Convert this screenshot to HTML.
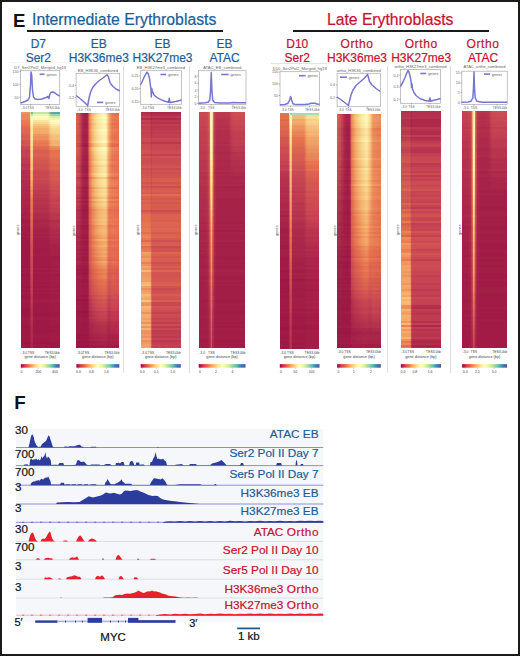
<!DOCTYPE html>
<html><head><meta charset="utf-8"><style>
html,body{margin:0;padding:0;background:#fff;overflow:hidden}
#root{position:relative;width:520px;height:656px;overflow:hidden;background:#fff;font-family:"Liberation Sans", sans-serif}
</style></head><body><div id="root">
<div style="position:absolute;top:11.76px;font-size:18.6px;line-height:18.6px;color:#111;font-weight:700;white-space:nowrap;left:13.10px;">E</div>
<div style="position:absolute;top:12.23px;font-size:15.8px;line-height:15.8px;color:#1b5d98;font-weight:400;white-space:nowrap;-webkit-text-stroke:0.2px #1b5d98;left:32.00px;">Intermediate Erythroblasts</div>
<div style="position:absolute;left:27px;top:29.8px;width:196px;height:2px;background:#1a1a1a;"></div>
<div style="position:absolute;top:12.31px;font-size:15.7px;line-height:15.7px;color:#c5112f;font-weight:400;white-space:nowrap;-webkit-text-stroke:0.2px #c5112f;left:327.00px;">Late Erythroblasts</div>
<div style="position:absolute;left:292.5px;top:29.8px;width:196px;height:2px;background:#1a1a1a;"></div>
<div style="position:absolute;top:38.24px;font-size:12px;line-height:12px;color:#1b5d98;font-weight:400;white-space:nowrap;-webkit-text-stroke:0.2px #1b5d98;left:-61.70px;width:200px;text-align:center;">D7</div>
<div style="position:absolute;top:52.04px;font-size:12px;line-height:12px;color:#1b5d98;font-weight:400;white-space:nowrap;-webkit-text-stroke:0.2px #1b5d98;left:-61.70px;width:200px;text-align:center;">Ser2</div>
<div style="position:absolute;top:38.24px;font-size:12px;line-height:12px;color:#1b5d98;font-weight:400;white-space:nowrap;-webkit-text-stroke:0.2px #1b5d98;left:-1.20px;width:200px;text-align:center;">EB</div>
<div style="position:absolute;top:52.04px;font-size:12px;line-height:12px;color:#1b5d98;font-weight:400;white-space:nowrap;-webkit-text-stroke:0.2px #1b5d98;left:-1.20px;width:200px;text-align:center;">H3K36me3</div>
<div style="position:absolute;top:38.24px;font-size:12px;line-height:12px;color:#1b5d98;font-weight:400;white-space:nowrap;-webkit-text-stroke:0.2px #1b5d98;left:62.50px;width:200px;text-align:center;">EB</div>
<div style="position:absolute;top:52.04px;font-size:12px;line-height:12px;color:#1b5d98;font-weight:400;white-space:nowrap;-webkit-text-stroke:0.2px #1b5d98;left:62.50px;width:200px;text-align:center;">H3K27me3</div>
<div style="position:absolute;top:38.24px;font-size:12px;line-height:12px;color:#1b5d98;font-weight:400;white-space:nowrap;-webkit-text-stroke:0.2px #1b5d98;left:124.60px;width:200px;text-align:center;">EB</div>
<div style="position:absolute;top:52.04px;font-size:12px;line-height:12px;color:#1b5d98;font-weight:400;white-space:nowrap;-webkit-text-stroke:0.2px #1b5d98;left:124.60px;width:200px;text-align:center;">ATAC</div>
<div style="position:absolute;top:38.24px;font-size:12px;line-height:12px;color:#c5112f;font-weight:400;white-space:nowrap;-webkit-text-stroke:0.2px #c5112f;left:197.30px;width:200px;text-align:center;">D10</div>
<div style="position:absolute;top:52.04px;font-size:12px;line-height:12px;color:#c5112f;font-weight:400;white-space:nowrap;-webkit-text-stroke:0.2px #c5112f;left:197.30px;width:200px;text-align:center;">Ser2</div>
<div style="position:absolute;top:38.24px;font-size:12px;line-height:12px;color:#c5112f;font-weight:400;white-space:nowrap;letter-spacing:0.6px;-webkit-text-stroke:0.2px #c5112f;left:257.00px;width:200px;text-align:center;">Ortho</div>
<div style="position:absolute;top:52.04px;font-size:12px;line-height:12px;color:#c5112f;font-weight:400;white-space:nowrap;-webkit-text-stroke:0.2px #c5112f;left:257.00px;width:200px;text-align:center;">H3K36me3</div>
<div style="position:absolute;top:38.24px;font-size:12px;line-height:12px;color:#c5112f;font-weight:400;white-space:nowrap;letter-spacing:0.6px;-webkit-text-stroke:0.2px #c5112f;left:321.20px;width:200px;text-align:center;">Ortho</div>
<div style="position:absolute;top:52.04px;font-size:12px;line-height:12px;color:#c5112f;font-weight:400;white-space:nowrap;-webkit-text-stroke:0.2px #c5112f;left:321.20px;width:200px;text-align:center;">H3K27me3</div>
<div style="position:absolute;top:38.24px;font-size:12px;line-height:12px;color:#c5112f;font-weight:400;white-space:nowrap;letter-spacing:0.6px;-webkit-text-stroke:0.2px #c5112f;left:383.00px;width:200px;text-align:center;">Ortho</div>
<div style="position:absolute;top:52.04px;font-size:12px;line-height:12px;color:#c5112f;font-weight:400;white-space:nowrap;-webkit-text-stroke:0.2px #c5112f;left:383.00px;width:200px;text-align:center;">ATAC</div>
<div style="position:absolute;left:122.5px;top:65.5px;width:1px;height:307px;background:#dedede;"></div>
<div style="position:absolute;left:188.8px;top:65.5px;width:1px;height:307px;background:#dedede;"></div>
<div style="position:absolute;left:386.5px;top:65.5px;width:1px;height:307px;background:#dedede;"></div>
<div style="position:absolute;left:450.2px;top:65.5px;width:1px;height:307px;background:#dedede;"></div>
<div style="position:absolute;left:20.8px;top:111.5px;width:38.9px;height:236.8px;overflow:hidden">
<div style="height:2px;background:linear-gradient(90deg,#ee945f 0px,#ee945f 8.6px,#f4af6d 9px,#fae199 9.2px,#b9dea8 9.6px,#6dbba5 10.2px,#6dbba5 11.2px,#7bc3a6 11.6px,#a6d6a8 12px,#b9dea8 12.2px,#c6e4a6 12.6px,#c6e4a6 27px,#5eaca9 30px,#5aa8aa 33px,#5aa8aa 38.9px)"></div>
<div style="height:2px;background:linear-gradient(90deg,#eb8859 0px,#eb8859 8.6px,#ef9b63 9px,#f7c680 9.2px,#eff7b1 9.6px,#bfe1a7 10.2px,#bfe1a7 11.2px,#c8e5a6 11.6px,#ddefa4 12px,#e6f3a3 12.2px,#eef6ae 12.6px,#eef6ae 27px,#a1d4a8 30px,#9cd2a8 33px,#9cd2a8 38.9px)"></div>
<div style="height:2px;background:linear-gradient(90deg,#eb8859 0px,#eb8859 8.6px,#ee9761 9px,#f5ba77 9.2px,#fefcc4 9.6px,#eef7b0 10.2px,#eef7b0 11.2px,#f0f8b2 11.6px,#f7fbbc 12px,#fafcc1 12.2px,#fcfdc3 12.6px,#fcfdc3 27px,#dbeea4 30px,#d9eda4 33px,#d9eda4 38.9px)"></div>
<div style="height:2px;background:linear-gradient(90deg,#eb8859 0px,#eb8859 8.6px,#ee945f 9px,#f5b773 9.2px,#fdf5b9 9.6px,#f5faba 10.2px,#f5faba 11.2px,#f8fbbe 11.6px,#fefcc4 12px,#fdf9be 12.2px,#fdf5b9 12.6px,#fdf5b9 27px,#eef7b0 30px,#eef6ae 33px,#eef6ae 38.9px)"></div>
<div style="height:2px;background:linear-gradient(90deg,#e87c53 0px,#e87c53 8.6px,#eb8859 9px,#f2a869 9.2px,#fbe9a6 9.6px,#fefcc4 10.2px,#fefcc4 11.2px,#fdf9be 11.6px,#fcedac 12px,#fbe8a4 12.2px,#fae59e 12.6px,#fae59e 27px,#fdfdc5 30px,#fcfdc3 33px,#fcfdc3 38.9px)"></div>
<div style="height:2px;background:linear-gradient(90deg,#e87952 0px,#e87952 8.6px,#ea8558 9px,#f2a568 9.2px,#fbe6a0 9.6px,#fdf7bd 10.2px,#fdf7bd 11.2px,#fdf4b7 11.6px,#fbe6a0 12px,#f9de95 12.2px,#f9d78f 12.6px,#f9d78f 27px,#fdf5b9 30px,#fdf6bb 33px,#fdf6bb 38.9px)"></div>
<div style="height:2px;background:linear-gradient(90deg,#e7744f 0px,#e7744f 8.6px,#e97e54 9px,#f09e64 9.2px,#fae097 9.6px,#fcf2b3 10.2px,#fcf2b3 11.2px,#fbecaa 11.6px,#f9d890 12px,#f7cd87 12.2px,#f6c47f 12.6px,#f6c47f 27px,#fbe8a4 30px,#fbe9a6 33px,#fbe9a6 38.9px)"></div>
<div style="height:2px;background:linear-gradient(90deg,#e26d4e 0px,#e26d4e 8.6px,#e77750 9px,#ee945f 9.2px,#f9d78f 9.6px,#fbecaa 10.2px,#fbecaa 11.2px,#fbe6a0 11.6px,#f7cd87 12px,#f6c07c 12.2px,#f5b773 12.6px,#f5b773 27px,#f9de95 30px,#fae097 33px,#fae097 38.9px)"></div>
<div style="height:2px;background:linear-gradient(90deg,#df674f 0px,#df674f 8.6px,#e5704e 9px,#ec8d5c 9.2px,#f8d18a 9.6px,#fbe8a4 10.2px,#fbe8a4 11.2px,#fae29b 11.6px,#f7c680 12px,#f5b975 12.2px,#f3ac6c 12.6px,#f3ac6c 27px,#f8d58d 30px,#f9d78f 33px,#f9d78f 38.9px)"></div>
<div style="height:2px;background:linear-gradient(90deg,#df674f 0px,#df674f 8.6px,#e5704e 9px,#ed8f5d 9.2px,#f9d78f 9.6px,#fbecaa 10.2px,#fbecaa 11.2px,#fae59e 11.6px,#f7c882 12px,#f5b975 12.2px,#f3ac6c 12.6px,#f3ac6c 27px,#f8d58d 30px,#f8d58d 38.9px)"></div>
<div style="height:2px;background:linear-gradient(90deg,#dd664f 0px,#dd664f 8.6px,#e5704e 9px,#ec8d5c 9.2px,#f9d78f 9.6px,#fcedac 10.2px,#fcedac 11.2px,#fbe6a0 11.6px,#f7c680 12px,#f5b572 12.2px,#f2a869 12.6px,#f2a869 27px,#f8cf88 30px,#f8d18a 33px,#f8d18a 38.9px)"></div>
<div style="height:2px;background:linear-gradient(90deg,#d85e50 0px,#d85e50 8.6px,#df674f 9px,#ea8357 9.2px,#f7cd87 9.6px,#fbe7a2 10.2px,#fbe7a2 11.2px,#f9de95 11.6px,#f5ba77 12px,#f2a869 12.2px,#ee9761 12.6px,#ee9761 27px,#f6c27d 30px,#f6c47f 33px,#f6c47f 38.9px)"></div>
<div style="height:2px;background:linear-gradient(90deg,#d75d50 0px,#d75d50 8.6px,#dd664f 9px,#e98155 9.2px,#f7cb85 9.6px,#fbe7a2 10.2px,#fbe7a2 11.2px,#f9de95 11.6px,#f5b773 12px,#f0a066 12.2px,#ed8f5d 12.6px,#ed8f5d 27px,#f5bc78 30px,#f6be7a 33px,#f6be7a 38.9px)"></div>
<div style="height:2px;background:linear-gradient(90deg,#d85e50 0px,#d85e50 8.6px,#df674f 9px,#ea8357 9.2px,#f8d18a 9.6px,#fbecaa 10.2px,#fbecaa 11.2px,#fae29b 11.6px,#f5ba77 12px,#f1a367 12.2px,#ed8f5d 12.6px,#ed8f5d 27px,#f6be7a 30px,#f6c07c 33px,#f6c07c 38.9px)"></div>
<div style="height:2px;background:linear-gradient(90deg,#d35751 0px,#d35751 8.6px,#da6050 9px,#e87952 9.2px,#f7c680 9.6px,#fae39c 10.2px,#fae39c 11.2px,#f9d890 11.6px,#f3ac6c 12px,#ed925e 12.2px,#e98155 12.6px,#e98155 27px,#f4b16f 30px,#f4b370 33px,#f4b370 38.9px)"></div>
<div style="height:2px;background:linear-gradient(90deg,#d15451 0px,#d15451 8.6px,#d75d50 9px,#e7744f 9.2px,#f6c47f 9.6px,#fae29b 10.2px,#fae29b 11.2px,#f8d58d 11.6px,#f2a869 12px,#ec8a5a 12.2px,#e77750 12.6px,#e77750 27px,#f3ac6c 30px,#f4af6d 33px,#f4af6d 38.9px)"></div>
<div style="height:2px;background:linear-gradient(90deg,#d25651 0px,#d25651 8.6px,#da6050 9px,#e87c53 9.2px,#f7cd87 9.6px,#fbe9a6 10.2px,#fbe9a6 11.2px,#fae097 11.6px,#f3ac6c 12px,#ed8f5d 12.2px,#e87952 12.6px,#e87952 27px,#f4b16f 30px,#f4b370 33px,#f4b370 38.9px)"></div>
<div style="height:2px;background:linear-gradient(90deg,#ca4953 0px,#ca4953 8.6px,#d15451 9px,#e16b4f 9.2px,#f5ba77 9.6px,#f9dc94 10.2px,#f9dc94 11.2px,#f7cb85 11.6px,#ee9761 12px,#e87952 12.2px,#e0694f 12.6px,#e0694f 27px,#ec8d5c 30px,#ed8f5d 33px,#ed8f5d 38.9px)"></div>
<div style="height:2px;background:linear-gradient(90deg,#c84753 0px,#c84753 8.6px,#d05252 9px,#e16b4f 9.2px,#f6c07c 9.6px,#fae29b 10.2px,#fae29b 11.2px,#f8d38c 11.6px,#ef9b63 12px,#e87c53 12.2px,#df674f 12.6px,#df674f 27px,#ea8357 30px,#ea8357 38.9px)"></div>
<div style="height:2px;background:linear-gradient(90deg,#c13f51 0px,#c13f51 8.6px,#ca4953 9px,#db6250 9.2px,#f4b370 9.6px,#f8d58d 10.2px,#f8d58d 11.2px,#f6c47f 11.6px,#ec8a5a 12px,#e46e4e 12.2px,#d85e50 12.6px,#d85e50 27px,#e46e4e 30px,#e5704e 33px,#e5704e 38.9px)"></div>
<div style="height:2px;background:linear-gradient(90deg,#c34152 0px,#c34152 8.6px,#cb4b52 9px,#dc6450 9.2px,#f5b773 9.6px,#f9d890 10.2px,#f9d890 11.2px,#f7c882 11.6px,#ec8d5c 12px,#e46e4e 12.2px,#d85e50 12.6px,#d85e50 27px,#e5704e 30px,#e6724e 33px,#e6724e 38.9px)"></div>
<div style="height:2px;background:linear-gradient(90deg,#c54353 0px,#c54353 8.6px,#cc4d52 9px,#df674f 9.2px,#f5ba77 9.6px,#f9de95 10.2px,#f9de95 11.2px,#f7cd87 11.6px,#ed925e 12px,#e6724e 12.2px,#db6250 12.6px,#db6250 27px,#e7744f 30px,#e7744f 38.9px)"></div>
<div style="height:2px;background:linear-gradient(90deg,#c34152 0px,#c34152 8.6px,#cb4b52 9px,#dc6450 9.2px,#f5b773 9.6px,#f9da92 10.2px,#f9da92 11.2px,#f7c984 11.6px,#ec8d5c 12px,#e46e4e 12.2px,#d85e50 12.6px,#d85e50 27px,#e5704e 30px,#e6724e 33px,#e6724e 38.9px)"></div>
<div style="height:2px;background:linear-gradient(90deg,#bd3a50 0px,#bd3a50 8.6px,#c84753 9px,#d85e50 9.2px,#f3ac6c 9.6px,#f8cf88 10.2px,#f8cf88 11.2px,#f6be7a 11.6px,#ea8357 12px,#df674f 12.2px,#d55951 12.6px,#d55951 27px,#e0694f 30px,#e16b4f 33px,#e16b4f 38.9px)"></div>
<div style="height:2px;background:linear-gradient(90deg,#bd3a50 0px,#bd3a50 8.6px,#c74553 9px,#d75d50 9.2px,#f3aa6b 9.6px,#f7cd87 10.2px,#f7cd87 11.2px,#f5bc78 11.6px,#e98155 12px,#df674f 12.2px,#d35751 12.6px,#d35751 27px,#e0694f 30px,#e0694f 38.9px)"></div>
<div style="height:2px;background:linear-gradient(90deg,#bd3a50 0px,#bd3a50 8.6px,#c74553 9px,#d75d50 9.2px,#f3aa6b 9.6px,#f7cd87 10.2px,#f7cd87 11.2px,#f5bc78 11.6px,#e98155 12px,#dd664f 12.2px,#d25651 12.6px,#d25651 27px,#df674f 30px,#e0694f 33px,#e0694f 38.9px)"></div>
<div style="height:2px;background:linear-gradient(90deg,#b8354e 0px,#b8354e 8.6px,#c34152 9px,#d55951 9.2px,#f0a066 9.6px,#f6c47f 10.2px,#f6c47f 11.2px,#f5b572 11.6px,#e77750 12px,#da6050 12.2px,#d05252 12.6px,#d05252 27px,#db6250 30px,#dc6450 33px,#dc6450 38.9px)"></div>
<div style="height:2px;background:linear-gradient(90deg,#bb384f 0px,#bb384f 8.6px,#c54353 9px,#d65b51 9.2px,#f2a568 9.6px,#f7c984 10.2px,#f7c984 11.2px,#f5b975 11.6px,#e87c53 12px,#db6250 12.2px,#d15451 12.6px,#d15451 27px,#dc6450 30px,#dd664f 33px,#dd664f 38.9px)"></div>
<div style="height:2px;background:linear-gradient(90deg,#bb384f 0px,#bb384f 8.6px,#c74553 9px,#d75d50 9.2px,#f3aa6b 9.6px,#f7cd87 10.2px,#f7cd87 11.2px,#f5bc78 11.6px,#e97e54 12px,#dc6450 12.2px,#d15451 12.6px,#d15451 27px,#dd664f 30px,#df674f 33px,#df674f 38.9px)"></div>
<div style="height:2px;background:linear-gradient(90deg,#b4314d 0px,#b4314d 8.6px,#bf3c51 9px,#d15451 9.2px,#ee9761 9.6px,#f5ba77 10.2px,#f5ba77 11.2px,#f3aa6b 11.6px,#e46e4e 12px,#d65b51 12.2px,#cb4b52 12.6px,#cb4b52 27px,#d75d50 30px,#d75d50 38.9px)"></div>
<div style="height:2px;background:linear-gradient(90deg,#b22e4c 0px,#b22e4c 8.6px,#bb384f 9px,#cf5052 9.2px,#ed925e 9.6px,#f5b773 10.2px,#f5b773 11.2px,#f1a367 11.6px,#e16b4f 12px,#d35751 12.2px,#c84753 12.6px,#c84753 27px,#d55951 30px,#d55951 38.9px)"></div>
<div style="height:2px;background:linear-gradient(90deg,#b4314d 0px,#b4314d 8.6px,#bf3c51 9px,#d15451 9.2px,#ee9761 9.6px,#f5bc78 10.2px,#f5bc78 11.2px,#f3aa6b 11.6px,#e46e4e 12px,#d55951 12.2px,#ca4953 12.6px,#ca4953 27px,#d65b51 30px,#d75d50 33px,#d75d50 38.9px)"></div>
<div style="height:2px;background:linear-gradient(90deg,#b22e4c 0px,#b22e4c 8.6px,#bd3a50 9px,#d05252 9.2px,#ed925e 9.6px,#f5b773 10.2px,#f5b773 11.2px,#f2a568 11.6px,#e16b4f 12px,#d25651 12.2px,#c84753 12.6px,#c84753 27px,#d55951 30px,#d55951 38.9px)"></div>
<div style="height:2px;background:linear-gradient(90deg,#b4314d 0px,#b4314d 8.6px,#bf3c51 9px,#d15451 9.2px,#ee9761 9.6px,#f5ba77 10.2px,#f5ba77 11.2px,#f2a869 11.6px,#e26d4e 12px,#d55951 12.2px,#ca4953 12.6px,#ca4953 27px,#d65b51 30px,#d65b51 38.9px)"></div>
<div style="height:2px;background:linear-gradient(90deg,#b02c4c 0px,#b02c4c 8.6px,#bb384f 9px,#cd4e52 9.2px,#ec8a5a 9.6px,#f4af6d 10.2px,#f4af6d 11.2px,#ef9b63 11.6px,#df674f 12px,#d05252 12.2px,#c74553 12.6px,#c74553 27px,#d25651 30px,#d25651 38.9px)"></div>
<div style="height:2px;background:linear-gradient(90deg,#b02c4c 0px,#b02c4c 8.6px,#b8354e 9px,#cc4d52 9.2px,#ea8558 9.6px,#f3aa6b 10.2px,#f3aa6b 11.2px,#ee9761 11.6px,#dc6450 12px,#d05252 12.2px,#c54353 12.6px,#c54353 27px,#d15451 30px,#d15451 38.9px)"></div>
<div style="height:2px;background:linear-gradient(90deg,#b02c4c 0px,#b02c4c 8.6px,#b8354e 9px,#cb4b52 9.2px,#e98155 9.6px,#f2a568 10.2px,#f2a568 11.2px,#ed925e 11.6px,#db6250 12px,#cf5052 12.2px,#c34152 12.6px,#c34152 27px,#cf5052 30px,#d05252 33px,#d05252 38.9px)"></div>
<div style="height:2px;background:linear-gradient(90deg,#ae2a4b 0px,#ae2a4b 8.6px,#b6334e 9px,#ca4953 9.2px,#e87c53 9.6px,#ef9b63 10.2px,#ef9b63 11.2px,#ec8a5a 11.6px,#d85e50 12px,#cc4d52 12.2px,#c13f51 12.6px,#c13f51 27px,#cd4e52 30px,#cd4e52 38.9px)"></div>
<div style="height:2px;background:linear-gradient(90deg,#ae2a4b 0px,#ae2a4b 8.6px,#b8354e 9px,#cb4b52 9.2px,#e87c53 9.6px,#f09e64 10.2px,#f09e64 11.2px,#ec8d5c 11.6px,#da6050 12px,#cc4d52 12.2px,#c13f51 12.6px,#c13f51 27px,#cd4e52 30px,#cf5052 33px,#cf5052 38.9px)"></div>
<div style="height:2px;background:linear-gradient(90deg,#ac274a 0px,#ac274a 8.6px,#b4314d 9px,#c74553 9.2px,#e6724e 9.6px,#ed925e 10.2px,#ed925e 11.2px,#e98155 11.6px,#d55951 12px,#ca4953 12.2px,#bd3a50 12.6px,#bd3a50 27px,#ca4953 30px,#ca4953 38.9px)"></div>
<div style="height:2px;background:linear-gradient(90deg,#ae2a4b 0px,#ae2a4b 8.6px,#b6334e 9px,#ca4953 9.2px,#e77750 9.6px,#ee9761 10.2px,#ee9761 11.2px,#ea8558 11.6px,#d75d50 12px,#cb4b52 12.2px,#bf3c51 12.6px,#bf3c51 27px,#cb4b52 30px,#cc4d52 33px,#cc4d52 38.9px)"></div>
<div style="height:2px;background:linear-gradient(90deg,#ac274a 0px,#ac274a 8.6px,#b4314d 9px,#c74553 9.2px,#e5704e 9.6px,#ec8d5c 10.2px,#ec8d5c 11.2px,#e87c53 11.6px,#d35751 12px,#c84753 12.2px,#bb384f 12.6px,#bb384f 27px,#c84753 30px,#ca4953 33px,#ca4953 38.9px)"></div>
<div style="height:2px;background:linear-gradient(90deg,#ac274a 0px,#ac274a 8.6px,#b4314d 9px,#c54353 9.2px,#e46e4e 9.6px,#ec8a5a 10.2px,#ec8a5a 11.2px,#e87952 11.6px,#d25651 12px,#c74553 12.2px,#bb384f 12.6px,#bb384f 27px,#c84753 30px,#c84753 38.9px)"></div>
<div style="height:2px;background:linear-gradient(90deg,#a92549 0px,#a92549 8.6px,#b02c4c 9px,#c34152 9.2px,#e0694f 9.6px,#e98155 10.2px,#e98155 11.2px,#e6724e 11.6px,#d05252 12px,#c34152 12.2px,#b8354e 12.6px,#b8354e 27px,#c54353 30px,#c54353 38.9px)"></div>
<div style="height:2px;background:linear-gradient(90deg,#a92549 0px,#a92549 8.6px,#b02c4c 9px,#c13f51 9.2px,#dd664f 9.6px,#e87952 10.2px,#e87952 11.2px,#e46e4e 11.6px,#cd4e52 12px,#c13f51 12.2px,#b6334e 12.6px,#b6334e 27px,#c34152 30px,#c34152 38.9px)"></div>
<div style="height:2px;background:linear-gradient(90deg,#ac274a 0px,#ac274a 8.6px,#b22e4c 9px,#c54353 9.2px,#e0694f 9.6px,#ea8357 10.2px,#ea8357 11.2px,#e7744f 11.6px,#d15451 12px,#c54353 12.2px,#b8354e 12.6px,#b8354e 27px,#c54353 30px,#c74553 33px,#c74553 38.9px)"></div>
<div style="height:2px;background:linear-gradient(90deg,#a92549 0px,#a92549 8.6px,#b02c4c 9px,#c13f51 9.2px,#dd664f 9.6px,#e87c53 10.2px,#e87c53 11.2px,#e46e4e 11.6px,#cf5052 12px,#c13f51 12.2px,#b6334e 12.6px,#b6334e 27px,#c13f51 30px,#c34152 33px,#c34152 38.9px)"></div>
<div style="height:2px;background:linear-gradient(90deg,#a92549 0px,#a92549 8.6px,#b02c4c 9px,#c13f51 9.2px,#dd664f 9.6px,#e87c53 10.2px,#e87c53 11.2px,#e46e4e 11.6px,#cf5052 12px,#c34152 12.2px,#b6334e 12.6px,#b6334e 27px,#c13f51 30px,#c34152 33px,#c34152 38.9px)"></div>
<div style="height:2px;background:linear-gradient(90deg,#a72249 0px,#a72249 8.6px,#ae2a4b 9px,#bf3c51 9.2px,#db6250 9.6px,#e7744f 10.2px,#e7744f 11.2px,#e16b4f 11.6px,#cc4d52 12px,#bf3c51 12.2px,#b22e4c 12.6px,#b22e4c 27px,#bf3c51 30px,#bf3c51 38.9px)"></div>
<div style="height:2px;background:linear-gradient(90deg,#a92549 0px,#a92549 8.6px,#b22e4c 9px,#c13f51 9.2px,#dd664f 9.6px,#e87c53 10.2px,#e87c53 11.2px,#e46e4e 11.6px,#cf5052 12px,#c34152 12.2px,#b6334e 12.6px,#b6334e 27px,#c13f51 30px,#c13f51 38.9px)"></div>
<div style="height:2px;background:linear-gradient(90deg,#a72249 0px,#a72249 8.6px,#ae2a4b 9px,#bd3a50 9.2px,#da6050 9.6px,#e6724e 10.2px,#e6724e 11.2px,#df674f 11.6px,#cb4b52 12px,#bd3a50 12.2px,#b22e4c 12.6px,#b22e4c 27px,#bd3a50 30px,#bd3a50 38.9px)"></div>
<div style="height:2px;background:linear-gradient(90deg,#a52048 0px,#a52048 8.6px,#ac274a 9px,#bb384f 9.2px,#d65b51 9.6px,#e26d4e 10.2px,#e26d4e 11.2px,#dc6450 11.6px,#c84753 12px,#b8354e 12.2px,#ae2a4b 12.6px,#ae2a4b 27px,#b8354e 30px,#b8354e 38.9px)"></div>
<div style="height:2px;background:linear-gradient(90deg,#a72249 0px,#a72249 8.6px,#ac274a 9px,#bd3a50 9.2px,#d85e50 9.6px,#e5704e 10.2px,#e5704e 11.2px,#dd664f 11.6px,#ca4953 12px,#bb384f 12.2px,#b02c4c 12.6px,#b02c4c 27px,#bb384f 30px,#bb384f 38.9px)"></div>
<div style="height:2px;background:linear-gradient(90deg,#a52048 0px,#a52048 8.6px,#ac274a 9px,#bb384f 9.2px,#d75d50 9.6px,#e26d4e 10.2px,#e26d4e 11.2px,#dc6450 11.6px,#c84753 12px,#b8354e 12.2px,#ae2a4b 12.6px,#ae2a4b 27px,#b8354e 30px,#b8354e 38.9px)"></div>
<div style="height:2px;background:linear-gradient(90deg,#a11b46 0px,#a11b46 8.6px,#a72249 9px,#b4314d 9.2px,#d25651 9.6px,#dd664f 10.2px,#dd664f 11.2px,#d75d50 11.6px,#c34152 12px,#b4314d 12.2px,#a92549 12.6px,#a92549 27px,#b22e4c 30px,#b22e4c 38.9px)"></div>
<div style="height:2px;background:linear-gradient(90deg,#a31e47 0px,#a31e47 8.6px,#a92549 9px,#b8354e 9.2px,#d35751 9.6px,#e0694f 10.2px,#e0694f 11.2px,#d85e50 11.6px,#c54353 12px,#b6334e 12.2px,#ac274a 12.6px,#ac274a 27px,#b4314d 30px,#b4314d 38.9px)"></div>
<div style="height:2px;background:linear-gradient(90deg,#a52048 0px,#a52048 8.6px,#a92549 9px,#b8354e 9.2px,#d55951 9.6px,#e0694f 10.2px,#e0694f 11.2px,#da6050 11.6px,#c54353 12px,#b6334e 12.2px,#ac274a 12.6px,#ac274a 27px,#b4314d 30px,#b4314d 38.9px)"></div>
<div style="height:2px;background:linear-gradient(90deg,#a31e47 0px,#a31e47 8.6px,#a92549 9px,#b8354e 9.2px,#d35751 9.6px,#df674f 10.2px,#df674f 11.2px,#d85e50 11.6px,#c54353 12px,#b4314d 12.2px,#a92549 12.6px,#a92549 27px,#b22e4c 30px,#b4314d 33px,#b4314d 38.9px)"></div>
<div style="height:2px;background:linear-gradient(90deg,#a11b46 0px,#a11b46 8.6px,#a72249 9px,#b4314d 9.2px,#d15451 9.6px,#dc6450 10.2px,#dc6450 11.2px,#d65b51 11.6px,#c13f51 12px,#b22e4c 12.2px,#a72249 12.6px,#a72249 27px,#b02c4c 30px,#b02c4c 38.9px)"></div>
<div style="height:2px;background:linear-gradient(90deg,#a11b46 0px,#a11b46 8.6px,#a52048 9px,#b22e4c 9.2px,#cf5052 9.6px,#da6050 10.2px,#da6050 11.2px,#d35751 11.6px,#bf3c51 12px,#b02c4c 12.2px,#a52048 12.6px,#a52048 27px,#ae2a4b 30px,#ae2a4b 38.9px)"></div>
<div style="height:2px;background:linear-gradient(90deg,#a31e47 0px,#a31e47 8.6px,#a72249 9px,#b4314d 9.2px,#d05252 9.6px,#db6250 10.2px,#db6250 11.2px,#d55951 11.6px,#c13f51 12px,#b22e4c 12.2px,#a72249 12.6px,#a72249 27px,#ae2a4b 30px,#b02c4c 33px,#b02c4c 38.9px)"></div>
<div style="height:2px;background:linear-gradient(90deg,#a11b46 0px,#a11b46 8.6px,#a52048 9px,#b22e4c 9.2px,#cd4e52 9.6px,#d75d50 10.2px,#d75d50 11.2px,#d15451 11.6px,#bd3a50 12px,#ae2a4b 12.2px,#a52048 12.6px,#a52048 27px,#ac274a 30px,#ac274a 38.9px)"></div>
<div style="height:2px;background:linear-gradient(90deg,#a31e47 0px,#a31e47 8.6px,#a72249 9px,#b4314d 9.2px,#d05252 9.6px,#da6050 10.2px,#da6050 11.2px,#d35751 11.6px,#bf3c51 12px,#b22e4c 12.2px,#a72249 12.6px,#a72249 27px,#ae2a4b 30px,#ae2a4b 38.9px)"></div>
<div style="height:2px;background:linear-gradient(90deg,#a11b46 0px,#a11b46 8.6px,#a52048 9px,#b22e4c 9.2px,#cc4d52 9.6px,#d65b51 10.2px,#d65b51 11.2px,#d15451 11.6px,#bb384f 12px,#ae2a4b 12.2px,#a52048 12.6px,#a52048 27px,#ac274a 30px,#ac274a 38.9px)"></div>
<div style="height:2px;background:linear-gradient(90deg,#9f1946 0px,#9f1946 8.6px,#a52048 9px,#b02c4c 9.2px,#cb4b52 9.6px,#d55951 10.2px,#d55951 11.2px,#cf5052 11.6px,#bb384f 12px,#ac274a 12.2px,#a31e47 12.6px,#a31e47 27px,#a92549 30px,#a92549 38.9px)"></div>
<div style="height:2px;background:linear-gradient(90deg,#9f1946 0px,#9f1946 8.6px,#a52048 9px,#b02c4c 9.2px,#cb4b52 9.6px,#d35751 10.2px,#d35751 11.2px,#cf5052 11.6px,#b8354e 12px,#ac274a 12.2px,#a31e47 12.6px,#a31e47 27px,#a92549 30px,#a92549 38.9px)"></div>
<div style="height:2px;background:linear-gradient(90deg,#9f1946 0px,#9f1946 8.6px,#a31e47 9px,#ae2a4b 9.2px,#ca4953 9.6px,#d25651 10.2px,#d25651 11.2px,#cd4e52 11.6px,#b8354e 12px,#ac274a 12.2px,#a31e47 12.6px,#a31e47 27px,#a72249 30px,#a72249 38.9px)"></div>
<div style="height:2px;background:linear-gradient(90deg,#9f1946 0px,#9f1946 8.6px,#a31e47 9px,#ae2a4b 9.2px,#c84753 9.6px,#d15451 10.2px,#d15451 11.2px,#cc4d52 11.6px,#b6334e 12px,#ac274a 12.2px,#a31e47 12.6px,#a31e47 27px,#a72249 30px,#a72249 38.9px)"></div>
<div style="height:2px;background:linear-gradient(90deg,#9f1946 0px,#9f1946 8.6px,#a31e47 9px,#ae2a4b 9.2px,#c84753 9.6px,#d05252 10.2px,#d05252 11.2px,#cb4b52 11.6px,#b6334e 12px,#a92549 12.2px,#a11b46 12.6px,#a11b46 27px,#a52048 30px,#a52048 38.9px)"></div>
<div style="height:2px;background:linear-gradient(90deg,#9f1946 0px,#9f1946 8.6px,#a31e47 9px,#ae2a4b 9.2px,#c74553 9.6px,#d05252 10.2px,#d05252 11.2px,#cb4b52 11.6px,#b6334e 12px,#a92549 12.2px,#a11b46 12.6px,#a11b46 27px,#a52048 30px,#a52048 38.9px)"></div>
<div style="height:2px;background:linear-gradient(90deg,#9f1946 0px,#9f1946 8.6px,#a31e47 9px,#ae2a4b 9.2px,#c74553 9.6px,#d05252 10.2px,#d05252 11.2px,#cb4b52 11.6px,#b6334e 12px,#a92549 12.2px,#a11b46 12.6px,#a11b46 27px,#a52048 30px,#a52048 38.9px)"></div>
<div style="height:2px;background:linear-gradient(90deg,#9f1946 0px,#9f1946 8.6px,#a31e47 9px,#ae2a4b 9.2px,#c74553 9.6px,#d05252 10.2px,#d05252 11.2px,#cb4b52 11.6px,#b6334e 12px,#a92549 12.2px,#a31e47 12.6px,#a31e47 27px,#a52048 30px,#a52048 38.9px)"></div>
<div style="height:2px;background:linear-gradient(90deg,#9f1946 0px,#9f1946 8.6px,#a11b46 9px,#ac274a 9.2px,#c34152 9.6px,#cc4d52 10.2px,#cc4d52 11.2px,#c84753 11.6px,#b22e4c 12px,#a72249 12.2px,#a11b46 12.6px,#a11b46 27px,#a31e47 30px,#a31e47 38.9px)"></div>
<div style="height:2px;background:linear-gradient(90deg,#9f1946 0px,#9f1946 8.6px,#a11b46 9px,#ac274a 9.2px,#c34152 9.6px,#cc4d52 10.2px,#cc4d52 11.2px,#c74553 11.6px,#b22e4c 12px,#a72249 12.2px,#a11b46 12.6px,#a11b46 27px,#a31e47 30px,#a31e47 38.9px)"></div>
<div style="height:2px;background:linear-gradient(90deg,#9f1946 0px,#9f1946 8.6px,#a31e47 9px,#ac274a 9.2px,#c34152 9.6px,#cc4d52 10.2px,#cc4d52 11.2px,#c84753 11.6px,#b22e4c 12px,#a72249 12.2px,#a11b46 12.6px,#a11b46 27px,#a31e47 30px,#a31e47 38.9px)"></div>
<div style="height:2px;background:linear-gradient(90deg,#9f1946 0px,#9f1946 8.6px,#a31e47 9px,#ac274a 9.2px,#c34152 9.6px,#cc4d52 10.2px,#cc4d52 11.2px,#c84753 11.6px,#b22e4c 12px,#a92549 12.2px,#a11b46 12.6px,#a11b46 27px,#a31e47 30px,#a52048 33px,#a52048 38.9px)"></div>
<div style="height:2px;background:linear-gradient(90deg,#9f1946 0px,#9f1946 8.6px,#a31e47 9px,#ac274a 9.2px,#c34152 9.6px,#cb4b52 10.2px,#cb4b52 11.2px,#c74553 11.6px,#b22e4c 12px,#a72249 12.2px,#a11b46 12.6px,#a11b46 27px,#a31e47 30px,#a52048 33px,#a52048 38.9px)"></div>
<div style="height:2px;background:linear-gradient(90deg,#9d1745 0px,#9d1745 8.6px,#a11b46 9px,#a72249 9.2px,#bf3c51 9.6px,#c84753 10.2px,#c84753 11.2px,#c34152 11.6px,#ae2a4b 12px,#a52048 12.2px,#9f1946 12.6px,#9f1946 27px,#a11b46 30px,#a11b46 38.9px)"></div>
<div style="height:2px;background:linear-gradient(90deg,#a11b46 0px,#a11b46 8.6px,#a52048 9px,#ae2a4b 9.2px,#c34152 9.6px,#cc4d52 10.2px,#cc4d52 11.2px,#c84753 11.6px,#b4314d 12px,#a92549 12.2px,#a31e47 12.6px,#a31e47 27px,#a52048 30px,#a52048 38.9px)"></div>
<div style="height:2px;background:linear-gradient(90deg,#9f1946 0px,#9f1946 8.6px,#a11b46 9px,#a92549 9.2px,#bf3c51 9.6px,#c84753 10.2px,#c84753 11.2px,#c34152 11.6px,#b02c4c 12px,#a52048 12.2px,#9f1946 12.6px,#9f1946 27px,#a31e47 30px,#a31e47 38.9px)"></div>
<div style="height:2px;background:linear-gradient(90deg,#a11b46 0px,#a11b46 8.6px,#a52048 9px,#ac274a 9.2px,#c34152 9.6px,#cb4b52 10.2px,#cb4b52 11.2px,#c74553 11.6px,#b22e4c 12px,#a92549 12.2px,#a31e47 12.6px,#a31e47 27px,#a52048 30px,#a52048 38.9px)"></div>
<div style="height:2px;background:linear-gradient(90deg,#9d1745 0px,#9d1745 8.6px,#a11b46 9px,#a72249 9.2px,#bd3a50 9.6px,#c74553 10.2px,#c74553 11.2px,#c13f51 11.6px,#ae2a4b 12px,#a52048 12.2px,#9f1946 12.6px,#9f1946 27px,#a11b46 30px,#a11b46 38.9px)"></div>
<div style="height:2px;background:linear-gradient(90deg,#9f1946 0px,#9f1946 8.6px,#a11b46 9px,#a72249 9.2px,#bd3a50 9.6px,#c54353 10.2px,#c54353 11.2px,#c13f51 11.6px,#ae2a4b 12px,#a52048 12.2px,#9f1946 12.6px,#9f1946 27px,#a31e47 30px,#a31e47 38.9px)"></div>
<div style="height:2px;background:linear-gradient(90deg,#9f1946 0px,#9f1946 8.6px,#a11b46 9px,#a92549 9.2px,#bd3a50 9.6px,#c74553 10.2px,#c74553 11.2px,#c13f51 11.6px,#ae2a4b 12px,#a52048 12.2px,#a11b46 12.6px,#a11b46 27px,#a31e47 30px,#a31e47 38.9px)"></div>
<div style="height:2px;background:linear-gradient(90deg,#9f1946 0px,#9f1946 8.6px,#a11b46 9px,#a92549 9.2px,#bb384f 9.6px,#c54353 10.2px,#c54353 11.2px,#bf3c51 11.6px,#ae2a4b 12px,#a52048 12.2px,#a11b46 12.6px,#a11b46 27px,#a31e47 30px,#a31e47 38.9px)"></div>
<div style="height:2px;background:linear-gradient(90deg,#9f1946 0px,#9f1946 8.6px,#a11b46 9px,#a72249 9.2px,#bb384f 9.6px,#c34152 10.2px,#c34152 11.2px,#bd3a50 11.6px,#ae2a4b 12px,#a52048 12.2px,#9f1946 12.6px,#9f1946 27px,#a11b46 30px,#a31e47 33px,#a31e47 38.9px)"></div>
<div style="height:2px;background:linear-gradient(90deg,#9f1946 0px,#9f1946 8.6px,#a31e47 9px,#a92549 9.2px,#bb384f 9.6px,#c54353 10.2px,#c54353 11.2px,#bf3c51 11.6px,#ae2a4b 12px,#a72249 12.2px,#a11b46 12.6px,#a11b46 27px,#a31e47 30px,#a31e47 38.9px)"></div>
<div style="height:2px;background:linear-gradient(90deg,#9d1745 0px,#9d1745 8.6px,#9f1946 9px,#a52048 9.2px,#b6334e 9.6px,#bf3c51 10.2px,#bf3c51 11.2px,#bb384f 11.6px,#a92549 12px,#a31e47 12.2px,#9f1946 12.6px,#9f1946 27px,#a11b46 30px,#a11b46 38.9px)"></div>
<div style="height:2px;background:linear-gradient(90deg,#a11b46 0px,#a11b46 8.6px,#a31e47 9px,#a92549 9.2px,#bb384f 9.6px,#c34152 10.2px,#c34152 11.2px,#bf3c51 11.6px,#ae2a4b 12px,#a72249 12.2px,#a11b46 12.6px,#a11b46 27px,#a31e47 30px,#a31e47 38.9px)"></div>
<div style="height:2px;background:linear-gradient(90deg,#9f1946 0px,#9f1946 8.6px,#a11b46 9px,#a72249 9.2px,#b6334e 9.6px,#bf3c51 10.2px,#bf3c51 11.2px,#bb384f 11.6px,#ac274a 12px,#a31e47 12.2px,#9f1946 12.6px,#9f1946 27px,#a11b46 30px,#a11b46 38.9px)"></div>
<div style="height:2px;background:linear-gradient(90deg,#a11b46 0px,#a11b46 8.6px,#a31e47 9px,#a92549 9.2px,#b8354e 9.6px,#c13f51 10.2px,#c13f51 11.2px,#bd3a50 11.6px,#ae2a4b 12px,#a72249 12.2px,#a11b46 12.6px,#a11b46 27px,#a31e47 30px,#a31e47 38.9px)"></div>
<div style="height:2px;background:linear-gradient(90deg,#9f1946 0px,#9f1946 8.6px,#a11b46 9px,#a72249 9.2px,#b6334e 9.6px,#bd3a50 10.2px,#bd3a50 11.2px,#b8354e 11.6px,#ac274a 12px,#a52048 12.2px,#9f1946 12.6px,#9f1946 27px,#a11b46 30px,#a11b46 38.9px)"></div>
<div style="height:2px;background:linear-gradient(90deg,#9d1745 0px,#9d1745 8.6px,#9f1946 9px,#a52048 9.2px,#b22e4c 9.6px,#bb384f 10.2px,#bb384f 11.2px,#b6334e 11.6px,#a92549 12px,#a31e47 12.2px,#9f1946 12.6px,#9f1946 27px,#a11b46 30px,#a11b46 38.9px)"></div>
<div style="height:2px;background:linear-gradient(90deg,#9f1946 0px,#9f1946 8.6px,#a11b46 9px,#a72249 9.2px,#b4314d 9.6px,#bd3a50 10.2px,#bd3a50 11.2px,#b8354e 11.6px,#ac274a 12px,#a52048 12.2px,#a11b46 12.6px,#a11b46 27px,#a31e47 30px,#a31e47 38.9px)"></div>
<div style="height:2px;background:linear-gradient(90deg,#a11b46 0px,#a11b46 8.6px,#a31e47 9px,#a92549 9.2px,#b6334e 9.6px,#bf3c51 10.2px,#bf3c51 11.2px,#bb384f 11.6px,#ae2a4b 12px,#a72249 12.2px,#a31e47 12.6px,#a31e47 27px,#a52048 30px,#a52048 38.9px)"></div>
<div style="height:2px;background:linear-gradient(90deg,#9f1946 0px,#9f1946 8.6px,#a11b46 9px,#a52048 9.2px,#b22e4c 9.6px,#bb384f 10.2px,#bb384f 11.2px,#b6334e 11.6px,#a92549 12px,#a31e47 12.2px,#9f1946 12.6px,#9f1946 27px,#a11b46 30px,#a11b46 38.9px)"></div>
<div style="height:2px;background:linear-gradient(90deg,#9f1946 0px,#9f1946 8.6px,#a11b46 9px,#a52048 9.2px,#b22e4c 9.6px,#b8354e 10.2px,#b8354e 11.2px,#b6334e 11.6px,#a92549 12px,#a31e47 12.2px,#9f1946 12.6px,#9f1946 27px,#a11b46 30px,#a11b46 38.9px)"></div>
<div style="height:2px;background:linear-gradient(90deg,#9f1946 0px,#9f1946 8.6px,#a11b46 9px,#a52048 9.2px,#b22e4c 9.6px,#b8354e 10.2px,#b8354e 11.2px,#b4314d 11.6px,#a92549 12px,#a31e47 12.2px,#9f1946 12.6px,#9f1946 27px,#a11b46 30px,#a11b46 38.9px)"></div>
<div style="height:2px;background:linear-gradient(90deg,#9d1745 0px,#9d1745 8.6px,#9f1946 9px,#a31e47 9.2px,#b02c4c 9.6px,#b6334e 10.2px,#b6334e 11.2px,#b22e4c 11.6px,#a72249 12px,#a31e47 12.2px,#9f1946 12.6px,#9f1946 27px,#a11b46 30px,#a11b46 38.9px)"></div>
<div style="height:2px;background:linear-gradient(90deg,#9d1745 0px,#9d1745 8.6px,#9f1946 9px,#a31e47 9.2px,#b02c4c 9.6px,#b6334e 10.2px,#b6334e 11.2px,#b22e4c 11.6px,#a72249 12px,#a31e47 12.2px,#9f1946 12.6px,#9f1946 27px,#a11b46 30px,#a11b46 38.9px)"></div>
<div style="height:2px;background:linear-gradient(90deg,#9d1745 0px,#9d1745 8.6px,#9f1946 9px,#a31e47 9.2px,#ae2a4b 9.6px,#b4314d 10.2px,#b4314d 11.2px,#b02c4c 11.6px,#a72249 12px,#a11b46 12.2px,#9f1946 12.6px,#9f1946 38.9px)"></div>
<div style="height:2px;background:linear-gradient(90deg,#9d1745 0px,#9d1745 8.6px,#9f1946 9px,#a31e47 9.2px,#ae2a4b 9.6px,#b4314d 10.2px,#b4314d 11.2px,#b02c4c 11.6px,#a52048 12px,#a11b46 12.2px,#9d1745 12.6px,#9d1745 27px,#9f1946 30px,#9f1946 38.9px)"></div>
<div style="height:2px;background:linear-gradient(90deg,#9f1946 0px,#9f1946 8.6px,#a11b46 9px,#a52048 9.2px,#b02c4c 9.6px,#b6334e 10.2px,#b6334e 11.2px,#b22e4c 11.6px,#a72249 12px,#a31e47 12.2px,#9f1946 12.6px,#9f1946 27px,#a11b46 30px,#a11b46 38.9px)"></div>
<div style="height:2px;background:linear-gradient(90deg,#a11b46 0px,#a11b46 9px,#a52048 9.2px,#b22e4c 9.6px,#b6334e 10.2px,#b6334e 11.2px,#b4314d 11.6px,#a92549 12px,#a52048 12.2px,#a11b46 12.6px,#a11b46 27px,#a31e47 30px,#a31e47 38.9px)"></div>
<div style="height:2px;background:linear-gradient(90deg,#9f1946 0px,#9f1946 8.6px,#a11b46 9px,#a52048 9.2px,#b02c4c 9.6px,#b4314d 10.2px,#b4314d 11.2px,#b22e4c 11.6px,#a72249 12px,#a31e47 12.2px,#9f1946 12.6px,#9f1946 27px,#a11b46 30px,#a11b46 38.9px)"></div>
<div style="height:2px;background:linear-gradient(90deg,#9f1946 0px,#9f1946 8.6px,#a11b46 9px,#a52048 9.2px,#ae2a4b 9.6px,#b4314d 10.2px,#b4314d 11.2px,#b02c4c 11.6px,#a72249 12px,#a31e47 12.2px,#9f1946 12.6px,#9f1946 27px,#a11b46 30px,#a11b46 38.9px)"></div>
<div style="height:2px;background:linear-gradient(90deg,#9f1946 0px,#9f1946 8.6px,#a11b46 9px,#a31e47 9.2px,#ae2a4b 9.6px,#b22e4c 10.2px,#b22e4c 11.2px,#b02c4c 11.6px,#a72249 12px,#a31e47 12.2px,#9f1946 12.6px,#9f1946 27px,#a11b46 30px,#a11b46 38.9px)"></div>
<div style="height:2px;background:linear-gradient(90deg,#9d1745 0px,#9d1745 8.6px,#9f1946 9px,#a31e47 9.2px,#ac274a 9.6px,#b02c4c 10.2px,#b02c4c 11.2px,#ae2a4b 11.6px,#a52048 12px,#a11b46 12.2px,#9f1946 12.6px,#9f1946 38.9px)"></div>
<div style="height:2px;background:linear-gradient(90deg,#9f1946 0px,#9f1946 8.6px,#a11b46 9px,#a31e47 9.2px,#ac274a 9.6px,#b22e4c 10.2px,#b22e4c 11.2px,#ae2a4b 11.6px,#a52048 12px,#a11b46 12.2px,#9f1946 12.6px,#9f1946 27px,#a11b46 30px,#a11b46 38.9px)"></div>
<div style="height:2px;background:linear-gradient(90deg,#9f1946 0px,#9f1946 9px,#a31e47 9.2px,#ac274a 9.6px,#b02c4c 10.2px,#b02c4c 11.2px,#ae2a4b 11.6px,#a52048 12px,#a11b46 12.2px,#9f1946 12.6px,#9f1946 38.9px)"></div>
<div style="height:2px;background:linear-gradient(90deg,#9f1946 0px,#9f1946 8.6px,#a11b46 9px,#a31e47 9.2px,#ac274a 9.6px,#b22e4c 10.2px,#b22e4c 11.2px,#ae2a4b 11.6px,#a52048 12px,#a31e47 12.2px,#9f1946 12.6px,#9f1946 27px,#a11b46 30px,#a11b46 38.9px)"></div>
<div style="height:2px;background:linear-gradient(90deg,#9f1946 0px,#9f1946 8.6px,#a11b46 9px,#a31e47 9.2px,#ac274a 9.6px,#b02c4c 10.2px,#b02c4c 11.2px,#ae2a4b 11.6px,#a52048 12px,#a31e47 12.2px,#a11b46 12.6px,#a11b46 38.9px)"></div>
<div style="height:2px;background:linear-gradient(90deg,#9f1946 0px,#9f1946 8.6px,#a11b46 9px,#a31e47 9.2px,#ac274a 9.6px,#b02c4c 10.2px,#b02c4c 11.2px,#ae2a4b 11.6px,#a52048 12px,#a31e47 12.2px,#a11b46 12.6px,#a11b46 38.9px)"></div>
<div style="height:2px;background:linear-gradient(90deg,#9f1946 0px,#9f1946 9px,#a31e47 9.2px,#a92549 9.6px,#ae2a4b 10.2px,#ae2a4b 11.2px,#ac274a 11.6px,#a52048 12px,#a11b46 12.2px,#9f1946 12.6px,#9f1946 27px,#a11b46 30px,#a11b46 38.9px)"></div>
<div style="height:2px;background:linear-gradient(90deg,#9f1946 0px,#9f1946 8.6px,#a11b46 9px,#a31e47 9.2px,#a92549 9.6px,#ae2a4b 10.2px,#ae2a4b 11.2px,#ac274a 11.6px,#a52048 12px,#a11b46 12.2px,#9f1946 12.6px,#9f1946 27px,#a11b46 30px,#a11b46 38.9px)"></div>
<div style="height:2px;background:linear-gradient(90deg,#9d1745 0px,#9d1745 8.6px,#9f1946 9px,#a11b46 9.2px,#a72249 9.6px,#ac274a 10.2px,#ac274a 11.2px,#a92549 11.6px,#a31e47 12px,#9f1946 12.2px,#9d1745 12.6px,#9d1745 27px,#9f1946 30px,#9f1946 38.9px)"></div>
<div style="height:2px;background:linear-gradient(90deg,#9f1946 0px,#9f1946 9px,#a11b46 9.2px,#a72249 9.6px,#ac274a 10.2px,#ac274a 11.2px,#a92549 11.6px,#a31e47 12px,#a11b46 12.2px,#9f1946 12.6px,#9f1946 38.9px)"></div>
<div style="height:2px;background:linear-gradient(90deg,#9f1946 0px,#9f1946 9px,#a11b46 9.2px,#a72249 9.6px,#a92549 10.2px,#a92549 11.6px,#a31e47 12px,#a11b46 12.2px,#9f1946 12.6px,#9f1946 38.9px)"></div>
<div style="height:2px;background:linear-gradient(90deg,#9d1745 0px,#9d1745 8.6px,#9f1946 9px,#a11b46 9.2px,#a52048 9.6px,#a92549 10.2px,#a92549 11.2px,#a72249 11.6px,#a11b46 12px,#9f1946 12.2px,#9d1745 12.6px,#9d1745 27px,#9f1946 30px,#9f1946 38.9px)"></div>
</div>
<div style="position:absolute;left:76.4px;top:113.4px;width:42.9px;height:234.9px;overflow:hidden">
<div style="height:2px;background:linear-gradient(90deg,#d65b51 0px,#cf5052 3px,#ae2a4b 6px,#ac274a 6.3px,#a72249 6.8px,#a52048 7.3px,#a52048 7.8px,#a31e47 8.3px,#a31e47 9px,#a11b46 9.3px,#a11b46 9.8px,#a31e47 10.3px,#a31e47 10.8px,#a52048 11.3px,#a52048 11.8px,#a72249 12px,#bf3c51 12.3px,#d75d50 12.8px,#e46e4e 13.3px,#ee9761 15px,#f6c07c 18px,#f9d890 21px,#fbe6a0 24px,#fceead 27px,#fceead 30px,#f09e64 33px,#e6724e 36px,#e46e4e 39px,#e16b4f 42px,#e16b4f 42.9px)"></div>
<div style="height:2px;background:linear-gradient(90deg,#da6050 0px,#d25651 3px,#b22e4c 6px,#b02c4c 6.3px,#ac274a 6.8px,#a92549 7.3px,#a72249 7.8px,#a72249 8.3px,#a52048 8.8px,#a52048 10.3px,#a72249 10.8px,#a72249 11.3px,#a92549 11.8px,#a92549 12px,#c34152 12.3px,#db6250 12.8px,#e77750 13.3px,#f0a066 15px,#f7c984 18px,#fae29b 21px,#fcedac 24px,#fdf6bb 27px,#fdf6bb 30px,#f2a869 33px,#e87c53 36px,#e77750 39px,#e6724e 42px,#e5704e 42.9px)"></div>
<div style="height:2px;background:linear-gradient(90deg,#dc6450 0px,#d35751 3px,#b4314d 6px,#b22e4c 6.3px,#ae2a4b 6.8px,#ac274a 7.3px,#a92549 7.8px,#a92549 8.3px,#a72249 8.8px,#a72249 10.3px,#a92549 10.8px,#ac274a 11.3px,#ac274a 12px,#c74553 12.3px,#dd664f 12.8px,#e87c53 13.3px,#f2a869 15px,#f8d18a 18px,#fbe7a2 21px,#fcf2b3 24px,#fefbc2 27px,#fefbc2 30px,#f4af6d 33px,#e98155 36px,#e87c53 39px,#e77750 42px,#e77750 42.9px)"></div>
<div style="height:2px;background:linear-gradient(90deg,#da6050 0px,#d25651 3px,#b22e4c 6px,#b02c4c 6.3px,#ac274a 6.8px,#a92549 7.3px,#a72249 7.8px,#a72249 8.3px,#a52048 8.8px,#a52048 10.3px,#a72249 10.8px,#a72249 11.3px,#a92549 11.8px,#a92549 12px,#c34152 12.3px,#db6250 12.8px,#e77750 13.3px,#f0a066 15px,#f7c984 18px,#fae199 21px,#fcedac 24px,#fdf5b9 27px,#fdf5b9 30px,#f2a869 33px,#e87c53 36px,#e77750 39px,#e6724e 42px,#e5704e 42.9px)"></div>
<div style="height:2px;background:linear-gradient(90deg,#db6250 0px,#d25651 3px,#b4314d 6px,#b02c4c 6.3px,#ac274a 6.8px,#a92549 7.3px,#a92549 7.8px,#a72249 8.3px,#a72249 8.8px,#a52048 9px,#a52048 9.8px,#a72249 10.3px,#a72249 10.8px,#a92549 11.3px,#a92549 11.8px,#ac274a 12px,#c54353 12.3px,#dc6450 12.8px,#e87952 13.3px,#f1a367 15px,#f7cb85 18px,#fae39c 21px,#fceead 24px,#fdf7bd 27px,#fdf7bd 30px,#f3aa6b 33px,#e97e54 36px,#e87952 39px,#e7744f 42px,#e6724e 42.9px)"></div>
<div style="height:2px;background:linear-gradient(90deg,#d65b51 0px,#cf5052 3px,#b02c4c 6px,#ac274a 6.3px,#a92549 6.8px,#a72249 7.3px,#a52048 7.8px,#a52048 8.3px,#a31e47 8.8px,#a31e47 10.3px,#a52048 10.8px,#a52048 11.3px,#a72249 11.8px,#a72249 12px,#bf3c51 12.3px,#d75d50 12.8px,#e5704e 13.3px,#ee9761 15px,#f6c07c 18px,#f9d890 21px,#fbe6a0 24px,#fceead 27px,#fceead 30px,#f09e64 33px,#e6724e 36px,#e5704e 39px,#e26d4e 42px,#e16b4f 42.9px)"></div>
<div style="height:2px;background:linear-gradient(90deg,#da6050 0px,#d15451 3px,#b22e4c 6px,#b02c4c 6.3px,#ac274a 6.8px,#a92549 7.3px,#a72249 7.8px,#a72249 8.3px,#a52048 8.8px,#a52048 10.3px,#a72249 10.8px,#a72249 11.3px,#a92549 11.8px,#a92549 12px,#c34152 12.3px,#db6250 12.8px,#e7744f 13.3px,#f09e64 15px,#f7c882 18px,#fae097 21px,#fbecaa 24px,#fdf4b7 27px,#fdf4b7 30px,#f2a568 33px,#e87c53 36px,#e77750 39px,#e6724e 42px,#e5704e 42.9px)"></div>
<div style="height:2px;background:linear-gradient(90deg,#d85e50 0px,#d15451 3px,#b22e4c 6px,#b02c4c 6.3px,#ac274a 6.8px,#a92549 7.3px,#a72249 7.8px,#a72249 8.3px,#a52048 8.8px,#a52048 10.3px,#a72249 10.8px,#a72249 11.3px,#a92549 11.8px,#a92549 12px,#c34152 12.3px,#db6250 12.8px,#e7744f 13.3px,#f09e64 15px,#f7c882 18px,#fae097 21px,#fbeba8 24px,#fcf3b5 27px,#fcf3b5 30px,#f2a568 33px,#e87952 36px,#e7744f 39px,#e5704e 42px,#e5704e 42.9px)"></div>
<div style="height:2px;background:linear-gradient(90deg,#dc6450 0px,#d35751 3px,#b4314d 6px,#b22e4c 6.3px,#ae2a4b 6.8px,#ac274a 7.3px,#a92549 7.8px,#a92549 8.3px,#a72249 8.8px,#a72249 9.8px,#a92549 10.3px,#a92549 10.8px,#ac274a 11.3px,#ac274a 12px,#c54353 12.3px,#dd664f 12.8px,#e87c53 13.3px,#f2a869 15px,#f8cf88 18px,#fbe6a0 21px,#fcf0b1 24px,#fdfac0 27px,#fdfac0 30px,#f4af6d 33px,#ea8357 36px,#e97e54 39px,#e87952 42px,#e77750 42.9px)"></div>
<div style="height:2px;background:linear-gradient(90deg,#da6050 0px,#d25651 3px,#b22e4c 6px,#b02c4c 6.3px,#ac274a 6.8px,#a92549 7.3px,#a92549 7.8px,#a72249 8.3px,#a72249 8.8px,#a52048 9px,#a52048 9.8px,#a72249 10.3px,#a72249 10.8px,#a92549 11.3px,#a92549 11.8px,#ac274a 12px,#c34152 12.3px,#dc6450 12.8px,#e77750 13.3px,#f0a066 15px,#f7c984 18px,#fae199 21px,#fcedac 24px,#fdf5b9 27px,#fdf5b9 30px,#f2a869 33px,#e97e54 36px,#e87952 39px,#e7744f 42px,#e6724e 42.9px)"></div>
<div style="height:2px;background:linear-gradient(90deg,#da6050 0px,#d15451 3px,#b22e4c 6px,#b02c4c 6.3px,#ac274a 6.8px,#a92549 7.3px,#a72249 7.8px,#a72249 8.3px,#a52048 8.8px,#a52048 9.8px,#a72249 10.3px,#a72249 10.8px,#a92549 11.3px,#a92549 12px,#c34152 12.3px,#db6250 12.8px,#e77750 13.3px,#f09e64 15px,#f7c882 18px,#fae097 21px,#fbecaa 24px,#fdf4b7 27px,#fdf4b7 30px,#f2a568 33px,#e87c53 36px,#e77750 39px,#e6724e 42px,#e6724e 42.9px)"></div>
<div style="height:2px;background:linear-gradient(90deg,#d75d50 0px,#d05252 3px,#b02c4c 6px,#ae2a4b 6.3px,#a92549 6.8px,#a72249 7.3px,#a72249 7.8px,#a52048 8.3px,#a52048 9px,#a31e47 9.3px,#a31e47 9.8px,#a52048 10.3px,#a52048 10.8px,#a72249 11.3px,#a72249 11.8px,#a92549 12px,#c13f51 12.3px,#d85e50 12.8px,#e6724e 13.3px,#ef9962 15px,#f6c47f 18px,#f9da92 21px,#fbe7a2 24px,#fcf0b1 27px,#fcf0b1 30px,#f0a066 33px,#e77750 36px,#e6724e 39px,#e5704e 42px,#e46e4e 42.9px)"></div>
<div style="height:2px;background:linear-gradient(90deg,#d65b51 0px,#cf5052 3px,#b02c4c 6px,#ae2a4b 6.3px,#a92549 6.8px,#a72249 7.3px,#a72249 7.8px,#a52048 8.3px,#a52048 8.8px,#a31e47 9px,#a31e47 9.8px,#a52048 10.3px,#a52048 10.8px,#a72249 11.3px,#a72249 12px,#bf3c51 12.3px,#d85e50 12.8px,#e5704e 13.3px,#ef9962 15px,#f6c27d 18px,#f9d890 21px,#fbe6a0 24px,#fcefaf 27px,#fcefaf 30px,#f09e64 33px,#e77750 36px,#e6724e 39px,#e46e4e 42px,#e46e4e 42.9px)"></div>
<div style="height:2px;background:linear-gradient(90deg,#d85e50 0px,#d05252 3px,#b22e4c 6px,#b02c4c 6.3px,#ac274a 6.8px,#a92549 7.3px,#a72249 7.8px,#a72249 8.3px,#a52048 8.8px,#a52048 10.3px,#a72249 10.8px,#a72249 11.3px,#a92549 11.8px,#a92549 12px,#c13f51 12.3px,#db6250 12.8px,#e7744f 13.3px,#f09e64 15px,#f7c680 18px,#f9de95 21px,#fbe9a6 24px,#fcf3b5 27px,#fcf3b5 30px,#f2a568 33px,#e87c53 36px,#e77750 39px,#e6724e 42px,#e6724e 42.9px)"></div>
<div style="height:2px;background:linear-gradient(90deg,#db6250 0px,#d25651 3px,#b4314d 6px,#b22e4c 6.3px,#ae2a4b 6.8px,#ac274a 7.3px,#ac274a 7.8px,#a92549 8.3px,#a92549 8.8px,#a72249 9px,#a72249 9.8px,#a92549 10.3px,#a92549 10.8px,#ac274a 11.3px,#ac274a 11.8px,#ae2a4b 12px,#c54353 12.3px,#dd664f 12.8px,#e87c53 13.3px,#f2a568 15px,#f7cd87 18px,#fae59e 21px,#fcefaf 24px,#fdf9be 27px,#fdf9be 30px,#f3ac6c 33px,#ea8357 36px,#e97e54 39px,#e87952 42px,#e87952 42.9px)"></div>
<div style="height:2px;background:linear-gradient(90deg,#d25651 0px,#cb4b52 3px,#ae2a4b 6px,#a92549 6.3px,#a72249 6.8px,#a52048 7.3px,#a31e47 7.8px,#a31e47 8.3px,#a11b46 8.8px,#a11b46 9.8px,#a31e47 10.3px,#a31e47 11.3px,#a52048 11.8px,#a52048 12px,#bb384f 12.3px,#d55951 12.8px,#e16b4f 13.3px,#ec8d5c 15px,#f5b773 18px,#f7cd87 21px,#f9de95 24px,#fbe7a2 27px,#fbe7a2 30px,#ee945f 33px,#e5704e 36px,#e46e4e 39px,#e16b4f 42px,#e0694f 42.9px)"></div>
<div style="height:2px;background:linear-gradient(90deg,#d05252 0px,#ca4953 3px,#a92549 6px,#a72249 6.3px,#a52048 6.8px,#a31e47 7.3px,#a11b46 7.8px,#a11b46 8.3px,#9f1946 8.8px,#9f1946 9.8px,#a11b46 10.3px,#a11b46 11.3px,#a31e47 11.8px,#a31e47 12px,#b8354e 12.3px,#d25651 12.8px,#dd664f 13.3px,#ea8558 15px,#f4b16f 18px,#f7c680 21px,#f8d58d 24px,#fae199 27px,#fae199 30px,#ec8d5c 33px,#e26d4e 36px,#e0694f 39px,#df674f 42px,#dd664f 42.9px)"></div>
<div style="height:2px;background:linear-gradient(90deg,#db6250 0px,#d35751 3px,#b6334e 6px,#b4314d 6.3px,#b02c4c 6.8px,#ae2a4b 7.3px,#ac274a 7.8px,#ac274a 8.3px,#a92549 8.8px,#a92549 10.3px,#ac274a 10.8px,#ac274a 11.3px,#ae2a4b 11.8px,#ae2a4b 12px,#c54353 12.3px,#df674f 12.8px,#e87c53 13.3px,#f2a869 15px,#f8cf88 18px,#fbe6a0 21px,#fcf0b1 24px,#fdfac0 27px,#fdfac0 30px,#f4af6d 33px,#eb8859 36px,#ea8357 39px,#e97e54 42px,#e87c53 42.9px)"></div>
<div style="height:2px;background:linear-gradient(90deg,#da6050 0px,#d25651 3px,#b4314d 6px,#b22e4c 6.3px,#ae2a4b 6.8px,#ac274a 7.3px,#ac274a 7.8px,#a92549 8.3px,#a92549 9px,#a72249 9.3px,#a72249 9.8px,#a92549 10.3px,#a92549 10.8px,#ac274a 11.3px,#ac274a 11.8px,#ae2a4b 12px,#c54353 12.3px,#dd664f 12.8px,#e87952 13.3px,#f1a367 15px,#f7cb85 18px,#fae29b 21px,#fceead 24px,#fdf6bb 27px,#fdf6bb 30px,#f3aa6b 33px,#ea8558 36px,#e98155 39px,#e87c53 42px,#e87c53 42.9px)"></div>
<div style="height:2px;background:linear-gradient(90deg,#d75d50 0px,#d05252 3px,#b22e4c 6px,#b02c4c 6.3px,#ac274a 6.8px,#a92549 7.3px,#a92549 7.8px,#a72249 8.3px,#a72249 9px,#a52048 9.3px,#a72249 9.8px,#a72249 10.8px,#a92549 11.3px,#a92549 11.8px,#ac274a 12px,#c13f51 12.3px,#db6250 12.8px,#e7744f 13.3px,#ef9b63 15px,#f6c47f 18px,#f9dc94 21px,#fbe8a4 24px,#fcf0b1 27px,#fcf0b1 30px,#f1a367 33px,#e98155 36px,#e87c53 39px,#e77750 42px,#e7744f 42.9px)"></div>
<div style="height:2px;background:linear-gradient(90deg,#d65b51 0px,#cf5052 3px,#b22e4c 6px,#b02c4c 6.3px,#ac274a 6.8px,#a92549 7.3px,#a72249 7.8px,#a72249 8.8px,#a52048 9px,#a52048 9.8px,#a72249 10.3px,#a72249 10.8px,#a92549 11.3px,#a92549 12px,#c13f51 12.3px,#da6050 12.8px,#e6724e 13.3px,#ef9962 15px,#f6c27d 18px,#f9d890 21px,#fbe6a0 24px,#fceead 27px,#fceead 30px,#f0a066 33px,#e97e54 36px,#e87952 39px,#e7744f 42px,#e7744f 42.9px)"></div>
<div style="height:2px;background:linear-gradient(90deg,#d35751 0px,#cc4d52 3px,#b02c4c 6px,#ae2a4b 6.3px,#a92549 6.8px,#a72249 7.3px,#a72249 7.8px,#a52048 8.3px,#a52048 9px,#a31e47 9.3px,#a31e47 9.8px,#a52048 10.3px,#a52048 10.8px,#a72249 11.3px,#a72249 12px,#bd3a50 12.3px,#d75d50 12.8px,#e46e4e 13.3px,#ed925e 15px,#f5bc78 18px,#f8d38c 21px,#fae199 24px,#fbe9a6 27px,#fbe9a6 30px,#ef9962 33px,#e87952 36px,#e7744f 39px,#e5704e 42px,#e5704e 42.9px)"></div>
<div style="height:2px;background:linear-gradient(90deg,#d25651 0px,#cc4d52 3px,#b02c4c 6px,#ae2a4b 6.3px,#a92549 6.8px,#a72249 7.3px,#a72249 7.8px,#a52048 8.3px,#a52048 9px,#a31e47 9.3px,#a31e47 9.8px,#a52048 10.3px,#a52048 10.8px,#a72249 11.3px,#a72249 12px,#bd3a50 12.3px,#d75d50 12.8px,#e46e4e 13.3px,#ed925e 15px,#f5ba77 18px,#f8d18a 21px,#fae199 24px,#fbe9a6 27px,#fbe9a6 30px,#ef9962 33px,#e87952 36px,#e7744f 39px,#e6724e 42px,#e5704e 42.9px)"></div>
<div style="height:2px;background:linear-gradient(90deg,#d05252 0px,#ca4953 3px,#ae2a4b 6px,#ac274a 6.3px,#a72249 6.8px,#a52048 7.3px,#a52048 7.8px,#a31e47 8.3px,#a31e47 9px,#a11b46 9.3px,#a31e47 9.8px,#a31e47 10.8px,#a52048 11.3px,#a52048 12px,#bb384f 12.3px,#d55951 12.8px,#e0694f 13.3px,#ec8a5a 15px,#f5b572 18px,#f7cb85 21px,#f9da92 24px,#fae39c 27px,#fae39c 30px,#ed925e 33px,#e7744f 36px,#e5704e 39px,#e46e4e 42px,#e26d4e 42.9px)"></div>
<div style="height:2px;background:linear-gradient(90deg,#d35751 0px,#cd4e52 3px,#b02c4c 6px,#ae2a4b 6.3px,#ac274a 6.8px,#a92549 7.3px,#a92549 7.8px,#a72249 8.3px,#a72249 8.8px,#a52048 9px,#a52048 9.8px,#a72249 10.3px,#a72249 10.8px,#a92549 11.3px,#a92549 12px,#bf3c51 12.3px,#d85e50 12.8px,#e5704e 13.3px,#ee9761 15px,#f6c07c 18px,#f9d78f 21px,#fae59e 24px,#fcedac 27px,#fcedac 30px,#f09e64 33px,#e98155 36px,#e87c53 39px,#e77750 42px,#e7744f 42.9px)"></div>
<div style="height:2px;background:linear-gradient(90deg,#d15451 0px,#cb4b52 3px,#ae2a4b 6px,#ac274a 6.3px,#a92549 6.8px,#a72249 7.3px,#a72249 7.8px,#a52048 8.3px,#a52048 9px,#a31e47 9.3px,#a31e47 9.8px,#a52048 10.3px,#a52048 10.8px,#a72249 11.3px,#a72249 12px,#bd3a50 12.3px,#d75d50 12.8px,#e26d4e 13.3px,#ed8f5d 15px,#f5b975 18px,#f8cf88 21px,#fae097 24px,#fbe7a2 27px,#fbe7a2 30px,#ee9761 33px,#e87c53 36px,#e77750 39px,#e6724e 42px,#e5704e 42.9px)"></div>
<div style="height:2px;background:linear-gradient(90deg,#cc4d52 0px,#c54353 3px,#a92549 6px,#a72249 6.3px,#a52048 6.8px,#a31e47 7.3px,#a31e47 7.8px,#a11b46 8.3px,#a11b46 10.8px,#a31e47 11.3px,#a31e47 12px,#b6334e 12.3px,#d25651 12.8px,#dd664f 13.3px,#ea8357 15px,#f3ac6c 18px,#f6c27d 21px,#f8d18a 24px,#f9dc94 27px,#f9dc94 30px,#ec8a5a 33px,#e5704e 36px,#e46e4e 39px,#e16b4f 42px,#e0694f 42.9px)"></div>
<div style="height:2px;background:linear-gradient(90deg,#cf5052 0px,#c84753 3px,#ae2a4b 6px,#ac274a 6.3px,#a72249 6.8px,#a72249 7.3px,#a52048 7.8px,#a52048 8.3px,#a31e47 8.8px,#a31e47 10.3px,#a52048 10.8px,#a52048 11.3px,#a72249 11.8px,#a72249 12px,#b8354e 12.3px,#d65b51 12.8px,#e16b4f 13.3px,#ec8d5c 15px,#f5b572 18px,#f7cb85 21px,#f9da92 24px,#fae59e 27px,#fae59e 30px,#ed925e 33px,#e87952 36px,#e7744f 39px,#e5704e 42px,#e5704e 42.9px)"></div>
<div style="height:2px;background:linear-gradient(90deg,#cd4e52 0px,#c84753 3px,#ac274a 6px,#ac274a 6.3px,#a72249 6.8px,#a52048 7.3px,#a52048 8.3px,#a31e47 8.8px,#a31e47 10.3px,#a52048 10.8px,#a52048 11.8px,#a72249 12px,#b8354e 12.3px,#d55951 12.8px,#e0694f 13.3px,#ec8a5a 15px,#f5b572 18px,#f7c984 21px,#f9d890 24px,#fae39c 27px,#fae39c 30px,#ed925e 33px,#e87952 36px,#e7744f 39px,#e5704e 42px,#e5704e 42.9px)"></div>
<div style="height:2px;background:linear-gradient(90deg,#cd4e52 0px,#c74553 3px,#ac274a 6px,#a92549 6.3px,#a72249 6.8px,#a52048 7.3px,#a52048 7.8px,#a31e47 8.3px,#a31e47 10.3px,#a52048 10.8px,#a52048 12px,#b8354e 12.3px,#d55951 12.8px,#e0694f 13.3px,#ec8a5a 15px,#f4b370 18px,#f7c882 21px,#f9d78f 24px,#fae29b 27px,#fae29b 30px,#ed8f5d 33px,#e87952 36px,#e7744f 39px,#e5704e 42px,#e46e4e 42.9px)"></div>
<div style="height:2px;background:linear-gradient(90deg,#d15451 0px,#cc4d52 3px,#b22e4c 6px,#b02c4c 6.3px,#ae2a4b 6.8px,#ac274a 7.3px,#a92549 7.8px,#a92549 8.8px,#a72249 9px,#a72249 9.8px,#a92549 10.3px,#a92549 11.3px,#ac274a 11.8px,#ac274a 12px,#bf3c51 12.3px,#db6250 12.8px,#e6724e 13.3px,#ef9962 15px,#f6c27d 18px,#f9d890 21px,#fbe6a0 24px,#fceead 27px,#fceead 30px,#f0a066 33px,#eb8859 36px,#ea8357 39px,#e97e54 42px,#e87c53 42.9px)"></div>
<div style="height:2px;background:linear-gradient(90deg,#cf5052 0px,#ca4953 3px,#b02c4c 6px,#ae2a4b 6.3px,#ac274a 6.8px,#a92549 7.3px,#a72249 7.8px,#a72249 9px,#a52048 9.3px,#a52048 9.8px,#a72249 10.3px,#a72249 10.8px,#a92549 11.3px,#a92549 12px,#bb384f 12.3px,#d85e50 12.8px,#e46e4e 13.3px,#ed925e 15px,#f5ba77 18px,#f8d18a 21px,#fae097 24px,#fbe8a4 27px,#fbe8a4 30px,#ef9962 33px,#ea8357 36px,#e97e54 39px,#e87952 42px,#e77750 42.9px)"></div>
<div style="height:2px;background:linear-gradient(90deg,#c34152 0px,#bd3a50 3px,#a52048 6px,#a31e47 6.3px,#a11b46 6.8px,#9f1946 7.3px,#9f1946 8.3px,#9d1745 8.8px,#9d1745 9.8px,#9f1946 10.3px,#9f1946 11.8px,#a11b46 12px,#ae2a4b 12.3px,#cd4e52 12.8px,#d75d50 13.3px,#e7744f 15px,#ef9b63 18px,#f4b370 21px,#f6c07c 24px,#f7c984 27px,#f7c984 30px,#e87c53 33px,#e16b4f 36px,#e0694f 39px,#dd664f 42px,#dc6450 42.9px)"></div>
<div style="height:2px;background:linear-gradient(90deg,#cc4d52 0px,#c74553 3px,#ae2a4b 6px,#ac274a 6.3px,#a92549 6.8px,#a72249 7.3px,#a72249 7.8px,#a52048 8.3px,#a52048 10.8px,#a72249 11.3px,#a72249 12px,#b8354e 12.3px,#d65b51 12.8px,#e16b4f 13.3px,#ec8d5c 15px,#f5b572 18px,#f7c984 21px,#f9d890 24px,#fae39c 27px,#fae39c 30px,#ed925e 33px,#e97e54 36px,#e87c53 39px,#e77750 42px,#e7744f 42.9px)"></div>
<div style="height:2px;background:linear-gradient(90deg,#cc4d52 0px,#c74553 3px,#ae2a4b 6px,#ac274a 6.3px,#a92549 6.8px,#a92549 7.3px,#a72249 7.8px,#a72249 8.8px,#a52048 9px,#a52048 9.8px,#a72249 10.3px,#a72249 11.3px,#a92549 11.8px,#a92549 12px,#b8354e 12.3px,#d75d50 12.8px,#e26d4e 13.3px,#ed8f5d 15px,#f5b773 18px,#f7cb85 21px,#f9dc94 24px,#fae59e 27px,#fae59e 30px,#ee945f 33px,#ea8357 36px,#e97e54 39px,#e87952 42px,#e77750 42.9px)"></div>
<div style="height:2px;background:linear-gradient(90deg,#cc4d52 0px,#c74553 3px,#ae2a4b 6px,#ae2a4b 6.3px,#a92549 6.8px,#a92549 7.3px,#a72249 7.8px,#a72249 9px,#a52048 9.3px,#a52048 9.8px,#a72249 10.3px,#a72249 11.3px,#a92549 11.8px,#a92549 12px,#b8354e 12.3px,#d75d50 12.8px,#e26d4e 13.3px,#ed8f5d 15px,#f5b773 18px,#f7cd87 21px,#f9dc94 24px,#fae59e 27px,#fae59e 30px,#ee945f 33px,#ea8558 36px,#e98155 39px,#e87c53 42px,#e87952 42.9px)"></div>
<div style="height:2px;background:linear-gradient(90deg,#ca4953 0px,#c34152 3px,#ae2a4b 6px,#ac274a 6.3px,#a92549 6.8px,#a72249 7.3px,#a72249 7.8px,#a52048 8.3px,#a52048 10.8px,#a72249 11.3px,#a72249 12px,#b6334e 12.3px,#d65b51 12.8px,#e0694f 13.3px,#ec8a5a 15px,#f4b370 18px,#f7c882 21px,#f9d78f 24px,#fae199 27px,#fae199 30px,#ed8f5d 33px,#e98155 36px,#e87c53 39px,#e77750 42px,#e77750 42.9px)"></div>
<div style="height:2px;background:linear-gradient(90deg,#c13f51 0px,#bb384f 3px,#a52048 6px,#a52048 6.3px,#a31e47 6.8px,#a11b46 7.3px,#a11b46 8.3px,#9f1946 8.8px,#9f1946 10.3px,#a11b46 10.8px,#a11b46 12px,#ae2a4b 12.3px,#cf5052 12.8px,#d85e50 13.3px,#e77750 15px,#ef9b63 18px,#f4b370 21px,#f6c07c 24px,#f7cb85 27px,#f7cb85 30px,#e87c53 33px,#e5704e 36px,#e26d4e 39px,#e0694f 42px,#e0694f 42.9px)"></div>
<div style="height:2px;background:linear-gradient(90deg,#c84753 0px,#c13f51 3px,#ac274a 6px,#ac274a 6.3px,#a92549 6.8px,#a72249 7.3px,#a72249 7.8px,#a52048 8.3px,#a52048 10.8px,#a72249 11.3px,#a72249 12px,#b6334e 12.3px,#d55951 12.8px,#e0694f 13.3px,#eb8859 15px,#f4b16f 18px,#f7c680 21px,#f8d38c 24px,#fae097 27px,#fae097 30px,#ed8f5d 33px,#e98155 36px,#e87c53 39px,#e77750 42px,#e77750 42.9px)"></div>
<div style="height:2px;background:linear-gradient(90deg,#c54353 0px,#bf3c51 3px,#a92549 6px,#a92549 6.3px,#a72249 6.8px,#a52048 7.3px,#a52048 7.8px,#a31e47 8.3px,#a31e47 10.3px,#a52048 10.8px,#a52048 12px,#b22e4c 12.3px,#d25651 12.8px,#dd664f 13.3px,#e98155 15px,#f2a869 18px,#f6be7a 21px,#f7cb85 24px,#f9d78f 27px,#f9d78f 30px,#eb8859 33px,#e87c53 36px,#e77750 39px,#e6724e 42px,#e6724e 42.9px)"></div>
<div style="height:2px;background:linear-gradient(90deg,#c84753 0px,#c13f51 3px,#ae2a4b 6px,#ac274a 6.3px,#a92549 6.8px,#a72249 7.3px,#a72249 8.8px,#a52048 9px,#a52048 9.8px,#a72249 10.3px,#a72249 12px,#b6334e 12.3px,#d65b51 12.8px,#e0694f 13.3px,#ec8a5a 15px,#f4b16f 18px,#f7c680 21px,#f8d58d 24px,#fae097 27px,#fae097 30px,#ed8f5d 33px,#ea8357 36px,#e97e54 39px,#e87952 42px,#e87952 42.9px)"></div>
<div style="height:2px;background:linear-gradient(90deg,#c54353 0px,#bd3a50 3px,#a92549 6px,#a92549 6.3px,#a72249 6.8px,#a52048 7.3px,#a52048 8.3px,#a31e47 8.8px,#a31e47 9.8px,#a52048 10.3px,#a52048 12px,#b22e4c 12.3px,#d35751 12.8px,#dd664f 13.3px,#e98155 15px,#f2a869 18px,#f6be7a 21px,#f7cb85 24px,#f9d78f 27px,#f9d78f 30px,#eb8859 33px,#e97e54 36px,#e87952 39px,#e7744f 42px,#e6724e 42.9px)"></div>
<div style="height:2px;background:linear-gradient(90deg,#bd3a50 0px,#b6334e 3px,#a52048 6px,#a52048 6.3px,#a31e47 6.8px,#a11b46 7.3px,#a11b46 8.8px,#9f1946 9px,#9f1946 9.8px,#a11b46 10.3px,#a11b46 12px,#ae2a4b 12.3px,#cf5052 12.8px,#d75d50 13.3px,#e7744f 15px,#ef9962 18px,#f4af6d 21px,#f5bc78 24px,#f7c882 27px,#f7c882 30px,#e87952 33px,#e6724e 36px,#e46e4e 39px,#e16b4f 42px,#e16b4f 42.9px)"></div>
<div style="height:2px;background:linear-gradient(90deg,#c74553 0px,#bf3c51 3px,#ae2a4b 6px,#ac274a 6.3px,#a92549 6.8px,#a72249 7.3px,#a72249 9px,#a52048 9.3px,#a72249 9.8px,#a72249 11.3px,#a92549 11.8px,#a92549 12px,#b4314d 12.3px,#d65b51 12.8px,#e0694f 13.3px,#eb8859 15px,#f4af6d 18px,#f6c47f 21px,#f8d38c 24px,#f9de95 27px,#f9de95 30px,#ec8d5c 33px,#ea8558 36px,#e98155 39px,#e87c53 42px,#e87952 42.9px)"></div>
<div style="height:2px;background:linear-gradient(90deg,#bd3a50 0px,#b6334e 3px,#a52048 6px,#a52048 6.3px,#a31e47 6.8px,#a11b46 7.3px,#a11b46 9px,#9f1946 9.3px,#a11b46 9.8px,#a11b46 11.8px,#a31e47 12px,#ae2a4b 12.3px,#cf5052 12.8px,#d75d50 13.3px,#e7744f 15px,#ee9761 18px,#f4af6d 21px,#f5bc78 24px,#f7c680 27px,#f7c680 30px,#e87952 33px,#e6724e 36px,#e5704e 39px,#e26d4e 42px,#e16b4f 42.9px)"></div>
<div style="height:2px;background:linear-gradient(90deg,#c34152 0px,#bd3a50 3px,#a92549 6px,#a92549 6.3px,#a72249 6.8px,#a72249 7.3px,#a52048 7.8px,#a52048 11.3px,#a72249 11.8px,#a72249 12px,#b22e4c 12.3px,#d35751 12.8px,#dd664f 13.3px,#e98155 15px,#f2a869 18px,#f5bc78 21px,#f7c984 24px,#f8d58d 27px,#f8d58d 30px,#ea8558 33px,#e98155 36px,#e87c53 39px,#e77750 42px,#e77750 42.9px)"></div>
<div style="height:2px;background:linear-gradient(90deg,#bf3c51 0px,#b8354e 3px,#a92549 6px,#a72249 6.3px,#a52048 6.8px,#a52048 7.8px,#a31e47 8.3px,#a31e47 10.8px,#a52048 11.3px,#a52048 12px,#b02c4c 12.3px,#d15451 12.8px,#db6250 13.3px,#e87c53 15px,#f0a066 18px,#f5b773 21px,#f6c47f 24px,#f7cd87 27px,#f7cd87 30px,#e98155 33px,#e87c53 36px,#e77750 39px,#e6724e 42px,#e6724e 42.9px)"></div>
<div style="height:2px;background:linear-gradient(90deg,#bb384f 0px,#b6334e 3px,#a52048 6px,#a52048 6.3px,#a31e47 6.8px,#a31e47 7.8px,#a11b46 8.3px,#a11b46 10.8px,#a31e47 11.3px,#a31e47 12px,#ae2a4b 12.3px,#cf5052 12.8px,#d85e50 13.3px,#e7744f 15px,#ee9761 18px,#f4af6d 21px,#f5ba77 24px,#f7c680 27px,#f7c680 30px,#e87952 33px,#e77750 36px,#e6724e 39px,#e46e4e 42px,#e26d4e 42.9px)"></div>
<div style="height:2px;background:linear-gradient(90deg,#b4314d 0px,#b02c4c 3px,#a31e47 6px,#a11b46 6.3px,#9f1946 6.8px,#9f1946 8.3px,#9d1745 8.8px,#9d1745 9.8px,#9f1946 10.3px,#9f1946 12px,#a72249 12.3px,#cb4b52 12.8px,#d35751 13.3px,#e16b4f 15px,#eb8859 18px,#f09e64 21px,#f4af6d 24px,#f5b975 27px,#f5b975 30px,#e46e4e 33px,#e26d4e 36px,#e16b4f 39px,#df674f 42px,#dd664f 42.9px)"></div>
<div style="height:2px;background:linear-gradient(90deg,#b8354e 0px,#b22e4c 3px,#a52048 6px,#a31e47 6.3px,#a31e47 6.8px,#a11b46 7.3px,#a11b46 12px,#ac274a 12.3px,#cd4e52 12.8px,#d65b51 13.3px,#e5704e 15px,#ed925e 18px,#f2a869 21px,#f5b572 24px,#f6c07c 27px,#f6c07c 30px,#e7744f 33px,#e7744f 36px,#e5704e 39px,#e26d4e 42px,#e26d4e 42.9px)"></div>
<div style="height:2px;background:linear-gradient(90deg,#b6334e 0px,#b22e4c 3px,#a52048 6px,#a31e47 6.3px,#a31e47 6.8px,#a11b46 7.3px,#a11b46 9px,#9f1946 9.3px,#a11b46 9.8px,#a11b46 12px,#a92549 12.3px,#cc4d52 12.8px,#d65b51 13.3px,#e46e4e 15px,#ed8f5d 18px,#f2a568 21px,#f4b370 24px,#f6be7a 27px,#f6be7a 30px,#e6724e 33px,#e6724e 36px,#e5704e 39px,#e26d4e 42px,#e16b4f 42.9px)"></div>
<div style="height:2px;background:linear-gradient(90deg,#b8354e 0px,#b4314d 3px,#a52048 6px,#a52048 6.3px,#a31e47 6.8px,#a31e47 7.8px,#a11b46 8.3px,#a11b46 10.3px,#a31e47 10.8px,#a31e47 12px,#ac274a 12.3px,#cd4e52 12.8px,#d75d50 13.3px,#e5704e 15px,#ed925e 18px,#f2a869 21px,#f5b773 24px,#f6c07c 27px,#f6c07c 30px,#e77750 33px,#e77750 36px,#e6724e 39px,#e46e4e 42px,#e46e4e 42.9px)"></div>
<div style="height:2px;background:linear-gradient(90deg,#b6334e 0px,#b22e4c 3px,#a52048 6px,#a52048 6.3px,#a31e47 6.8px,#a31e47 7.8px,#a11b46 8.3px,#a11b46 10.8px,#a31e47 11.3px,#a31e47 12px,#ac274a 12.3px,#cd4e52 12.8px,#d65b51 13.3px,#e5704e 15px,#ed925e 18px,#f2a869 21px,#f5b572 24px,#f6be7a 27px,#f6be7a 30px,#e7744f 33px,#e77750 36px,#e6724e 39px,#e46e4e 42px,#e46e4e 42.9px)"></div>
<div style="height:2px;background:linear-gradient(90deg,#bb384f 0px,#b6334e 3px,#a92549 6px,#a72249 6.3px,#a72249 6.8px,#a52048 7.3px,#a52048 11.8px,#a72249 12px,#ae2a4b 12.3px,#d15451 12.8px,#da6050 13.3px,#e87952 15px,#ef9b63 18px,#f4b16f 21px,#f6be7a 24px,#f7c984 27px,#f7c984 30px,#e97e54 33px,#e98155 36px,#e87c53 39px,#e87952 42px,#e77750 42.9px)"></div>
<div style="height:2px;background:linear-gradient(90deg,#b6334e 0px,#b22e4c 3px,#a52048 6px,#a52048 6.8px,#a31e47 7.3px,#a31e47 12px,#ac274a 12.3px,#cd4e52 12.8px,#d75d50 13.3px,#e5704e 15px,#ed925e 18px,#f2a869 21px,#f5b572 24px,#f6be7a 27px,#f6be7a 30px,#e7744f 33px,#e87952 36px,#e7744f 39px,#e6724e 42px,#e5704e 42.9px)"></div>
<div style="height:2px;background:linear-gradient(90deg,#b8354e 0px,#b4314d 3px,#a72249 6px,#a72249 6.3px,#a52048 6.8px,#a52048 7.8px,#a31e47 8.3px,#a31e47 10.3px,#a52048 10.8px,#a52048 12px,#ac274a 12.3px,#cf5052 12.8px,#d85e50 13.3px,#e6724e 15px,#ee945f 18px,#f3aa6b 21px,#f5b975 24px,#f6c27d 27px,#f6c27d 30px,#e77750 33px,#e97e54 36px,#e87952 39px,#e7744f 42px,#e7744f 42.9px)"></div>
<div style="height:2px;background:linear-gradient(90deg,#b02c4c 0px,#ac274a 3px,#a31e47 6px,#a11b46 6.3px,#a11b46 6.8px,#9f1946 7.3px,#9f1946 11.3px,#a11b46 11.8px,#a11b46 12px,#a72249 12.3px,#ca4953 12.8px,#d25651 13.3px,#e0694f 15px,#ea8357 18px,#ee9761 21px,#f2a568 24px,#f4b16f 27px,#f4b16f 30px,#e16b4f 33px,#e5704e 36px,#e26d4e 39px,#e16b4f 42px,#e0694f 42.9px)"></div>
<div style="height:2px;background:linear-gradient(90deg,#b22e4c 0px,#ae2a4b 3px,#a31e47 6px,#a31e47 6.3px,#a11b46 6.8px,#a11b46 12px,#a72249 12.3px,#cb4b52 12.8px,#d35751 13.3px,#e16b4f 15px,#ea8558 18px,#ef9b63 21px,#f3aa6b 24px,#f4b370 27px,#f4b370 30px,#e46e4e 33px,#e7744f 36px,#e5704e 39px,#e26d4e 42px,#e26d4e 42.9px)"></div>
<div style="height:2px;background:linear-gradient(90deg,#b4314d 0px,#b02c4c 3px,#a52048 6px,#a52048 6.8px,#a31e47 7.3px,#a31e47 12px,#a92549 12.3px,#cd4e52 12.8px,#d65b51 13.3px,#e46e4e 15px,#ec8d5c 18px,#f1a367 21px,#f4b16f 24px,#f5ba77 27px,#f5ba77 30px,#e6724e 33px,#e87c53 36px,#e77750 39px,#e6724e 42px,#e6724e 42.9px)"></div>
<div style="height:2px;background:linear-gradient(90deg,#b4314d 0px,#b02c4c 3px,#a52048 6px,#a52048 6.8px,#a31e47 7.3px,#a31e47 12px,#a92549 12.3px,#cd4e52 12.8px,#d65b51 13.3px,#e46e4e 15px,#ec8d5c 18px,#f0a066 21px,#f4b16f 24px,#f5b975 27px,#f5b975 30px,#e6724e 33px,#e87c53 36px,#e77750 39px,#e6724e 42px,#e6724e 42.9px)"></div>
<div style="height:2px;background:linear-gradient(90deg,#b22e4c 0px,#ae2a4b 3px,#a52048 6px,#a52048 6.3px,#a31e47 6.8px,#a31e47 9px,#a11b46 9.3px,#a31e47 9.8px,#a31e47 12px,#a92549 12.3px,#cc4d52 12.8px,#d55951 13.3px,#e26d4e 15px,#ec8a5a 18px,#f09e64 21px,#f3ac6c 24px,#f5b773 27px,#f5b773 30px,#e5704e 33px,#e87952 36px,#e7744f 39px,#e5704e 42px,#e5704e 42.9px)"></div>
<div style="height:2px;background:linear-gradient(90deg,#ae2a4b 0px,#ac274a 3px,#a31e47 6px,#a31e47 6.3px,#a11b46 6.8px,#a11b46 8.8px,#9f1946 9px,#9f1946 9.8px,#a11b46 10.3px,#a11b46 12px,#a72249 12.3px,#ca4953 12.8px,#d25651 13.3px,#df674f 15px,#e98155 18px,#ee945f 21px,#f1a367 24px,#f4af6d 27px,#f4af6d 30px,#e16b4f 33px,#e6724e 36px,#e46e4e 39px,#e16b4f 42px,#e16b4f 42.9px)"></div>
<div style="height:2px;background:linear-gradient(90deg,#ac274a 0px,#a92549 3px,#a11b46 6px,#a11b46 6.3px,#9f1946 6.8px,#9f1946 12px,#a52048 12.3px,#c84753 12.8px,#d05252 13.3px,#dc6450 15px,#e87c53 18px,#ed8f5d 21px,#f09e64 24px,#f2a869 27px,#f2a869 30px,#df674f 33px,#e46e4e 36px,#e16b4f 39px,#df674f 42px,#df674f 42.9px)"></div>
<div style="height:2px;background:linear-gradient(90deg,#b22e4c 0px,#b02c4c 3px,#a72249 6px,#a72249 6.3px,#a52048 6.8px,#a52048 8.8px,#a31e47 9px,#a31e47 9.8px,#a52048 10.3px,#a52048 12px,#ac274a 12.3px,#cd4e52 12.8px,#d65b51 13.3px,#e46e4e 15px,#ec8d5c 18px,#f1a367 21px,#f4b16f 24px,#f5b975 27px,#f5b975 30px,#e6724e 33px,#e87c53 36px,#e77750 39px,#e6724e 42px,#e6724e 42.9px)"></div>
<div style="height:2px;background:linear-gradient(90deg,#ac274a 0px,#a92549 3px,#a11b46 6px,#a11b46 7.3px,#9f1946 7.8px,#9f1946 11.3px,#a11b46 11.8px,#a11b46 12px,#a52048 12.3px,#c84753 12.8px,#d05252 13.3px,#dc6450 15px,#e87c53 18px,#ed8f5d 21px,#ef9b63 24px,#f2a869 27px,#f2a869 30px,#df674f 33px,#e46e4e 36px,#e16b4f 39px,#df674f 42px,#df674f 42.9px)"></div>
<div style="height:2px;background:linear-gradient(90deg,#ac274a 0px,#a92549 3px,#a31e47 6px,#a11b46 6.3px,#a11b46 8.3px,#9f1946 8.8px,#9f1946 10.3px,#a11b46 10.8px,#a11b46 12px,#a52048 12.3px,#ca4953 12.8px,#d15451 13.3px,#dd664f 15px,#e97e54 18px,#ed8f5d 21px,#f09e64 24px,#f2a869 27px,#f2a869 30px,#e0694f 33px,#e46e4e 36px,#e16b4f 39px,#e0694f 42px,#df674f 42.9px)"></div>
<div style="height:2px;background:linear-gradient(90deg,#b02c4c 0px,#ae2a4b 3px,#a52048 6px,#a52048 7.3px,#a31e47 7.8px,#a31e47 11.3px,#a52048 11.8px,#a52048 12px,#a92549 12.3px,#cc4d52 12.8px,#d55951 13.3px,#e26d4e 15px,#eb8859 18px,#ef9b63 21px,#f3aa6b 24px,#f5b572 27px,#f5b572 30px,#e46e4e 33px,#e77750 36px,#e7744f 39px,#e5704e 42px,#e46e4e 42.9px)"></div>
<div style="height:2px;background:linear-gradient(90deg,#ac274a 0px,#a92549 3px,#a31e47 6px,#a31e47 6.3px,#a11b46 6.8px,#a11b46 12px,#a52048 12.3px,#ca4953 12.8px,#d15451 13.3px,#dd664f 15px,#e97e54 18px,#ed925e 21px,#f09e64 24px,#f2a869 27px,#f2a869 30px,#e0694f 33px,#e46e4e 36px,#e26d4e 39px,#e0694f 42px,#e0694f 42.9px)"></div>
<div style="height:2px;background:linear-gradient(90deg,#a92549 0px,#a72249 3px,#a11b46 6px,#a11b46 6.8px,#9f1946 7.3px,#9f1946 12px,#a31e47 12.3px,#c74553 12.8px,#cf5052 13.3px,#db6250 15px,#e77750 18px,#ec8a5a 21px,#ee9761 24px,#f0a066 27px,#f0a066 30px,#dd664f 33px,#e16b4f 36px,#e0694f 39px,#dd664f 42px,#dd664f 42.9px)"></div>
<div style="height:2px;background:linear-gradient(90deg,#ae2a4b 0px,#ac274a 3px,#a31e47 6px,#a31e47 8.3px,#a11b46 8.8px,#a11b46 10.3px,#a31e47 10.8px,#a31e47 12px,#a72249 12.3px,#ca4953 12.8px,#d25651 13.3px,#df674f 15px,#e97e54 18px,#ed925e 21px,#f0a066 24px,#f3aa6b 27px,#f3aa6b 30px,#e0694f 33px,#e5704e 36px,#e46e4e 39px,#e16b4f 42px,#e0694f 42.9px)"></div>
<div style="height:2px;background:linear-gradient(90deg,#a92549 0px,#a72249 3px,#a11b46 6px,#a11b46 8.3px,#9f1946 8.8px,#9f1946 10.3px,#a11b46 10.8px,#a11b46 12px,#a52048 12.3px,#c74553 12.8px,#cf5052 13.3px,#db6250 15px,#e77750 18px,#eb8859 21px,#ee945f 24px,#f0a066 27px,#f0a066 30px,#dc6450 33px,#e26d4e 36px,#e0694f 39px,#dd664f 42px,#dd664f 42.9px)"></div>
<div style="height:2px;background:linear-gradient(90deg,#ae2a4b 0px,#ac274a 3px,#a52048 6px,#a52048 6.3px,#a31e47 6.8px,#a31e47 12px,#a72249 12.3px,#ca4953 12.8px,#d25651 13.3px,#dd664f 15px,#e97e54 18px,#ed8f5d 21px,#f09e64 24px,#f2a869 27px,#f2a869 30px,#e0694f 33px,#e6724e 36px,#e46e4e 39px,#e16b4f 42px,#e16b4f 42.9px)"></div>
<div style="height:2px;background:linear-gradient(90deg,#a92549 0px,#a72249 3px,#a11b46 6px,#a11b46 8.3px,#9f1946 8.8px,#9f1946 10.3px,#a11b46 10.8px,#a11b46 12px,#a31e47 12.3px,#c74553 12.8px,#cf5052 13.3px,#da6050 15px,#e7744f 18px,#ea8558 21px,#ed925e 24px,#ef9b63 27px,#ef9b63 30px,#db6250 33px,#e16b4f 36px,#df674f 39px,#dd664f 42px,#dc6450 42.9px)"></div>
<div style="height:2px;background:linear-gradient(90deg,#a72249 0px,#a52048 3px,#a11b46 6px,#9f1946 6.3px,#9f1946 12px,#a31e47 12.3px,#c34152 12.8px,#cc4d52 13.3px,#d75d50 15px,#e46e4e 18px,#e97e54 21px,#ec8a5a 24px,#ee945f 27px,#ee945f 30px,#d85e50 33px,#df674f 36px,#dc6450 39px,#db6250 42px,#da6050 42.9px)"></div>
<div style="height:2px;background:linear-gradient(90deg,#ae2a4b 0px,#ac274a 3px,#a72249 6px,#a52048 6.3px,#a52048 12px,#a92549 12.3px,#cb4b52 12.8px,#d25651 13.3px,#df674f 15px,#e97e54 18px,#ed8f5d 21px,#f09e64 24px,#f2a869 27px,#f2a869 30px,#e0694f 33px,#e7744f 36px,#e5704e 39px,#e26d4e 42px,#e26d4e 42.9px)"></div>
<div style="height:2px;background:linear-gradient(90deg,#ac274a 0px,#a92549 3px,#a31e47 6px,#a31e47 12px,#a52048 12.3px,#c84753 12.8px,#d05252 13.3px,#db6250 15px,#e7744f 18px,#ea8558 21px,#ed925e 24px,#ef9b63 27px,#ef9b63 30px,#dc6450 33px,#e46e4e 36px,#e16b4f 39px,#df674f 42px,#df674f 42.9px)"></div>
<div style="height:2px;background:linear-gradient(90deg,#a72249 0px,#a52048 3px,#a11b46 6px,#a11b46 12px,#a31e47 12.3px,#c54353 12.8px,#cc4d52 13.3px,#d75d50 15px,#e46e4e 18px,#e97e54 21px,#eb8859 24px,#ed925e 27px,#ed925e 30px,#d85e50 33px,#e0694f 36px,#dd664f 39px,#dc6450 42px,#db6250 42.9px)"></div>
<div style="height:2px;background:linear-gradient(90deg,#a72249 0px,#a52048 3px,#a11b46 6px,#a11b46 6.8px,#9f1946 7.3px,#9f1946 11.3px,#a11b46 11.8px,#a11b46 12px,#a31e47 12.3px,#c34152 12.8px,#cb4b52 13.3px,#d65b51 15px,#e26d4e 18px,#e87952 21px,#ea8558 24px,#ec8d5c 27px,#ec8d5c 30px,#d75d50 33px,#dd664f 36px,#dc6450 39px,#da6050 42px,#da6050 42.9px)"></div>
<div style="height:2px;background:linear-gradient(90deg,#a31e47 0px,#a31e47 3px,#9f1946 6px,#9f1946 6.3px,#9d1745 6.8px,#9d1745 12px,#a11b46 12.3px,#bf3c51 12.8px,#c84753 13.3px,#d25651 15px,#dd664f 18px,#e5704e 21px,#e87952 24px,#ea8357 27px,#ea8357 30px,#d35751 33px,#da6050 36px,#d85e50 39px,#d65b51 42px,#d65b51 42.9px)"></div>
<div style="height:2px;background:linear-gradient(90deg,#a52048 0px,#a31e47 3px,#9f1946 6px,#9f1946 12px,#a11b46 12.3px,#c13f51 12.8px,#c84753 13.3px,#d25651 15px,#df674f 18px,#e6724e 21px,#e87c53 24px,#ea8357 27px,#ea8357 30px,#d55951 33px,#db6250 36px,#d85e50 39px,#d75d50 42px,#d75d50 42.9px)"></div>
<div style="height:2px;background:linear-gradient(90deg,#a31e47 0px,#a11b46 3px,#9f1946 6px,#9f1946 6.3px,#9d1745 6.8px,#9d1745 12px,#9f1946 12.3px,#bd3a50 12.8px,#c74553 13.3px,#d05252 15px,#db6250 18px,#e16b4f 21px,#e7744f 24px,#e87c53 27px,#e87c53 30px,#d15451 33px,#d75d50 36px,#d65b51 39px,#d55951 42px,#d35751 42.9px)"></div>
<div style="height:2px;background:linear-gradient(90deg,#a72249 0px,#a52048 3px,#a31e47 6px,#a11b46 6.3px,#a11b46 12px,#a31e47 12.3px,#c34152 12.8px,#ca4953 13.3px,#d35751 15px,#df674f 18px,#e6724e 21px,#e87c53 24px,#ea8558 27px,#ea8558 30px,#d55951 33px,#dc6450 36px,#db6250 39px,#d85e50 42px,#d85e50 42.9px)"></div>
<div style="height:2px;background:linear-gradient(90deg,#a72249 0px,#a52048 3px,#a31e47 6px,#a31e47 6.8px,#a11b46 7.3px,#a11b46 11.8px,#a31e47 12px,#a31e47 12.3px,#c34152 12.8px,#ca4953 13.3px,#d35751 15px,#df674f 18px,#e5704e 21px,#e87952 24px,#ea8357 27px,#ea8357 30px,#d55951 33px,#dc6450 36px,#db6250 39px,#d85e50 42px,#d85e50 42.9px)"></div>
<div style="height:2px;background:linear-gradient(90deg,#a31e47 0px,#a31e47 3px,#9f1946 6px,#9f1946 12px,#a11b46 12.3px,#bd3a50 12.8px,#c54353 13.3px,#cf5052 15px,#d85e50 18px,#df674f 21px,#e46e4e 24px,#e7744f 27px,#e7744f 30px,#d05252 33px,#d75d50 36px,#d65b51 39px,#d35751 42px,#d35751 42.9px)"></div>
<div style="height:2px;background:linear-gradient(90deg,#a31e47 0px,#a31e47 3px,#9f1946 6px,#9f1946 12px,#a11b46 12.3px,#bb384f 12.8px,#c34152 13.3px,#cd4e52 15px,#d65b51 18px,#dd664f 21px,#e16b4f 24px,#e5704e 27px,#e5704e 30px,#cf5052 33px,#d65b51 36px,#d55951 39px,#d25651 42px,#d25651 42.9px)"></div>
<div style="height:2px;background:linear-gradient(90deg,#a52048 0px,#a31e47 3px,#a11b46 6px,#a11b46 12px,#a31e47 12.3px,#bd3a50 12.8px,#c54353 13.3px,#cd4e52 15px,#d75d50 18px,#dd664f 21px,#e26d4e 24px,#e5704e 27px,#e5704e 30px,#cf5052 33px,#d75d50 36px,#d65b51 39px,#d35751 42px,#d35751 42.9px)"></div>
<div style="height:2px;background:linear-gradient(90deg,#a31e47 0px,#a31e47 3px,#a11b46 6px,#9f1946 6.3px,#9f1946 12px,#a11b46 12.3px,#bb384f 12.8px,#c13f51 13.3px,#cc4d52 15px,#d55951 18px,#db6250 21px,#df674f 24px,#e26d4e 27px,#e26d4e 30px,#cd4e52 33px,#d55951 36px,#d35751 39px,#d25651 42px,#d15451 42.9px)"></div>
<div style="height:2px;background:linear-gradient(90deg,#a52048 0px,#a31e47 3px,#a11b46 6px,#a11b46 12px,#a31e47 12.3px,#bb384f 12.8px,#c34152 13.3px,#cc4d52 15px,#d55951 18px,#da6050 21px,#df674f 24px,#e16b4f 27px,#e16b4f 30px,#cd4e52 33px,#d55951 36px,#d35751 39px,#d25651 42px,#d25651 42.9px)"></div>
<div style="height:2px;background:linear-gradient(90deg,#a52048 0px,#a31e47 3px,#a11b46 6px,#a11b46 12px,#a31e47 12.3px,#b8354e 12.8px,#c13f51 13.3px,#cb4b52 15px,#d25651 18px,#d85e50 21px,#dc6450 24px,#df674f 27px,#df674f 30px,#cc4d52 33px,#d35751 36px,#d25651 39px,#d15451 42px,#d15451 42.9px)"></div>
<div style="height:2px;background:linear-gradient(90deg,#a31e47 0px,#a31e47 3px,#a11b46 6px,#a11b46 9px,#9f1946 9.3px,#9f1946 9.8px,#a11b46 10.3px,#a11b46 12.3px,#b8354e 12.8px,#bf3c51 13.3px,#ca4953 15px,#d15451 18px,#d65b51 21px,#da6050 24px,#dd664f 27px,#dd664f 30px,#cb4b52 33px,#d25651 36px,#d15451 39px,#d05252 42px,#d05252 42.9px)"></div>
<div style="height:2px;background:linear-gradient(90deg,#a52048 0px,#a31e47 3px,#a11b46 6px,#a11b46 12px,#a31e47 12.3px,#b6334e 12.8px,#bf3c51 13.3px,#c84753 15px,#d05252 18px,#d55951 21px,#d85e50 24px,#dc6450 27px,#dc6450 30px,#ca4953 33px,#d25651 36px,#d05252 39px,#cf5052 42px,#cf5052 42.9px)"></div>
<div style="height:2px;background:linear-gradient(90deg,#a11b46 0px,#a11b46 3px,#9f1946 6px,#9d1745 6.3px,#9d1745 12px,#9f1946 12.3px,#b22e4c 12.8px,#b8354e 13.3px,#c34152 15px,#cb4b52 18px,#d05252 21px,#d35751 24px,#d65b51 27px,#d65b51 30px,#c54353 33px,#cd4e52 36px,#cc4d52 39px,#cb4b52 42px,#ca4953 42.9px)"></div>
<div style="height:2px;background:linear-gradient(90deg,#a31e47 0px,#a31e47 3px,#a11b46 6px,#a11b46 12px,#a31e47 12.3px,#b6334e 12.8px,#bd3a50 13.3px,#c54353 15px,#cd4e52 18px,#d25651 21px,#d65b51 24px,#d85e50 27px,#d85e50 30px,#c74553 33px,#d05252 36px,#cf5052 39px,#cd4e52 42px,#cc4d52 42.9px)"></div>
<div style="height:2px;background:linear-gradient(90deg,#9f1946 0px,#9d1745 3px,#9d1745 6px,#9a1444 6.3px,#9a1444 12px,#9d1745 12.3px,#ae2a4b 12.8px,#b22e4c 13.3px,#bd3a50 15px,#c54353 18px,#cb4b52 21px,#cd4e52 24px,#d05252 27px,#d05252 30px,#bd3a50 33px,#c84753 36px,#c74553 39px,#c54353 42px,#c54353 42.9px)"></div>
<div style="height:2px;background:linear-gradient(90deg,#a31e47 0px,#a11b46 3px,#9f1946 6px,#9f1946 12px,#a11b46 12.3px,#b22e4c 12.8px,#b8354e 13.3px,#c13f51 15px,#ca4953 18px,#cd4e52 21px,#d05252 24px,#d25651 27px,#d25651 30px,#c34152 33px,#cb4b52 36px,#cb4b52 39px,#ca4953 42px,#c84753 42.9px)"></div>
<div style="height:2px;background:linear-gradient(90deg,#a11b46 0px,#a11b46 3px,#9f1946 6px,#9f1946 12.3px,#b02c4c 12.8px,#b4314d 13.3px,#bd3a50 15px,#c74553 18px,#cb4b52 21px,#cd4e52 24px,#d05252 27px,#d05252 30px,#bf3c51 33px,#ca4953 36px,#c84753 39px,#c74553 42px,#c74553 42.9px)"></div>
<div style="height:2px;background:linear-gradient(90deg,#a31e47 0px,#a11b46 3px,#a11b46 6.3px,#9f1946 6.8px,#9f1946 12px,#a11b46 12.3px,#b02c4c 12.8px,#b6334e 13.3px,#bd3a50 15px,#c74553 18px,#cb4b52 21px,#cd4e52 24px,#d05252 27px,#d05252 30px,#bf3c51 33px,#ca4953 36px,#c84753 39px,#c74553 42px,#c74553 42.9px)"></div>
<div style="height:2px;background:linear-gradient(90deg,#a11b46 0px,#a11b46 3px,#9f1946 6px,#9f1946 12.3px,#ae2a4b 12.8px,#b22e4c 13.3px,#bb384f 15px,#c34152 18px,#c84753 21px,#cb4b52 24px,#cc4d52 27px,#cc4d52 30px,#bb384f 33px,#c74553 36px,#c54353 39px,#c34152 42px,#c34152 42.9px)"></div>
<div style="height:2px;background:linear-gradient(90deg,#a31e47 0px,#a11b46 3px,#9f1946 6px,#9f1946 12px,#a11b46 12.3px,#ae2a4b 12.8px,#b22e4c 13.3px,#bb384f 15px,#c13f51 18px,#c74553 21px,#ca4953 24px,#cb4b52 27px,#cb4b52 30px,#bb384f 33px,#c54353 36px,#c54353 39px,#c34152 42px,#c34152 42.9px)"></div>
<div style="height:2px;background:linear-gradient(90deg,#9f1946 0px,#9d1745 3px,#9d1745 6.3px,#9a1444 6.8px,#9a1444 12px,#9d1745 12.3px,#a72249 12.8px,#ac274a 13.3px,#b22e4c 15px,#bb384f 18px,#bf3c51 21px,#c13f51 24px,#c54353 27px,#c54353 30px,#b4314d 33px,#bd3a50 36px,#bd3a50 39px,#bb384f 42px,#bb384f 42.9px)"></div>
<div style="height:2px;background:linear-gradient(90deg,#a11b46 0px,#9f1946 3px,#9f1946 7.8px,#9d1745 8.3px,#9d1745 10.3px,#9f1946 10.8px,#9f1946 12.3px,#a92549 12.8px,#ae2a4b 13.3px,#b4314d 15px,#bb384f 18px,#c13f51 21px,#c34152 24px,#c54353 27px,#c54353 30px,#b4314d 33px,#bf3c51 36px,#bf3c51 39px,#bd3a50 42px,#bd3a50 42.9px)"></div>
<div style="height:2px;background:linear-gradient(90deg,#9f1946 0px,#9f1946 3px,#9d1745 6px,#9d1745 12px,#9f1946 12.3px,#a92549 12.8px,#ac274a 13.3px,#b22e4c 15px,#b8354e 18px,#bd3a50 21px,#c13f51 24px,#c34152 27px,#c34152 30px,#b22e4c 33px,#bd3a50 36px,#bb384f 39px,#bb384f 42.9px)"></div>
<div style="height:2px;background:linear-gradient(90deg,#a11b46 0px,#a11b46 3px,#9f1946 6px,#9f1946 12px,#a11b46 12.3px,#a92549 12.8px,#ae2a4b 13.3px,#b4314d 15px,#bb384f 18px,#bf3c51 21px,#c13f51 24px,#c34152 27px,#c34152 30px,#b4314d 33px,#bd3a50 36px,#bd3a50 39px,#bb384f 42px,#bb384f 42.9px)"></div>
<div style="height:2px;background:linear-gradient(90deg,#a11b46 0px,#a11b46 3px,#9f1946 6px,#9f1946 12.3px,#a92549 12.8px,#ac274a 13.3px,#b22e4c 15px,#b6334e 18px,#bb384f 21px,#bd3a50 24px,#bf3c51 27px,#bf3c51 30px,#b22e4c 33px,#bb384f 36px,#bb384f 39px,#b8354e 42px,#b8354e 42.9px)"></div>
<div style="height:2px;background:linear-gradient(90deg,#9f1946 0px,#9f1946 7.8px,#9d1745 8.3px,#9d1745 10.8px,#9f1946 11.3px,#9f1946 12.3px,#a72249 12.8px,#a92549 13.3px,#ae2a4b 15px,#b4314d 18px,#b6334e 21px,#b8354e 24px,#bb384f 27px,#bb384f 30px,#ae2a4b 33px,#b6334e 36px,#b6334e 39px,#b4314d 42px,#b4314d 42.9px)"></div>
<div style="height:2px;background:linear-gradient(90deg,#9f1946 0px,#9f1946 6.3px,#9d1745 6.8px,#9d1745 12px,#9f1946 12.3px,#a52048 12.8px,#a72249 13.3px,#ac274a 15px,#b02c4c 18px,#b4314d 21px,#b6334e 24px,#b8354e 27px,#b8354e 30px,#ae2a4b 33px,#b4314d 36px,#b4314d 39px,#b22e4c 42px,#b22e4c 42.9px)"></div>
<div style="height:2px;background:linear-gradient(90deg,#9f1946 0px,#9f1946 3px,#9d1745 6px,#9d1745 12px,#9f1946 12.3px,#a52048 12.8px,#a72249 13.3px,#a92549 15px,#ae2a4b 18px,#b22e4c 21px,#b22e4c 24px,#b4314d 27px,#b4314d 30px,#ac274a 33px,#b22e4c 36px,#b22e4c 39px,#b02c4c 42px,#b02c4c 42.9px)"></div>
<div style="height:2px;background:linear-gradient(90deg,#9f1946 0px,#9f1946 12.3px,#a52048 12.8px,#a72249 13.3px,#a92549 15px,#ae2a4b 18px,#b02c4c 21px,#b22e4c 24px,#b4314d 27px,#b4314d 30px,#a92549 33px,#b22e4c 36px,#b02c4c 39px,#b02c4c 42.9px)"></div>
<div style="height:2px;background:linear-gradient(90deg,#a11b46 0px,#a11b46 3px,#9f1946 6px,#9f1946 12.3px,#a52048 12.8px,#a72249 13.3px,#a92549 15px,#ae2a4b 18px,#b02c4c 21px,#b22e4c 24px,#b22e4c 30px,#a92549 33px,#b02c4c 36px,#b02c4c 42px,#ae2a4b 42.9px)"></div>
<div style="height:2px;background:linear-gradient(90deg,#a11b46 0px,#a11b46 6px,#9f1946 6.3px,#9f1946 12px,#a11b46 12.3px,#a52048 12.8px,#a72249 13.3px,#a92549 15px,#ae2a4b 18px,#b02c4c 21px,#b02c4c 24px,#b22e4c 27px,#b22e4c 30px,#a92549 33px,#b02c4c 36px,#ae2a4b 39px,#ae2a4b 42.9px)"></div>
<div style="height:2px;background:linear-gradient(90deg,#9f1946 0px,#9f1946 12.3px,#a31e47 12.8px,#a52048 13.3px,#a72249 15px,#a92549 18px,#ac274a 21px,#ae2a4b 24px,#ae2a4b 30px,#a72249 33px,#ac274a 36px,#ac274a 42px,#a92549 42.9px)"></div>
<div style="height:2px;background:linear-gradient(90deg,#9d1745 0px,#9d1745 12.3px,#a11b46 12.8px,#a31e47 13.3px,#a52048 15px,#a72249 18px,#a92549 21px,#a92549 24px,#ac274a 27px,#ac274a 30px,#a52048 33px,#a72249 36px,#a72249 42.9px)"></div>
<div style="height:2px;background:linear-gradient(90deg,#9d1745 0px,#9d1745 12.3px,#a11b46 12.8px,#a31e47 13.3px,#a31e47 15px,#a72249 18px,#a72249 21px,#a92549 24px,#a92549 30px,#a52048 33px,#a72249 36px,#a72249 42.9px)"></div>
<div style="height:2px;background:linear-gradient(90deg,#a11b46 0px,#a11b46 3px,#9f1946 6px,#9f1946 12.3px,#a31e47 12.8px,#a52048 13.3px,#a72249 15px,#a92549 18px,#a92549 21px,#ac274a 24px,#ac274a 30px,#a72249 33px,#a92549 36px,#a92549 42.9px)"></div>
<div style="height:2px;background:linear-gradient(90deg,#9d1745 0px,#9d1745 12.3px,#9f1946 12.8px,#a11b46 13.3px,#a31e47 15px,#a31e47 18px,#a52048 21px,#a52048 24px,#a72249 27px,#a72249 30px,#a31e47 33px,#a52048 36px,#a52048 39px,#a31e47 42px,#a31e47 42.9px)"></div>
<div style="height:2px;background:linear-gradient(90deg,#9d1745 0px,#9d1745 12.3px,#a11b46 12.8px,#a11b46 13.3px,#a31e47 15px,#a52048 18px,#a52048 21px,#a72249 24px,#a72249 30px,#a31e47 33px,#a52048 36px,#a52048 42.9px)"></div>
<div style="height:2px;background:linear-gradient(90deg,#9a1444 0px,#9a1444 12.3px,#9d1745 12.8px,#9d1745 13.3px,#9f1946 15px,#9f1946 18px,#a11b46 21px,#a11b46 30px,#9f1946 33px,#9f1946 42.9px)"></div>
<div style="height:2px;background:linear-gradient(90deg,#9f1946 0px,#9f1946 12.3px,#a31e47 12.8px,#a31e47 15px,#a52048 18px,#a52048 21px,#a72249 24px,#a72249 30px,#a52048 33px,#a52048 42.9px)"></div>
</div>
<div style="position:absolute;left:140.7px;top:111.5px;width:40.1px;height:236.8px;overflow:hidden">
<div style="height:2px;background:linear-gradient(90deg,#b22e4c 0px,#b22e4c 9px,#b02c4c 9.3px,#ac274a 9.8px,#a72249 10.3px,#a72249 10.8px,#ac274a 11.3px,#ac274a 40.1px)"></div>
<div style="height:2px;background:linear-gradient(90deg,#b8354e 0px,#b8354e 9px,#b6334e 9.3px,#b22e4c 9.8px,#ae2a4b 10.3px,#ae2a4b 10.8px,#b22e4c 11.3px,#b22e4c 40.1px)"></div>
<div style="height:2px;background:linear-gradient(90deg,#c13f51 0px,#c13f51 9.3px,#bb384f 9.8px,#b4314d 10.3px,#b6334e 10.8px,#bb384f 11.3px,#bb384f 40.1px)"></div>
<div style="height:2px;background:linear-gradient(90deg,#b22e4c 0px,#b22e4c 9.3px,#ac274a 9.8px,#a72249 10.3px,#a72249 10.8px,#ac274a 11.3px,#ae2a4b 11.8px,#ae2a4b 40.1px)"></div>
<div style="height:2px;background:linear-gradient(90deg,#c34152 0px,#c34152 9px,#c13f51 9.3px,#bb384f 9.8px,#b4314d 10.3px,#b6334e 10.8px,#bb384f 11.3px,#bb384f 40.1px)"></div>
<div style="height:2px;background:linear-gradient(90deg,#bd3a50 0px,#bd3a50 9px,#bb384f 9.3px,#b4314d 9.8px,#b02c4c 10.3px,#b02c4c 10.8px,#b4314d 11.3px,#b6334e 11.8px,#b6334e 40.1px)"></div>
<div style="height:2px;background:linear-gradient(90deg,#c74553 0px,#c74553 9px,#c54353 9.3px,#bf3c51 9.8px,#b8354e 10.3px,#b8354e 10.8px,#bf3c51 11.3px,#bf3c51 40.1px)"></div>
<div style="height:2px;background:linear-gradient(90deg,#c13f51 0px,#c13f51 9px,#bf3c51 9.3px,#b8354e 9.8px,#b4314d 10.3px,#b4314d 10.8px,#b8354e 11.3px,#bb384f 11.8px,#bb384f 40.1px)"></div>
<div style="height:2px;background:linear-gradient(90deg,#c34152 0px,#c34152 9px,#c13f51 9.3px,#bb384f 9.8px,#b6334e 10.3px,#b6334e 10.8px,#bb384f 11.3px,#bd3a50 11.8px,#bd3a50 40.1px)"></div>
<div style="height:2px;background:linear-gradient(90deg,#c74553 0px,#c74553 9.3px,#bf3c51 9.8px,#bb384f 10.3px,#bb384f 10.8px,#bf3c51 11.3px,#c13f51 11.8px,#c13f51 40.1px)"></div>
<div style="height:2px;background:linear-gradient(90deg,#c34152 0px,#c34152 9px,#c13f51 9.3px,#bb384f 9.8px,#b6334e 10.3px,#b6334e 10.8px,#bb384f 11.3px,#bd3a50 11.8px,#bd3a50 40.1px)"></div>
<div style="height:2px;background:linear-gradient(90deg,#c74553 0px,#c74553 9px,#c54353 9.3px,#bf3c51 9.8px,#b8354e 10.3px,#bb384f 10.8px,#bf3c51 11.3px,#c13f51 11.8px,#c13f51 40.1px)"></div>
<div style="height:2px;background:linear-gradient(90deg,#c74553 0px,#c74553 9px,#c54353 9.3px,#bf3c51 9.8px,#bb384f 10.3px,#bb384f 10.8px,#bf3c51 11.3px,#c13f51 11.8px,#c13f51 40.1px)"></div>
<div style="height:2px;background:linear-gradient(90deg,#cd4e52 0px,#cd4e52 9px,#cc4d52 9.3px,#c84753 9.8px,#c34152 10.3px,#c34152 10.8px,#c84753 11.3px,#ca4953 11.8px,#ca4953 40.1px)"></div>
<div style="height:2px;background:linear-gradient(90deg,#cb4b52 0px,#cb4b52 9px,#ca4953 9.3px,#c34152 9.8px,#bf3c51 10.3px,#bf3c51 10.8px,#c54353 11.3px,#c54353 40.1px)"></div>
<div style="height:2px;background:linear-gradient(90deg,#c13f51 0px,#c13f51 9.3px,#b8354e 9.8px,#b4314d 10.3px,#b4314d 10.8px,#bb384f 11.3px,#bb384f 40.1px)"></div>
<div style="height:2px;background:linear-gradient(90deg,#cc4d52 0px,#cc4d52 9px,#cb4b52 9.3px,#c54353 9.8px,#c13f51 10.3px,#c13f51 10.8px,#c74553 11.3px,#c84753 11.8px,#c84753 40.1px)"></div>
<div style="height:2px;background:linear-gradient(90deg,#cc4d52 0px,#cc4d52 9px,#cb4b52 9.3px,#c74553 9.8px,#c13f51 10.3px,#c13f51 10.8px,#c74553 11.3px,#c84753 11.8px,#c84753 40.1px)"></div>
<div style="height:2px;background:linear-gradient(90deg,#cc4d52 0px,#cc4d52 9px,#cb4b52 9.3px,#c54353 9.8px,#c13f51 10.3px,#c13f51 10.8px,#c74553 11.3px,#c84753 11.8px,#c84753 40.1px)"></div>
<div style="height:2px;background:linear-gradient(90deg,#d15451 0px,#d15451 9px,#d05252 9.3px,#cc4d52 9.8px,#c84753 10.3px,#ca4953 10.8px,#cd4e52 11.3px,#cd4e52 40.1px)"></div>
<div style="height:2px;background:linear-gradient(90deg,#d15451 0px,#d15451 9px,#d05252 9.3px,#cb4b52 9.8px,#c84753 10.3px,#c84753 10.8px,#cc4d52 11.3px,#cd4e52 11.8px,#cd4e52 40.1px)"></div>
<div style="height:2px;background:linear-gradient(90deg,#c74553 0px,#c74553 9.3px,#bf3c51 9.8px,#bb384f 10.3px,#bd3a50 10.8px,#c13f51 11.3px,#c34152 11.8px,#c34152 40.1px)"></div>
<div style="height:2px;background:linear-gradient(90deg,#d35751 0px,#d35751 9px,#d25651 9.3px,#cd4e52 9.8px,#cb4b52 10.3px,#cb4b52 10.8px,#cf5052 11.3px,#d05252 11.8px,#d05252 40.1px)"></div>
<div style="height:2px;background:linear-gradient(90deg,#cd4e52 0px,#cd4e52 9px,#cc4d52 9.3px,#c74553 9.8px,#c34152 10.3px,#c54353 10.8px,#ca4953 11.3px,#ca4953 40.1px)"></div>
<div style="height:2px;background:linear-gradient(90deg,#cd4e52 0px,#cd4e52 9px,#cc4d52 9.3px,#c84753 9.8px,#c54353 10.3px,#c54353 10.8px,#ca4953 11.3px,#cb4b52 11.8px,#cb4b52 40.1px)"></div>
<div style="height:2px;background:linear-gradient(90deg,#cd4e52 0px,#cd4e52 9px,#cc4d52 9.3px,#c84753 9.8px,#c54353 10.3px,#c74553 10.8px,#cb4b52 11.3px,#cb4b52 40.1px)"></div>
<div style="height:2px;background:linear-gradient(90deg,#d05252 0px,#d05252 9px,#cf5052 9.3px,#cb4b52 9.8px,#c84753 10.3px,#ca4953 10.8px,#cd4e52 11.3px,#cd4e52 40.1px)"></div>
<div style="height:2px;background:linear-gradient(90deg,#d55951 0px,#d55951 9px,#d35751 9.3px,#cf5052 9.8px,#cc4d52 10.3px,#cd4e52 10.8px,#d15451 11.3px,#d25651 11.8px,#d25651 40.1px)"></div>
<div style="height:2px;background:linear-gradient(90deg,#cc4d52 0px,#cc4d52 9px,#cb4b52 9.3px,#c74553 9.8px,#c54353 10.3px,#c54353 10.8px,#ca4953 11.3px,#cb4b52 11.8px,#cb4b52 40.1px)"></div>
<div style="height:2px;background:linear-gradient(90deg,#d15451 0px,#d15451 9.3px,#cc4d52 9.8px,#ca4953 10.3px,#cb4b52 10.8px,#d05252 11.3px,#d05252 40.1px)"></div>
<div style="height:2px;background:linear-gradient(90deg,#d05252 0px,#d05252 9px,#cf5052 9.3px,#cb4b52 9.8px,#c84753 10.3px,#ca4953 10.8px,#cd4e52 11.3px,#cf5052 11.8px,#cf5052 40.1px)"></div>
<div style="height:2px;background:linear-gradient(90deg,#d25651 0px,#d25651 9px,#d15451 9.3px,#cd4e52 9.8px,#cb4b52 10.3px,#cc4d52 10.8px,#d05252 11.3px,#d15451 11.8px,#d15451 40.1px)"></div>
<div style="height:2px;background:linear-gradient(90deg,#d25651 0px,#d25651 9px,#d15451 9.3px,#cc4d52 9.8px,#cb4b52 10.3px,#cc4d52 10.8px,#d05252 11.3px,#d15451 11.8px,#d15451 40.1px)"></div>
<div style="height:2px;background:linear-gradient(90deg,#d75d50 0px,#d75d50 9px,#d65b51 9.3px,#d15451 9.8px,#d05252 10.3px,#d15451 10.8px,#d65b51 11.3px,#d75d50 11.8px,#d75d50 40.1px)"></div>
<div style="height:2px;background:linear-gradient(90deg,#d85e50 0px,#d85e50 9px,#d75d50 9.3px,#d25651 9.8px,#d15451 10.3px,#d25651 10.8px,#d75d50 11.3px,#d85e50 11.8px,#d85e50 40.1px)"></div>
<div style="height:2px;background:linear-gradient(90deg,#d15451 0px,#d15451 9px,#d05252 9.3px,#cc4d52 9.8px,#ca4953 10.3px,#cc4d52 10.8px,#d05252 11.3px,#d15451 11.8px,#d15451 40.1px)"></div>
<div style="height:2px;background:linear-gradient(90deg,#d75d50 0px,#d75d50 9px,#d65b51 9.3px,#d25651 9.8px,#d05252 10.3px,#d15451 10.8px,#d55951 11.3px,#d65b51 11.8px,#d65b51 40.1px)"></div>
<div style="height:2px;background:linear-gradient(90deg,#d05252 0px,#d05252 9px,#cf5052 9.3px,#cb4b52 9.8px,#c84753 10.3px,#ca4953 10.8px,#cd4e52 11.3px,#cd4e52 40.1px)"></div>
<div style="height:2px;background:linear-gradient(90deg,#d85e50 0px,#d85e50 9px,#d75d50 9.3px,#d25651 9.8px,#d05252 10.3px,#d15451 10.8px,#d55951 11.3px,#d65b51 11.8px,#d65b51 40.1px)"></div>
<div style="height:2px;background:linear-gradient(90deg,#db6250 0px,#db6250 9.3px,#d65b51 9.8px,#d35751 10.3px,#d35751 10.8px,#d75d50 11.3px,#d85e50 11.8px,#d85e50 40.1px)"></div>
<div style="height:2px;background:linear-gradient(90deg,#d75d50 0px,#d75d50 9px,#d65b51 9.3px,#d25651 9.8px,#d05252 10.3px,#d05252 10.8px,#d35751 11.3px,#d55951 11.8px,#d55951 40.1px)"></div>
<div style="height:2px;background:linear-gradient(90deg,#e5704e 0px,#e5704e 9px,#e46e4e 9.3px,#df674f 9.8px,#db6250 10.3px,#db6250 10.8px,#e0694f 11.3px,#e16b4f 11.8px,#e16b4f 40.1px)"></div>
<div style="height:2px;background:linear-gradient(90deg,#dc6450 0px,#dc6450 9px,#db6250 9.3px,#d75d50 9.8px,#d35751 10.3px,#d35751 10.8px,#d75d50 11.3px,#d85e50 11.8px,#d85e50 40.1px)"></div>
<div style="height:2px;background:linear-gradient(90deg,#d75d50 0px,#d75d50 9px,#d65b51 9.3px,#d15451 9.8px,#cf5052 10.3px,#cf5052 10.8px,#d15451 11.3px,#d25651 11.8px,#d25651 40.1px)"></div>
<div style="height:2px;background:linear-gradient(90deg,#dd664f 0px,#dd664f 9px,#dc6450 9.3px,#d75d50 9.8px,#d35751 10.3px,#d35751 10.8px,#d75d50 11.3px,#d85e50 11.8px,#d85e50 40.1px)"></div>
<div style="height:2px;background:linear-gradient(90deg,#d85e50 0px,#d85e50 9px,#d75d50 9.3px,#d35751 9.8px,#d05252 10.3px,#cf5052 10.8px,#d25651 11.3px,#d35751 11.8px,#d35751 40.1px)"></div>
<div style="height:2px;background:linear-gradient(90deg,#df674f 0px,#df674f 9px,#dd664f 9.3px,#da6050 9.8px,#d55951 10.3px,#d55951 10.8px,#d75d50 11.3px,#d85e50 11.8px,#d85e50 40.1px)"></div>
<div style="height:2px;background:linear-gradient(90deg,#dc6450 0px,#dc6450 9px,#db6250 9.3px,#d75d50 9.8px,#d35751 10.3px,#d25651 10.8px,#d55951 11.3px,#d65b51 11.8px,#d65b51 40.1px)"></div>
<div style="height:2px;background:linear-gradient(90deg,#df674f 0px,#df674f 9px,#dd664f 9.3px,#d85e50 9.8px,#d35751 10.3px,#d35751 10.8px,#d65b51 11.3px,#d75d50 11.8px,#d75d50 40.1px)"></div>
<div style="height:2px;background:linear-gradient(90deg,#d15451 0px,#d15451 9px,#d05252 9.3px,#cc4d52 9.8px,#c84753 10.3px,#c74553 10.8px,#ca4953 11.3px,#cb4b52 11.8px,#cb4b52 40.1px)"></div>
<div style="height:2px;background:linear-gradient(90deg,#db6250 0px,#db6250 9px,#da6050 9.3px,#d65b51 9.8px,#d15451 10.3px,#d05252 10.8px,#d25651 11.3px,#d35751 11.8px,#d35751 40.1px)"></div>
<div style="height:2px;background:linear-gradient(90deg,#e46e4e 0px,#e46e4e 9px,#e26d4e 9.3px,#dd664f 9.8px,#d85e50 10.3px,#d75d50 10.8px,#da6050 11.3px,#db6250 11.8px,#db6250 40.1px)"></div>
<div style="height:2px;background:linear-gradient(90deg,#e5704e 0px,#e5704e 9px,#e46e4e 9.3px,#df674f 9.8px,#da6050 10.3px,#d75d50 10.8px,#da6050 11.3px,#db6250 11.8px,#db6250 40.1px)"></div>
<div style="height:2px;background:linear-gradient(90deg,#e5704e 0px,#e5704e 9px,#e46e4e 9.3px,#df674f 9.8px,#da6050 10.3px,#d75d50 10.8px,#da6050 11.3px,#db6250 11.8px,#db6250 40.1px)"></div>
<div style="height:2px;background:linear-gradient(90deg,#e46e4e 0px,#e46e4e 9px,#e26d4e 9.3px,#dd664f 9.8px,#d85e50 10.3px,#d65b51 10.8px,#d85e50 11.3px,#d85e50 40.1px)"></div>
<div style="height:2px;background:linear-gradient(90deg,#e7744f 0px,#e7744f 9.3px,#e26d4e 9.8px,#dc6450 10.3px,#da6050 10.8px,#dc6450 11.3px,#dc6450 40.1px)"></div>
<div style="height:2px;background:linear-gradient(90deg,#e77750 0px,#e77750 9px,#e7744f 9.3px,#e26d4e 9.8px,#dc6450 10.3px,#da6050 10.8px,#db6250 11.3px,#dc6450 11.8px,#dc6450 40.1px)"></div>
<div style="height:2px;background:linear-gradient(90deg,#e6724e 0px,#e6724e 9.3px,#e16b4f 9.8px,#db6250 10.3px,#d75d50 10.8px,#da6050 11.3px,#db6250 11.8px,#db6250 40.1px)"></div>
<div style="height:2px;background:linear-gradient(90deg,#e87c53 0px,#e87c53 9px,#e87952 9.3px,#e5704e 9.8px,#dd664f 10.3px,#db6250 10.8px,#dc6450 11.3px,#dd664f 11.8px,#dd664f 40.1px)"></div>
<div style="height:2px;background:linear-gradient(90deg,#e87952 0px,#e87952 9.3px,#e46e4e 9.8px,#dd664f 10.3px,#da6050 10.8px,#dc6450 11.3px,#dc6450 40.1px)"></div>
<div style="height:2px;background:linear-gradient(90deg,#e46e4e 0px,#e46e4e 9.3px,#df674f 9.8px,#d75d50 10.3px,#d35751 10.8px,#d55951 11.3px,#d65b51 11.8px,#d65b51 40.1px)"></div>
<div style="height:2px;background:linear-gradient(90deg,#e87c53 0px,#e87c53 9px,#e87952 9.3px,#e5704e 9.8px,#dd664f 10.3px,#d85e50 10.8px,#da6050 11.3px,#db6250 11.8px,#db6250 40.1px)"></div>
<div style="height:2px;background:linear-gradient(90deg,#ea8357 0px,#ea8357 9px,#e98155 9.3px,#e77750 9.8px,#e0694f 10.3px,#da6050 10.8px,#db6250 11.3px,#dc6450 11.8px,#dc6450 40.1px)"></div>
<div style="height:2px;background:linear-gradient(90deg,#e87952 0px,#e87952 9px,#e77750 9.3px,#e46e4e 9.8px,#db6250 10.3px,#d55951 10.8px,#d65b51 11.3px,#d65b51 40.1px)"></div>
<div style="height:2px;background:linear-gradient(90deg,#e0694f 0px,#e0694f 9.3px,#db6250 9.8px,#d25651 10.3px,#cc4d52 10.8px,#cd4e52 11.3px,#cf5052 11.8px,#cf5052 40.1px)"></div>
<div style="height:2px;background:linear-gradient(90deg,#e87c53 0px,#e87c53 9.3px,#e5704e 9.8px,#db6250 10.3px,#d35751 10.8px,#d55951 11.3px,#d65b51 11.8px,#d65b51 40.1px)"></div>
<div style="height:2px;background:linear-gradient(90deg,#ea8558 0px,#ea8558 9px,#ea8357 9.3px,#e87952 9.8px,#df674f 10.3px,#d65b51 10.8px,#d75d50 11.3px,#d75d50 40.1px)"></div>
<div style="height:2px;background:linear-gradient(90deg,#e16b4f 0px,#e16b4f 9px,#e0694f 9.3px,#db6250 9.8px,#d15451 10.3px,#ca4953 10.8px,#cb4b52 11.3px,#cb4b52 40.1px)"></div>
<div style="height:2px;background:linear-gradient(90deg,#e77750 0px,#e77750 9px,#e7744f 9.3px,#e16b4f 9.8px,#d75d50 10.3px,#cf5052 10.8px,#cf5052 11.3px,#d05252 11.8px,#d05252 40.1px)"></div>
<div style="height:2px;background:linear-gradient(90deg,#e87c53 0px,#e87c53 9px,#e87952 9.3px,#e5704e 9.8px,#d85e50 10.3px,#d05252 10.8px,#d05252 11.3px,#d15451 11.8px,#d15451 40.1px)"></div>
<div style="height:2px;background:linear-gradient(90deg,#f1a367 0px,#f1a367 9px,#f0a066 9.3px,#ed925e 9.8px,#e7744f 10.3px,#dc6450 10.8px,#dc6450 11.3px,#dd664f 11.8px,#dd664f 40.1px)"></div>
<div style="height:2px;background:linear-gradient(90deg,#ef9962 0px,#ef9962 9px,#ee9761 9.3px,#ec8a5a 9.8px,#e46e4e 10.3px,#d85e50 10.8px,#d85e50 40.1px)"></div>
<div style="height:2px;background:linear-gradient(90deg,#ec8d5c 0px,#ec8d5c 9px,#ec8a5a 9.3px,#e97e54 9.8px,#df674f 10.3px,#d35751 10.8px,#d35751 40.1px)"></div>
<div style="height:2px;background:linear-gradient(90deg,#f09e64 0px,#f09e64 9px,#ef9b63 9.3px,#ec8d5c 9.8px,#e5704e 10.3px,#d85e50 10.8px,#d85e50 40.1px)"></div>
<div style="height:2px;background:linear-gradient(90deg,#ef9962 0px,#ef9962 9px,#ee9761 9.3px,#eb8859 9.8px,#e26d4e 10.3px,#d65b51 10.8px,#d65b51 40.1px)"></div>
<div style="height:2px;background:linear-gradient(90deg,#e98155 0px,#e98155 9px,#e97e54 9.3px,#e6724e 9.8px,#d85e50 10.3px,#cd4e52 10.8px,#cd4e52 40.1px)"></div>
<div style="height:2px;background:linear-gradient(90deg,#ed925e 0px,#ed925e 9px,#ed8f5d 9.3px,#ea8357 9.8px,#df674f 10.3px,#d25651 10.8px,#d25651 40.1px)"></div>
<div style="height:2px;background:linear-gradient(90deg,#f2a568 0px,#f2a568 9px,#f1a367 9.3px,#ee945f 9.8px,#e6724e 10.3px,#d85e50 10.8px,#d75d50 11.3px,#d85e50 11.8px,#d85e50 40.1px)"></div>
<div style="height:2px;background:linear-gradient(90deg,#ee9761 0px,#ee9761 9px,#ee945f 9.3px,#ea8558 9.8px,#e0694f 10.3px,#d35751 10.8px,#d25651 11.3px,#d25651 40.1px)"></div>
<div style="height:2px;background:linear-gradient(90deg,#f5b975 0px,#f5b975 9px,#f5b773 9.3px,#f3aa6b 9.8px,#ea8357 10.3px,#df674f 10.8px,#dd664f 11.3px,#dd664f 40.1px)"></div>
<div style="height:2px;background:linear-gradient(90deg,#ee9761 0px,#ee9761 9px,#ee945f 9.3px,#ea8558 9.8px,#e0694f 10.3px,#d25651 10.8px,#d15451 11.3px,#d15451 40.1px)"></div>
<div style="height:2px;background:linear-gradient(90deg,#ef9962 0px,#ef9962 9px,#ee9761 9.3px,#eb8859 9.8px,#e16b4f 10.3px,#d25651 10.8px,#d15451 11.3px,#d15451 40.1px)"></div>
<div style="height:2px;background:linear-gradient(90deg,#ef9b63 0px,#ef9b63 9.3px,#ec8d5c 9.8px,#e26d4e 10.3px,#d35751 10.8px,#d15451 11.3px,#d15451 40.1px)"></div>
<div style="height:2px;background:linear-gradient(90deg,#f0a066 0px,#f0a066 9.3px,#ed925e 9.8px,#e46e4e 10.3px,#d35751 10.8px,#d25651 11.3px,#d25651 40.1px)"></div>
<div style="height:2px;background:linear-gradient(90deg,#f0a066 0px,#f0a066 9.3px,#ed925e 9.8px,#e46e4e 10.3px,#d35751 10.8px,#d15451 11.3px,#d25651 11.8px,#d25651 40.1px)"></div>
<div style="height:2px;background:linear-gradient(90deg,#f4b370 0px,#f4b370 9px,#f4b16f 9.3px,#f1a367 9.8px,#e87c53 10.3px,#d85e50 10.8px,#d65b51 11.3px,#d75d50 11.8px,#d75d50 40.1px)"></div>
<div style="height:2px;background:linear-gradient(90deg,#f5bc78 0px,#f5bc78 9px,#f5ba77 9.3px,#f3ac6c 9.8px,#ea8357 10.3px,#dc6450 10.8px,#da6050 11.3px,#da6050 40.1px)"></div>
<div style="height:2px;background:linear-gradient(90deg,#f0a066 0px,#f0a066 9px,#f09e64 9.3px,#ed8f5d 9.8px,#e26d4e 10.3px,#d15451 10.8px,#d05252 11.3px,#d05252 40.1px)"></div>
<div style="height:2px;background:linear-gradient(90deg,#ec8d5c 0px,#ec8d5c 9.3px,#e97e54 9.8px,#db6250 10.3px,#cc4d52 10.8px,#ca4953 11.3px,#ca4953 40.1px)"></div>
<div style="height:2px;background:linear-gradient(90deg,#f09e64 0px,#f09e64 9px,#ef9b63 9.3px,#ec8d5c 9.8px,#e16b4f 10.3px,#d05252 10.8px,#cd4e52 11.3px,#cf5052 11.8px,#cf5052 40.1px)"></div>
<div style="height:2px;background:linear-gradient(90deg,#f2a568 0px,#f2a568 9px,#f1a367 9.3px,#ee945f 9.8px,#e46e4e 10.3px,#d25651 10.8px,#cf5052 11.3px,#d05252 11.8px,#d05252 40.1px)"></div>
<div style="height:2px;background:linear-gradient(90deg,#f5b975 0px,#f5b975 9px,#f5b773 9.3px,#f3aa6b 9.8px,#e97e54 10.3px,#d85e50 10.8px,#d55951 11.3px,#d65b51 11.8px,#d65b51 40.1px)"></div>
<div style="height:2px;background:linear-gradient(90deg,#f4af6d 0px,#f4af6d 9px,#f3ac6c 9.3px,#f09e64 9.8px,#e7744f 10.3px,#d35751 10.8px,#d15451 11.3px,#d15451 40.1px)"></div>
<div style="height:2px;background:linear-gradient(90deg,#f2a568 0px,#f2a568 9.3px,#ee9761 9.8px,#e46e4e 10.3px,#d15451 10.8px,#cd4e52 11.3px,#cf5052 11.8px,#cf5052 40.1px)"></div>
<div style="height:2px;background:linear-gradient(90deg,#f7c680 0px,#f7c680 9px,#f6c47f 9.3px,#f5b773 9.8px,#ec8a5a 10.3px,#dc6450 10.8px,#d85e50 11.3px,#d85e50 40.1px)"></div>
<div style="height:2px;background:linear-gradient(90deg,#ee9761 0px,#ee9761 9px,#ee945f 9.3px,#ea8558 9.8px,#dd664f 10.3px,#cb4b52 10.8px,#c84753 11.3px,#c84753 40.1px)"></div>
<div style="height:2px;background:linear-gradient(90deg,#ee945f 0px,#ee945f 9.3px,#ea8558 9.8px,#dc6450 10.3px,#cb4b52 10.8px,#c74553 11.3px,#c84753 11.8px,#c84753 40.1px)"></div>
<div style="height:2px;background:linear-gradient(90deg,#f5b975 0px,#f5b975 9px,#f5b773 9.3px,#f3aa6b 9.8px,#e87c53 10.3px,#d55951 10.8px,#d15451 11.3px,#d25651 11.8px,#d25651 40.1px)"></div>
<div style="height:2px;background:linear-gradient(90deg,#f4af6d 0px,#f4af6d 9.3px,#f09e64 9.8px,#e6724e 10.3px,#d15451 10.8px,#cd4e52 11.3px,#cf5052 11.8px,#cf5052 40.1px)"></div>
<div style="height:2px;background:linear-gradient(90deg,#f2a869 0px,#f2a869 9px,#f2a568 9.3px,#ee9761 9.8px,#e26d4e 10.3px,#cf5052 10.8px,#cb4b52 11.3px,#cb4b52 40.1px)"></div>
<div style="height:2px;background:linear-gradient(90deg,#ee945f 0px,#ee945f 9.3px,#ea8558 9.8px,#dc6450 10.3px,#ca4953 10.8px,#c54353 11.3px,#c54353 40.1px)"></div>
<div style="height:2px;background:linear-gradient(90deg,#f3ac6c 0px,#f3ac6c 9.3px,#ef9b63 9.8px,#e5704e 10.3px,#d05252 10.8px,#cb4b52 11.3px,#cc4d52 11.8px,#cc4d52 40.1px)"></div>
<div style="height:2px;background:linear-gradient(90deg,#f3ac6c 0px,#f3ac6c 9px,#f3aa6b 9.3px,#ef9b63 9.8px,#e46e4e 10.3px,#cf5052 10.8px,#cb4b52 11.3px,#cb4b52 40.1px)"></div>
<div style="height:2px;background:linear-gradient(90deg,#f09e64 0px,#f09e64 9.3px,#ed8f5d 9.8px,#df674f 10.3px,#cb4b52 10.8px,#c54353 11.3px,#c74553 11.8px,#c74553 40.1px)"></div>
<div style="height:2px;background:linear-gradient(90deg,#f3aa6b 0px,#f3aa6b 9px,#f2a869 9.3px,#ef9962 9.8px,#e26d4e 10.3px,#cd4e52 10.8px,#c84753 11.3px,#ca4953 11.8px,#ca4953 40.1px)"></div>
<div style="height:2px;background:linear-gradient(90deg,#ed925e 0px,#ed925e 9px,#ed8f5d 9.3px,#ea8357 9.8px,#da6050 10.3px,#c54353 10.8px,#bf3c51 11.3px,#bf3c51 40.1px)"></div>
<div style="height:2px;background:linear-gradient(90deg,#f5b572 0px,#f5b572 9px,#f4b370 9.3px,#f2a568 9.8px,#e7744f 10.3px,#d05252 10.8px,#cb4b52 11.3px,#cc4d52 11.8px,#cc4d52 40.1px)"></div>
<div style="height:2px;background:linear-gradient(90deg,#ee945f 0px,#ee945f 9px,#ed925e 9.3px,#ea8558 9.8px,#db6250 10.3px,#c54353 10.8px,#bf3c51 11.3px,#bf3c51 40.1px)"></div>
<div style="height:2px;background:linear-gradient(90deg,#f4b16f 0px,#f4b16f 9px,#f4af6d 9.3px,#f0a066 9.8px,#e5704e 10.3px,#cf5052 10.8px,#ca4953 11.3px,#ca4953 40.1px)"></div>
<div style="height:2px;background:linear-gradient(90deg,#ee945f 0px,#ee945f 9px,#ed925e 9.3px,#ea8558 9.8px,#db6250 10.3px,#c54353 10.8px,#bf3c51 11.3px,#bf3c51 40.1px)"></div>
<div style="height:2px;background:linear-gradient(90deg,#ed925e 0px,#ed925e 9.3px,#ea8357 9.8px,#da6050 10.3px,#c54353 10.8px,#bf3c51 11.3px,#bf3c51 40.1px)"></div>
<div style="height:2px;background:linear-gradient(90deg,#ef9b63 0px,#ef9b63 9.3px,#ec8d5c 9.8px,#dd664f 10.3px,#c84753 10.8px,#c13f51 11.3px,#c34152 11.8px,#c34152 40.1px)"></div>
<div style="height:2px;background:linear-gradient(90deg,#ed925e 0px,#ed925e 9.3px,#ea8357 9.8px,#da6050 10.3px,#c54353 10.8px,#bd3a50 11.3px,#bd3a50 40.1px)"></div>
<div style="height:2px;background:linear-gradient(90deg,#f2a568 0px,#f2a568 9.3px,#ee9761 9.8px,#e16b4f 10.3px,#cb4b52 10.8px,#c54353 11.3px,#c54353 40.1px)"></div>
<div style="height:2px;background:linear-gradient(90deg,#ed8f5d 0px,#ed8f5d 9px,#ec8d5c 9.3px,#e98155 9.8px,#d85e50 10.3px,#c34152 10.8px,#bb384f 11.3px,#bb384f 40.1px)"></div>
<div style="height:2px;background:linear-gradient(90deg,#ef9b63 0px,#ef9b63 9.3px,#ec8d5c 9.8px,#dd664f 10.3px,#c74553 10.8px,#c13f51 11.3px,#c13f51 40.1px)"></div>
<div style="height:2px;background:linear-gradient(90deg,#f1a367 0px,#f1a367 9px,#f0a066 9.3px,#ee945f 9.8px,#e0694f 10.3px,#c84753 10.8px,#c34152 11.3px,#c34152 40.1px)"></div>
<div style="height:2px;background:linear-gradient(90deg,#f1a367 0px,#f1a367 9.3px,#ee945f 9.8px,#e0694f 10.3px,#c84753 10.8px,#c34152 11.3px,#c34152 40.1px)"></div>
<div style="height:2px;background:linear-gradient(90deg,#f0a066 0px,#f0a066 9.3px,#ee945f 9.8px,#e0694f 10.3px,#c84753 10.8px,#c13f51 11.3px,#c13f51 40.1px)"></div>
</div>
<div style="position:absolute;left:198.7px;top:111.5px;width:46.8px;height:236.8px;overflow:hidden">
<div style="height:2px;background:linear-gradient(90deg,#c84753 0px,#c84753 6px,#cb4b52 8.9px,#cc4d52 9px,#d15451 9.4px,#d75d50 9.9px,#df674f 10.4px,#e97e54 10.9px,#fefbc2 11.4px,#eff7b1 11.9px,#eff7b1 12.9px,#fefbc2 13.4px,#e97e54 13.9px,#df674f 14.4px,#d55951 14.9px,#d25651 15px,#cb4b52 15.4px,#bf3c51 15.9px,#bb384f 18px,#bb384f 30px,#ca4953 33px,#cc4d52 36px,#cc4d52 46.8px)"></div>
<div style="height:2px;background:linear-gradient(90deg,#ca4953 0px,#ca4953 6px,#cc4d52 8.9px,#cd4e52 9px,#d15451 9.4px,#d85e50 9.9px,#e0694f 10.4px,#e98155 10.9px,#fefdc6 11.4px,#eef6ae 11.9px,#eef6ae 12.9px,#fefdc6 13.4px,#e98155 13.9px,#df674f 14.4px,#d65b51 14.9px,#d35751 15px,#cb4b52 15.4px,#c13f51 15.9px,#bb384f 18px,#bb384f 30px,#cb4b52 33px,#cc4d52 36px,#cc4d52 46.8px)"></div>
<div style="height:2px;background:linear-gradient(90deg,#c84753 0px,#c84753 6px,#cb4b52 8.9px,#cc4d52 9px,#d15451 9.4px,#d85e50 9.9px,#e0694f 10.4px,#e97e54 10.9px,#fefbc2 11.4px,#eef7b0 11.9px,#eef7b0 12.9px,#fefbc2 13.4px,#e97e54 13.9px,#df674f 14.4px,#d55951 14.9px,#d25651 15px,#cb4b52 15.4px,#bf3c51 15.9px,#bb384f 18px,#bb384f 30px,#ca4953 33px,#cb4b52 36px,#cb4b52 46.8px)"></div>
<div style="height:2px;background:linear-gradient(90deg,#c84753 0px,#c84753 6px,#cb4b52 8.9px,#cc4d52 9px,#d15451 9.4px,#d85e50 9.9px,#e0694f 10.4px,#e98155 10.9px,#fefcc4 11.4px,#eef6ae 11.9px,#eef6ae 12.9px,#fefcc4 13.4px,#e97e54 13.9px,#df674f 14.4px,#d55951 14.9px,#d35751 15px,#cb4b52 15.4px,#bf3c51 15.9px,#b8354e 18px,#b8354e 30px,#ca4953 33px,#cb4b52 36px,#cb4b52 46.8px)"></div>
<div style="height:2px;background:linear-gradient(90deg,#c74553 0px,#c74553 6px,#ca4953 8.9px,#cb4b52 9px,#cf5052 9.4px,#d65b51 9.9px,#dd664f 10.4px,#e87952 10.9px,#fdf7bd 11.4px,#f1f8b4 11.9px,#f1f8b4 12.9px,#fdf7bd 13.4px,#e87952 13.9px,#dd664f 14.4px,#d35751 14.9px,#d15451 15px,#c84753 15.4px,#bd3a50 15.9px,#b6334e 18px,#b6334e 30px,#c74553 33px,#c84753 36px,#c84753 46.8px)"></div>
<div style="height:2px;background:linear-gradient(90deg,#c74553 0px,#c74553 6px,#ca4953 8.9px,#cb4b52 9px,#d05252 9.4px,#d75d50 9.9px,#df674f 10.4px,#e87c53 10.9px,#fdf9be 11.4px,#eef7b0 11.9px,#eef7b0 12.9px,#fdf9be 13.4px,#e87c53 13.9px,#dd664f 14.4px,#d35751 14.9px,#d25651 15px,#ca4953 15.4px,#bd3a50 15.9px,#b6334e 18px,#b6334e 30px,#c74553 33px,#ca4953 36px,#ca4953 46.8px)"></div>
<div style="height:2px;background:linear-gradient(90deg,#c74553 0px,#c74553 6px,#ca4953 8.9px,#ca4953 9px,#cf5052 9.4px,#d65b51 9.9px,#df674f 10.4px,#e87952 10.9px,#fdf6bb 11.4px,#f0f8b2 11.9px,#f0f8b2 12.9px,#fdf6bb 13.4px,#e87952 13.9px,#dd664f 14.4px,#d35751 14.9px,#d15451 15px,#c84753 15.4px,#bd3a50 15.9px,#b6334e 18px,#b6334e 30px,#c54353 33px,#c84753 36px,#c84753 46.8px)"></div>
<div style="height:2px;background:linear-gradient(90deg,#c34152 0px,#c34152 6px,#c74553 8.9px,#c84753 9px,#cd4e52 9.4px,#d55951 9.9px,#dc6450 10.4px,#e7744f 10.9px,#fcf3b5 11.4px,#f4f9b8 11.9px,#f4f9b8 12.9px,#fcf3b5 13.4px,#e7744f 13.9px,#db6250 14.4px,#d15451 14.9px,#d05252 15px,#c74553 15.4px,#b8354e 15.9px,#b4314d 18px,#b4314d 30px,#c34152 33px,#c54353 36px,#c54353 46.8px)"></div>
<div style="height:2px;background:linear-gradient(90deg,#c54353 0px,#c54353 6px,#ca4953 8.9px,#ca4953 9px,#cf5052 9.4px,#d65b51 9.9px,#df674f 10.4px,#e87952 10.9px,#fdf6bb 11.4px,#eff7b1 11.9px,#eff7b1 12.9px,#fdf6bb 13.4px,#e87952 13.9px,#dd664f 14.4px,#d35751 14.9px,#d15451 15px,#c84753 15.4px,#bd3a50 15.9px,#b6334e 18px,#b6334e 30px,#c54353 33px,#c74553 36px,#c74553 46.8px)"></div>
<div style="height:2px;background:linear-gradient(90deg,#c34152 0px,#c34152 6px,#c74553 8.9px,#c84753 9px,#cd4e52 9.4px,#d55951 9.9px,#dc6450 10.4px,#e6724e 10.9px,#fcf0b1 11.4px,#f4f9b8 11.9px,#f4f9b8 12.9px,#fcf0b1 13.4px,#e6724e 13.9px,#db6250 14.4px,#d15451 14.9px,#cf5052 15px,#c74553 15.4px,#b8354e 15.9px,#b22e4c 18px,#b22e4c 30px,#c13f51 33px,#c34152 36px,#c34152 46.8px)"></div>
<div style="height:2px;background:linear-gradient(90deg,#c13f51 0px,#c13f51 6px,#c54353 8.9px,#c74553 9px,#cb4b52 9.4px,#d25651 9.9px,#da6050 10.4px,#e46e4e 10.9px,#fcedac 11.4px,#f7fbbc 11.9px,#f7fbbc 12.9px,#fcedac 13.4px,#e46e4e 13.9px,#da6050 14.4px,#d05252 14.9px,#cd4e52 15px,#c54353 15.4px,#b6334e 15.9px,#b22e4c 18px,#b22e4c 30px,#bf3c51 33px,#c13f51 36px,#c13f51 46.8px)"></div>
<div style="height:2px;background:linear-gradient(90deg,#c13f51 0px,#c13f51 6px,#c54353 8.9px,#c74553 9px,#cc4d52 9.4px,#d35751 9.9px,#db6250 10.4px,#e5704e 10.9px,#fceead 11.4px,#f5faba 11.9px,#f5faba 12.9px,#fceead 13.4px,#e5704e 13.9px,#da6050 14.4px,#d15451 14.9px,#cf5052 15px,#c54353 15.4px,#b8354e 15.9px,#b22e4c 18px,#b22e4c 30px,#bf3c51 33px,#c13f51 36px,#c13f51 46.8px)"></div>
<div style="height:2px;background:linear-gradient(90deg,#c13f51 0px,#c13f51 6px,#c54353 8.9px,#c74553 9px,#cb4b52 9.4px,#d25651 9.9px,#db6250 10.4px,#e46e4e 10.9px,#fbecaa 11.4px,#f7fbbc 11.9px,#f7fbbc 12.9px,#fbecaa 13.4px,#e46e4e 13.9px,#da6050 14.4px,#d05252 14.9px,#cd4e52 15px,#c54353 15.4px,#b6334e 15.9px,#b22e4c 18px,#b22e4c 30px,#bd3a50 33px,#c13f51 36px,#c13f51 46.8px)"></div>
<div style="height:2px;background:linear-gradient(90deg,#c13f51 0px,#c13f51 6px,#c54353 8.9px,#c54353 9px,#cb4b52 9.4px,#d25651 9.9px,#db6250 10.4px,#e46e4e 10.9px,#fbeba8 11.4px,#f7fbbc 11.9px,#f7fbbc 12.9px,#fbeba8 13.4px,#e46e4e 13.9px,#da6050 14.4px,#d05252 14.9px,#cd4e52 15px,#c54353 15.4px,#b6334e 15.9px,#b22e4c 18px,#b22e4c 30px,#bd3a50 33px,#bf3c51 36px,#bf3c51 46.8px)"></div>
<div style="height:2px;background:linear-gradient(90deg,#c13f51 0px,#c13f51 6px,#c54353 8.9px,#c74553 9px,#cc4d52 9.4px,#d55951 9.9px,#dc6450 10.4px,#e5704e 10.9px,#fcedac 11.4px,#f5faba 11.9px,#f5faba 12.9px,#fcedac 13.4px,#e5704e 13.9px,#db6250 14.4px,#d15451 14.9px,#cf5052 15px,#c74553 15.4px,#b8354e 15.9px,#b22e4c 18px,#b22e4c 30px,#bf3c51 33px,#c13f51 36px,#c13f51 46.8px)"></div>
<div style="height:2px;background:linear-gradient(90deg,#bf3c51 0px,#bf3c51 6px,#c34152 8.9px,#c54353 9px,#cb4b52 9.4px,#d25651 9.9px,#db6250 10.4px,#e46e4e 10.9px,#fbe8a4 11.4px,#f9fcbf 11.9px,#f9fcbf 12.9px,#fbe8a4 13.4px,#e26d4e 13.9px,#da6050 14.4px,#d05252 14.9px,#cd4e52 15px,#c54353 15.4px,#b6334e 15.9px,#b02c4c 18px,#b02c4c 30px,#bd3a50 33px,#bf3c51 36px,#bf3c51 46.8px)"></div>
<div style="height:2px;background:linear-gradient(90deg,#c13f51 0px,#c13f51 6px,#c74553 8.9px,#c74553 9px,#cd4e52 9.4px,#d55951 9.9px,#dc6450 10.4px,#e5704e 10.9px,#fbecaa 11.4px,#f5faba 11.9px,#f5faba 12.9px,#fbecaa 13.4px,#e5704e 13.9px,#dc6450 14.4px,#d15451 14.9px,#d05252 15px,#c74553 15.4px,#b8354e 15.9px,#b22e4c 18px,#b22e4c 30px,#bd3a50 33px,#bf3c51 36px,#bf3c51 46.8px)"></div>
<div style="height:2px;background:linear-gradient(90deg,#bf3c51 0px,#bf3c51 6px,#c34152 8.9px,#c54353 9px,#cb4b52 9.4px,#d25651 9.9px,#da6050 10.4px,#e16b4f 10.9px,#fae59e 11.4px,#fbfcc2 11.9px,#fbfcc2 12.9px,#fae59e 13.4px,#e16b4f 13.9px,#d85e50 14.4px,#cf5052 14.9px,#cd4e52 15px,#c34152 15.4px,#b4314d 15.9px,#b02c4c 18px,#b02c4c 30px,#bb384f 33px,#bb384f 46.8px)"></div>
<div style="height:2px;background:linear-gradient(90deg,#bf3c51 0px,#bf3c51 6px,#c34152 8.9px,#c54353 9px,#cb4b52 9.4px,#d25651 9.9px,#db6250 10.4px,#e26d4e 10.9px,#fae59e 11.4px,#fafcc1 11.9px,#fafcc1 12.9px,#fae59e 13.4px,#e26d4e 13.9px,#da6050 14.4px,#d05252 14.9px,#cd4e52 15px,#c54353 15.4px,#b6334e 15.9px,#b02c4c 18px,#b02c4c 30px,#bb384f 33px,#bd3a50 36px,#bd3a50 46.8px)"></div>
<div style="height:2px;background:linear-gradient(90deg,#bd3a50 0px,#bd3a50 6px,#c13f51 8.9px,#c34152 9px,#ca4953 9.4px,#d25651 9.9px,#da6050 10.4px,#e16b4f 10.9px,#fae29b 11.4px,#fdfdc5 11.9px,#fdfdc5 12.9px,#fae29b 13.4px,#e16b4f 13.9px,#d85e50 14.4px,#cf5052 14.9px,#cd4e52 15px,#c34152 15.4px,#b4314d 15.9px,#b02c4c 18px,#b02c4c 30px,#b8354e 33px,#bb384f 36px,#bb384f 46.8px)"></div>
<div style="height:2px;background:linear-gradient(90deg,#bb384f 0px,#bb384f 6px,#bf3c51 8.9px,#c13f51 9px,#c84753 9.4px,#d05252 9.9px,#d75d50 10.4px,#df674f 10.9px,#f9da92 11.4px,#fdf9be 11.9px,#fdf9be 12.9px,#f9da92 13.4px,#dd664f 13.9px,#d65b51 14.4px,#cc4d52 14.9px,#cb4b52 15px,#bf3c51 15.4px,#b22e4c 15.9px,#ac274a 18px,#ac274a 30px,#b4314d 33px,#b6334e 36px,#b6334e 46.8px)"></div>
<div style="height:2px;background:linear-gradient(90deg,#bd3a50 0px,#bd3a50 6px,#c13f51 8.9px,#c34152 9px,#ca4953 9.4px,#d15451 9.9px,#da6050 10.4px,#e0694f 10.9px,#f9de95 11.4px,#fefdc6 11.9px,#fefdc6 12.9px,#f9de95 13.4px,#e0694f 13.9px,#d85e50 14.4px,#cf5052 14.9px,#cc4d52 15px,#c34152 15.4px,#b4314d 15.9px,#ae2a4b 18px,#ae2a4b 30px,#b6334e 33px,#b8354e 36px,#b8354e 46.8px)"></div>
<div style="height:2px;background:linear-gradient(90deg,#bd3a50 0px,#bd3a50 6px,#c13f51 8.9px,#c34152 9px,#ca4953 9.4px,#d15451 9.9px,#da6050 10.4px,#e0694f 10.9px,#f9dc94 11.4px,#fefdc6 11.9px,#fefdc6 12.9px,#f9dc94 13.4px,#e0694f 13.9px,#d85e50 14.4px,#cf5052 14.9px,#cc4d52 15px,#c34152 15.4px,#b4314d 15.9px,#ae2a4b 18px,#ae2a4b 30px,#b6334e 33px,#b6334e 46.8px)"></div>
<div style="height:2px;background:linear-gradient(90deg,#bd3a50 0px,#bd3a50 6px,#c13f51 8.9px,#c34152 9px,#ca4953 9.4px,#d25651 9.9px,#da6050 10.4px,#e16b4f 10.9px,#f9dc94 11.4px,#fefdc6 11.9px,#fefdc6 12.9px,#f9dc94 13.4px,#e16b4f 13.9px,#d85e50 14.4px,#cf5052 14.9px,#cd4e52 15px,#c34152 15.4px,#b4314d 15.9px,#ae2a4b 18px,#ae2a4b 30px,#b6334e 33px,#b6334e 46.8px)"></div>
<div style="height:2px;background:linear-gradient(90deg,#b8354e 0px,#b8354e 6px,#bd3a50 8.9px,#bf3c51 9px,#c74553 9.4px,#cf5052 9.9px,#d75d50 10.4px,#dd664f 10.9px,#f8d18a 11.4px,#fdf5b9 11.9px,#fdf5b9 12.9px,#f8d18a 13.4px,#dd664f 13.9px,#d65b51 14.4px,#cc4d52 14.9px,#cb4b52 15px,#bf3c51 15.4px,#b22e4c 15.9px,#ac274a 18px,#ac274a 30px,#b22e4c 33px,#b22e4c 46.8px)"></div>
<div style="height:2px;background:linear-gradient(90deg,#bb384f 0px,#bb384f 6px,#c13f51 8.9px,#c13f51 9px,#ca4953 9.4px,#d15451 9.9px,#da6050 10.4px,#e0694f 10.9px,#f9d890 11.4px,#fefbc2 11.9px,#fefbc2 12.9px,#f9d890 13.4px,#e0694f 13.9px,#d85e50 14.4px,#cf5052 14.9px,#cc4d52 15px,#c34152 15.4px,#b4314d 15.9px,#ae2a4b 18px,#ae2a4b 30px,#b4314d 33px,#b4314d 46.8px)"></div>
<div style="height:2px;background:linear-gradient(90deg,#bb384f 0px,#bb384f 6px,#c13f51 8.9px,#c13f51 9px,#ca4953 9.4px,#d15451 9.9px,#da6050 10.4px,#e0694f 10.9px,#f9d78f 11.4px,#fdfac0 11.9px,#fdfac0 12.9px,#f9d78f 13.4px,#e0694f 13.9px,#d85e50 14.4px,#cf5052 14.9px,#cc4d52 15px,#c34152 15.4px,#b4314d 15.9px,#ae2a4b 18px,#ae2a4b 30px,#b4314d 33px,#b4314d 46.8px)"></div>
<div style="height:2px;background:linear-gradient(90deg,#b8354e 0px,#b8354e 6px,#bd3a50 8.9px,#bf3c51 9px,#c74553 9.4px,#cf5052 9.9px,#d65b51 10.4px,#dc6450 10.9px,#f7cb85 11.4px,#fcf3b5 11.9px,#fcf3b5 12.9px,#f7cb85 13.4px,#dc6450 13.9px,#d65b51 14.4px,#cc4d52 14.9px,#ca4953 15px,#bf3c51 15.4px,#b02c4c 15.9px,#ac274a 18px,#ac274a 30px,#b02c4c 33px,#b02c4c 46.8px)"></div>
<div style="height:2px;background:linear-gradient(90deg,#b8354e 0px,#b8354e 6px,#bd3a50 8.9px,#bf3c51 9px,#c84753 9.4px,#d05252 9.9px,#d75d50 10.4px,#dd664f 10.9px,#f7cd87 11.4px,#fdf5b9 11.9px,#fdf5b9 12.9px,#f7cd87 13.4px,#dd664f 13.9px,#d75d50 14.4px,#cd4e52 14.9px,#cb4b52 15px,#c13f51 15.4px,#b22e4c 15.9px,#ac274a 18px,#ac274a 30px,#b02c4c 33px,#b22e4c 36px,#b22e4c 46.8px)"></div>
<div style="height:2px;background:linear-gradient(90deg,#bb384f 0px,#bb384f 6px,#bf3c51 8.9px,#c13f51 9px,#c84753 9.4px,#d15451 9.9px,#d85e50 10.4px,#df674f 10.9px,#f8cf88 11.4px,#fdf6bb 11.9px,#fdf6bb 12.9px,#f8cf88 13.4px,#df674f 13.9px,#d85e50 14.4px,#cf5052 14.9px,#cc4d52 15px,#c13f51 15.4px,#b22e4c 15.9px,#ae2a4b 18px,#ae2a4b 30px,#b02c4c 33px,#b22e4c 36px,#b22e4c 46.8px)"></div>
<div style="height:2px;background:linear-gradient(90deg,#b4314d 0px,#b4314d 6px,#bb384f 8.9px,#bb384f 9px,#c34152 9.4px,#cd4e52 9.9px,#d55951 10.4px,#da6050 10.9px,#f6c27d 11.4px,#fbecaa 11.9px,#fbecaa 12.9px,#f6c27d 13.4px,#da6050 13.9px,#d35751 14.4px,#cb4b52 14.9px,#c84753 15px,#bd3a50 15.4px,#ae2a4b 15.9px,#a92549 18px,#a92549 30px,#ac274a 33px,#ae2a4b 36px,#ae2a4b 46.8px)"></div>
<div style="height:2px;background:linear-gradient(90deg,#b8354e 0px,#b8354e 6px,#bd3a50 8.9px,#bf3c51 9px,#c74553 9.4px,#cf5052 9.9px,#d75d50 10.4px,#dd664f 10.9px,#f7c882 11.4px,#fcf2b3 11.9px,#fcf2b3 12.9px,#f7c882 13.4px,#dd664f 13.9px,#d65b51 14.4px,#cd4e52 14.9px,#cb4b52 15px,#bf3c51 15.4px,#b22e4c 15.9px,#ac274a 18px,#ac274a 30px,#ae2a4b 33px,#ae2a4b 46.8px)"></div>
<div style="height:2px;background:linear-gradient(90deg,#b4314d 0px,#b4314d 6px,#b8354e 8.9px,#bb384f 9px,#c34152 9.4px,#cc4d52 9.9px,#d35751 10.4px,#da6050 10.9px,#f5bc78 11.4px,#fbe9a6 11.9px,#fbe9a6 12.9px,#f5bc78 13.4px,#da6050 13.9px,#d35751 14.4px,#ca4953 14.9px,#c84753 15px,#bb384f 15.4px,#ae2a4b 15.9px,#a92549 18px,#a92549 46.8px)"></div>
<div style="height:2px;background:linear-gradient(90deg,#b6334e 0px,#b6334e 6px,#bb384f 8.9px,#bd3a50 9px,#c54353 9.4px,#cf5052 9.9px,#d65b51 10.4px,#dc6450 10.9px,#f6c27d 11.4px,#fceead 11.9px,#fceead 12.9px,#f6c27d 13.4px,#dc6450 13.9px,#d65b51 14.4px,#cc4d52 14.9px,#ca4953 15px,#bf3c51 15.4px,#b02c4c 15.9px,#ac274a 18px,#ac274a 46.8px)"></div>
<div style="height:2px;background:linear-gradient(90deg,#b8354e 0px,#b8354e 6px,#bd3a50 8.9px,#bf3c51 9px,#c74553 9.4px,#d05252 9.9px,#d75d50 10.4px,#dd664f 10.9px,#f6c47f 11.4px,#fcf0b1 11.9px,#fcf0b1 12.9px,#f6c47f 13.4px,#dd664f 13.9px,#d75d50 14.4px,#cd4e52 14.9px,#cb4b52 15px,#c13f51 15.4px,#b22e4c 15.9px,#ac274a 18px,#ac274a 30px,#ae2a4b 33px,#ae2a4b 46.8px)"></div>
<div style="height:2px;background:linear-gradient(90deg,#b4314d 0px,#b4314d 6px,#b8354e 8.9px,#bb384f 9px,#c54353 9.4px,#cd4e52 9.9px,#d55951 10.4px,#db6250 10.9px,#f5ba77 11.4px,#fbeba8 11.9px,#fbeba8 12.9px,#f5ba77 13.4px,#db6250 13.9px,#d55951 14.4px,#cb4b52 14.9px,#ca4953 15px,#bd3a50 15.4px,#b02c4c 15.9px,#a92549 18px,#a92549 46.8px)"></div>
<div style="height:2px;background:linear-gradient(90deg,#b6334e 0px,#b6334e 6px,#bb384f 8.9px,#bd3a50 9px,#c54353 9.4px,#cd4e52 9.9px,#d65b51 10.4px,#dc6450 10.9px,#f5bc78 11.4px,#fbecaa 11.9px,#fbecaa 12.9px,#f5bc78 13.4px,#db6250 13.9px,#d55951 14.4px,#cc4d52 14.9px,#ca4953 15px,#bf3c51 15.4px,#b02c4c 15.9px,#ac274a 18px,#ac274a 46.8px)"></div>
<div style="height:2px;background:linear-gradient(90deg,#b22e4c 0px,#b22e4c 6px,#b6334e 8.9px,#b8354e 9px,#c13f51 9.4px,#cb4b52 9.9px,#d25651 10.4px,#d85e50 10.9px,#f4b16f 11.4px,#fae39c 11.9px,#fae39c 12.9px,#f4b16f 13.4px,#d85e50 13.9px,#d25651 14.4px,#c84753 14.9px,#c74553 15px,#bb384f 15.4px,#ae2a4b 15.9px,#a72249 18px,#a72249 46.8px)"></div>
<div style="height:2px;background:linear-gradient(90deg,#b22e4c 0px,#b22e4c 6px,#b8354e 8.9px,#b8354e 9px,#c13f51 9.4px,#cc4d52 9.9px,#d35751 10.4px,#d85e50 10.9px,#f4b370 11.4px,#fbe6a0 11.9px,#fbe6a0 12.9px,#f4b370 13.4px,#d85e50 13.9px,#d25651 14.4px,#ca4953 14.9px,#c74553 15px,#bb384f 15.4px,#ae2a4b 15.9px,#a92549 18px,#a92549 46.8px)"></div>
<div style="height:2px;background:linear-gradient(90deg,#b22e4c 0px,#b22e4c 6px,#b6334e 8.9px,#b8354e 9px,#c13f51 9.4px,#cb4b52 9.9px,#d35751 10.4px,#d85e50 10.9px,#f4b16f 11.4px,#fae59e 11.9px,#fae59e 12.9px,#f4b16f 13.4px,#d85e50 13.9px,#d25651 14.4px,#ca4953 14.9px,#c74553 15px,#bb384f 15.4px,#ae2a4b 15.9px,#a92549 18px,#a92549 46.8px)"></div>
<div style="height:2px;background:linear-gradient(90deg,#b4314d 0px,#b4314d 6px,#b8354e 8.9px,#bb384f 9px,#c34152 9.4px,#cc4d52 9.9px,#d55951 10.4px,#da6050 10.9px,#f4b370 11.4px,#fbe7a2 11.9px,#fbe7a2 12.9px,#f4b370 13.4px,#da6050 13.9px,#d35751 14.4px,#cb4b52 14.9px,#c84753 15px,#bd3a50 15.4px,#b02c4c 15.9px,#a92549 18px,#a92549 46.8px)"></div>
<div style="height:2px;background:linear-gradient(90deg,#b22e4c 0px,#b22e4c 6px,#b6334e 8.9px,#b8354e 9px,#c13f51 9.4px,#cb4b52 9.9px,#d25651 10.4px,#d75d50 10.9px,#f3ac6c 11.4px,#fae29b 11.9px,#fae29b 12.9px,#f3ac6c 13.4px,#d75d50 13.9px,#d25651 14.4px,#ca4953 14.9px,#c74553 15px,#bb384f 15.4px,#ae2a4b 15.9px,#a92549 18px,#a92549 46.8px)"></div>
<div style="height:2px;background:linear-gradient(90deg,#b4314d 0px,#b4314d 6px,#b8354e 8.9px,#b8354e 9px,#c13f51 9.4px,#cc4d52 9.9px,#d35751 10.4px,#d85e50 10.9px,#f3ac6c 11.4px,#fae39c 11.9px,#fae39c 12.9px,#f3ac6c 13.4px,#d85e50 13.9px,#d25651 14.4px,#ca4953 14.9px,#c84753 15px,#bd3a50 15.4px,#b02c4c 15.9px,#a92549 18px,#a92549 46.8px)"></div>
<div style="height:2px;background:linear-gradient(90deg,#b22e4c 0px,#b22e4c 6px,#b6334e 8.9px,#b8354e 9px,#c13f51 9.4px,#ca4953 9.9px,#d25651 10.4px,#d75d50 10.9px,#f2a869 11.4px,#fae097 11.9px,#fae097 12.9px,#f2a869 13.4px,#d75d50 13.9px,#d15451 14.4px,#c84753 14.9px,#c74553 15px,#bb384f 15.4px,#ae2a4b 15.9px,#a72249 18px,#a72249 46.8px)"></div>
<div style="height:2px;background:linear-gradient(90deg,#b02c4c 0px,#b02c4c 6px,#b4314d 8.9px,#b6334e 9px,#bf3c51 9.4px,#ca4953 9.9px,#d15451 10.4px,#d65b51 10.9px,#f0a066 11.4px,#f9dc94 11.9px,#f9dc94 12.9px,#f0a066 13.4px,#d65b51 13.9px,#d05252 14.4px,#c74553 14.9px,#c54353 15px,#b8354e 15.4px,#ac274a 15.9px,#a72249 18px,#a72249 46.8px)"></div>
<div style="height:2px;background:linear-gradient(90deg,#b02c4c 0px,#b02c4c 6px,#b4314d 8.9px,#b6334e 9px,#bf3c51 9.4px,#ca4953 9.9px,#d15451 10.4px,#d65b51 10.9px,#f0a066 11.4px,#f9dc94 11.9px,#f9dc94 12.9px,#f0a066 13.4px,#d65b51 13.9px,#d15451 14.4px,#c84753 14.9px,#c54353 15px,#b8354e 15.4px,#ae2a4b 15.9px,#a72249 18px,#a72249 46.8px)"></div>
<div style="height:2px;background:linear-gradient(90deg,#b02c4c 0px,#b02c4c 6px,#b4314d 8.9px,#b6334e 9px,#bf3c51 9.4px,#ca4953 9.9px,#d15451 10.4px,#d65b51 10.9px,#f09e64 11.4px,#f9da92 11.9px,#f9da92 12.9px,#f09e64 13.4px,#d65b51 13.9px,#d05252 14.4px,#c74553 14.9px,#c54353 15px,#b8354e 15.4px,#ae2a4b 15.9px,#a72249 18px,#a72249 46.8px)"></div>
<div style="height:2px;background:linear-gradient(90deg,#b02c4c 0px,#b02c4c 6px,#b4314d 8.9px,#b4314d 9px,#bd3a50 9.4px,#c84753 9.9px,#d05252 10.4px,#d55951 10.9px,#ef9962 11.4px,#f8d58d 11.9px,#f8d58d 12.9px,#ef9962 13.4px,#d55951 13.9px,#cf5052 14.4px,#c74553 14.9px,#c34152 15px,#b8354e 15.4px,#ac274a 15.9px,#a72249 18px,#a72249 46.8px)"></div>
<div style="height:2px;background:linear-gradient(90deg,#b02c4c 0px,#b02c4c 6px,#b4314d 8.9px,#b6334e 9px,#bf3c51 9.4px,#ca4953 9.9px,#d05252 10.4px,#d65b51 10.9px,#ef9962 11.4px,#f8d58d 11.9px,#f8d58d 12.9px,#ef9962 13.4px,#d55951 13.9px,#d05252 14.4px,#c74553 14.9px,#c54353 15px,#b8354e 15.4px,#ae2a4b 15.9px,#a72249 18px,#a72249 46.8px)"></div>
<div style="height:2px;background:linear-gradient(90deg,#ae2a4b 0px,#ae2a4b 6px,#b22e4c 8.9px,#b4314d 9px,#bb384f 9.4px,#c74553 9.9px,#cf5052 10.4px,#d35751 10.9px,#ed8f5d 11.4px,#f7cd87 11.9px,#f7cd87 12.9px,#ed8f5d 13.4px,#d35751 13.9px,#cd4e52 14.4px,#c54353 14.9px,#c13f51 15px,#b6334e 15.4px,#ac274a 15.9px,#a72249 18px,#a72249 46.8px)"></div>
<div style="height:2px;background:linear-gradient(90deg,#b02c4c 0px,#b02c4c 6px,#b22e4c 8.9px,#b4314d 9px,#bd3a50 9.4px,#c84753 9.9px,#cf5052 10.4px,#d35751 10.9px,#ed8f5d 11.4px,#f7cd87 11.9px,#f7cd87 12.9px,#ed8f5d 13.4px,#d35751 13.9px,#cf5052 14.4px,#c54353 14.9px,#c34152 15px,#b8354e 15.4px,#ac274a 15.9px,#a72249 18px,#a72249 46.8px)"></div>
<div style="height:2px;background:linear-gradient(90deg,#b02c4c 0px,#b02c4c 6px,#b4314d 8.9px,#b4314d 9px,#bd3a50 9.4px,#c84753 9.9px,#cf5052 10.4px,#d35751 10.9px,#ed8f5d 11.4px,#f7cb85 11.9px,#f7cb85 12.9px,#ed8f5d 13.4px,#d35751 13.9px,#cf5052 14.4px,#c54353 14.9px,#c34152 15px,#b8354e 15.4px,#ac274a 15.9px,#a72249 18px,#a72249 46.8px)"></div>
<div style="height:2px;background:linear-gradient(90deg,#ae2a4b 0px,#ae2a4b 6px,#b22e4c 8.9px,#b22e4c 9px,#bb384f 9.4px,#c54353 9.9px,#cd4e52 10.4px,#d15451 10.9px,#eb8859 11.4px,#f6c47f 11.9px,#f6c47f 12.9px,#eb8859 13.4px,#d15451 13.9px,#cc4d52 14.4px,#c34152 14.9px,#c13f51 15px,#b6334e 15.4px,#ac274a 15.9px,#a72249 18px,#a72249 46.8px)"></div>
<div style="height:2px;background:linear-gradient(90deg,#ae2a4b 0px,#ae2a4b 6px,#b22e4c 8.9px,#b22e4c 9px,#bb384f 9.4px,#c54353 9.9px,#cd4e52 10.4px,#d25651 10.9px,#ea8558 11.4px,#f6c47f 11.9px,#f6c47f 12.9px,#ea8558 13.4px,#d25651 13.9px,#cc4d52 14.4px,#c34152 14.9px,#c13f51 15px,#b6334e 15.4px,#ac274a 15.9px,#a72249 18px,#a72249 46.8px)"></div>
<div style="height:2px;background:linear-gradient(90deg,#ae2a4b 0px,#ae2a4b 6px,#b22e4c 8.9px,#b22e4c 9px,#bb384f 9.4px,#c54353 9.9px,#cc4d52 10.4px,#d15451 10.9px,#ea8357 11.4px,#f6c07c 11.9px,#f6c07c 12.9px,#ea8357 13.4px,#d15451 13.9px,#cc4d52 14.4px,#c34152 14.9px,#c13f51 15px,#b6334e 15.4px,#ac274a 15.9px,#a72249 18px,#a72249 46.8px)"></div>
<div style="height:2px;background:linear-gradient(90deg,#ac274a 0px,#ac274a 6px,#ae2a4b 8.9px,#b02c4c 9px,#b8354e 9.4px,#c34152 9.9px,#cb4b52 10.4px,#cf5052 10.9px,#e87c53 11.4px,#f5b975 11.9px,#f5b975 12.9px,#e87c53 13.4px,#cf5052 13.9px,#cb4b52 14.4px,#c13f51 14.9px,#bf3c51 15px,#b4314d 15.4px,#a92549 15.9px,#a52048 18px,#a52048 46.8px)"></div>
<div style="height:2px;background:linear-gradient(90deg,#ae2a4b 0px,#ae2a4b 6px,#b22e4c 8.9px,#b4314d 9px,#bb384f 9.4px,#c74553 9.9px,#cd4e52 10.4px,#d25651 10.9px,#ea8357 11.4px,#f6c07c 11.9px,#f6c07c 12.9px,#ea8357 13.4px,#d25651 13.9px,#cd4e52 14.4px,#c54353 14.9px,#c13f51 15px,#b6334e 15.4px,#ac274a 15.9px,#a72249 18px,#a72249 46.8px)"></div>
<div style="height:2px;background:linear-gradient(90deg,#ac274a 0px,#ac274a 6px,#b02c4c 8.9px,#b02c4c 9px,#b8354e 9.4px,#c34152 9.9px,#cb4b52 10.4px,#d05252 10.9px,#e87952 11.4px,#f5b773 11.9px,#f5b773 12.9px,#e87952 13.4px,#d05252 13.9px,#cb4b52 14.4px,#c13f51 14.9px,#bf3c51 15px,#b4314d 15.4px,#a92549 15.9px,#a52048 18px,#a52048 46.8px)"></div>
<div style="height:2px;background:linear-gradient(90deg,#ac274a 0px,#ac274a 6px,#b02c4c 8.9px,#b22e4c 9px,#b8354e 9.4px,#c34152 9.9px,#cb4b52 10.4px,#d05252 10.9px,#e87952 11.4px,#f5b975 11.9px,#f5b975 12.9px,#e87952 13.4px,#d05252 13.9px,#cb4b52 14.4px,#c13f51 14.9px,#bf3c51 15px,#b4314d 15.4px,#ac274a 15.9px,#a72249 18px,#a72249 46.8px)"></div>
<div style="height:2px;background:linear-gradient(90deg,#a72249 0px,#a72249 6px,#ac274a 8.9px,#ac274a 9px,#b22e4c 9.4px,#bd3a50 9.9px,#c74553 10.4px,#cb4b52 10.9px,#e46e4e 11.4px,#f3aa6b 11.9px,#f3aa6b 12.9px,#e46e4e 13.4px,#cb4b52 13.9px,#c74553 14.4px,#bb384f 14.9px,#b8354e 15px,#b02c4c 15.4px,#a72249 15.9px,#a31e47 18px,#a31e47 46.8px)"></div>
<div style="height:2px;background:linear-gradient(90deg,#ac274a 0px,#ac274a 6px,#b02c4c 8.9px,#b22e4c 9px,#b8354e 9.4px,#c34152 9.9px,#cb4b52 10.4px,#d05252 10.9px,#e77750 11.4px,#f5b773 11.9px,#f5b773 12.9px,#e77750 13.4px,#d05252 13.9px,#cb4b52 14.4px,#c13f51 14.9px,#bf3c51 15px,#b4314d 15.4px,#ac274a 15.9px,#a72249 18px,#a72249 46.8px)"></div>
<div style="height:2px;background:linear-gradient(90deg,#a92549 0px,#a92549 6px,#ae2a4b 8.9px,#b02c4c 9px,#b6334e 9.4px,#c13f51 9.9px,#c84753 10.4px,#cd4e52 10.9px,#e5704e 11.4px,#f4af6d 11.9px,#f4af6d 12.9px,#e5704e 13.4px,#cd4e52 13.9px,#c84753 14.4px,#bf3c51 14.9px,#bd3a50 15px,#b22e4c 15.4px,#a92549 15.9px,#a52048 18px,#a52048 46.8px)"></div>
<div style="height:2px;background:linear-gradient(90deg,#a92549 0px,#a92549 6px,#ac274a 8.9px,#ae2a4b 9px,#b4314d 9.4px,#bf3c51 9.9px,#c84753 10.4px,#cc4d52 10.9px,#e46e4e 11.4px,#f3ac6c 11.9px,#f3ac6c 12.9px,#e46e4e 13.4px,#cc4d52 13.9px,#c74553 14.4px,#bd3a50 14.9px,#bb384f 15px,#b22e4c 15.4px,#a72249 15.9px,#a52048 18px,#a52048 46.8px)"></div>
<div style="height:2px;background:linear-gradient(90deg,#a92549 0px,#a92549 6px,#ae2a4b 8.9px,#ae2a4b 9px,#b4314d 9.4px,#bf3c51 9.9px,#c84753 10.4px,#cc4d52 10.9px,#e46e4e 11.4px,#f3ac6c 11.9px,#f3ac6c 12.9px,#e46e4e 13.4px,#cc4d52 13.9px,#c84753 14.4px,#bf3c51 14.9px,#bb384f 15px,#b22e4c 15.4px,#a92549 15.9px,#a52048 18px,#a52048 46.8px)"></div>
<div style="height:2px;background:linear-gradient(90deg,#ac274a 0px,#ac274a 6px,#ae2a4b 8.9px,#b02c4c 9px,#b6334e 9.4px,#c13f51 9.9px,#ca4953 10.4px,#cd4e52 10.9px,#e46e4e 11.4px,#f4af6d 11.9px,#f4af6d 12.9px,#e46e4e 13.4px,#cd4e52 13.9px,#c84753 14.4px,#bf3c51 14.9px,#bd3a50 15px,#b4314d 15.4px,#a92549 15.9px,#a72249 18px,#a72249 46.8px)"></div>
<div style="height:2px;background:linear-gradient(90deg,#a72249 0px,#a72249 6px,#a92549 8.9px,#ac274a 9px,#b22e4c 9.4px,#bd3a50 9.9px,#c54353 10.4px,#ca4953 10.9px,#df674f 11.4px,#f1a367 11.9px,#f1a367 12.9px,#df674f 13.4px,#ca4953 13.9px,#c54353 14.4px,#bb384f 14.9px,#b8354e 15px,#b02c4c 15.4px,#a72249 15.9px,#a31e47 18px,#a31e47 46.8px)"></div>
<div style="height:2px;background:linear-gradient(90deg,#a92549 0px,#a92549 6px,#ae2a4b 8.9px,#ae2a4b 9px,#b6334e 9.4px,#bf3c51 9.9px,#c84753 10.4px,#cc4d52 10.9px,#e26d4e 11.4px,#f3aa6b 11.9px,#f3aa6b 12.9px,#e26d4e 13.4px,#cc4d52 13.9px,#c84753 14.4px,#bf3c51 14.9px,#bd3a50 15px,#b22e4c 15.4px,#a92549 15.9px,#a52048 18px,#a52048 46.8px)"></div>
<div style="height:2px;background:linear-gradient(90deg,#a72249 0px,#a72249 6px,#a92549 8.9px,#ac274a 9px,#b22e4c 9.4px,#bb384f 9.9px,#c54353 10.4px,#ca4953 10.9px,#dd664f 11.4px,#f09e64 11.9px,#f09e64 12.9px,#dd664f 13.4px,#ca4953 13.9px,#c54353 14.4px,#bb384f 14.9px,#b8354e 15px,#b02c4c 15.4px,#a72249 15.9px,#a31e47 18px,#a31e47 46.8px)"></div>
<div style="height:2px;background:linear-gradient(90deg,#a92549 0px,#a92549 6px,#ac274a 8.9px,#ae2a4b 9px,#b4314d 9.4px,#bf3c51 9.9px,#c74553 10.4px,#cc4d52 10.9px,#e0694f 11.4px,#f2a568 11.9px,#f2a869 12px,#f2a869 12.4px,#f2a568 12.9px,#e0694f 13.4px,#cc4d52 13.9px,#c74553 14.4px,#bd3a50 14.9px,#bb384f 15px,#b22e4c 15.4px,#a92549 15.9px,#a52048 18px,#a52048 46.8px)"></div>
<div style="height:2px;background:linear-gradient(90deg,#a72249 0px,#a72249 6px,#ac274a 8.9px,#ac274a 9px,#b22e4c 9.4px,#bd3a50 9.9px,#c74553 10.4px,#cb4b52 10.9px,#df674f 11.4px,#f0a066 11.9px,#f0a066 12.9px,#df674f 13.4px,#cb4b52 13.9px,#c54353 14.4px,#bd3a50 14.9px,#bb384f 15px,#b22e4c 15.4px,#a92549 15.9px,#a52048 18px,#a52048 46.8px)"></div>
<div style="height:2px;background:linear-gradient(90deg,#a92549 0px,#a92549 6px,#ac274a 8.9px,#ae2a4b 9px,#b4314d 9.4px,#bd3a50 9.9px,#c74553 10.4px,#cb4b52 10.9px,#df674f 11.4px,#f1a367 11.9px,#f1a367 12.9px,#df674f 13.4px,#cb4b52 13.9px,#c74553 14.4px,#bd3a50 14.9px,#bb384f 15px,#b22e4c 15.4px,#a92549 15.9px,#a52048 18px,#a52048 46.8px)"></div>
<div style="height:2px;background:linear-gradient(90deg,#a72249 0px,#a72249 6px,#ac274a 8.9px,#ac274a 9px,#b22e4c 9.4px,#bd3a50 9.9px,#c54353 10.4px,#ca4953 10.9px,#dc6450 11.4px,#f09e64 11.9px,#f09e64 12.9px,#dc6450 13.4px,#ca4953 13.9px,#c54353 14.4px,#bb384f 14.9px,#b8354e 15px,#b22e4c 15.4px,#a92549 15.9px,#a52048 18px,#a52048 46.8px)"></div>
<div style="height:2px;background:linear-gradient(90deg,#a52048 0px,#a52048 6px,#a92549 8.9px,#a92549 9px,#b02c4c 9.4px,#bb384f 9.9px,#c34152 10.4px,#c84753 10.9px,#da6050 11.4px,#ee9761 11.9px,#ee9761 12.9px,#da6050 13.4px,#c84753 13.9px,#c34152 14.4px,#b8354e 14.9px,#b6334e 15px,#ae2a4b 15.4px,#a72249 15.9px,#a31e47 18px,#a31e47 46.8px)"></div>
<div style="height:2px;background:linear-gradient(90deg,#a72249 0px,#a72249 6px,#a92549 8.9px,#ac274a 9px,#b02c4c 9.4px,#bb384f 9.9px,#c34152 10.4px,#c84753 10.9px,#da6050 11.4px,#ee945f 11.9px,#ee9761 12px,#ee9761 12.4px,#ee945f 12.9px,#da6050 13.4px,#c84753 13.9px,#c34152 14.4px,#b8354e 14.9px,#b6334e 15px,#b02c4c 15.4px,#a72249 15.9px,#a31e47 18px,#a31e47 46.8px)"></div>
<div style="height:2px;background:linear-gradient(90deg,#a72249 0px,#a72249 6px,#a92549 8.9px,#ac274a 9px,#b22e4c 9.4px,#bb384f 9.9px,#c34152 10.4px,#c84753 10.9px,#da6050 11.4px,#ee9761 11.9px,#ee9761 12.9px,#da6050 13.4px,#c84753 13.9px,#c34152 14.4px,#bb384f 14.9px,#b8354e 15px,#b02c4c 15.4px,#a72249 15.9px,#a52048 18px,#a52048 46.8px)"></div>
<div style="height:2px;background:linear-gradient(90deg,#a72249 0px,#a72249 6px,#a92549 8.9px,#a92549 9px,#b02c4c 9.4px,#b8354e 9.9px,#c13f51 10.4px,#c74553 10.9px,#d75d50 11.4px,#ed925e 11.9px,#ed925e 12.9px,#d75d50 13.4px,#c74553 13.9px,#c13f51 14.4px,#b8354e 14.9px,#b6334e 15px,#ae2a4b 15.4px,#a72249 15.9px,#a31e47 18px,#a31e47 46.8px)"></div>
<div style="height:2px;background:linear-gradient(90deg,#a72249 0px,#a72249 6px,#a92549 8.9px,#a92549 9px,#b02c4c 9.4px,#b8354e 9.9px,#c13f51 10.4px,#c74553 10.9px,#d75d50 11.4px,#ed8f5d 11.9px,#ed925e 12px,#ed925e 12.4px,#ed8f5d 12.9px,#d75d50 13.4px,#c74553 13.9px,#c13f51 14.4px,#b8354e 14.9px,#b6334e 15px,#ae2a4b 15.4px,#a72249 15.9px,#a52048 18px,#a52048 46.8px)"></div>
<div style="height:2px;background:linear-gradient(90deg,#a52048 0px,#a52048 6px,#a72249 8.9px,#a92549 9px,#ae2a4b 9.4px,#b6334e 9.9px,#bf3c51 10.4px,#c54353 10.9px,#d55951 11.4px,#ec8a5a 11.9px,#ec8a5a 12.9px,#d55951 13.4px,#c54353 13.9px,#bf3c51 14.4px,#b6334e 14.9px,#b4314d 15px,#ae2a4b 15.4px,#a52048 15.9px,#a31e47 18px,#a31e47 46.8px)"></div>
<div style="height:2px;background:linear-gradient(90deg,#a72249 0px,#a72249 6px,#a92549 8.9px,#ac274a 9px,#b02c4c 9.4px,#b8354e 9.9px,#c13f51 10.4px,#c74553 10.9px,#d65b51 11.4px,#ed8f5d 11.9px,#ed8f5d 12.9px,#d65b51 13.4px,#c74553 13.9px,#c13f51 14.4px,#b8354e 14.9px,#b6334e 15px,#b02c4c 15.4px,#a72249 15.9px,#a52048 18px,#a52048 46.8px)"></div>
<div style="height:2px;background:linear-gradient(90deg,#a92549 0px,#a92549 6px,#ac274a 8.9px,#ae2a4b 9px,#b22e4c 9.4px,#bb384f 9.9px,#c34152 10.4px,#c84753 10.9px,#d75d50 11.4px,#ee945f 11.9px,#ee945f 12.9px,#d75d50 13.4px,#c84753 13.9px,#c34152 14.4px,#bb384f 14.9px,#b8354e 15px,#b22e4c 15.4px,#a92549 15.9px,#a72249 18px,#a72249 46.8px)"></div>
<div style="height:2px;background:linear-gradient(90deg,#a72249 0px,#a72249 6px,#a92549 8.9px,#ac274a 9px,#b02c4c 9.4px,#b8354e 9.9px,#c13f51 10.4px,#c54353 10.9px,#d55951 11.4px,#ec8d5c 11.9px,#ec8d5c 12.9px,#d55951 13.4px,#c54353 13.9px,#c13f51 14.4px,#b8354e 14.9px,#b6334e 15px,#b02c4c 15.4px,#a72249 15.9px,#a52048 18px,#a52048 46.8px)"></div>
<div style="height:2px;background:linear-gradient(90deg,#a72249 0px,#a72249 6px,#a92549 8.9px,#a92549 9px,#b02c4c 9.4px,#b6334e 9.9px,#bf3c51 10.4px,#c54353 10.9px,#d35751 11.4px,#eb8859 11.9px,#ec8a5a 12px,#ec8a5a 12.4px,#eb8859 12.9px,#d35751 13.4px,#c54353 13.9px,#bf3c51 14.4px,#b6334e 14.9px,#b4314d 15px,#ae2a4b 15.4px,#a72249 15.9px,#a52048 18px,#a52048 46.8px)"></div>
<div style="height:2px;background:linear-gradient(90deg,#a52048 0px,#a52048 6px,#a72249 8.9px,#a72249 9px,#ae2a4b 9.4px,#b4314d 9.9px,#bd3a50 10.4px,#c13f51 10.9px,#d15451 11.4px,#e98155 11.9px,#ea8357 12px,#ea8357 12.4px,#e98155 12.9px,#d15451 13.4px,#c13f51 13.9px,#bd3a50 14.4px,#b4314d 14.9px,#b22e4c 15px,#ac274a 15.4px,#a52048 15.9px,#a31e47 18px,#a31e47 46.8px)"></div>
<div style="height:2px;background:linear-gradient(90deg,#a52048 0px,#a52048 6px,#a72249 8.9px,#a92549 9px,#ae2a4b 9.4px,#b6334e 9.9px,#bd3a50 10.4px,#c13f51 10.9px,#d15451 11.4px,#ea8357 11.9px,#ea8357 12.9px,#d15451 13.4px,#c13f51 13.9px,#bd3a50 14.4px,#b4314d 14.9px,#b4314d 15px,#ae2a4b 15.4px,#a52048 15.9px,#a31e47 18px,#a31e47 46.8px)"></div>
<div style="height:2px;background:linear-gradient(90deg,#a72249 0px,#a72249 6px,#a92549 8.9px,#ac274a 9px,#b02c4c 9.4px,#b6334e 9.9px,#bf3c51 10.4px,#c34152 10.9px,#d25651 11.4px,#ea8558 11.9px,#eb8859 12px,#eb8859 12.4px,#ea8558 12.9px,#d25651 13.4px,#c34152 13.9px,#bf3c51 14.4px,#b6334e 14.9px,#b4314d 15px,#ae2a4b 15.4px,#a72249 15.9px,#a52048 18px,#a52048 46.8px)"></div>
<div style="height:2px;background:linear-gradient(90deg,#a52048 0px,#a52048 6px,#a72249 8.9px,#a92549 9px,#ae2a4b 9.4px,#b4314d 9.9px,#bd3a50 10.4px,#c13f51 10.9px,#d05252 11.4px,#e97e54 11.9px,#e98155 12px,#e98155 12.4px,#e97e54 12.9px,#d05252 13.4px,#c13f51 13.9px,#bb384f 14.4px,#b4314d 14.9px,#b22e4c 15px,#ac274a 15.4px,#a52048 15.9px,#a31e47 18px,#a31e47 46.8px)"></div>
<div style="height:2px;background:linear-gradient(90deg,#a52048 0px,#a52048 6px,#a92549 8.9px,#a92549 9px,#ae2a4b 9.4px,#b6334e 9.9px,#bd3a50 10.4px,#c13f51 10.9px,#d05252 11.4px,#e97e54 11.9px,#e98155 12px,#e98155 12.4px,#e97e54 12.9px,#d05252 13.4px,#c13f51 13.9px,#bd3a50 14.4px,#b4314d 14.9px,#b22e4c 15px,#ae2a4b 15.4px,#a72249 15.9px,#a52048 18px,#a52048 46.8px)"></div>
<div style="height:2px;background:linear-gradient(90deg,#a52048 0px,#a52048 6px,#a72249 8.9px,#a72249 9px,#ac274a 9.4px,#b4314d 9.9px,#bb384f 10.4px,#bf3c51 10.9px,#cd4e52 11.4px,#e87952 11.9px,#e87c53 12px,#e87c53 12.4px,#e87952 12.9px,#cd4e52 13.4px,#bf3c51 13.9px,#bb384f 14.4px,#b22e4c 14.9px,#b22e4c 15px,#ac274a 15.4px,#a52048 15.9px,#a31e47 18px,#a31e47 46.8px)"></div>
<div style="height:2px;background:linear-gradient(90deg,#a52048 0px,#a52048 6px,#a72249 8.9px,#a72249 9px,#ac274a 9.4px,#b22e4c 9.9px,#b8354e 10.4px,#bd3a50 10.9px,#cd4e52 11.4px,#e87952 11.9px,#e87c53 12px,#e87c53 12.4px,#e87952 12.9px,#cd4e52 13.4px,#bd3a50 13.9px,#b8354e 14.4px,#b22e4c 14.9px,#b02c4c 15px,#ac274a 15.4px,#a52048 15.9px,#a31e47 18px,#a31e47 46.8px)"></div>
<div style="height:2px;background:linear-gradient(90deg,#a52048 0px,#a52048 6px,#a72249 8.9px,#a72249 9px,#ac274a 9.4px,#b4314d 9.9px,#b8354e 10.4px,#bf3c51 10.9px,#cc4d52 11.4px,#e77750 11.9px,#e87c53 12px,#e87c53 12.4px,#e77750 12.9px,#cc4d52 13.4px,#bf3c51 13.9px,#b8354e 14.4px,#b22e4c 14.9px,#b22e4c 15px,#ac274a 15.4px,#a52048 15.9px,#a31e47 18px,#a31e47 46.8px)"></div>
<div style="height:2px;background:linear-gradient(90deg,#a52048 0px,#a52048 6px,#a72249 8.9px,#a72249 9px,#ac274a 9.4px,#b22e4c 9.9px,#b8354e 10.4px,#bd3a50 10.9px,#cb4b52 11.4px,#e7744f 11.9px,#e77750 12px,#e77750 12.4px,#e7744f 12.9px,#cb4b52 13.4px,#bd3a50 13.9px,#b8354e 14.4px,#b22e4c 14.9px,#b02c4c 15px,#a92549 15.4px,#a52048 15.9px,#a31e47 18px,#a31e47 46.8px)"></div>
<div style="height:2px;background:linear-gradient(90deg,#a52048 0px,#a52048 8.9px,#a72249 9px,#ac274a 9.4px,#b22e4c 9.9px,#b6334e 10.4px,#bb384f 10.9px,#cb4b52 11.4px,#e6724e 11.9px,#e7744f 12px,#e7744f 12.4px,#e6724e 12.9px,#cb4b52 13.4px,#bb384f 13.9px,#b6334e 14.4px,#b02c4c 14.9px,#b02c4c 15px,#a92549 15.4px,#a52048 15.9px,#a31e47 18px,#a31e47 46.8px)"></div>
<div style="height:2px;background:linear-gradient(90deg,#a52048 0px,#a52048 6px,#a72249 8.9px,#a72249 9px,#ac274a 9.4px,#b22e4c 9.9px,#b8354e 10.4px,#bb384f 10.9px,#cb4b52 11.4px,#e6724e 11.9px,#e7744f 12px,#e7744f 12.4px,#e6724e 12.9px,#cb4b52 13.4px,#bb384f 13.9px,#b8354e 14.4px,#b22e4c 14.9px,#b02c4c 15px,#ac274a 15.4px,#a52048 15.9px,#a31e47 18px,#a31e47 46.8px)"></div>
<div style="height:2px;background:linear-gradient(90deg,#a52048 0px,#a52048 8.9px,#a72249 9px,#ac274a 9.4px,#b02c4c 9.9px,#b6334e 10.4px,#bb384f 10.9px,#ca4953 11.4px,#e5704e 11.9px,#e6724e 12px,#e6724e 12.4px,#e5704e 12.9px,#ca4953 13.4px,#bb384f 13.9px,#b6334e 14.4px,#b02c4c 14.9px,#b02c4c 15px,#a92549 15.4px,#a52048 15.9px,#a31e47 18px,#a31e47 46.8px)"></div>
<div style="height:2px;background:linear-gradient(90deg,#a31e47 0px,#a31e47 8.9px,#a52048 9px,#a72249 9.4px,#ae2a4b 9.9px,#b22e4c 10.4px,#b6334e 10.9px,#c54353 11.4px,#e16b4f 11.9px,#e26d4e 12px,#e26d4e 12.4px,#e16b4f 12.9px,#c54353 13.4px,#b6334e 13.9px,#b22e4c 14.4px,#ae2a4b 14.9px,#ac274a 15px,#a72249 15.4px,#a31e47 15.9px,#a11b46 18px,#a11b46 46.8px)"></div>
<div style="height:2px;background:linear-gradient(90deg,#a52048 0px,#a52048 6px,#a72249 8.9px,#a72249 9px,#ac274a 9.4px,#b02c4c 9.9px,#b6334e 10.4px,#bb384f 10.9px,#c84753 11.4px,#e46e4e 11.9px,#e6724e 12px,#e6724e 12.4px,#e46e4e 12.9px,#c84753 13.4px,#bb384f 13.9px,#b6334e 14.4px,#b02c4c 14.9px,#b02c4c 15px,#a92549 15.4px,#a52048 15.9px,#a31e47 18px,#a31e47 46.8px)"></div>
<div style="height:2px;background:linear-gradient(90deg,#a52048 0px,#a52048 6px,#a72249 8.9px,#a92549 9px,#ac274a 9.4px,#b22e4c 9.9px,#b6334e 10.4px,#bb384f 10.9px,#c84753 11.4px,#e46e4e 11.9px,#e6724e 12px,#e6724e 12.4px,#e46e4e 12.9px,#c84753 13.4px,#bb384f 13.9px,#b6334e 14.4px,#b22e4c 14.9px,#b02c4c 15px,#ac274a 15.4px,#a72249 15.9px,#a52048 18px,#a52048 46.8px)"></div>
<div style="height:2px;background:linear-gradient(90deg,#a52048 0px,#a52048 8.9px,#a72249 9px,#a92549 9.4px,#b02c4c 9.9px,#b4314d 10.4px,#b8354e 10.9px,#c74553 11.4px,#e16b4f 11.9px,#e46e4e 12px,#e46e4e 12.4px,#e16b4f 12.9px,#c74553 13.4px,#b8354e 13.9px,#b4314d 14.4px,#b02c4c 14.9px,#ae2a4b 15px,#a92549 15.4px,#a52048 15.9px,#a31e47 18px,#a31e47 46.8px)"></div>
<div style="height:2px;background:linear-gradient(90deg,#a31e47 0px,#a31e47 6px,#a52048 8.9px,#a52048 9px,#a92549 9.4px,#ae2a4b 9.9px,#b22e4c 10.4px,#b6334e 10.9px,#c54353 11.4px,#df674f 11.9px,#e16b4f 12px,#e16b4f 12.4px,#df674f 12.9px,#c54353 13.4px,#b6334e 13.9px,#b22e4c 14.4px,#ae2a4b 14.9px,#ac274a 15px,#a72249 15.4px,#a31e47 15.9px,#a31e47 46.8px)"></div>
<div style="height:2px;background:linear-gradient(90deg,#a31e47 0px,#a31e47 6px,#a52048 8.9px,#a52048 9px,#a72249 9.4px,#ae2a4b 9.9px,#b22e4c 10.4px,#b4314d 10.9px,#c13f51 11.4px,#dd664f 11.9px,#df674f 12px,#e0694f 12.4px,#dd664f 12.9px,#c13f51 13.4px,#b4314d 13.9px,#b22e4c 14.4px,#ac274a 14.9px,#ac274a 15px,#a72249 15.4px,#a31e47 15.9px,#a11b46 18px,#a11b46 46.8px)"></div>
<div style="height:2px;background:linear-gradient(90deg,#a31e47 0px,#a31e47 6px,#a52048 8.9px,#a52048 9px,#a72249 9.4px,#ae2a4b 9.9px,#b22e4c 10.4px,#b4314d 10.9px,#c13f51 11.4px,#dc6450 11.9px,#df674f 12px,#df674f 12.4px,#dc6450 12.9px,#c13f51 13.4px,#b4314d 13.9px,#b22e4c 14.4px,#ac274a 14.9px,#ac274a 15px,#a72249 15.4px,#a31e47 15.9px,#a11b46 18px,#a11b46 46.8px)"></div>
<div style="height:2px;background:linear-gradient(90deg,#a31e47 0px,#a31e47 6px,#a52048 8.9px,#a52048 9px,#a92549 9.4px,#ae2a4b 9.9px,#b22e4c 10.4px,#b4314d 10.9px,#c13f51 11.4px,#dc6450 11.9px,#df674f 12px,#df674f 12.4px,#dc6450 12.9px,#c13f51 13.4px,#b4314d 13.9px,#b22e4c 14.4px,#ae2a4b 14.9px,#ac274a 15px,#a72249 15.4px,#a31e47 15.9px,#a31e47 46.8px)"></div>
<div style="height:2px;background:linear-gradient(90deg,#a52048 0px,#a52048 8.9px,#a72249 9px,#a92549 9.4px,#ae2a4b 9.9px,#b22e4c 10.4px,#b6334e 10.9px,#c13f51 11.4px,#dd664f 11.9px,#df674f 12px,#e0694f 12.4px,#dd664f 12.9px,#c13f51 13.4px,#b6334e 13.9px,#b22e4c 14.4px,#ae2a4b 14.9px,#ae2a4b 15px,#a92549 15.4px,#a52048 15.9px,#a31e47 18px,#a31e47 46.8px)"></div>
<div style="height:2px;background:linear-gradient(90deg,#a31e47 0px,#a31e47 6px,#a52048 8.9px,#a52048 9px,#a72249 9.4px,#ac274a 9.9px,#b02c4c 10.4px,#b4314d 10.9px,#bf3c51 11.4px,#db6250 11.9px,#dd664f 12px,#dd664f 12.4px,#db6250 12.9px,#bf3c51 13.4px,#b4314d 13.9px,#b02c4c 14.4px,#ac274a 14.9px,#ac274a 15px,#a72249 15.4px,#a31e47 15.9px,#a31e47 46.8px)"></div>
<div style="height:2px;background:linear-gradient(90deg,#a31e47 0px,#a31e47 6px,#a52048 8.9px,#a52048 9px,#a72249 9.4px,#ac274a 9.9px,#b02c4c 10.4px,#b22e4c 10.9px,#bd3a50 11.4px,#da6050 11.9px,#dc6450 12px,#dc6450 12.4px,#da6050 12.9px,#bd3a50 13.4px,#b22e4c 13.9px,#b02c4c 14.4px,#ac274a 14.9px,#ac274a 15px,#a72249 15.4px,#a31e47 15.9px,#a31e47 46.8px)"></div>
<div style="height:2px;background:linear-gradient(90deg,#a31e47 0px,#a31e47 9px,#a72249 9.4px,#a92549 9.9px,#ae2a4b 10.4px,#b02c4c 10.9px,#bb384f 11.4px,#d75d50 11.9px,#da6050 12px,#da6050 12.4px,#d75d50 12.9px,#bb384f 13.4px,#b02c4c 13.9px,#ae2a4b 14.4px,#a92549 14.9px,#a92549 15px,#a52048 15.4px,#a31e47 15.9px,#a11b46 18px,#a11b46 46.8px)"></div>
<div style="height:2px;background:linear-gradient(90deg,#a31e47 0px,#a31e47 6px,#a52048 8.9px,#a52048 9px,#a72249 9.4px,#ac274a 9.9px,#b02c4c 10.4px,#b22e4c 10.9px,#bd3a50 11.4px,#d85e50 11.9px,#da6050 12px,#db6250 12.4px,#d85e50 12.9px,#bd3a50 13.4px,#b22e4c 13.9px,#b02c4c 14.4px,#ac274a 14.9px,#a92549 15px,#a72249 15.4px,#a31e47 15.9px,#a31e47 46.8px)"></div>
<div style="height:2px;background:linear-gradient(90deg,#a31e47 0px,#a31e47 9px,#a52048 9.4px,#a92549 9.9px,#ae2a4b 10.4px,#b02c4c 10.9px,#b8354e 11.4px,#d65b51 11.9px,#d85e50 12px,#d85e50 12.4px,#d65b51 12.9px,#b8354e 13.4px,#b02c4c 13.9px,#ae2a4b 14.4px,#a92549 14.9px,#a92549 15px,#a52048 15.4px,#a31e47 15.9px,#a11b46 18px,#a11b46 46.8px)"></div>
<div style="height:2px;background:linear-gradient(90deg,#a52048 0px,#a52048 8.9px,#a72249 9px,#a92549 9.4px,#ac274a 9.9px,#b02c4c 10.4px,#b22e4c 10.9px,#bd3a50 11.4px,#d85e50 11.9px,#db6250 12px,#db6250 12.4px,#d85e50 12.9px,#bd3a50 13.4px,#b22e4c 13.9px,#b02c4c 14.4px,#ac274a 14.9px,#ac274a 15px,#a92549 15.4px,#a52048 15.9px,#a52048 46.8px)"></div>
<div style="height:2px;background:linear-gradient(90deg,#a31e47 0px,#a31e47 6px,#a52048 8.9px,#a52048 9px,#a72249 9.4px,#a92549 9.9px,#ae2a4b 10.4px,#b02c4c 10.9px,#b8354e 11.4px,#d55951 11.9px,#d75d50 12px,#d85e50 12.4px,#d55951 12.9px,#b8354e 13.4px,#b02c4c 13.9px,#ae2a4b 14.4px,#a92549 14.9px,#a92549 15px,#a72249 15.4px,#a31e47 15.9px,#a31e47 46.8px)"></div>
<div style="height:2px;background:linear-gradient(90deg,#a31e47 0px,#a31e47 9px,#a52048 9.4px,#a92549 9.9px,#ac274a 10.4px,#ae2a4b 10.9px,#b6334e 11.4px,#d35751 11.9px,#d65b51 12px,#d65b51 12.4px,#d35751 12.9px,#b6334e 13.4px,#ae2a4b 13.9px,#ac274a 14.4px,#a92549 14.9px,#a92549 15px,#a52048 15.4px,#a31e47 15.9px,#a31e47 46.8px)"></div>
<div style="height:2px;background:linear-gradient(90deg,#a52048 0px,#a52048 9px,#a72249 9.4px,#ac274a 9.9px,#ae2a4b 10.4px,#b02c4c 10.9px,#b8354e 11.4px,#d55951 11.9px,#d75d50 12px,#d85e50 12.4px,#d55951 12.9px,#b8354e 13.4px,#b02c4c 13.9px,#ae2a4b 14.4px,#ac274a 14.9px,#a92549 15px,#a72249 15.4px,#a52048 15.9px,#a31e47 18px,#a31e47 46.8px)"></div>
<div style="height:2px;background:linear-gradient(90deg,#a52048 0px,#a52048 9px,#a72249 9.4px,#ac274a 9.9px,#ae2a4b 10.4px,#b02c4c 10.9px,#b8354e 11.4px,#d35751 11.9px,#d65b51 12px,#d75d50 12.4px,#d35751 12.9px,#b8354e 13.4px,#b02c4c 13.9px,#ae2a4b 14.4px,#ac274a 14.9px,#a92549 15px,#a72249 15.4px,#a52048 15.9px,#a31e47 18px,#a31e47 46.8px)"></div>
<div style="height:2px;background:linear-gradient(90deg,#a31e47 0px,#a31e47 9px,#a52048 9.4px,#a72249 9.9px,#ac274a 10.4px,#ae2a4b 10.9px,#b4314d 11.4px,#d15451 11.9px,#d35751 12px,#d35751 12.4px,#d15451 12.9px,#b4314d 13.4px,#ae2a4b 13.9px,#ac274a 14.4px,#a72249 14.9px,#a72249 15px,#a52048 15.4px,#a31e47 15.9px,#a31e47 46.8px)"></div>
<div style="height:2px;background:linear-gradient(90deg,#a11b46 0px,#a11b46 9px,#a31e47 9.4px,#a72249 9.9px,#a92549 10.4px,#ac274a 10.9px,#b22e4c 11.4px,#cf5052 11.9px,#d15451 12px,#d15451 12.4px,#cf5052 12.9px,#b22e4c 13.4px,#ac274a 13.9px,#a92549 14.4px,#a72249 14.9px,#a52048 15px,#a31e47 15.4px,#a11b46 15.9px,#a11b46 46.8px)"></div>
<div style="height:2px;background:linear-gradient(90deg,#a31e47 0px,#a31e47 6px,#a52048 8.9px,#a52048 9.4px,#a92549 9.9px,#ac274a 10.4px,#ae2a4b 10.9px,#b4314d 11.4px,#d05252 11.9px,#d25651 12px,#d35751 12.4px,#d05252 12.9px,#b4314d 13.4px,#ae2a4b 13.9px,#ac274a 14.4px,#a92549 14.9px,#a72249 15px,#a52048 15.4px,#a31e47 15.9px,#a31e47 46.8px)"></div>
<div style="height:2px;background:linear-gradient(90deg,#a11b46 0px,#a11b46 6px,#a31e47 8.9px,#a31e47 9px,#a52048 9.4px,#a72249 9.9px,#a92549 10.4px,#a92549 10.9px,#b02c4c 11.4px,#cd4e52 11.9px,#d05252 12px,#d15451 12.4px,#cd4e52 12.9px,#b02c4c 13.4px,#a92549 13.9px,#a92549 14.4px,#a72249 14.9px,#a52048 15px,#a31e47 15.4px,#a31e47 15.9px,#a11b46 18px,#a11b46 46.8px)"></div>
<div style="height:2px;background:linear-gradient(90deg,#a31e47 0px,#a31e47 9px,#a52048 9.4px,#a72249 9.9px,#a92549 10.4px,#ac274a 10.9px,#b22e4c 11.4px,#cd4e52 11.9px,#d05252 12px,#d15451 12.4px,#cd4e52 12.9px,#b22e4c 13.4px,#ac274a 13.9px,#a92549 14.4px,#a72249 14.9px,#a72249 15px,#a52048 15.4px,#a31e47 15.9px,#a31e47 46.8px)"></div>
<div style="height:2px;background:linear-gradient(90deg,#a11b46 0px,#a11b46 9px,#a31e47 9.4px,#a52048 9.9px,#a72249 10.4px,#a92549 10.9px,#ae2a4b 11.4px,#cb4b52 11.9px,#cd4e52 12px,#cf5052 12.4px,#cb4b52 12.9px,#ae2a4b 13.4px,#a92549 13.9px,#a72249 14.4px,#a52048 14.9px,#a52048 15px,#a31e47 15.4px,#a11b46 15.9px,#a11b46 46.8px)"></div>
</div>
<div style="position:absolute;left:279.8px;top:112.7px;width:39.7px;height:235.9px;overflow:hidden">
<div style="height:2px;background:linear-gradient(90deg,#e6724e 0px,#e6724e 8.6px,#e77750 9px,#eb8859 9.1px,#f8fbbe 9.6px,#9fd3a8 10.1px,#9fd3a8 11.1px,#a1d4a8 11.6px,#abd8a9 12px,#abd8a9 12.1px,#aed9a9 12.6px,#aed9a9 39.7px)"></div>
<div style="height:2px;background:linear-gradient(90deg,#e16b4f 0px,#e16b4f 8.6px,#e46e4e 9px,#e87952 9.1px,#fbe7a2 9.6px,#eef7b0 10.1px,#eef7b0 11.1px,#fdfdc5 11.6px,#f9da92 12px,#f8cf88 12.1px,#f5bc78 12.6px,#f5bc78 24px,#f9de95 27px,#f9de95 39.7px)"></div>
<div style="height:2px;background:linear-gradient(90deg,#e46e4e 0px,#e46e4e 8.6px,#e6724e 9px,#e98155 9.1px,#fbe9a6 9.6px,#edf6ad 10.1px,#edf6ad 11.1px,#fcfdc3 11.6px,#f9da92 12px,#f7cd87 12.1px,#f5ba77 12.6px,#f5ba77 24px,#fae097 27px,#fae097 39.7px)"></div>
<div style="height:2px;background:linear-gradient(90deg,#df674f 0px,#df674f 8.6px,#e16b4f 9px,#e7744f 9.1px,#f9dc94 9.6px,#f9fcbf 10.1px,#f9fcbf 11.1px,#fcf3b5 11.6px,#f7c680 12px,#f5ba77 12.1px,#f2a568 12.6px,#f2a568 24px,#f7cd87 27px,#f7cd87 39.7px)"></div>
<div style="height:2px;background:linear-gradient(90deg,#e46e4e 0px,#e46e4e 8.6px,#e5704e 9px,#e87c53 9.1px,#fae29b 9.6px,#f4f9b8 10.1px,#f4f9b8 11.1px,#fdf6bb 11.6px,#f7cb85 12px,#f6c07c 12.1px,#f3ac6c 12.6px,#f3ac6c 24px,#f8d58d 27px,#f8d58d 39.7px)"></div>
<div style="height:2px;background:linear-gradient(90deg,#e16b4f 0px,#e16b4f 8.6px,#e46e4e 9px,#e77750 9.1px,#f9da92 9.6px,#fbfcc2 10.1px,#fbfcc2 11.1px,#fcf0b1 11.6px,#f6c47f 12px,#f5b975 12.1px,#f2a568 12.6px,#f2a568 24px,#f8cf88 27px,#f8cf88 39.7px)"></div>
<div style="height:2px;background:linear-gradient(90deg,#dd664f 0px,#dd664f 8.6px,#e0694f 9px,#e5704e 9.1px,#f7cd87 9.6px,#fdf5b9 10.1px,#fdf5b9 11.1px,#fae59e 11.6px,#f5b773 12px,#f3ac6c 12.1px,#ee9761 12.6px,#ee9761 24px,#f6c27d 27px,#f6c27d 39.7px)"></div>
<div style="height:2px;background:linear-gradient(90deg,#df674f 0px,#df674f 8.6px,#e0694f 9px,#e5704e 9.1px,#f7c984 9.6px,#fcf2b3 10.1px,#fcf2b3 11.1px,#fae29b 11.6px,#f4b370 12px,#f2a869 12.1px,#ee945f 12.6px,#ee945f 24px,#f6c07c 27px,#f6c07c 39.7px)"></div>
<div style="height:2px;background:linear-gradient(90deg,#dd664f 0px,#dd664f 8.6px,#df674f 9px,#e46e4e 9.1px,#f6c27d 9.6px,#fbecaa 10.1px,#fbecaa 11.1px,#f9da92 11.6px,#f3ac6c 12px,#f0a066 12.1px,#ec8d5c 12.6px,#ec8d5c 24px,#f5bc78 27px,#f5bc78 39.7px)"></div>
<div style="height:2px;background:linear-gradient(90deg,#da6050 0px,#da6050 8.6px,#db6250 9px,#e0694f 9.1px,#f5ba77 9.6px,#fbe6a0 10.1px,#fbe6a0 11.1px,#f8d18a 11.6px,#f1a367 12px,#ee9761 12.1px,#ea8357 12.6px,#ea8357 24px,#f4b370 27px,#f4b370 39.7px)"></div>
<div style="height:2px;background:linear-gradient(90deg,#db6250 0px,#db6250 8.6px,#dc6450 9px,#e16b4f 9.1px,#f6be7a 9.6px,#fbe9a6 10.1px,#fbe9a6 11.1px,#f8d58d 11.6px,#f2a568 12px,#ef9962 12.1px,#ea8558 12.6px,#ea8558 24px,#f5b773 27px,#f5b773 39.7px)"></div>
<div style="height:2px;background:linear-gradient(90deg,#d75d50 0px,#d75d50 8.6px,#d85e50 9px,#dd664f 9.1px,#f5b975 9.6px,#fae39c 10.1px,#fae39c 11.1px,#f8cf88 11.6px,#ef9b63 12px,#ed8f5d 12.1px,#e97e54 12.6px,#e97e54 24px,#f4af6d 27px,#f4af6d 39.7px)"></div>
<div style="height:2px;background:linear-gradient(90deg,#d35751 0px,#d35751 8.6px,#d55951 9px,#da6050 9.1px,#f4af6d 9.6px,#f9de95 10.1px,#f9de95 11.1px,#f7c680 11.6px,#ed925e 12px,#ea8558 12.1px,#e7744f 12.6px,#e7744f 24px,#f1a367 27px,#f1a367 39.7px)"></div>
<div style="height:2px;background:linear-gradient(90deg,#d35751 0px,#d35751 8.6px,#d55951 9px,#da6050 9.1px,#f4b16f 9.6px,#fae097 10.1px,#fae097 11.1px,#f7c882 11.6px,#ed925e 12px,#ea8558 12.1px,#e6724e 12.6px,#e6724e 24px,#f2a568 27px,#f2a568 39.7px)"></div>
<div style="height:2px;background:linear-gradient(90deg,#d35751 0px,#d35751 8.6px,#d55951 9px,#da6050 9.1px,#f4b16f 9.6px,#fae097 10.1px,#fae097 11.1px,#f7c882 11.6px,#ed925e 12px,#ea8558 12.1px,#e5704e 12.6px,#e5704e 24px,#f1a367 27px,#f1a367 39.7px)"></div>
<div style="height:2px;background:linear-gradient(90deg,#d15451 0px,#d15451 8.6px,#d25651 9px,#d75d50 9.1px,#f3ac6c 9.6px,#f9dc94 10.1px,#f9dc94 11.1px,#f6c47f 11.6px,#ec8d5c 12px,#e97e54 12.1px,#e26d4e 12.6px,#e26d4e 24px,#f09e64 27px,#f09e64 39.7px)"></div>
<div style="height:2px;background:linear-gradient(90deg,#d05252 0px,#d05252 8.6px,#d15451 9px,#d65b51 9.1px,#f3aa6b 9.6px,#f9da92 10.1px,#f9da92 11.1px,#f6c27d 11.6px,#eb8859 12px,#e87c53 12.1px,#e16b4f 12.6px,#e16b4f 24px,#ef9962 27px,#ef9962 39.7px)"></div>
<div style="height:2px;background:linear-gradient(90deg,#cd4e52 0px,#cd4e52 8.6px,#cf5052 9px,#d35751 9.1px,#f2a568 9.6px,#f9d78f 10.1px,#f9d78f 11.1px,#f5bc78 11.6px,#ea8357 12px,#e77750 12.1px,#dd664f 12.6px,#dd664f 24px,#ee945f 27px,#ee945f 39.7px)"></div>
<div style="height:2px;background:linear-gradient(90deg,#cc4d52 0px,#cc4d52 8.6px,#cd4e52 9px,#d25651 9.1px,#f1a367 9.6px,#f8d58d 10.1px,#f8d58d 11.1px,#f5bc78 11.6px,#e98155 12px,#e6724e 12.1px,#dc6450 12.6px,#dc6450 24px,#ed8f5d 27px,#ed8f5d 39.7px)"></div>
<div style="height:2px;background:linear-gradient(90deg,#cc4d52 0px,#cc4d52 8.6px,#cd4e52 9px,#d25651 9.1px,#f2a568 9.6px,#f9d78f 10.1px,#f9d78f 11.1px,#f5bc78 11.6px,#e98155 12px,#e6724e 12.1px,#db6250 12.6px,#db6250 24px,#ed8f5d 27px,#ed8f5d 39.7px)"></div>
<div style="height:2px;background:linear-gradient(90deg,#ca4953 0px,#ca4953 8.6px,#cb4b52 9px,#d05252 9.1px,#f09e64 9.6px,#f8d18a 10.1px,#f8d18a 11.1px,#f5b773 11.6px,#e87952 12px,#e46e4e 12.1px,#d85e50 12.6px,#d85e50 24px,#eb8859 27px,#eb8859 39.7px)"></div>
<div style="height:2px;background:linear-gradient(90deg,#c84753 0px,#c84753 8.6px,#cb4b52 9px,#cf5052 9.1px,#ef9b63 9.6px,#f8cf88 10.1px,#f8cf88 11.1px,#f5b572 11.6px,#e77750 12px,#e26d4e 12.1px,#d75d50 12.6px,#d75d50 24px,#ea8357 27px,#ea8357 39.7px)"></div>
<div style="height:2px;background:linear-gradient(90deg,#c84753 0px,#c84753 8.6px,#cb4b52 9px,#cf5052 9.1px,#f09e64 9.6px,#f8d18a 10.1px,#f8d18a 11.1px,#f5b773 11.6px,#e77750 12px,#e26d4e 12.1px,#d75d50 12.6px,#d75d50 24px,#ea8357 27px,#ea8357 39.7px)"></div>
<div style="height:2px;background:linear-gradient(90deg,#c84753 0px,#c84753 8.6px,#ca4953 9px,#cf5052 9.1px,#f09e64 9.6px,#f8d18a 10.1px,#f8d18a 11.1px,#f5b773 11.6px,#e77750 12px,#e16b4f 12.1px,#d75d50 12.6px,#d75d50 24px,#e98155 27px,#e98155 39.7px)"></div>
<div style="height:2px;background:linear-gradient(90deg,#c34152 0px,#c34152 8.6px,#c74553 9px,#cb4b52 9.1px,#ed925e 9.6px,#f7c680 10.1px,#f7c680 11.1px,#f3aa6b 11.6px,#e46e4e 12px,#dc6450 12.1px,#d25651 12.6px,#d25651 24px,#e7744f 27px,#e7744f 39.7px)"></div>
<div style="height:2px;background:linear-gradient(90deg,#c54353 0px,#c54353 8.6px,#c74553 9px,#cc4d52 9.1px,#ee9761 9.6px,#f7cb85 10.1px,#f7cb85 11.1px,#f4b16f 11.6px,#e5704e 12px,#dd664f 12.1px,#d25651 12.6px,#d25651 24px,#e77750 27px,#e77750 39.7px)"></div>
<div style="height:2px;background:linear-gradient(90deg,#bf3c51 0px,#bf3c51 8.6px,#c13f51 9px,#c84753 9.1px,#ec8d5c 9.6px,#f6c07c 10.1px,#f6c07c 11.1px,#f2a568 11.6px,#e0694f 12px,#d85e50 12.1px,#cf5052 12.6px,#cf5052 24px,#e26d4e 27px,#e26d4e 39.7px)"></div>
<div style="height:2px;background:linear-gradient(90deg,#c13f51 0px,#c13f51 8.6px,#c34152 9px,#c84753 9.1px,#ed8f5d 9.6px,#f6c47f 10.1px,#f6c47f 11.1px,#f2a869 11.6px,#e16b4f 12px,#da6050 12.1px,#cf5052 12.6px,#cf5052 24px,#e26d4e 27px,#e26d4e 39.7px)"></div>
<div style="height:2px;background:linear-gradient(90deg,#c34152 0px,#c34152 8.6px,#c54353 9px,#cb4b52 9.1px,#ee9761 9.6px,#f7cb85 10.1px,#f7cb85 11.1px,#f4af6d 11.6px,#e26d4e 12px,#dc6450 12.1px,#d05252 12.6px,#d05252 24px,#e5704e 27px,#e5704e 39.7px)"></div>
<div style="height:2px;background:linear-gradient(90deg,#bb384f 0px,#bb384f 8.6px,#bd3a50 9px,#c34152 9.1px,#ea8558 9.6px,#f5ba77 10.1px,#f5ba77 11.1px,#ef9b63 11.6px,#dc6450 12px,#d55951 12.1px,#cb4b52 12.6px,#cb4b52 24px,#dc6450 27px,#dc6450 39.7px)"></div>
<div style="height:2px;background:linear-gradient(90deg,#b8354e 0px,#b8354e 8.6px,#bb384f 9px,#c34152 9.1px,#ea8558 9.6px,#f5ba77 10.1px,#f5ba77 11.1px,#ef9b63 11.6px,#db6250 12px,#d35751 12.1px,#ca4953 12.6px,#ca4953 24px,#db6250 27px,#db6250 39.7px)"></div>
<div style="height:2px;background:linear-gradient(90deg,#b8354e 0px,#b8354e 8.6px,#bb384f 9px,#c13f51 9.1px,#ea8357 9.6px,#f5ba77 10.1px,#f5ba77 11.1px,#ef9b63 11.6px,#da6050 12px,#d35751 12.1px,#c84753 12.6px,#c84753 24px,#da6050 27px,#da6050 39.7px)"></div>
<div style="height:2px;background:linear-gradient(90deg,#b6334e 0px,#b6334e 8.6px,#b8354e 9px,#c13f51 9.1px,#e98155 9.6px,#f5b975 10.1px,#f5b975 11.1px,#ef9962 11.6px,#d85e50 12px,#d15451 12.1px,#c74553 12.6px,#c74553 24px,#d75d50 27px,#d75d50 39.7px)"></div>
<div style="height:2px;background:linear-gradient(90deg,#b4314d 0px,#b4314d 8.6px,#b6334e 9px,#bf3c51 9.1px,#e98155 9.6px,#f5b975 10.1px,#f5b975 11.1px,#ee9761 11.6px,#d75d50 12px,#d15451 12.1px,#c54353 12.6px,#c54353 24px,#d65b51 27px,#d65b51 39.7px)"></div>
<div style="height:2px;background:linear-gradient(90deg,#b4314d 0px,#b4314d 8.6px,#b8354e 9px,#bf3c51 9.1px,#e98155 9.6px,#f5b975 10.1px,#f5b975 11.1px,#ee9761 11.6px,#d75d50 12px,#d15451 12.1px,#c54353 12.6px,#c54353 24px,#d55951 27px,#d55951 39.7px)"></div>
<div style="height:2px;background:linear-gradient(90deg,#b4314d 0px,#b4314d 8.6px,#b6334e 9px,#bd3a50 9.1px,#e87c53 9.6px,#f5b572 10.1px,#f5b572 11.1px,#ed925e 11.6px,#d65b51 12px,#cf5052 12.1px,#c34152 12.6px,#c34152 24px,#d35751 27px,#d35751 39.7px)"></div>
<div style="height:2px;background:linear-gradient(90deg,#b4314d 0px,#b4314d 8.6px,#b8354e 9px,#bf3c51 9.1px,#e98155 9.6px,#f5b975 10.1px,#f5b975 11.1px,#ee9761 11.6px,#d75d50 12px,#d15451 12.1px,#c54353 12.6px,#c54353 24px,#d55951 27px,#d55951 39.7px)"></div>
<div style="height:2px;background:linear-gradient(90deg,#b22e4c 0px,#b22e4c 8.6px,#b4314d 9px,#bb384f 9.1px,#e87952 9.6px,#f4b16f 10.1px,#f4b16f 11.1px,#ed8f5d 11.6px,#d55951 12px,#cf5052 12.1px,#c13f51 12.6px,#c13f51 24px,#d25651 27px,#d25651 39.7px)"></div>
<div style="height:2px;background:linear-gradient(90deg,#b22e4c 0px,#b22e4c 8.6px,#b4314d 9px,#bb384f 9.1px,#e87952 9.6px,#f4b16f 10.1px,#f4b16f 11.1px,#ed8f5d 11.6px,#d55951 12px,#cf5052 12.1px,#c13f51 12.6px,#c13f51 24px,#d25651 27px,#d25651 39.7px)"></div>
<div style="height:2px;background:linear-gradient(90deg,#b02c4c 0px,#b02c4c 8.6px,#b22e4c 9px,#b8354e 9.1px,#e6724e 9.6px,#f2a869 10.1px,#f2a869 11.1px,#ea8558 11.6px,#d25651 12px,#cb4b52 12.1px,#bd3a50 12.6px,#bd3a50 24px,#cf5052 27px,#cf5052 39.7px)"></div>
<div style="height:2px;background:linear-gradient(90deg,#b22e4c 0px,#b22e4c 8.6px,#b4314d 9px,#bb384f 9.1px,#e87952 9.6px,#f4af6d 10.1px,#f4af6d 11.1px,#ed8f5d 11.6px,#d55951 12px,#cd4e52 12.1px,#c13f51 12.6px,#c13f51 24px,#d15451 27px,#d15451 39.7px)"></div>
<div style="height:2px;background:linear-gradient(90deg,#b02c4c 0px,#b02c4c 8.6px,#b4314d 9px,#bb384f 9.1px,#e7744f 9.6px,#f3aa6b 10.1px,#f3aa6b 11.1px,#ec8a5a 11.6px,#d35751 12px,#cd4e52 12.1px,#bf3c51 12.6px,#bf3c51 24px,#d05252 27px,#d05252 39.7px)"></div>
<div style="height:2px;background:linear-gradient(90deg,#ae2a4b 0px,#ae2a4b 8.6px,#b22e4c 9px,#b8354e 9.1px,#e5704e 9.6px,#f2a568 10.1px,#f2a568 11.1px,#ea8558 11.6px,#d15451 12px,#cb4b52 12.1px,#bd3a50 12.6px,#bd3a50 24px,#cd4e52 27px,#cd4e52 39.7px)"></div>
<div style="height:2px;background:linear-gradient(90deg,#b02c4c 0px,#b02c4c 8.6px,#b22e4c 9px,#b8354e 9.1px,#e6724e 9.6px,#f2a568 10.1px,#f2a568 11.1px,#ea8558 11.6px,#d25651 12px,#cb4b52 12.1px,#bd3a50 12.6px,#bd3a50 24px,#cd4e52 27px,#cd4e52 39.7px)"></div>
<div style="height:2px;background:linear-gradient(90deg,#ae2a4b 0px,#ae2a4b 8.6px,#b02c4c 9px,#b6334e 9.1px,#e46e4e 9.6px,#f0a066 10.1px,#f0a066 11.1px,#ea8357 11.6px,#d15451 12px,#ca4953 12.1px,#bd3a50 12.6px,#bd3a50 24px,#cc4d52 27px,#cc4d52 39.7px)"></div>
<div style="height:2px;background:linear-gradient(90deg,#ac274a 0px,#ac274a 8.6px,#ae2a4b 9px,#b4314d 9.1px,#e16b4f 9.6px,#ef9b63 10.1px,#ef9b63 11.1px,#e87c53 11.6px,#cf5052 12px,#c84753 12.1px,#b8354e 12.6px,#b8354e 24px,#cb4b52 27px,#cb4b52 39.7px)"></div>
<div style="height:2px;background:linear-gradient(90deg,#ac274a 0px,#ac274a 8.6px,#b02c4c 9px,#b4314d 9.1px,#e26d4e 9.6px,#ef9b63 10.1px,#ef9b63 11.1px,#e97e54 11.6px,#cf5052 12px,#c84753 12.1px,#bb384f 12.6px,#bb384f 24px,#cb4b52 27px,#cb4b52 39.7px)"></div>
<div style="height:2px;background:linear-gradient(90deg,#ac274a 0px,#ac274a 8.6px,#ae2a4b 9px,#b4314d 9.1px,#e16b4f 9.6px,#ef9962 10.1px,#ef9962 11.1px,#e87c53 11.6px,#cf5052 12px,#c84753 12.1px,#b8354e 12.6px,#b8354e 24px,#ca4953 27px,#ca4953 39.7px)"></div>
<div style="height:2px;background:linear-gradient(90deg,#ae2a4b 0px,#ae2a4b 8.6px,#b02c4c 9px,#b6334e 9.1px,#e26d4e 9.6px,#ef9b63 10.1px,#ef9b63 11.1px,#e97e54 11.6px,#cf5052 12px,#c84753 12.1px,#bb384f 12.6px,#bb384f 24px,#ca4953 27px,#ca4953 39.7px)"></div>
<div style="height:2px;background:linear-gradient(90deg,#a92549 0px,#a92549 8.6px,#ac274a 9px,#b22e4c 9.1px,#df674f 9.6px,#ee945f 10.1px,#ee945f 11.1px,#e77750 11.6px,#cc4d52 12px,#c74553 12.1px,#b6334e 12.6px,#b6334e 24px,#c74553 27px,#c74553 39.7px)"></div>
<div style="height:2px;background:linear-gradient(90deg,#ac274a 0px,#ac274a 8.6px,#ae2a4b 9px,#b4314d 9.1px,#e0694f 9.6px,#ee9761 10.1px,#ee9761 11.1px,#e87952 11.6px,#cd4e52 12px,#c74553 12.1px,#b8354e 12.6px,#b8354e 24px,#c84753 27px,#c84753 39.7px)"></div>
<div style="height:2px;background:linear-gradient(90deg,#a72249 0px,#a72249 8.6px,#a92549 9px,#b02c4c 9.1px,#db6250 9.6px,#ec8a5a 10.1px,#ec8a5a 11.1px,#e5704e 11.6px,#ca4953 12px,#c34152 12.1px,#b4314d 12.6px,#b4314d 24px,#c34152 27px,#c34152 39.7px)"></div>
<div style="height:2px;background:linear-gradient(90deg,#ac274a 0px,#ac274a 8.6px,#ae2a4b 9px,#b22e4c 9.1px,#df674f 9.6px,#ee945f 10.1px,#ee945f 11.1px,#e77750 11.6px,#cc4d52 12px,#c74553 12.1px,#b8354e 12.6px,#b8354e 24px,#c74553 27px,#c74553 39.7px)"></div>
<div style="height:2px;background:linear-gradient(90deg,#a92549 0px,#a92549 8.6px,#ac274a 9px,#b22e4c 9.1px,#dd664f 9.6px,#ed8f5d 10.1px,#ed8f5d 11.1px,#e6724e 11.6px,#cb4b52 12px,#c54353 12.1px,#b6334e 12.6px,#b6334e 24px,#c54353 27px,#c54353 39.7px)"></div>
<div style="height:2px;background:linear-gradient(90deg,#a72249 0px,#a72249 8.6px,#a92549 9px,#ae2a4b 9.1px,#da6050 9.6px,#eb8859 10.1px,#eb8859 11.1px,#e26d4e 11.6px,#ca4953 12px,#c13f51 12.1px,#b22e4c 12.6px,#b22e4c 24px,#c13f51 27px,#c13f51 39.7px)"></div>
<div style="height:2px;background:linear-gradient(90deg,#a52048 0px,#a52048 8.6px,#a72249 9px,#ac274a 9.1px,#d75d50 9.6px,#e98155 10.1px,#e98155 11.1px,#e0694f 11.6px,#c74553 12px,#bf3c51 12.1px,#b02c4c 12.6px,#b02c4c 24px,#bd3a50 27px,#bd3a50 39.7px)"></div>
<div style="height:2px;background:linear-gradient(90deg,#a72249 0px,#a72249 8.6px,#a92549 9px,#ae2a4b 9.1px,#da6050 9.6px,#ea8558 10.1px,#ea8558 11.1px,#e26d4e 11.6px,#c84753 12px,#c13f51 12.1px,#b22e4c 12.6px,#b22e4c 24px,#bf3c51 27px,#bf3c51 39.7px)"></div>
<div style="height:2px;background:linear-gradient(90deg,#a52048 0px,#a52048 8.6px,#a72249 9px,#ac274a 9.1px,#d75d50 9.6px,#e97e54 10.1px,#e97e54 11.1px,#df674f 11.6px,#c74553 12px,#bd3a50 12.1px,#b02c4c 12.6px,#b02c4c 24px,#bb384f 27px,#bb384f 39.7px)"></div>
<div style="height:2px;background:linear-gradient(90deg,#a31e47 0px,#a31e47 9px,#a92549 9.1px,#d35751 9.6px,#e77750 10.1px,#e77750 11.1px,#dc6450 11.6px,#c34152 12px,#bb384f 12.1px,#ae2a4b 12.6px,#ae2a4b 24px,#b8354e 27px,#b8354e 39.7px)"></div>
<div style="height:2px;background:linear-gradient(90deg,#a31e47 0px,#a31e47 8.6px,#a52048 9px,#a92549 9.1px,#d55951 9.6px,#e77750 10.1px,#e77750 11.1px,#dc6450 11.6px,#c34152 12px,#bb384f 12.1px,#ae2a4b 12.6px,#ae2a4b 24px,#b8354e 27px,#b8354e 39.7px)"></div>
<div style="height:2px;background:linear-gradient(90deg,#a52048 0px,#a52048 8.6px,#a72249 9px,#ac274a 9.1px,#d65b51 9.6px,#e87c53 10.1px,#e87c53 11.1px,#dd664f 11.6px,#c54353 12px,#bd3a50 12.1px,#ae2a4b 12.6px,#ae2a4b 24px,#b8354e 27px,#b8354e 39.7px)"></div>
<div style="height:2px;background:linear-gradient(90deg,#a52048 0px,#a52048 8.6px,#a72249 9px,#ac274a 9.1px,#d65b51 9.6px,#e87c53 10.1px,#e87c53 11.1px,#df674f 11.6px,#c54353 12px,#bd3a50 12.1px,#b02c4c 12.6px,#b02c4c 24px,#b8354e 27px,#b8354e 39.7px)"></div>
<div style="height:2px;background:linear-gradient(90deg,#a31e47 0px,#a31e47 8.6px,#a52048 9px,#a92549 9.1px,#d25651 9.6px,#e6724e 10.1px,#e6724e 11.1px,#da6050 11.6px,#c13f51 12px,#b8354e 12.1px,#ac274a 12.6px,#ac274a 24px,#b4314d 27px,#b4314d 39.7px)"></div>
<div style="height:2px;background:linear-gradient(90deg,#a52048 0px,#a52048 9px,#ac274a 9.1px,#d35751 9.6px,#e7744f 10.1px,#e7744f 11.1px,#db6250 11.6px,#c34152 12px,#bb384f 12.1px,#ae2a4b 12.6px,#ae2a4b 24px,#b6334e 27px,#b6334e 39.7px)"></div>
<div style="height:2px;background:linear-gradient(90deg,#a31e47 0px,#a31e47 8.6px,#a52048 9px,#a92549 9.1px,#d25651 9.6px,#e6724e 10.1px,#e6724e 11.1px,#da6050 11.6px,#c13f51 12px,#b8354e 12.1px,#ac274a 12.6px,#ac274a 24px,#b4314d 27px,#b4314d 39.7px)"></div>
<div style="height:2px;background:linear-gradient(90deg,#a31e47 0px,#a31e47 9px,#a92549 9.1px,#d15451 9.6px,#e46e4e 10.1px,#e46e4e 11.1px,#d75d50 11.6px,#bf3c51 12px,#b6334e 12.1px,#a92549 12.6px,#a92549 24px,#b22e4c 27px,#b22e4c 39.7px)"></div>
<div style="height:2px;background:linear-gradient(90deg,#a11b46 0px,#a11b46 8.6px,#a31e47 9px,#a72249 9.1px,#d05252 9.6px,#e16b4f 10.1px,#e16b4f 11.1px,#d65b51 11.6px,#bd3a50 12px,#b6334e 12.1px,#a92549 12.6px,#a92549 24px,#b02c4c 27px,#b02c4c 39.7px)"></div>
<div style="height:2px;background:linear-gradient(90deg,#a11b46 0px,#a11b46 8.6px,#a31e47 9px,#a72249 9.1px,#cf5052 9.6px,#e0694f 10.1px,#e0694f 11.1px,#d55951 11.6px,#bd3a50 12px,#b4314d 12.1px,#a92549 12.6px,#a92549 24px,#ae2a4b 27px,#ae2a4b 39.7px)"></div>
<div style="height:2px;background:linear-gradient(90deg,#a52048 0px,#a52048 9px,#a92549 9.1px,#d15451 9.6px,#e46e4e 10.1px,#e46e4e 11.1px,#d85e50 11.6px,#bf3c51 12px,#b8354e 12.1px,#ac274a 12.6px,#ac274a 24px,#b22e4c 27px,#b22e4c 39.7px)"></div>
<div style="height:2px;background:linear-gradient(90deg,#a31e47 0px,#a31e47 8.6px,#a52048 9px,#a92549 9.1px,#cf5052 9.6px,#e16b4f 10.1px,#e16b4f 11.1px,#d65b51 11.6px,#bd3a50 12px,#b6334e 12.1px,#a92549 12.6px,#a92549 24px,#ae2a4b 27px,#ae2a4b 39.7px)"></div>
<div style="height:2px;background:linear-gradient(90deg,#a52048 0px,#a52048 9px,#a92549 9.1px,#d05252 9.6px,#e26d4e 10.1px,#e26d4e 11.1px,#d75d50 11.6px,#bf3c51 12px,#b6334e 12.1px,#ac274a 12.6px,#ac274a 24px,#b02c4c 27px,#b02c4c 39.7px)"></div>
<div style="height:2px;background:linear-gradient(90deg,#a31e47 0px,#a31e47 8.6px,#a52048 9px,#a92549 9.1px,#cf5052 9.6px,#e0694f 10.1px,#e0694f 11.1px,#d55951 11.6px,#bd3a50 12px,#b4314d 12.1px,#a92549 12.6px,#a92549 24px,#ae2a4b 27px,#ae2a4b 39.7px)"></div>
<div style="height:2px;background:linear-gradient(90deg,#a11b46 0px,#a11b46 8.6px,#a31e47 9px,#a72249 9.1px,#cc4d52 9.6px,#dc6450 10.1px,#dc6450 11.1px,#d25651 11.6px,#b8354e 12px,#b22e4c 12.1px,#a72249 12.6px,#a72249 24px,#a92549 27px,#a92549 39.7px)"></div>
<div style="height:2px;background:linear-gradient(90deg,#a11b46 0px,#a11b46 8.6px,#a31e47 9px,#a72249 9.1px,#cc4d52 9.6px,#db6250 10.1px,#db6250 11.1px,#d15451 11.6px,#b8354e 12px,#b22e4c 12.1px,#a72249 12.6px,#a72249 24px,#a92549 27px,#a92549 39.7px)"></div>
<div style="height:2px;background:linear-gradient(90deg,#a31e47 0px,#a31e47 9px,#a72249 9.1px,#cc4d52 9.6px,#db6250 10.1px,#db6250 11.1px,#d15451 11.6px,#b8354e 12px,#b22e4c 12.1px,#a72249 12.6px,#a72249 24px,#a92549 27px,#a92549 39.7px)"></div>
<div style="height:2px;background:linear-gradient(90deg,#a11b46 0px,#a11b46 8.6px,#a31e47 9px,#a52048 9.1px,#ca4953 9.6px,#d85e50 10.1px,#d85e50 11.1px,#cf5052 11.6px,#b6334e 12px,#b02c4c 12.1px,#a52048 12.6px,#a52048 24px,#a92549 27px,#a92549 39.7px)"></div>
<div style="height:2px;background:linear-gradient(90deg,#a11b46 0px,#a11b46 9px,#a52048 9.1px,#c84753 9.6px,#d75d50 10.1px,#d75d50 11.1px,#cd4e52 11.6px,#b4314d 12px,#ae2a4b 12.1px,#a52048 12.6px,#a52048 24px,#a72249 27px,#a72249 39.7px)"></div>
<div style="height:2px;background:linear-gradient(90deg,#a31e47 0px,#a31e47 8.6px,#a52048 9px,#a72249 9.1px,#cb4b52 9.6px,#da6050 10.1px,#da6050 11.1px,#d05252 11.6px,#b8354e 12px,#b22e4c 12.1px,#a72249 12.6px,#a72249 24px,#ac274a 27px,#ac274a 39.7px)"></div>
<div style="height:2px;background:linear-gradient(90deg,#a11b46 0px,#a11b46 9px,#a52048 9.1px,#c74553 9.6px,#d55951 10.1px,#d55951 11.1px,#cc4d52 11.6px,#b4314d 12px,#ae2a4b 12.1px,#a52048 12.6px,#a52048 24px,#a72249 27px,#a72249 39.7px)"></div>
<div style="height:2px;background:linear-gradient(90deg,#9f1946 0px,#9f1946 8.6px,#a11b46 9px,#a31e47 9.1px,#c54353 9.6px,#d35751 10.1px,#d35751 11.1px,#cb4b52 11.6px,#b22e4c 12px,#ac274a 12.1px,#a31e47 12.6px,#a31e47 24px,#a72249 27px,#a72249 39.7px)"></div>
<div style="height:2px;background:linear-gradient(90deg,#a11b46 0px,#a11b46 8.6px,#a31e47 9px,#a72249 9.1px,#c74553 9.6px,#d55951 10.1px,#d55951 11.1px,#cc4d52 11.6px,#b4314d 12px,#b02c4c 12.1px,#a72249 12.6px,#a72249 24px,#a92549 27px,#a92549 39.7px)"></div>
<div style="height:2px;background:linear-gradient(90deg,#a11b46 0px,#a11b46 8.6px,#a31e47 9px,#a52048 9.1px,#c54353 9.6px,#d35751 10.1px,#d35751 11.1px,#cb4b52 11.6px,#b4314d 12px,#ae2a4b 12.1px,#a52048 12.6px,#a52048 24px,#a72249 27px,#a72249 39.7px)"></div>
<div style="height:2px;background:linear-gradient(90deg,#a11b46 0px,#a11b46 8.6px,#a31e47 9px,#a52048 9.1px,#c54353 9.6px,#d25651 10.1px,#d25651 11.1px,#cb4b52 11.6px,#b4314d 12px,#ae2a4b 12.1px,#a52048 12.6px,#a52048 24px,#a92549 27px,#a92549 39.7px)"></div>
<div style="height:2px;background:linear-gradient(90deg,#9d1745 0px,#9d1745 8.6px,#9f1946 9px,#a11b46 9.1px,#bf3c51 9.6px,#cd4e52 10.1px,#cd4e52 11.1px,#c54353 11.6px,#ae2a4b 12px,#a92549 12.1px,#a11b46 12.6px,#a11b46 24px,#a31e47 27px,#a31e47 39.7px)"></div>
<div style="height:2px;background:linear-gradient(90deg,#9f1946 0px,#9f1946 8.6px,#a11b46 9px,#a31e47 9.1px,#c13f51 9.6px,#cf5052 10.1px,#cf5052 11.1px,#c74553 11.6px,#b02c4c 12px,#ac274a 12.1px,#a31e47 12.6px,#a31e47 24px,#a72249 27px,#a72249 39.7px)"></div>
<div style="height:2px;background:linear-gradient(90deg,#a11b46 0px,#a11b46 8.6px,#a31e47 9px,#a52048 9.1px,#c13f51 9.6px,#d05252 10.1px,#d05252 11.1px,#c84753 11.6px,#b22e4c 12px,#ac274a 12.1px,#a52048 12.6px,#a52048 24px,#a72249 27px,#a72249 39.7px)"></div>
<div style="height:2px;background:linear-gradient(90deg,#9f1946 0px,#9f1946 8.6px,#a11b46 9px,#a31e47 9.1px,#bf3c51 9.6px,#cc4d52 10.1px,#cc4d52 11.1px,#c54353 11.6px,#ae2a4b 12px,#a92549 12.1px,#a31e47 12.6px,#a31e47 24px,#a52048 27px,#a52048 39.7px)"></div>
<div style="height:2px;background:linear-gradient(90deg,#9f1946 0px,#9f1946 8.6px,#a11b46 9px,#a31e47 9.1px,#bd3a50 9.6px,#cc4d52 10.1px,#cc4d52 11.1px,#c34152 11.6px,#ae2a4b 12px,#a92549 12.1px,#a31e47 12.6px,#a31e47 24px,#a52048 27px,#a52048 39.7px)"></div>
<div style="height:2px;background:linear-gradient(90deg,#9f1946 0px,#9f1946 9px,#a11b46 9.1px,#bb384f 9.6px,#ca4953 10.1px,#ca4953 11.1px,#c13f51 11.6px,#ac274a 12px,#a72249 12.1px,#a11b46 12.6px,#a11b46 24px,#a31e47 27px,#a31e47 39.7px)"></div>
<div style="height:2px;background:linear-gradient(90deg,#9f1946 0px,#9f1946 8.6px,#a11b46 9px,#a31e47 9.1px,#bb384f 9.6px,#ca4953 10.1px,#ca4953 11.1px,#c13f51 11.6px,#ae2a4b 12px,#a92549 12.1px,#a31e47 12.6px,#a31e47 24px,#a52048 27px,#a52048 39.7px)"></div>
<div style="height:2px;background:linear-gradient(90deg,#a11b46 0px,#a11b46 9px,#a31e47 9.1px,#bb384f 9.6px,#ca4953 10.1px,#ca4953 11.1px,#c13f51 11.6px,#ae2a4b 12px,#a92549 12.1px,#a31e47 12.6px,#a31e47 24px,#a52048 27px,#a52048 39.7px)"></div>
<div style="height:2px;background:linear-gradient(90deg,#9f1946 0px,#9f1946 9px,#a31e47 9.1px,#b8354e 9.6px,#c74553 10.1px,#c74553 11.1px,#bf3c51 11.6px,#ac274a 12px,#a72249 12.1px,#a11b46 12.6px,#a11b46 24px,#a52048 27px,#a52048 39.7px)"></div>
<div style="height:2px;background:linear-gradient(90deg,#9f1946 0px,#9f1946 8.6px,#a11b46 9px,#a31e47 9.1px,#b8354e 9.6px,#c74553 10.1px,#c74553 11.1px,#bd3a50 11.6px,#ac274a 12px,#a72249 12.1px,#a31e47 12.6px,#a31e47 24px,#a52048 27px,#a52048 39.7px)"></div>
<div style="height:2px;background:linear-gradient(90deg,#a11b46 0px,#a11b46 9px,#a31e47 9.1px,#b8354e 9.6px,#c74553 10.1px,#c74553 11.1px,#bf3c51 11.6px,#ac274a 12px,#a92549 12.1px,#a31e47 12.6px,#a31e47 24px,#a52048 27px,#a52048 39.7px)"></div>
<div style="height:2px;background:linear-gradient(90deg,#a11b46 0px,#a11b46 9px,#a31e47 9.1px,#b8354e 9.6px,#c74553 10.1px,#c74553 11.1px,#bf3c51 11.6px,#ae2a4b 12px,#a92549 12.1px,#a31e47 12.6px,#a31e47 24px,#a72249 27px,#a72249 39.7px)"></div>
<div style="height:2px;background:linear-gradient(90deg,#a11b46 0px,#a11b46 9px,#a31e47 9.1px,#b6334e 9.6px,#c54353 10.1px,#c54353 11.1px,#bd3a50 11.6px,#ac274a 12px,#a72249 12.1px,#a31e47 12.6px,#a31e47 24px,#a52048 27px,#a52048 39.7px)"></div>
<div style="height:2px;background:linear-gradient(90deg,#9f1946 0px,#9f1946 8.6px,#a11b46 9px,#a31e47 9.1px,#b6334e 9.6px,#c54353 10.1px,#c54353 11.1px,#bb384f 11.6px,#ac274a 12px,#a72249 12.1px,#a31e47 12.6px,#a31e47 24px,#a52048 27px,#a52048 39.7px)"></div>
<div style="height:2px;background:linear-gradient(90deg,#a11b46 0px,#a11b46 9px,#a31e47 9.1px,#b8354e 9.6px,#c54353 10.1px,#c54353 11.1px,#bd3a50 11.6px,#ac274a 12px,#a92549 12.1px,#a31e47 12.6px,#a31e47 24px,#a72249 27px,#a72249 39.7px)"></div>
<div style="height:2px;background:linear-gradient(90deg,#9f1946 0px,#9f1946 9px,#a11b46 9.1px,#b4314d 9.6px,#c13f51 10.1px,#c13f51 11.1px,#b8354e 11.6px,#a92549 12px,#a52048 12.1px,#a11b46 12.6px,#a11b46 24px,#a31e47 27px,#a31e47 39.7px)"></div>
<div style="height:2px;background:linear-gradient(90deg,#a11b46 0px,#a11b46 9px,#a31e47 9.1px,#b6334e 9.6px,#c34152 10.1px,#c34152 11.1px,#bb384f 11.6px,#ac274a 12px,#a72249 12.1px,#a31e47 12.6px,#a31e47 24px,#a52048 27px,#a52048 39.7px)"></div>
<div style="height:2px;background:linear-gradient(90deg,#9f1946 0px,#9f1946 9px,#a11b46 9.1px,#b22e4c 9.6px,#bf3c51 10.1px,#bf3c51 11.1px,#b6334e 11.6px,#a72249 12px,#a52048 12.1px,#a11b46 12.6px,#a11b46 24px,#a31e47 27px,#a31e47 39.7px)"></div>
<div style="height:2px;background:linear-gradient(90deg,#9f1946 0px,#9f1946 9px,#a11b46 9.1px,#b22e4c 9.6px,#bf3c51 10.1px,#bf3c51 11.1px,#b6334e 11.6px,#a72249 12px,#a52048 12.1px,#a11b46 12.6px,#a11b46 24px,#a31e47 27px,#a31e47 39.7px)"></div>
<div style="height:2px;background:linear-gradient(90deg,#9d1745 0px,#9d1745 9px,#9f1946 9.1px,#b02c4c 9.6px,#bd3a50 10.1px,#bd3a50 11.1px,#b4314d 11.6px,#a52048 12px,#a31e47 12.1px,#9f1946 12.6px,#9f1946 24px,#a11b46 27px,#a11b46 39.7px)"></div>
<div style="height:2px;background:linear-gradient(90deg,#9f1946 0px,#9f1946 8.6px,#a11b46 9px,#a11b46 9.1px,#b22e4c 9.6px,#bf3c51 10.1px,#bf3c51 11.1px,#b6334e 11.6px,#a92549 12px,#a52048 12.1px,#a11b46 12.6px,#a11b46 24px,#a31e47 27px,#a31e47 39.7px)"></div>
<div style="height:2px;background:linear-gradient(90deg,#a11b46 0px,#a11b46 9px,#a31e47 9.1px,#b4314d 9.6px,#bf3c51 10.1px,#bf3c51 11.1px,#b8354e 11.6px,#a92549 12px,#a72249 12.1px,#a11b46 12.6px,#a11b46 24px,#a52048 27px,#a52048 39.7px)"></div>
<div style="height:2px;background:linear-gradient(90deg,#9f1946 0px,#9f1946 9px,#a11b46 9.1px,#b22e4c 9.6px,#bd3a50 10.1px,#bd3a50 11.1px,#b4314d 11.6px,#a72249 12px,#a52048 12.1px,#a11b46 12.6px,#a11b46 24px,#a31e47 27px,#a31e47 39.7px)"></div>
<div style="height:2px;background:linear-gradient(90deg,#9f1946 0px,#9f1946 9px,#a11b46 9.1px,#b02c4c 9.6px,#bb384f 10.1px,#bb384f 11.1px,#b4314d 11.6px,#a72249 12px,#a31e47 12.1px,#9f1946 12.6px,#9f1946 24px,#a11b46 27px,#a11b46 39.7px)"></div>
<div style="height:2px;background:linear-gradient(90deg,#9d1745 0px,#9d1745 9px,#9f1946 9.1px,#ae2a4b 9.6px,#b8354e 10.1px,#b8354e 11.1px,#b22e4c 11.6px,#a52048 12px,#a11b46 12.1px,#9d1745 12.6px,#9d1745 24px,#a11b46 27px,#a11b46 39.7px)"></div>
<div style="height:2px;background:linear-gradient(90deg,#9f1946 0px,#9f1946 9px,#a11b46 9.1px,#b02c4c 9.6px,#bb384f 10.1px,#bb384f 11.1px,#b4314d 11.6px,#a72249 12px,#a52048 12.1px,#a11b46 12.6px,#a11b46 24px,#a31e47 27px,#a31e47 39.7px)"></div>
<div style="height:2px;background:linear-gradient(90deg,#a11b46 0px,#a11b46 9px,#a31e47 9.1px,#b22e4c 9.6px,#bd3a50 10.1px,#bd3a50 11.1px,#b6334e 11.6px,#a92549 12px,#a72249 12.1px,#a31e47 12.6px,#a31e47 24px,#a52048 27px,#a52048 39.7px)"></div>
<div style="height:2px;background:linear-gradient(90deg,#a11b46 0px,#a11b46 9px,#a31e47 9.1px,#b22e4c 9.6px,#bb384f 10.1px,#bb384f 11.1px,#b4314d 11.6px,#a72249 12px,#a52048 12.1px,#a11b46 12.6px,#a11b46 24px,#a31e47 27px,#a31e47 39.7px)"></div>
<div style="height:2px;background:linear-gradient(90deg,#9f1946 0px,#9f1946 9px,#a11b46 9.1px,#b02c4c 9.6px,#b8354e 10.1px,#b8354e 11.1px,#b22e4c 11.6px,#a72249 12px,#a31e47 12.1px,#a11b46 12.6px,#a11b46 24px,#a31e47 27px,#a31e47 39.7px)"></div>
<div style="height:2px;background:linear-gradient(90deg,#9f1946 0px,#9f1946 9px,#a11b46 9.1px,#b02c4c 9.6px,#b8354e 10.1px,#b8354e 11.1px,#b22e4c 11.6px,#a52048 12px,#a31e47 12.1px,#9f1946 12.6px,#9f1946 24px,#a31e47 27px,#a31e47 39.7px)"></div>
<div style="height:2px;background:linear-gradient(90deg,#a11b46 0px,#a11b46 9px,#a31e47 9.1px,#b02c4c 9.6px,#b8354e 10.1px,#b8354e 11.1px,#b22e4c 11.6px,#a72249 12px,#a52048 12.1px,#a11b46 12.6px,#a11b46 24px,#a31e47 27px,#a31e47 39.7px)"></div>
<div style="height:2px;background:linear-gradient(90deg,#9f1946 0px,#9f1946 8.6px,#a11b46 9px,#a11b46 9.1px,#b02c4c 9.6px,#b8354e 10.1px,#b8354e 11.1px,#b22e4c 11.6px,#a72249 12px,#a31e47 12.1px,#a11b46 12.6px,#a11b46 24px,#a31e47 27px,#a31e47 39.7px)"></div>
<div style="height:2px;background:linear-gradient(90deg,#9f1946 0px,#9f1946 9px,#a11b46 9.1px,#ae2a4b 9.6px,#b6334e 10.1px,#b6334e 11.1px,#b02c4c 11.6px,#a52048 12px,#a31e47 12.1px,#9f1946 12.6px,#9f1946 24px,#a31e47 27px,#a31e47 39.7px)"></div>
<div style="height:2px;background:linear-gradient(90deg,#a11b46 0px,#a11b46 9px,#a31e47 9.1px,#b02c4c 9.6px,#b8354e 10.1px,#b8354e 11.1px,#b22e4c 11.6px,#a72249 12px,#a52048 12.1px,#a11b46 12.6px,#a11b46 24px,#a31e47 27px,#a31e47 39.7px)"></div>
<div style="height:2px;background:linear-gradient(90deg,#9f1946 0px,#9f1946 8.6px,#a11b46 9px,#a11b46 9.1px,#ae2a4b 9.6px,#b6334e 10.1px,#b6334e 11.1px,#b02c4c 11.6px,#a52048 12px,#a31e47 12.1px,#9f1946 12.6px,#9f1946 24px,#a31e47 27px,#a31e47 39.7px)"></div>
</div>
<div style="position:absolute;left:337.1px;top:113.6px;width:43.7px;height:234.4px;overflow:hidden">
<div style="height:2px;background:linear-gradient(90deg,#da6050 0px,#d05252 3px,#bb384f 6px,#ac274a 8px,#a92549 8.4px,#a92549 9.4px,#a72249 10px,#a72249 10.4px,#a52048 11px,#a72249 11.4px,#a72249 12px,#a92549 12.4px,#a92549 13px,#bf3c51 13.4px,#e7744f 14px,#e97e54 14.4px,#ec8d5c 15px,#f5b773 18px,#f7cd87 21px,#fae199 24px,#fcedac 27px,#fdf4b7 30px,#f8d58d 33px,#ee945f 36px,#ed8f5d 39px,#ec8a5a 42px,#ea8558 43.7px)"></div>
<div style="height:2px;background:linear-gradient(90deg,#dc6450 0px,#d25651 3px,#bd3a50 6px,#ae2a4b 8px,#ac274a 8.4px,#ac274a 9px,#a92549 9.4px,#a92549 10px,#a72249 10.4px,#a72249 11.4px,#a92549 12px,#ac274a 12.4px,#ac274a 13px,#c13f51 13.4px,#e87952 14px,#ea8357 14.4px,#ed925e 15px,#f5ba77 18px,#f8d38c 21px,#fae59e 24px,#fcf0b1 27px,#fdf9be 30px,#f9da92 33px,#ef9962 36px,#ee945f 39px,#ed8f5d 42px,#ec8d5c 43.7px)"></div>
<div style="height:2px;background:linear-gradient(90deg,#dc6450 0px,#d25651 3px,#bf3c51 6px,#ae2a4b 8px,#ae2a4b 8.4px,#ac274a 9px,#ac274a 9.4px,#a92549 10px,#a92549 10.4px,#a72249 11px,#a92549 11.4px,#ac274a 12px,#ac274a 12.4px,#ae2a4b 13px,#c34152 13.4px,#e87c53 14px,#ea8558 14.4px,#ed925e 15px,#f5bc78 18px,#f8d58d 21px,#fbe6a0 24px,#fcf3b5 27px,#fdfac0 30px,#f9dc94 33px,#ef9b63 36px,#ee9761 39px,#ed925e 42px,#ec8d5c 43.7px)"></div>
<div style="height:2px;background:linear-gradient(90deg,#db6250 0px,#d15451 3px,#bd3a50 6px,#ae2a4b 8px,#ac274a 8.4px,#ac274a 9px,#a92549 9.4px,#a92549 10px,#a72249 10.4px,#a72249 11.4px,#a92549 12px,#ac274a 12.4px,#ac274a 13px,#c13f51 13.4px,#e87952 14px,#ea8357 14.4px,#ed8f5d 15px,#f5ba77 18px,#f8d18a 21px,#fae59e 24px,#fcf0b1 27px,#fdf7bd 30px,#f9da92 33px,#ef9962 36px,#ee945f 39px,#ed8f5d 42px,#ec8d5c 43.7px)"></div>
<div style="height:2px;background:linear-gradient(90deg,#d85e50 0px,#cf5052 3px,#bb384f 6px,#ac274a 8px,#a92549 8.4px,#a92549 9px,#a72249 9.4px,#a72249 10.4px,#a52048 11px,#a72249 11.4px,#a72249 12px,#a92549 12.4px,#a92549 13px,#bf3c51 13.4px,#e7744f 14px,#e87c53 14.4px,#ec8a5a 15px,#f4b370 18px,#f7cb85 21px,#fae097 24px,#fbeba8 27px,#fcf2b3 30px,#f8d38c 33px,#ed925e 36px,#ec8d5c 39px,#eb8859 42px,#ea8558 43.7px)"></div>
<div style="height:2px;background:linear-gradient(90deg,#da6050 0px,#d05252 3px,#bd3a50 6px,#ac274a 8px,#ac274a 8.4px,#a92549 9px,#a92549 9.4px,#a72249 10px,#a72249 11.4px,#a92549 12px,#a92549 12.4px,#ac274a 13px,#c13f51 13.4px,#e77750 14px,#e98155 14.4px,#ec8d5c 15px,#f5b773 18px,#f7cd87 21px,#fae29b 24px,#fceead 27px,#fdf4b7 30px,#f9d78f 33px,#ee9761 36px,#ed925e 39px,#ec8d5c 42px,#ec8a5a 43.7px)"></div>
<div style="height:2px;background:linear-gradient(90deg,#d75d50 0px,#cf5052 3px,#bb384f 6px,#a92549 8px,#a92549 9px,#a72249 9.4px,#a72249 10px,#a52048 10.4px,#a52048 11.4px,#a72249 12px,#a72249 12.4px,#a92549 13px,#bf3c51 13.4px,#e6724e 14px,#e87c53 14.4px,#eb8859 15px,#f4b370 18px,#f7c882 21px,#f9dc94 24px,#fbe9a6 27px,#fcf0b1 30px,#f8d18a 33px,#ed925e 36px,#ec8d5c 39px,#eb8859 42px,#ea8558 43.7px)"></div>
<div style="height:2px;background:linear-gradient(90deg,#d15451 0px,#ca4953 3px,#b4314d 6px,#a52048 8px,#a52048 8.4px,#a31e47 9px,#a31e47 9.4px,#a11b46 10px,#a11b46 11.4px,#a31e47 12px,#a31e47 12.4px,#a52048 13px,#b6334e 13.4px,#df674f 14px,#e46e4e 14.4px,#e87952 15px,#f0a066 18px,#f5b975 21px,#f7cb85 24px,#f9da92 27px,#fae39c 30px,#f6c07c 33px,#e98155 36px,#e87c53 39px,#e87952 42px,#e7744f 43.7px)"></div>
<div style="height:2px;background:linear-gradient(90deg,#d35751 0px,#cb4b52 3px,#b4314d 6px,#a72249 8px,#a52048 8.4px,#a52048 9.4px,#a31e47 10px,#a31e47 10.4px,#a11b46 11px,#a31e47 11.4px,#a31e47 12px,#a52048 12.4px,#a52048 13px,#b8354e 13.4px,#e16b4f 14px,#e5704e 14.4px,#e97e54 15px,#f2a568 18px,#f5bc78 21px,#f8d18a 24px,#fae199 27px,#fbe7a2 30px,#f6c47f 33px,#ea8558 36px,#e98155 39px,#e97e54 42px,#e87c53 43.7px)"></div>
<div style="height:2px;background:linear-gradient(90deg,#d35751 0px,#cc4d52 3px,#b6334e 6px,#a72249 8px,#a72249 8.4px,#a52048 9px,#a52048 10px,#a31e47 10.4px,#a31e47 11.4px,#a52048 12px,#a52048 12.4px,#a72249 13px,#bb384f 13.4px,#e26d4e 14px,#e7744f 14.4px,#e98155 15px,#f2a869 18px,#f6c07c 21px,#f8d38c 24px,#fae29b 27px,#fbe9a6 30px,#f7c882 33px,#ec8a5a 36px,#ea8558 39px,#e98155 42px,#e97e54 43.7px)"></div>
<div style="height:2px;background:linear-gradient(90deg,#d15451 0px,#ca4953 3px,#b4314d 6px,#a52048 8px,#a52048 8.4px,#a31e47 9px,#a31e47 10px,#a11b46 10.4px,#a11b46 11.4px,#a31e47 12px,#a31e47 12.4px,#a52048 13px,#b6334e 13.4px,#df674f 14px,#e46e4e 14.4px,#e87952 15px,#f0a066 18px,#f5b975 21px,#f7cb85 24px,#f9da92 27px,#fae39c 30px,#f6c07c 33px,#ea8357 36px,#e97e54 39px,#e87952 42px,#e77750 43.7px)"></div>
<div style="height:2px;background:linear-gradient(90deg,#d35751 0px,#cc4d52 3px,#b6334e 6px,#a72249 8px,#a72249 9px,#a52048 9.4px,#a52048 10.4px,#a31e47 11px,#a52048 11.4px,#a52048 12px,#a72249 12.4px,#a72249 13px,#bb384f 13.4px,#e26d4e 14px,#e7744f 14.4px,#e98155 15px,#f3aa6b 18px,#f6c07c 21px,#f8d58d 24px,#fae39c 27px,#fbe9a6 30px,#f7c882 33px,#ec8a5a 36px,#eb8859 39px,#ea8357 42px,#e97e54 43.7px)"></div>
<div style="height:2px;background:linear-gradient(90deg,#d55951 0px,#cc4d52 3px,#b8354e 6px,#a92549 8px,#a92549 8.4px,#a72249 9px,#a72249 10px,#a52048 10.4px,#a52048 11.4px,#a72249 12px,#a72249 12.4px,#a92549 13px,#bd3a50 13.4px,#e5704e 14px,#e77750 14.4px,#ea8357 15px,#f4af6d 18px,#f6c47f 21px,#f9d890 24px,#fbe6a0 27px,#fcedac 30px,#f7cb85 33px,#ed8f5d 36px,#ec8a5a 39px,#ea8558 42px,#ea8357 43.7px)"></div>
<div style="height:2px;background:linear-gradient(90deg,#d75d50 0px,#cf5052 3px,#bb384f 6px,#ac274a 8px,#ac274a 8.4px,#a92549 9px,#a92549 10px,#a72249 10.4px,#a72249 11.4px,#a92549 12px,#a92549 12.4px,#ac274a 13px,#bf3c51 13.4px,#e7744f 14px,#e97e54 14.4px,#ec8a5a 15px,#f5b572 18px,#f7cb85 21px,#fae097 24px,#fbecaa 27px,#fcf2b3 30px,#f8d38c 33px,#ee9761 36px,#ed925e 39px,#ec8d5c 42px,#ec8a5a 43.7px)"></div>
<div style="height:2px;background:linear-gradient(90deg,#d15451 0px,#ca4953 3px,#b4314d 6px,#a72249 8px,#a52048 8.4px,#a52048 9.4px,#a31e47 10px,#a31e47 11.4px,#a52048 12px,#a52048 12.4px,#a72249 13px,#b8354e 13.4px,#e16b4f 14px,#e5704e 14.4px,#e87c53 15px,#f1a367 18px,#f5ba77 21px,#f7cd87 24px,#f9de95 27px,#fbe6a0 30px,#f6c27d 33px,#eb8859 36px,#ea8357 39px,#e97e54 42px,#e87c53 43.7px)"></div>
<div style="height:2px;background:linear-gradient(90deg,#d15451 0px,#ca4953 3px,#b4314d 6px,#a72249 8px,#a72249 8.4px,#a52048 9px,#a52048 10px,#a31e47 10.4px,#a31e47 11.4px,#a52048 12px,#a52048 12.4px,#a72249 13px,#b8354e 13.4px,#e16b4f 14px,#e5704e 14.4px,#e87c53 15px,#f2a568 18px,#f5bc78 21px,#f8cf88 24px,#fae097 27px,#fbe6a0 30px,#f6c47f 33px,#ec8a5a 36px,#ea8558 39px,#e98155 42px,#e97e54 43.7px)"></div>
<div style="height:2px;background:linear-gradient(90deg,#d15451 0px,#ca4953 3px,#b6334e 6px,#a72249 8px,#a72249 9px,#a52048 9.4px,#a52048 10.4px,#a31e47 11px,#a52048 11.4px,#a52048 12px,#a72249 12.4px,#a72249 13px,#b8354e 13.4px,#e26d4e 14px,#e6724e 14.4px,#e97e54 15px,#f2a869 18px,#f6be7a 21px,#f8d18a 24px,#fae199 27px,#fbe8a4 30px,#f7c680 33px,#ec8d5c 36px,#eb8859 39px,#ea8357 42px,#e98155 43.7px)"></div>
<div style="height:2px;background:linear-gradient(90deg,#d15451 0px,#ca4953 3px,#b6334e 6px,#a92549 8px,#a72249 8.4px,#a72249 9.4px,#a52048 10px,#a52048 10.4px,#a31e47 11px,#a52048 11.4px,#a52048 12px,#a72249 12.4px,#a72249 13px,#b8354e 13.4px,#e26d4e 14px,#e6724e 14.4px,#e98155 15px,#f2a869 18px,#f6be7a 21px,#f8d18a 24px,#fae199 27px,#fbe8a4 30px,#f7c680 33px,#ec8d5c 36px,#eb8859 39px,#ea8357 42px,#e98155 43.7px)"></div>
<div style="height:2px;background:linear-gradient(90deg,#cf5052 0px,#c74553 3px,#b22e4c 6px,#a52048 8px,#a52048 9.4px,#a31e47 10px,#a31e47 10.4px,#a11b46 11px,#a31e47 11.4px,#a31e47 12px,#a52048 12.4px,#a52048 13px,#b6334e 13.4px,#e0694f 14px,#e46e4e 14.4px,#e87952 15px,#f0a066 18px,#f5b773 21px,#f7c984 24px,#f9da92 27px,#fae29b 30px,#f6be7a 33px,#ea8558 36px,#ea8357 39px,#e97e54 42px,#e87c53 43.7px)"></div>
<div style="height:2px;background:linear-gradient(90deg,#cf5052 0px,#c74553 3px,#b4314d 6px,#a72249 8px,#a72249 8.4px,#a52048 9px,#a52048 10px,#a31e47 10.4px,#a31e47 11.4px,#a52048 12px,#a52048 12.4px,#a72249 13px,#b6334e 13.4px,#e16b4f 14px,#e5704e 14.4px,#e87c53 15px,#f1a367 18px,#f5ba77 21px,#f7cd87 24px,#f9dc94 27px,#fae59e 30px,#f6c27d 33px,#ec8a5a 36px,#ea8558 39px,#e98155 42px,#e97e54 43.7px)"></div>
<div style="height:2px;background:linear-gradient(90deg,#cd4e52 0px,#c54353 3px,#b22e4c 6px,#a52048 8px,#a52048 9.4px,#a31e47 10px,#a31e47 12px,#a52048 12.4px,#a52048 13px,#b4314d 13.4px,#e0694f 14px,#e46e4e 14.4px,#e87952 15px,#f09e64 18px,#f5b773 21px,#f7c984 24px,#f9d890 27px,#fae29b 30px,#f6be7a 33px,#eb8859 36px,#ea8357 39px,#e97e54 42px,#e87c53 43.7px)"></div>
<div style="height:2px;background:linear-gradient(90deg,#cd4e52 0px,#c54353 3px,#b22e4c 6px,#a52048 8px,#a52048 9.4px,#a31e47 10px,#a31e47 12px,#a52048 12.4px,#a52048 13px,#b4314d 13.4px,#df674f 14px,#e46e4e 14.4px,#e77750 15px,#f09e64 18px,#f5b773 21px,#f7c882 24px,#f9d890 27px,#fae199 30px,#f6be7a 33px,#eb8859 36px,#ea8357 39px,#e97e54 42px,#e87c53 43.7px)"></div>
<div style="height:2px;background:linear-gradient(90deg,#d05252 0px,#ca4953 3px,#b6334e 6px,#a92549 8px,#a92549 9.4px,#a72249 10px,#a72249 10.4px,#a52048 11px,#a72249 11.4px,#a72249 12px,#a92549 12.4px,#a92549 13px,#bb384f 13.4px,#e5704e 14px,#e77750 14.4px,#ea8357 15px,#f3ac6c 18px,#f6c27d 21px,#f8d58d 24px,#fae39c 27px,#fbeba8 30px,#f7c984 33px,#ee945f 36px,#ed8f5d 39px,#ec8a5a 42px,#eb8859 43.7px)"></div>
<div style="height:2px;background:linear-gradient(90deg,#cc4d52 0px,#c34152 3px,#b22e4c 6px,#a52048 8px,#a52048 9px,#a31e47 9.4px,#a31e47 12px,#a52048 12.4px,#a52048 13px,#b4314d 13.4px,#df674f 14px,#e26d4e 14.4px,#e77750 15px,#ef9b63 18px,#f5b572 21px,#f7c882 24px,#f9d78f 27px,#fae097 30px,#f5bc78 33px,#eb8859 36px,#ea8357 39px,#e97e54 42px,#e87c53 43.7px)"></div>
<div style="height:2px;background:linear-gradient(90deg,#cb4b52 0px,#c34152 3px,#b22e4c 6px,#a52048 8px,#a52048 9.4px,#a31e47 10px,#a31e47 11.4px,#a52048 12px,#a52048 13px,#b4314d 13.4px,#df674f 14px,#e46e4e 14.4px,#e77750 15px,#f09e64 18px,#f5b572 21px,#f7c882 24px,#f9d890 27px,#fae199 30px,#f5bc78 33px,#eb8859 36px,#ea8558 39px,#e98155 42px,#e97e54 43.7px)"></div>
<div style="height:2px;background:linear-gradient(90deg,#cb4b52 0px,#c34152 3px,#b02c4c 6px,#a52048 8px,#a52048 9px,#a31e47 9.4px,#a31e47 12px,#a52048 12.4px,#a52048 13px,#b4314d 13.4px,#df674f 14px,#e26d4e 14.4px,#e77750 15px,#ef9b63 18px,#f5b572 21px,#f7c680 24px,#f8d58d 27px,#f9de95 30px,#f5ba77 33px,#eb8859 36px,#ea8357 39px,#e97e54 42px,#e87c53 43.7px)"></div>
<div style="height:2px;background:linear-gradient(90deg,#c74553 0px,#bd3a50 3px,#ac274a 6px,#a31e47 8px,#a31e47 8.4px,#a11b46 9px,#a11b46 10px,#9f1946 10.4px,#9f1946 11.4px,#a11b46 12px,#a11b46 12.4px,#a31e47 13px,#b02c4c 13.4px,#da6050 14px,#dd664f 14.4px,#e46e4e 15px,#ed8f5d 18px,#f2a869 21px,#f5ba77 24px,#f7c984 27px,#f8d38c 30px,#f4b16f 33px,#e97e54 36px,#e87952 39px,#e7744f 42px,#e6724e 43.7px)"></div>
<div style="height:2px;background:linear-gradient(90deg,#cc4d52 0px,#c54353 3px,#b4314d 6px,#a92549 8px,#a92549 8.4px,#a72249 9px,#a72249 10px,#a52048 10.4px,#a52048 11.4px,#a72249 12px,#a72249 12.4px,#a92549 13px,#b6334e 13.4px,#e26d4e 14px,#e6724e 14.4px,#e97e54 15px,#f2a568 18px,#f5bc78 21px,#f8cf88 24px,#fae097 27px,#fbe6a0 30px,#f6c47f 33px,#ed925e 36px,#ec8d5c 39px,#eb8859 42px,#ea8558 43.7px)"></div>
<div style="height:2px;background:linear-gradient(90deg,#c84753 0px,#c13f51 3px,#b02c4c 6px,#a52048 8px,#a52048 9.4px,#a31e47 10px,#a31e47 12px,#a52048 12.4px,#a52048 13px,#b22e4c 13.4px,#df674f 14px,#e26d4e 14.4px,#e7744f 15px,#ef9962 18px,#f4b370 21px,#f6c47f 24px,#f8d58d 27px,#f9dc94 30px,#f5b975 33px,#eb8859 36px,#ea8357 39px,#e98155 42px,#e87c53 43.7px)"></div>
<div style="height:2px;background:linear-gradient(90deg,#ca4953 0px,#c13f51 3px,#b22e4c 6px,#a72249 8px,#a72249 8.4px,#a52048 9px,#a52048 10.4px,#a31e47 11px,#a52048 11.4px,#a52048 12.4px,#a72249 13px,#b4314d 13.4px,#e0694f 14px,#e46e4e 14.4px,#e87952 15px,#f09e64 18px,#f5b773 21px,#f7c984 24px,#f9d890 27px,#fae199 30px,#f6be7a 33px,#ec8d5c 36px,#eb8859 39px,#ea8558 42px,#e98155 43.7px)"></div>
<div style="height:2px;background:linear-gradient(90deg,#c74553 0px,#bf3c51 3px,#ae2a4b 6px,#a52048 8px,#a52048 9px,#a31e47 9.4px,#a31e47 12.4px,#a52048 13px,#b02c4c 13.4px,#dd664f 14px,#e16b4f 14.4px,#e7744f 15px,#ee9761 18px,#f4b16f 21px,#f6c27d 24px,#f8d18a 27px,#f9da92 30px,#f5b773 33px,#eb8859 36px,#ea8357 39px,#e97e54 42px,#e87c53 43.7px)"></div>
<div style="height:2px;background:linear-gradient(90deg,#c84753 0px,#bf3c51 3px,#b02c4c 6px,#a72249 8px,#a52048 8.4px,#a52048 10.4px,#a31e47 11px,#a31e47 11.4px,#a52048 12px,#a52048 12.4px,#a72249 13px,#b22e4c 13.4px,#df674f 14px,#e26d4e 14.4px,#e77750 15px,#ef9b63 18px,#f4b370 21px,#f7c680 24px,#f8d58d 27px,#f9de95 30px,#f5ba77 33px,#ec8d5c 36px,#eb8859 39px,#ea8357 42px,#e98155 43.7px)"></div>
<div style="height:2px;background:linear-gradient(90deg,#c84753 0px,#bf3c51 3px,#b02c4c 6px,#a72249 8px,#a72249 8.4px,#a52048 9px,#a52048 10.4px,#a31e47 11px,#a52048 11.4px,#a52048 12.4px,#a72249 13px,#b22e4c 13.4px,#e0694f 14px,#e46e4e 14.4px,#e77750 15px,#ef9b63 18px,#f5b572 21px,#f7c680 24px,#f8d58d 27px,#f9de95 30px,#f5ba77 33px,#ed8f5d 36px,#ec8a5a 39px,#ea8558 42px,#ea8357 43.7px)"></div>
<div style="height:2px;background:linear-gradient(90deg,#c13f51 0px,#b8354e 3px,#ac274a 6px,#a31e47 8px,#a31e47 8.4px,#a11b46 9px,#a11b46 12.4px,#a31e47 13px,#ae2a4b 13.4px,#da6050 14px,#dd664f 14.4px,#e26d4e 15px,#ec8d5c 18px,#f2a568 21px,#f5b975 24px,#f7c680 27px,#f8cf88 30px,#f3ac6c 33px,#e98155 36px,#e97e54 39px,#e87952 42px,#e77750 43.7px)"></div>
<div style="height:2px;background:linear-gradient(90deg,#c54353 0px,#bd3a50 3px,#ae2a4b 6px,#a52048 8px,#a52048 9.4px,#a31e47 10px,#a31e47 11.4px,#a52048 12px,#a52048 13px,#b02c4c 13.4px,#dd664f 14px,#e16b4f 14.4px,#e7744f 15px,#ee9761 18px,#f4af6d 21px,#f6c07c 24px,#f8d18a 27px,#f9d890 30px,#f5b773 33px,#ec8d5c 36px,#eb8859 39px,#ea8357 42px,#e98155 43.7px)"></div>
<div style="height:2px;background:linear-gradient(90deg,#c84753 0px,#c13f51 3px,#b22e4c 6px,#a92549 8px,#a92549 9.4px,#a72249 10px,#a72249 12px,#a92549 12.4px,#a92549 13px,#b4314d 13.4px,#e26d4e 14px,#e6724e 14.4px,#e97e54 15px,#f1a367 18px,#f5ba77 21px,#f7cd87 24px,#f9dc94 27px,#fae39c 30px,#f6c27d 33px,#ef9962 36px,#ee945f 39px,#ed8f5d 42px,#ec8d5c 43.7px)"></div>
<div style="height:2px;background:linear-gradient(90deg,#bf3c51 0px,#b8354e 3px,#ac274a 6px,#a31e47 8px,#a31e47 9px,#a11b46 9.4px,#a11b46 12px,#a31e47 12.4px,#a31e47 13px,#ae2a4b 13.4px,#da6050 14px,#dd664f 14.4px,#e26d4e 15px,#ec8d5c 18px,#f2a568 21px,#f5b773 24px,#f7c680 27px,#f7cd87 30px,#f3ac6c 33px,#ea8357 36px,#e97e54 39px,#e87952 42px,#e77750 43.7px)"></div>
<div style="height:2px;background:linear-gradient(90deg,#c13f51 0px,#bb384f 3px,#ae2a4b 6px,#a52048 8px,#a52048 9px,#a31e47 9.4px,#a31e47 12px,#a52048 12.4px,#a52048 13px,#ae2a4b 13.4px,#dc6450 14px,#e0694f 14.4px,#e5704e 15px,#ee945f 18px,#f3aa6b 21px,#f5bc78 24px,#f7cb85 27px,#f8d58d 30px,#f4b370 33px,#ec8a5a 36px,#ea8558 39px,#e98155 42px,#e97e54 43.7px)"></div>
<div style="height:2px;background:linear-gradient(90deg,#c13f51 0px,#b8354e 3px,#ae2a4b 6px,#a52048 8px,#a52048 9.4px,#a31e47 10px,#a31e47 12px,#a52048 12.4px,#a52048 13px,#ae2a4b 13.4px,#dc6450 14px,#e0694f 14.4px,#e5704e 15px,#ee945f 18px,#f3aa6b 21px,#f5bc78 24px,#f7cb85 27px,#f8d58d 30px,#f4b370 33px,#ec8a5a 36px,#ea8558 39px,#e98155 42px,#e97e54 43.7px)"></div>
<div style="height:2px;background:linear-gradient(90deg,#bd3a50 0px,#b6334e 3px,#a92549 6px,#a31e47 8px,#a31e47 10px,#a11b46 10.4px,#a11b46 11.4px,#a31e47 12px,#a31e47 13px,#ac274a 13.4px,#da6050 14px,#dd664f 14.4px,#e26d4e 15px,#ec8d5c 18px,#f1a367 21px,#f5b773 24px,#f6c47f 27px,#f7cd87 30px,#f3ac6c 33px,#ea8558 36px,#e98155 39px,#e87c53 42px,#e87952 43.7px)"></div>
<div style="height:2px;background:linear-gradient(90deg,#bd3a50 0px,#b6334e 3px,#ac274a 6px,#a31e47 8px,#a31e47 10.4px,#a11b46 11px,#a31e47 11.4px,#a31e47 13px,#ac274a 13.4px,#da6050 14px,#dd664f 14.4px,#e26d4e 15px,#ec8d5c 18px,#f2a568 21px,#f5b773 24px,#f7c680 27px,#f7cd87 30px,#f3ac6c 33px,#ea8558 36px,#e98155 39px,#e97e54 42px,#e87952 43.7px)"></div>
<div style="height:2px;background:linear-gradient(90deg,#bf3c51 0px,#b8354e 3px,#ae2a4b 6px,#a52048 8px,#a52048 10.4px,#a31e47 11px,#a52048 11.4px,#a52048 13px,#ae2a4b 13.4px,#dc6450 14px,#e0694f 14.4px,#e5704e 15px,#ee945f 18px,#f3aa6b 21px,#f5bc78 24px,#f7cb85 27px,#f8d38c 30px,#f4b370 33px,#ec8d5c 36px,#eb8859 39px,#ea8357 42px,#e98155 43.7px)"></div>
<div style="height:2px;background:linear-gradient(90deg,#bd3a50 0px,#b6334e 3px,#ac274a 6px,#a52048 8px,#a52048 9px,#a31e47 9.4px,#a31e47 12px,#a52048 12.4px,#a52048 13px,#ae2a4b 13.4px,#db6250 14px,#df674f 14.4px,#e46e4e 15px,#ed8f5d 18px,#f2a568 21px,#f5b975 24px,#f7c680 27px,#f8cf88 30px,#f4af6d 33px,#ec8a5a 36px,#ea8558 39px,#e98155 42px,#e97e54 43.7px)"></div>
<div style="height:2px;background:linear-gradient(90deg,#b8354e 0px,#b22e4c 3px,#a72249 6px,#a31e47 8px,#a31e47 8.4px,#a11b46 9px,#a11b46 12.4px,#a31e47 13px,#a92549 13.4px,#d75d50 14px,#db6250 14.4px,#e0694f 15px,#ea8558 18px,#ef9b63 21px,#f4af6d 24px,#f5bc78 27px,#f6c47f 30px,#f1a367 33px,#e98155 36px,#e87c53 39px,#e77750 42px,#e7744f 43.7px)"></div>
<div style="height:2px;background:linear-gradient(90deg,#b8354e 0px,#b22e4c 3px,#a72249 6px,#a31e47 8px,#a31e47 8.4px,#a11b46 9px,#a11b46 12.4px,#a31e47 13px,#a92549 13.4px,#d75d50 14px,#db6250 14.4px,#e0694f 15px,#ea8558 18px,#ef9b63 21px,#f4af6d 24px,#f5bc78 27px,#f6c47f 30px,#f1a367 33px,#e98155 36px,#e87c53 39px,#e77750 42px,#e7744f 43.7px)"></div>
<div style="height:2px;background:linear-gradient(90deg,#b8354e 0px,#b22e4c 3px,#a92549 6px,#a31e47 8px,#a31e47 9.4px,#a11b46 10px,#a11b46 12px,#a31e47 12.4px,#a31e47 13px,#a92549 13.4px,#d85e50 14px,#db6250 14.4px,#e0694f 15px,#ea8558 18px,#ef9b63 21px,#f4af6d 24px,#f5bc78 27px,#f7c680 30px,#f1a367 33px,#ea8357 36px,#e97e54 39px,#e87952 42px,#e77750 43.7px)"></div>
<div style="height:2px;background:linear-gradient(90deg,#b8354e 0px,#b22e4c 3px,#a92549 6px,#a31e47 8px,#a31e47 10px,#a11b46 10.4px,#a11b46 11.4px,#a31e47 12px,#a31e47 13px,#a92549 13.4px,#d85e50 14px,#db6250 14.4px,#e0694f 15px,#ea8558 18px,#ef9b63 21px,#f4af6d 24px,#f5bc78 27px,#f7c680 30px,#f1a367 33px,#ea8357 36px,#e97e54 39px,#e87952 42px,#e77750 43.7px)"></div>
<div style="height:2px;background:linear-gradient(90deg,#b8354e 0px,#b4314d 3px,#a92549 6px,#a52048 8px,#a52048 9px,#a31e47 9.4px,#a31e47 12px,#a52048 12.4px,#a52048 13px,#ac274a 13.4px,#da6050 14px,#dd664f 14.4px,#e26d4e 15px,#ec8a5a 18px,#f0a066 21px,#f4b370 24px,#f6c07c 27px,#f7c984 30px,#f2a869 33px,#eb8859 36px,#ea8357 39px,#e97e54 42px,#e87c53 43.7px)"></div>
<div style="height:2px;background:linear-gradient(90deg,#b4314d 0px,#b02c4c 3px,#a72249 6px,#a31e47 8px,#a11b46 8.4px,#a11b46 12.4px,#a31e47 13px,#a92549 13.4px,#d65b51 14px,#da6050 14.4px,#dd664f 15px,#e98155 18px,#ee945f 21px,#f2a869 24px,#f5b773 27px,#f6be7a 30px,#ef9b63 33px,#e98155 36px,#e87c53 39px,#e77750 42px,#e7744f 43.7px)"></div>
<div style="height:2px;background:linear-gradient(90deg,#b02c4c 0px,#ac274a 3px,#a31e47 6px,#9f1946 8px,#9f1946 10.4px,#9d1745 11px,#9f1946 11.4px,#9f1946 13px,#a52048 13.4px,#d25651 14px,#d55951 14.4px,#da6050 15px,#e77750 18px,#ec8a5a 21px,#ef9b63 24px,#f3ac6c 27px,#f4b370 30px,#ed925e 33px,#e77750 36px,#e6724e 39px,#e46e4e 42px,#e46e4e 43.7px)"></div>
<div style="height:2px;background:linear-gradient(90deg,#b4314d 0px,#b02c4c 3px,#a72249 6px,#a31e47 8px,#a31e47 9.4px,#a11b46 10px,#a11b46 12px,#a31e47 12.4px,#a31e47 13px,#a92549 13.4px,#d65b51 14px,#da6050 14.4px,#dd664f 15px,#e98155 18px,#ee945f 21px,#f2a869 24px,#f5b773 27px,#f6be7a 30px,#ef9b63 33px,#e98155 36px,#e87c53 39px,#e87952 42px,#e77750 43.7px)"></div>
<div style="height:2px;background:linear-gradient(90deg,#b22e4c 0px,#ae2a4b 3px,#a52048 6px,#a11b46 8px,#a11b46 13px,#a72249 13.4px,#d35751 14px,#d75d50 14.4px,#db6250 15px,#e87952 18px,#ec8d5c 21px,#f0a066 24px,#f4af6d 27px,#f5b773 30px,#ee945f 33px,#e87c53 36px,#e87952 39px,#e7744f 42px,#e6724e 43.7px)"></div>
<div style="height:2px;background:linear-gradient(90deg,#b22e4c 0px,#ae2a4b 3px,#a52048 6px,#a11b46 8px,#a11b46 10.4px,#9f1946 11px,#a11b46 11.4px,#a11b46 13px,#a72249 13.4px,#d35751 14px,#d65b51 14.4px,#db6250 15px,#e87952 18px,#ec8d5c 21px,#f09e64 24px,#f3ac6c 27px,#f5b572 30px,#ee945f 33px,#e87c53 36px,#e77750 39px,#e7744f 42px,#e6724e 43.7px)"></div>
<div style="height:2px;background:linear-gradient(90deg,#b22e4c 0px,#ae2a4b 3px,#a72249 6px,#a31e47 8px,#a31e47 9px,#a11b46 9.4px,#a11b46 12px,#a31e47 12.4px,#a31e47 13px,#a72249 13.4px,#d55951 14px,#d75d50 14.4px,#dc6450 15px,#e87c53 18px,#ed8f5d 21px,#f0a066 24px,#f4b16f 27px,#f5b773 30px,#ee9761 33px,#e98155 36px,#e87c53 39px,#e77750 42px,#e7744f 43.7px)"></div>
<div style="height:2px;background:linear-gradient(90deg,#b02c4c 0px,#ac274a 3px,#a52048 6px,#a11b46 8px,#a11b46 13px,#a72249 13.4px,#d35751 14px,#d65b51 14.4px,#db6250 15px,#e77750 18px,#ec8a5a 21px,#ef9b63 24px,#f3ac6c 27px,#f5b572 30px,#ed925e 33px,#e97e54 36px,#e87952 39px,#e7744f 42px,#e6724e 43.7px)"></div>
<div style="height:2px;background:linear-gradient(90deg,#ae2a4b 0px,#a92549 3px,#a31e47 6px,#a11b46 8px,#a11b46 8.4px,#9f1946 9px,#9f1946 12.4px,#a11b46 13px,#a52048 13.4px,#d15451 14px,#d35751 14.4px,#d85e50 15px,#e6724e 18px,#ea8357 21px,#ee945f 24px,#f1a367 27px,#f3ac6c 30px,#ec8a5a 33px,#e87952 36px,#e7744f 39px,#e5704e 42px,#e46e4e 43.7px)"></div>
<div style="height:2px;background:linear-gradient(90deg,#b4314d 0px,#b02c4c 3px,#a92549 6px,#a52048 8px,#a52048 10.4px,#a31e47 11px,#a52048 11.4px,#a52048 13px,#a92549 13.4px,#d65b51 14px,#da6050 14.4px,#dd664f 15px,#e97e54 18px,#ed925e 21px,#f2a568 24px,#f4b370 27px,#f5ba77 30px,#ef9962 33px,#eb8859 36px,#ea8357 39px,#e97e54 42px,#e87c53 43.7px)"></div>
<div style="height:2px;background:linear-gradient(90deg,#ae2a4b 0px,#a92549 3px,#a52048 6px,#a11b46 8px,#a11b46 10.4px,#9f1946 11px,#a11b46 11.4px,#a11b46 13px,#a52048 13.4px,#d15451 14px,#d35751 14.4px,#d85e50 15px,#e6724e 18px,#ea8357 21px,#ee945f 24px,#f1a367 27px,#f3aa6b 30px,#ec8a5a 33px,#e87952 36px,#e77750 39px,#e6724e 42px,#e5704e 43.7px)"></div>
<div style="height:2px;background:linear-gradient(90deg,#b02c4c 0px,#ac274a 3px,#a52048 6px,#a31e47 8px,#a31e47 9.4px,#a11b46 10px,#a11b46 11.4px,#a31e47 12px,#a31e47 13px,#a72249 13.4px,#d25651 14px,#d65b51 14.4px,#da6050 15px,#e7744f 18px,#eb8859 21px,#ef9962 24px,#f2a869 27px,#f4af6d 30px,#ec8d5c 33px,#e98155 36px,#e87c53 39px,#e77750 42px,#e7744f 43.7px)"></div>
<div style="height:2px;background:linear-gradient(90deg,#ac274a 0px,#a92549 3px,#a31e47 6px,#a11b46 8px,#a11b46 8.4px,#9f1946 9px,#9f1946 12.4px,#a11b46 13px,#a31e47 13.4px,#d05252 14px,#d25651 14.4px,#d65b51 15px,#e26d4e 18px,#e97e54 21px,#ec8d5c 24px,#ef9b63 27px,#f1a367 30px,#ea8357 33px,#e77750 36px,#e6724e 39px,#e5704e 42px,#e46e4e 43.7px)"></div>
<div style="height:2px;background:linear-gradient(90deg,#b02c4c 0px,#ae2a4b 3px,#a72249 6px,#a52048 8px,#a52048 8.4px,#a31e47 9px,#a31e47 12.4px,#a52048 13px,#a92549 13.4px,#d35751 14px,#d65b51 14.4px,#db6250 15px,#e77750 18px,#eb8859 21px,#ef9962 24px,#f2a869 27px,#f4b16f 30px,#ed8f5d 33px,#ea8357 36px,#e97e54 39px,#e87c53 42px,#e87952 43.7px)"></div>
<div style="height:2px;background:linear-gradient(90deg,#ac274a 0px,#a72249 3px,#a31e47 6px,#a11b46 8px,#a11b46 9px,#9f1946 9.4px,#9f1946 12.4px,#a11b46 13px,#a31e47 13.4px,#cf5052 14px,#d15451 14.4px,#d55951 15px,#e16b4f 18px,#e87952 21px,#eb8859 24px,#ee9761 27px,#f09e64 30px,#e98155 33px,#e77750 36px,#e6724e 39px,#e46e4e 42px,#e26d4e 43.7px)"></div>
<div style="height:2px;background:linear-gradient(90deg,#b02c4c 0px,#ac274a 3px,#a72249 6px,#a52048 8px,#a31e47 8.4px,#a31e47 12.4px,#a52048 13px,#a72249 13.4px,#d25651 14px,#d55951 14.4px,#da6050 15px,#e6724e 18px,#ea8357 21px,#ee945f 24px,#f1a367 27px,#f3aa6b 30px,#ec8a5a 33px,#e98155 36px,#e87c53 39px,#e87952 42px,#e77750 43.7px)"></div>
<div style="height:2px;background:linear-gradient(90deg,#b02c4c 0px,#ac274a 3px,#a72249 6px,#a52048 8px,#a52048 9.4px,#a31e47 10px,#a31e47 11.4px,#a52048 12px,#a52048 13px,#a72249 13.4px,#d25651 14px,#d55951 14.4px,#d85e50 15px,#e6724e 18px,#ea8357 21px,#ee945f 24px,#f1a367 27px,#f3aa6b 30px,#ec8a5a 33px,#e98155 36px,#e97e54 39px,#e87952 42px,#e77750 43.7px)"></div>
<div style="height:2px;background:linear-gradient(90deg,#b02c4c 0px,#ac274a 3px,#a72249 6px,#a52048 8px,#a52048 10px,#a31e47 10.4px,#a31e47 11.4px,#a52048 12px,#a52048 13px,#a92549 13.4px,#d25651 14px,#d55951 14.4px,#d85e50 15px,#e5704e 18px,#ea8357 21px,#ed925e 24px,#f0a066 27px,#f2a869 30px,#eb8859 33px,#e98155 36px,#e87c53 39px,#e87952 42px,#e77750 43.7px)"></div>
<div style="height:2px;background:linear-gradient(90deg,#b02c4c 0px,#ac274a 3px,#a72249 6px,#a52048 8px,#a52048 10.4px,#a31e47 11px,#a52048 11.4px,#a52048 13px,#a92549 13.4px,#d15451 14px,#d55951 14.4px,#d85e50 15px,#e5704e 18px,#e98155 21px,#ed8f5d 24px,#f09e64 27px,#f2a568 30px,#ea8558 33px,#e98155 36px,#e87c53 39px,#e77750 42px,#e7744f 43.7px)"></div>
<div style="height:2px;background:linear-gradient(90deg,#a92549 0px,#a72249 3px,#a31e47 6px,#a11b46 8px,#a11b46 9.4px,#9f1946 10px,#9f1946 12px,#a11b46 12.4px,#a11b46 13px,#a31e47 13.4px,#cc4d52 14px,#cf5052 14.4px,#d25651 15px,#dd664f 18px,#e5704e 21px,#e97e54 24px,#ec8a5a 27px,#ed925e 30px,#e77750 33px,#e6724e 36px,#e46e4e 39px,#e26d4e 42px,#e16b4f 43.7px)"></div>
<div style="height:2px;background:linear-gradient(90deg,#ac274a 0px,#a92549 3px,#a52048 6px,#a31e47 8px,#a11b46 8.4px,#a11b46 13px,#a52048 13.4px,#cd4e52 14px,#d05252 14.4px,#d35751 15px,#df674f 18px,#e7744f 21px,#ea8357 24px,#ed8f5d 27px,#ee9761 30px,#e87952 33px,#e7744f 36px,#e6724e 39px,#e46e4e 42px,#e26d4e 43.7px)"></div>
<div style="height:2px;background:linear-gradient(90deg,#a72249 0px,#a52048 3px,#a31e47 6px,#a11b46 8px,#a11b46 8.4px,#9f1946 9px,#9f1946 12.4px,#a11b46 13px,#a31e47 13.4px,#cb4b52 14px,#cd4e52 14.4px,#d15451 15px,#dc6450 18px,#e46e4e 21px,#e87952 24px,#ea8558 27px,#ec8d5c 30px,#e6724e 33px,#e5704e 36px,#e26d4e 39px,#e16b4f 42px,#e0694f 43.7px)"></div>
<div style="height:2px;background:linear-gradient(90deg,#a72249 0px,#a52048 3px,#a31e47 6px,#a11b46 8px,#a11b46 9.4px,#9f1946 10px,#9f1946 11.4px,#a11b46 12px,#a11b46 13px,#a31e47 13.4px,#cb4b52 14px,#cd4e52 14.4px,#d15451 15px,#db6250 18px,#e46e4e 21px,#e87952 24px,#ea8558 27px,#ec8d5c 30px,#e6724e 33px,#e5704e 36px,#e26d4e 39px,#e16b4f 42px,#e0694f 43.7px)"></div>
<div style="height:2px;background:linear-gradient(90deg,#a72249 0px,#a52048 3px,#a31e47 6px,#a11b46 8px,#a11b46 9px,#9f1946 9.4px,#9f1946 12px,#a11b46 12.4px,#a11b46 13px,#a31e47 13.4px,#cb4b52 14px,#cc4d52 14.4px,#d05252 15px,#db6250 18px,#e26d4e 21px,#e77750 24px,#ea8357 27px,#ec8a5a 30px,#e5704e 33px,#e46e4e 36px,#e26d4e 39px,#e0694f 42px,#df674f 43.7px)"></div>
<div style="height:2px;background:linear-gradient(90deg,#a31e47 0px,#a31e47 3px,#9f1946 6px,#9d1745 8px,#9d1745 13px,#9f1946 13.4px,#c74553 14px,#ca4953 14.4px,#cc4d52 15px,#d65b51 18px,#dd664f 21px,#e46e4e 24px,#e77750 27px,#e97e54 30px,#e0694f 33px,#df674f 36px,#dd664f 39px,#db6250 42px,#db6250 43.7px)"></div>
<div style="height:2px;background:linear-gradient(90deg,#a92549 0px,#a72249 3px,#a52048 6px,#a31e47 8px,#a31e47 13px,#a52048 13.4px,#cc4d52 14px,#cf5052 14.4px,#d25651 15px,#dd664f 18px,#e5704e 21px,#e87c53 24px,#eb8859 27px,#ed8f5d 30px,#e7744f 33px,#e7744f 36px,#e5704e 39px,#e46e4e 42px,#e26d4e 43.7px)"></div>
<div style="height:2px;background:linear-gradient(90deg,#a72249 0px,#a52048 3px,#a31e47 6px,#a11b46 8px,#a11b46 13px,#a31e47 13.4px,#cb4b52 14px,#cd4e52 14.4px,#d05252 15px,#db6250 18px,#e16b4f 21px,#e77750 24px,#e98155 27px,#eb8859 30px,#e46e4e 33px,#e46e4e 36px,#e26d4e 39px,#e16b4f 42px,#e0694f 43.7px)"></div>
<div style="height:2px;background:linear-gradient(90deg,#a31e47 0px,#a11b46 3px,#9f1946 6px,#9f1946 8px,#9d1745 8.4px,#9d1745 12.4px,#9f1946 13px,#9f1946 13.4px,#c74553 14px,#c84753 14.4px,#cc4d52 15px,#d55951 18px,#dc6450 21px,#e26d4e 24px,#e7744f 27px,#e87952 30px,#df674f 33px,#df674f 36px,#dc6450 39px,#db6250 42px,#da6050 43.7px)"></div>
<div style="height:2px;background:linear-gradient(90deg,#a52048 0px,#a31e47 3px,#a11b46 6px,#9f1946 8px,#9f1946 13px,#a11b46 13.4px,#c84753 14px,#ca4953 14.4px,#cd4e52 15px,#d75d50 18px,#dd664f 21px,#e46e4e 24px,#e87952 27px,#e97e54 30px,#e0694f 33px,#e16b4f 36px,#df674f 39px,#dd664f 42px,#dc6450 43.7px)"></div>
<div style="height:2px;background:linear-gradient(90deg,#a11b46 0px,#a11b46 3px,#9f1946 6px,#9d1745 8px,#9d1745 13px,#9f1946 13.4px,#c34152 14px,#c74553 14.4px,#ca4953 15px,#d25651 18px,#d85e50 21px,#df674f 24px,#e46e4e 27px,#e7744f 30px,#db6250 33px,#dc6450 36px,#db6250 39px,#d85e50 42px,#d85e50 43.7px)"></div>
<div style="height:2px;background:linear-gradient(90deg,#a31e47 0px,#a31e47 3px,#a11b46 6px,#9f1946 8px,#9f1946 13px,#a11b46 13.4px,#c54353 14px,#c84753 14.4px,#cb4b52 15px,#d55951 18px,#db6250 21px,#e0694f 24px,#e6724e 27px,#e77750 30px,#dd664f 33px,#df674f 36px,#dc6450 39px,#db6250 42px,#da6050 43.7px)"></div>
<div style="height:2px;background:linear-gradient(90deg,#a72249 0px,#a52048 3px,#a31e47 6px,#a31e47 9px,#a11b46 9.4px,#a11b46 12.4px,#a31e47 13px,#a31e47 13.4px,#c84753 14px,#cb4b52 14.4px,#cd4e52 15px,#d75d50 18px,#dd664f 21px,#e46e4e 24px,#e77750 27px,#e97e54 30px,#e0694f 33px,#e16b4f 36px,#e0694f 39px,#dd664f 42px,#dd664f 43.7px)"></div>
<div style="height:2px;background:linear-gradient(90deg,#a31e47 0px,#a31e47 3px,#a11b46 6px,#9f1946 8px,#9f1946 13px,#a11b46 13.4px,#c54353 14px,#c74553 14.4px,#ca4953 15px,#d25651 18px,#d85e50 21px,#df674f 24px,#e46e4e 27px,#e6724e 30px,#db6250 33px,#dc6450 36px,#db6250 39px,#da6050 42px,#d85e50 43.7px)"></div>
<div style="height:2px;background:linear-gradient(90deg,#a31e47 0px,#a31e47 3px,#a11b46 6px,#a11b46 8px,#9f1946 8.4px,#9f1946 12.4px,#a11b46 13px,#a11b46 13.4px,#c54353 14px,#c74553 14.4px,#ca4953 15px,#d25651 18px,#d85e50 21px,#dd664f 24px,#e26d4e 27px,#e5704e 30px,#db6250 33px,#dc6450 36px,#db6250 39px,#d85e50 42px,#d85e50 43.7px)"></div>
<div style="height:2px;background:linear-gradient(90deg,#a52048 0px,#a52048 3px,#a31e47 6px,#a31e47 10.4px,#a11b46 11px,#a31e47 11.4px,#a31e47 13.4px,#c74553 14px,#c84753 14.4px,#cb4b52 15px,#d35751 18px,#da6050 21px,#e0694f 24px,#e5704e 27px,#e7744f 30px,#dc6450 33px,#df674f 36px,#dc6450 39px,#db6250 42px,#da6050 43.7px)"></div>
<div style="height:2px;background:linear-gradient(90deg,#a11b46 0px,#9f1946 3px,#9f1946 6px,#9d1745 8px,#9d1745 13px,#9f1946 13.4px,#bf3c51 14px,#c13f51 14.4px,#c54353 15px,#cd4e52 18px,#d25651 21px,#d75d50 24px,#dc6450 27px,#df674f 30px,#d55951 33px,#d75d50 36px,#d55951 39px,#d35751 42px,#d35751 43.7px)"></div>
<div style="height:2px;background:linear-gradient(90deg,#a31e47 0px,#a31e47 3px,#a11b46 6px,#a11b46 10px,#9f1946 10.4px,#9f1946 11.4px,#a11b46 12px,#a11b46 13.4px,#c13f51 14px,#c34152 14.4px,#c74553 15px,#d05252 18px,#d55951 21px,#da6050 24px,#dd664f 27px,#e16b4f 30px,#d75d50 33px,#d85e50 36px,#d75d50 39px,#d65b51 42px,#d55951 43.7px)"></div>
<div style="height:2px;background:linear-gradient(90deg,#a11b46 0px,#9f1946 3px,#9f1946 8.4px,#9d1745 9px,#9d1745 12.4px,#9f1946 13px,#9f1946 13.4px,#bd3a50 14px,#bf3c51 14.4px,#c34152 15px,#cc4d52 18px,#d15451 21px,#d55951 24px,#da6050 27px,#dc6450 30px,#d25651 33px,#d55951 36px,#d35751 39px,#d25651 42px,#d15451 43.7px)"></div>
<div style="height:2px;background:linear-gradient(90deg,#a52048 0px,#a31e47 3px,#a31e47 6px,#a11b46 8px,#a11b46 13px,#a31e47 13.4px,#c13f51 14px,#c34152 14.4px,#c74553 15px,#cf5052 18px,#d35751 21px,#d85e50 24px,#dc6450 27px,#df674f 30px,#d65b51 33px,#d85e50 36px,#d75d50 39px,#d55951 42px,#d55951 43.7px)"></div>
<div style="height:2px;background:linear-gradient(90deg,#a11b46 0px,#a11b46 6px,#9f1946 8px,#9f1946 13px,#a11b46 13.4px,#bd3a50 14px,#bf3c51 14.4px,#c34152 15px,#cb4b52 18px,#d05252 21px,#d35751 24px,#d75d50 27px,#da6050 30px,#d15451 33px,#d55951 36px,#d35751 39px,#d15451 42px,#d15451 43.7px)"></div>
<div style="height:2px;background:linear-gradient(90deg,#a52048 0px,#a52048 3px,#a31e47 6px,#a31e47 13.4px,#bf3c51 14px,#c34152 14.4px,#c54353 15px,#cd4e52 18px,#d25651 21px,#d65b51 24px,#da6050 27px,#dc6450 30px,#d35751 33px,#d75d50 36px,#d65b51 39px,#d55951 42px,#d35751 43.7px)"></div>
<div style="height:2px;background:linear-gradient(90deg,#9f1946 0px,#9f1946 3px,#9d1745 6px,#9d1745 13.4px,#b6334e 14px,#b8354e 14.4px,#bb384f 15px,#c54353 18px,#ca4953 21px,#cd4e52 24px,#d15451 27px,#d25651 30px,#cb4b52 33px,#cf5052 36px,#cd4e52 39px,#cd4e52 42px,#cc4d52 43.7px)"></div>
<div style="height:2px;background:linear-gradient(90deg,#a31e47 0px,#a31e47 3px,#a11b46 6px,#a11b46 13.4px,#b8354e 14px,#bb384f 14.4px,#bf3c51 15px,#c84753 18px,#cc4d52 21px,#d05252 24px,#d35751 27px,#d55951 30px,#cd4e52 33px,#d25651 36px,#d15451 39px,#d05252 42px,#cf5052 43.7px)"></div>
<div style="height:2px;background:linear-gradient(90deg,#a11b46 0px,#a11b46 3px,#9f1946 6px,#9f1946 13.4px,#b6334e 14px,#b8354e 14.4px,#bb384f 15px,#c34152 18px,#c84753 21px,#cc4d52 24px,#cf5052 27px,#d15451 30px,#ca4953 33px,#cf5052 36px,#cd4e52 39px,#cc4d52 42px,#cc4d52 43.7px)"></div>
<div style="height:2px;background:linear-gradient(90deg,#a31e47 0px,#a31e47 3px,#a11b46 6px,#a11b46 13.4px,#b6334e 14px,#b8354e 14.4px,#bb384f 15px,#c54353 18px,#ca4953 21px,#cc4d52 24px,#cf5052 27px,#d15451 30px,#cb4b52 33px,#d05252 36px,#cf5052 39px,#cd4e52 42px,#cd4e52 43.7px)"></div>
<div style="height:2px;background:linear-gradient(90deg,#a11b46 0px,#9f1946 3px,#9f1946 13.4px,#b22e4c 14px,#b4314d 14.4px,#b6334e 15px,#bf3c51 18px,#c34152 21px,#c84753 24px,#cb4b52 27px,#cc4d52 30px,#c54353 33px,#cc4d52 36px,#cb4b52 39px,#ca4953 42px,#ca4953 43.7px)"></div>
<div style="height:2px;background:linear-gradient(90deg,#9f1946 0px,#9f1946 6px,#9d1745 8px,#9d1745 13px,#9f1946 13.4px,#b02c4c 14px,#b22e4c 14.4px,#b4314d 15px,#bb384f 18px,#bf3c51 21px,#c54353 24px,#c84753 27px,#ca4953 30px,#c13f51 33px,#ca4953 36px,#ca4953 39px,#c84753 42px,#c74553 43.7px)"></div>
<div style="height:2px;background:linear-gradient(90deg,#9f1946 0px,#9f1946 10.4px,#9d1745 11px,#9f1946 11.4px,#9f1946 13.4px,#b02c4c 14px,#b02c4c 14.4px,#b22e4c 15px,#bb384f 18px,#bf3c51 21px,#c34152 24px,#c74553 27px,#c84753 30px,#c13f51 33px,#ca4953 36px,#c84753 39px,#c74553 42px,#c74553 43.7px)"></div>
<div style="height:2px;background:linear-gradient(90deg,#a11b46 0px,#a11b46 3px,#9f1946 6px,#9f1946 13.4px,#b02c4c 14px,#b22e4c 14.4px,#b4314d 15px,#bb384f 18px,#bf3c51 21px,#c34152 24px,#c74553 27px,#c84753 30px,#c13f51 33px,#ca4953 36px,#c84753 39px,#c74553 42px,#c74553 43.7px)"></div>
<div style="height:2px;background:linear-gradient(90deg,#9f1946 0px,#9f1946 13.4px,#ae2a4b 14px,#b02c4c 14.4px,#b02c4c 15px,#b8354e 18px,#bd3a50 21px,#bf3c51 24px,#c34152 27px,#c54353 30px,#bd3a50 33px,#c74553 36px,#c54353 39px,#c54353 42px,#c34152 43.7px)"></div>
<div style="height:2px;background:linear-gradient(90deg,#9f1946 0px,#9f1946 3px,#9d1745 6px,#9d1745 13.4px,#ac274a 14px,#ae2a4b 14.4px,#ae2a4b 15px,#b4314d 18px,#b8354e 21px,#bd3a50 24px,#bf3c51 27px,#c13f51 30px,#bb384f 33px,#c34152 36px,#c34152 39px,#c13f51 42px,#c13f51 43.7px)"></div>
<div style="height:2px;background:linear-gradient(90deg,#a11b46 0px,#a11b46 8px,#9f1946 8.4px,#9f1946 13px,#a11b46 13.4px,#ae2a4b 14px,#b02c4c 14.4px,#b22e4c 15px,#b8354e 18px,#bb384f 21px,#bf3c51 24px,#c34152 27px,#c54353 30px,#bd3a50 33px,#c74553 36px,#c54353 39px,#c34152 42px,#c34152 43.7px)"></div>
<div style="height:2px;background:linear-gradient(90deg,#a31e47 0px,#a11b46 3px,#a11b46 13.4px,#ae2a4b 14px,#b02c4c 14.4px,#b22e4c 15px,#b6334e 18px,#bb384f 21px,#bf3c51 24px,#c13f51 27px,#c34152 30px,#bd3a50 33px,#c54353 36px,#c54353 39px,#c34152 42px,#c34152 43.7px)"></div>
<div style="height:2px;background:linear-gradient(90deg,#a11b46 0px,#a11b46 3px,#9f1946 6px,#9f1946 13.4px,#ac274a 14px,#ac274a 14.4px,#ae2a4b 15px,#b4314d 18px,#b6334e 21px,#bb384f 24px,#bd3a50 27px,#bf3c51 30px,#b8354e 33px,#c13f51 36px,#bf3c51 39px,#bf3c51 43.7px)"></div>
<div style="height:2px;background:linear-gradient(90deg,#a11b46 0px,#a11b46 3px,#9f1946 6px,#9f1946 13.4px,#ac274a 14px,#ac274a 14.4px,#ae2a4b 15px,#b22e4c 18px,#b6334e 21px,#b8354e 24px,#bb384f 27px,#bd3a50 30px,#b6334e 33px,#bf3c51 36px,#bf3c51 39px,#bd3a50 42px,#bd3a50 43.7px)"></div>
<div style="height:2px;background:linear-gradient(90deg,#a11b46 0px,#9f1946 3px,#9f1946 13.4px,#a92549 14px,#ac274a 14.4px,#ac274a 15px,#b02c4c 18px,#b4314d 21px,#b6334e 24px,#b8354e 27px,#bb384f 30px,#b4314d 33px,#bd3a50 36px,#bb384f 39px,#bb384f 42px,#b8354e 43.7px)"></div>
<div style="height:2px;background:linear-gradient(90deg,#a11b46 0px,#a11b46 6px,#9f1946 8px,#9f1946 13px,#a11b46 13.4px,#a92549 14px,#ac274a 14.4px,#ac274a 15px,#b02c4c 18px,#b4314d 21px,#b6334e 24px,#b8354e 27px,#bb384f 30px,#b4314d 33px,#bb384f 36px,#bb384f 39px,#b8354e 42px,#b8354e 43.7px)"></div>
<div style="height:2px;background:linear-gradient(90deg,#9f1946 0px,#9f1946 13.4px,#a72249 14px,#a72249 14.4px,#a92549 15px,#ae2a4b 18px,#b02c4c 21px,#b22e4c 24px,#b4314d 27px,#b6334e 30px,#b02c4c 33px,#b6334e 36px,#b6334e 42px,#b4314d 43.7px)"></div>
<div style="height:2px;background:linear-gradient(90deg,#a11b46 0px,#9f1946 3px,#9f1946 13.4px,#a72249 14px,#a72249 14.4px,#a92549 15px,#ac274a 18px,#b02c4c 21px,#b22e4c 24px,#b22e4c 27px,#b4314d 30px,#b02c4c 33px,#b6334e 36px,#b4314d 39px,#b4314d 43.7px)"></div>
<div style="height:2px;background:linear-gradient(90deg,#a31e47 0px,#a31e47 3px,#a11b46 6px,#a11b46 13.4px,#a92549 14px,#a92549 14.4px,#ac274a 15px,#ae2a4b 18px,#b02c4c 21px,#b22e4c 24px,#b4314d 27px,#b6334e 30px,#b22e4c 33px,#b6334e 36px,#b6334e 42px,#b4314d 43.7px)"></div>
<div style="height:2px;background:linear-gradient(90deg,#9f1946 0px,#9d1745 3px,#9d1745 13.4px,#a31e47 14px,#a31e47 14.4px,#a52048 15px,#a72249 18px,#a92549 21px,#ac274a 24px,#ac274a 27px,#ae2a4b 30px,#a92549 33px,#ae2a4b 36px,#ae2a4b 43.7px)"></div>
<div style="height:2px;background:linear-gradient(90deg,#9f1946 0px,#9d1745 3px,#9d1745 13.4px,#a31e47 14px,#a31e47 14.4px,#a52048 15px,#a72249 18px,#a72249 21px,#a92549 24px,#ac274a 27px,#ac274a 30px,#a92549 33px,#ac274a 36px,#ac274a 43.7px)"></div>
<div style="height:2px;background:linear-gradient(90deg,#9d1745 0px,#9d1745 6px,#9a1444 8px,#9a1444 13px,#9d1745 13.4px,#a11b46 14px,#a11b46 14.4px,#a31e47 15px,#a52048 18px,#a52048 21px,#a72249 24px,#a92549 27px,#a92549 30px,#a72249 33px,#a92549 36px,#a72249 39px,#a72249 43.7px)"></div>
<div style="height:2px;background:linear-gradient(90deg,#9f1946 0px,#9f1946 6px,#9d1745 8px,#9d1745 13px,#9f1946 13.4px,#a31e47 14px,#a31e47 15px,#a52048 18px,#a72249 21px,#a92549 24px,#a92549 27px,#ac274a 30px,#a72249 33px,#a92549 36px,#a92549 43.7px)"></div>
<div style="height:2px;background:linear-gradient(90deg,#9f1946 0px,#9f1946 13.4px,#a31e47 14px,#a52048 14.4px,#a52048 15px,#a72249 18px,#a72249 21px,#a92549 24px,#ac274a 27px,#ac274a 30px,#a92549 33px,#a92549 43.7px)"></div>
<div style="height:2px;background:linear-gradient(90deg,#a11b46 0px,#a11b46 13.4px,#a52048 14px,#a52048 15px,#a72249 18px,#a92549 21px,#a92549 24px,#ac274a 27px,#ac274a 30px,#a92549 33px,#ac274a 36px,#a92549 39px,#a92549 43.7px)"></div>
<div style="height:2px;background:linear-gradient(90deg,#9f1946 0px,#9f1946 13.4px,#a31e47 14px,#a31e47 15px,#a52048 18px,#a72249 21px,#a72249 24px,#a92549 27px,#a92549 30px,#a72249 33px,#a72249 43.7px)"></div>
<div style="height:2px;background:linear-gradient(90deg,#a11b46 0px,#a11b46 13.4px,#a31e47 14px,#a52048 14.4px,#a52048 15px,#a72249 18px,#a72249 21px,#a92549 24px,#a92549 30px,#a72249 33px,#a72249 43.7px)"></div>
<div style="height:2px;background:linear-gradient(90deg,#9d1745 0px,#9d1745 13.4px,#a11b46 14px,#a11b46 15px,#a31e47 18px,#a31e47 21px,#a52048 24px,#a52048 30px,#a31e47 33px,#a31e47 43.7px)"></div>
<div style="height:2px;background:linear-gradient(90deg,#9d1745 0px,#9d1745 13.4px,#a11b46 14px,#a11b46 15px,#a31e47 18px,#a31e47 24px,#a52048 27px,#a52048 30px,#a31e47 33px,#a31e47 43.7px)"></div>
<div style="height:2px;background:linear-gradient(90deg,#9a1444 0px,#9a1444 13.4px,#9d1745 14px,#9f1946 14.4px,#9f1946 18px,#a11b46 21px,#a11b46 33px,#9f1946 36px,#9f1946 43.7px)"></div>
</div>
<div style="position:absolute;left:400.8px;top:111.3px;width:40.2px;height:236.7px;overflow:hidden">
<div style="height:2px;background:linear-gradient(90deg,#b4314d 0px,#b4314d 9.1px,#b02c4c 9.6px,#ae2a4b 10.1px,#ae2a4b 10.6px,#b02c4c 11.1px,#b22e4c 11.6px,#b22e4c 40.2px)"></div>
<div style="height:2px;background:linear-gradient(90deg,#b8354e 0px,#b8354e 8.6px,#b6334e 9px,#b6334e 9.1px,#b22e4c 9.6px,#b02c4c 10.1px,#b02c4c 10.6px,#b22e4c 11.1px,#b4314d 11.6px,#b4314d 40.2px)"></div>
<div style="height:2px;background:linear-gradient(90deg,#b8354e 0px,#b8354e 8.6px,#b6334e 9px,#b6334e 9.1px,#b22e4c 9.6px,#b02c4c 10.1px,#ae2a4b 10.6px,#b22e4c 11.1px,#b22e4c 40.2px)"></div>
<div style="height:2px;background:linear-gradient(90deg,#bd3a50 0px,#bd3a50 8.6px,#bb384f 9px,#bb384f 9.1px,#b6334e 9.6px,#b22e4c 10.1px,#b22e4c 10.6px,#b6334e 11.1px,#b6334e 40.2px)"></div>
<div style="height:2px;background:linear-gradient(90deg,#b22e4c 0px,#b22e4c 8.6px,#b02c4c 9px,#b02c4c 9.1px,#ac274a 9.6px,#a92549 10.1px,#a72249 10.6px,#ac274a 11.1px,#ac274a 40.2px)"></div>
<div style="height:2px;background:linear-gradient(90deg,#b4314d 0px,#b4314d 8.6px,#b22e4c 9px,#b22e4c 9.1px,#ae2a4b 9.6px,#ac274a 10.1px,#a92549 10.6px,#ae2a4b 11.1px,#ae2a4b 40.2px)"></div>
<div style="height:2px;background:linear-gradient(90deg,#b4314d 0px,#b4314d 8.6px,#b22e4c 9px,#b22e4c 9.1px,#ae2a4b 9.6px,#a92549 10.1px,#a92549 10.6px,#ac274a 11.1px,#ae2a4b 11.6px,#ae2a4b 40.2px)"></div>
<div style="height:2px;background:linear-gradient(90deg,#b4314d 0px,#b4314d 9.1px,#ae2a4b 9.6px,#ac274a 10.1px,#a92549 10.6px,#ae2a4b 11.1px,#ae2a4b 40.2px)"></div>
<div style="height:2px;background:linear-gradient(90deg,#c34152 0px,#c34152 8.6px,#c13f51 9px,#c13f51 9.1px,#bd3a50 9.6px,#b8354e 10.1px,#b6334e 10.6px,#b8354e 11.1px,#bb384f 11.6px,#bb384f 40.2px)"></div>
<div style="height:2px;background:linear-gradient(90deg,#bf3c51 0px,#bf3c51 9px,#bd3a50 9.1px,#b8354e 9.6px,#b4314d 10.1px,#b22e4c 10.6px,#b6334e 11.1px,#b6334e 40.2px)"></div>
<div style="height:2px;background:linear-gradient(90deg,#b8354e 0px,#b8354e 9px,#b6334e 9.1px,#b22e4c 9.6px,#ae2a4b 10.1px,#ac274a 10.6px,#b02c4c 11.1px,#b02c4c 40.2px)"></div>
<div style="height:2px;background:linear-gradient(90deg,#bb384f 0px,#bb384f 8.6px,#b8354e 9px,#b8354e 9.1px,#b4314d 9.6px,#b02c4c 10.1px,#ae2a4b 10.6px,#b02c4c 11.1px,#b22e4c 11.6px,#b22e4c 40.2px)"></div>
<div style="height:2px;background:linear-gradient(90deg,#c84753 0px,#c84753 8.6px,#c74553 9px,#c74553 9.1px,#c13f51 9.6px,#bd3a50 10.1px,#bb384f 10.6px,#bd3a50 11.1px,#bf3c51 11.6px,#bf3c51 40.2px)"></div>
<div style="height:2px;background:linear-gradient(90deg,#bb384f 0px,#bb384f 9px,#b8354e 9.1px,#b4314d 9.6px,#b02c4c 10.1px,#ae2a4b 10.6px,#b02c4c 11.1px,#b22e4c 11.6px,#b22e4c 40.2px)"></div>
<div style="height:2px;background:linear-gradient(90deg,#c13f51 0px,#c13f51 8.6px,#bf3c51 9px,#bf3c51 9.1px,#b8354e 9.6px,#b4314d 10.1px,#b22e4c 10.6px,#b4314d 11.1px,#b6334e 11.6px,#b6334e 40.2px)"></div>
<div style="height:2px;background:linear-gradient(90deg,#c84753 0px,#c84753 8.6px,#c74553 9px,#c74553 9.1px,#c13f51 9.6px,#bb384f 10.1px,#b8354e 10.6px,#bd3a50 11.1px,#bf3c51 11.6px,#bf3c51 40.2px)"></div>
<div style="height:2px;background:linear-gradient(90deg,#cc4d52 0px,#cc4d52 8.6px,#cb4b52 9px,#cb4b52 9.1px,#c74553 9.6px,#c13f51 10.1px,#bf3c51 10.6px,#c13f51 11.1px,#c34152 11.6px,#c34152 40.2px)"></div>
<div style="height:2px;background:linear-gradient(90deg,#cd4e52 0px,#cd4e52 8.6px,#cc4d52 9px,#cc4d52 9.1px,#c74553 9.6px,#c34152 10.1px,#bf3c51 10.6px,#c34152 11.1px,#c54353 11.6px,#c54353 40.2px)"></div>
<div style="height:2px;background:linear-gradient(90deg,#c54353 0px,#c54353 9px,#c34152 9.1px,#bf3c51 9.6px,#b8354e 10.1px,#b6334e 10.6px,#b8354e 11.1px,#bb384f 11.6px,#bb384f 40.2px)"></div>
<div style="height:2px;background:linear-gradient(90deg,#c13f51 0px,#c13f51 9px,#bf3c51 9.1px,#bb384f 9.6px,#b4314d 10.1px,#b22e4c 10.6px,#b4314d 11.1px,#b6334e 11.6px,#b6334e 40.2px)"></div>
<div style="height:2px;background:linear-gradient(90deg,#c34152 0px,#c34152 9px,#c13f51 9.1px,#bd3a50 9.6px,#b6334e 10.1px,#b4314d 10.6px,#b6334e 11.1px,#b8354e 11.6px,#b8354e 40.2px)"></div>
<div style="height:2px;background:linear-gradient(90deg,#cc4d52 0px,#cc4d52 9px,#cb4b52 9.1px,#c74553 9.6px,#c13f51 10.1px,#bf3c51 10.6px,#c13f51 11.1px,#c34152 11.6px,#c34152 40.2px)"></div>
<div style="height:2px;background:linear-gradient(90deg,#cc4d52 0px,#cc4d52 9px,#cb4b52 9.1px,#c74553 9.6px,#c13f51 10.1px,#bf3c51 10.6px,#c13f51 11.1px,#c34152 11.6px,#c34152 40.2px)"></div>
<div style="height:2px;background:linear-gradient(90deg,#d15451 0px,#d15451 9px,#d05252 9.1px,#cc4d52 9.6px,#c84753 10.1px,#c54353 10.6px,#c84753 11.1px,#ca4953 11.6px,#ca4953 40.2px)"></div>
<div style="height:2px;background:linear-gradient(90deg,#d15451 0px,#d15451 8.6px,#d05252 9px,#d05252 9.1px,#cb4b52 9.6px,#c74553 10.1px,#c34152 10.6px,#c74553 11.1px,#c84753 11.6px,#c84753 40.2px)"></div>
<div style="height:2px;background:linear-gradient(90deg,#d25651 0px,#d25651 8.6px,#d15451 9px,#d15451 9.1px,#cd4e52 9.6px,#c84753 10.1px,#c54353 10.6px,#c84753 11.1px,#ca4953 11.6px,#ca4953 40.2px)"></div>
<div style="height:2px;background:linear-gradient(90deg,#ca4953 0px,#ca4953 8.6px,#c84753 9px,#c84753 9.1px,#c34152 9.6px,#bd3a50 10.1px,#b8354e 10.6px,#bd3a50 11.1px,#bd3a50 40.2px)"></div>
<div style="height:2px;background:linear-gradient(90deg,#ca4953 0px,#ca4953 8.6px,#c84753 9px,#c84753 9.1px,#c34152 9.6px,#bd3a50 10.1px,#b8354e 10.6px,#bd3a50 11.1px,#bf3c51 11.6px,#bf3c51 40.2px)"></div>
<div style="height:2px;background:linear-gradient(90deg,#d05252 0px,#d05252 8.6px,#cf5052 9px,#cf5052 9.1px,#ca4953 9.6px,#c54353 10.1px,#c13f51 10.6px,#c54353 11.1px,#c54353 40.2px)"></div>
<div style="height:2px;background:linear-gradient(90deg,#d25651 0px,#d25651 8.6px,#d15451 9px,#d15451 9.1px,#cc4d52 9.6px,#c84753 10.1px,#c54353 10.6px,#c74553 11.1px,#c84753 11.6px,#c84753 40.2px)"></div>
<div style="height:2px;background:linear-gradient(90deg,#cd4e52 0px,#cd4e52 8.6px,#cc4d52 9px,#cc4d52 9.1px,#c84753 9.6px,#c13f51 10.1px,#bd3a50 10.6px,#c13f51 11.1px,#c13f51 40.2px)"></div>
<div style="height:2px;background:linear-gradient(90deg,#d75d50 0px,#d75d50 9px,#d65b51 9.1px,#d25651 9.6px,#cd4e52 10.1px,#ca4953 10.6px,#cc4d52 11.1px,#cd4e52 11.6px,#cd4e52 40.2px)"></div>
<div style="height:2px;background:linear-gradient(90deg,#ca4953 0px,#ca4953 9px,#c84753 9.1px,#c34152 9.6px,#bd3a50 10.1px,#b8354e 10.6px,#bb384f 11.1px,#bd3a50 11.6px,#bd3a50 40.2px)"></div>
<div style="height:2px;background:linear-gradient(90deg,#d25651 0px,#d25651 8.6px,#d15451 9px,#d15451 9.1px,#cc4d52 9.6px,#c84753 10.1px,#c34152 10.6px,#c74553 11.1px,#c84753 11.6px,#c84753 40.2px)"></div>
<div style="height:2px;background:linear-gradient(90deg,#cf5052 0px,#cf5052 8.6px,#cd4e52 9px,#cd4e52 9.1px,#ca4953 9.6px,#c34152 10.1px,#bf3c51 10.6px,#c13f51 11.1px,#c34152 11.6px,#c34152 40.2px)"></div>
<div style="height:2px;background:linear-gradient(90deg,#d65b51 0px,#d65b51 8.6px,#d55951 9px,#d55951 9.1px,#d05252 9.6px,#cb4b52 10.1px,#c84753 10.6px,#ca4953 11.1px,#cb4b52 11.6px,#cb4b52 40.2px)"></div>
<div style="height:2px;background:linear-gradient(90deg,#d75d50 0px,#d75d50 8.6px,#d65b51 9px,#d65b51 9.1px,#d15451 9.6px,#cc4d52 10.1px,#c84753 10.6px,#cb4b52 11.1px,#cc4d52 11.6px,#cc4d52 40.2px)"></div>
<div style="height:2px;background:linear-gradient(90deg,#d35751 0px,#d35751 8.6px,#d25651 9px,#d25651 9.1px,#cf5052 9.6px,#ca4953 10.1px,#c54353 10.6px,#c74553 11.1px,#c84753 11.6px,#c84753 40.2px)"></div>
<div style="height:2px;background:linear-gradient(90deg,#d75d50 0px,#d75d50 9px,#d65b51 9.1px,#d25651 9.6px,#cd4e52 10.1px,#ca4953 10.6px,#cb4b52 11.1px,#cc4d52 11.6px,#cc4d52 40.2px)"></div>
<div style="height:2px;background:linear-gradient(90deg,#dd664f 0px,#dd664f 8.6px,#dc6450 9px,#db6250 9.1px,#d75d50 9.6px,#d15451 10.1px,#cd4e52 10.6px,#cf5052 11.1px,#d05252 11.6px,#d05252 40.2px)"></div>
<div style="height:2px;background:linear-gradient(90deg,#d35751 0px,#d35751 8.6px,#d25651 9px,#d25651 9.1px,#cd4e52 9.6px,#ca4953 10.1px,#c54353 10.6px,#c74553 11.1px,#c84753 11.6px,#c84753 40.2px)"></div>
<div style="height:2px;background:linear-gradient(90deg,#d35751 0px,#d35751 8.6px,#d25651 9px,#d25651 9.1px,#cf5052 9.6px,#ca4953 10.1px,#c54353 10.6px,#c74553 11.1px,#c84753 11.6px,#c84753 40.2px)"></div>
<div style="height:2px;background:linear-gradient(90deg,#d25651 0px,#d25651 9px,#d15451 9.1px,#cd4e52 9.6px,#c84753 10.1px,#c34152 10.6px,#c54353 11.1px,#c74553 11.6px,#c74553 40.2px)"></div>
<div style="height:2px;background:linear-gradient(90deg,#d75d50 0px,#d75d50 8.6px,#d65b51 9px,#d65b51 9.1px,#d15451 9.6px,#cc4d52 10.1px,#c84753 10.6px,#ca4953 11.1px,#cb4b52 11.6px,#cb4b52 40.2px)"></div>
<div style="height:2px;background:linear-gradient(90deg,#d35751 0px,#d35751 9px,#d25651 9.1px,#cf5052 9.6px,#ca4953 10.1px,#c54353 10.6px,#c74553 11.1px,#c84753 11.6px,#c84753 40.2px)"></div>
<div style="height:2px;background:linear-gradient(90deg,#d15451 0px,#d15451 8.6px,#d05252 9px,#d05252 9.1px,#cc4d52 9.6px,#c54353 10.1px,#bf3c51 10.6px,#c13f51 11.1px,#c34152 11.6px,#c34152 40.2px)"></div>
<div style="height:2px;background:linear-gradient(90deg,#df674f 0px,#df674f 9px,#dd664f 9.1px,#d85e50 9.6px,#d25651 10.1px,#cd4e52 10.6px,#cf5052 11.1px,#cf5052 40.2px)"></div>
<div style="height:2px;background:linear-gradient(90deg,#d55951 0px,#d55951 9px,#d35751 9.1px,#d05252 9.6px,#ca4953 10.1px,#c34152 10.6px,#c54353 11.1px,#c54353 40.2px)"></div>
<div style="height:2px;background:linear-gradient(90deg,#d05252 0px,#d05252 8.6px,#cf5052 9px,#cf5052 9.1px,#cb4b52 9.6px,#c34152 10.1px,#bb384f 10.6px,#bd3a50 11.1px,#bd3a50 40.2px)"></div>
<div style="height:2px;background:linear-gradient(90deg,#e16b4f 0px,#e16b4f 8.6px,#e0694f 9px,#e0694f 9.1px,#db6250 9.6px,#d25651 10.1px,#cc4d52 10.6px,#cd4e52 11.1px,#cf5052 11.6px,#cf5052 40.2px)"></div>
<div style="height:2px;background:linear-gradient(90deg,#d75d50 0px,#d75d50 8.6px,#d65b51 9px,#d65b51 9.1px,#d25651 9.6px,#cb4b52 10.1px,#c34152 10.6px,#c34152 11.1px,#c54353 11.6px,#c54353 40.2px)"></div>
<div style="height:2px;background:linear-gradient(90deg,#e26d4e 0px,#e26d4e 8.6px,#e16b4f 9px,#e16b4f 9.1px,#dc6450 9.6px,#d35751 10.1px,#cc4d52 10.6px,#cd4e52 11.1px,#cd4e52 40.2px)"></div>
<div style="height:2px;background:linear-gradient(90deg,#e7744f 0px,#e7744f 8.6px,#e6724e 9px,#e5704e 9.1px,#e0694f 9.6px,#d75d50 10.1px,#cf5052 10.6px,#d05252 11.1px,#d05252 40.2px)"></div>
<div style="height:2px;background:linear-gradient(90deg,#db6250 0px,#db6250 8.6px,#da6050 9px,#da6050 9.1px,#d55951 9.6px,#cd4e52 10.1px,#c54353 10.6px,#c54353 11.1px,#c74553 11.6px,#c74553 40.2px)"></div>
<div style="height:2px;background:linear-gradient(90deg,#db6250 0px,#db6250 8.6px,#da6050 9px,#da6050 9.1px,#d55951 9.6px,#cc4d52 10.1px,#c54353 10.6px,#c54353 40.2px)"></div>
<div style="height:2px;background:linear-gradient(90deg,#e87952 0px,#e87952 8.6px,#e77750 9px,#e77750 9.1px,#e26d4e 9.6px,#d85e50 10.1px,#d05252 10.6px,#d05252 40.2px)"></div>
<div style="height:2px;background:linear-gradient(90deg,#da6050 0px,#da6050 8.6px,#d85e50 9px,#d85e50 9.1px,#d35751 9.6px,#cb4b52 10.1px,#c13f51 10.6px,#c13f51 40.2px)"></div>
<div style="height:2px;background:linear-gradient(90deg,#dd664f 0px,#dd664f 8.6px,#dc6450 9px,#dc6450 9.1px,#d75d50 9.6px,#cd4e52 10.1px,#c54353 10.6px,#c34152 11.1px,#c54353 11.6px,#c54353 40.2px)"></div>
<div style="height:2px;background:linear-gradient(90deg,#e16b4f 0px,#e16b4f 8.6px,#e0694f 9px,#e0694f 9.1px,#db6250 9.6px,#d05252 10.1px,#c74553 10.6px,#c74553 40.2px)"></div>
<div style="height:2px;background:linear-gradient(90deg,#e16b4f 0px,#e16b4f 9px,#e0694f 9.1px,#db6250 9.6px,#d15451 10.1px,#c74553 10.6px,#c74553 40.2px)"></div>
<div style="height:2px;background:linear-gradient(90deg,#ea8558 0px,#ea8558 8.6px,#ea8357 9px,#ea8357 9.1px,#e77750 9.6px,#dc6450 10.1px,#d15451 10.6px,#d05252 11.1px,#d15451 11.6px,#d15451 40.2px)"></div>
<div style="height:2px;background:linear-gradient(90deg,#e7744f 0px,#e7744f 9px,#e6724e 9.1px,#e16b4f 9.6px,#d55951 10.1px,#cb4b52 10.6px,#ca4953 11.1px,#cb4b52 11.6px,#cb4b52 40.2px)"></div>
<div style="height:2px;background:linear-gradient(90deg,#dd664f 0px,#dd664f 8.6px,#dc6450 9px,#dc6450 9.1px,#d75d50 9.6px,#cc4d52 10.1px,#c13f51 10.6px,#bf3c51 11.1px,#c13f51 11.6px,#c13f51 40.2px)"></div>
<div style="height:2px;background:linear-gradient(90deg,#ec8d5c 0px,#ec8d5c 8.6px,#ec8a5a 9px,#ec8a5a 9.1px,#e97e54 9.6px,#df674f 10.1px,#d15451 10.6px,#d05252 11.1px,#d15451 11.6px,#d15451 40.2px)"></div>
<div style="height:2px;background:linear-gradient(90deg,#ea8558 0px,#ea8558 8.6px,#ea8357 9px,#e98155 9.1px,#e7744f 9.6px,#da6050 10.1px,#cf5052 10.6px,#cd4e52 11.1px,#cd4e52 40.2px)"></div>
<div style="height:2px;background:linear-gradient(90deg,#e87c53 0px,#e87c53 8.6px,#e87952 9px,#e87952 9.1px,#e46e4e 9.6px,#d65b51 10.1px,#cb4b52 10.6px,#ca4953 11.1px,#ca4953 40.2px)"></div>
<div style="height:2px;background:linear-gradient(90deg,#ef9962 0px,#ef9962 8.6px,#ee9761 9px,#ee945f 9.1px,#eb8859 9.6px,#e16b4f 10.1px,#d35751 10.6px,#d25651 11.1px,#d25651 40.2px)"></div>
<div style="height:2px;background:linear-gradient(90deg,#ec8d5c 0px,#ec8d5c 9px,#ec8a5a 9.1px,#e97e54 9.6px,#dd664f 10.1px,#d05252 10.6px,#cd4e52 11.1px,#cf5052 11.6px,#cf5052 40.2px)"></div>
<div style="height:2px;background:linear-gradient(90deg,#ec8d5c 0px,#ec8d5c 9px,#ec8a5a 9.1px,#e97e54 9.6px,#dd664f 10.1px,#cf5052 10.6px,#cd4e52 11.1px,#cf5052 11.6px,#cf5052 40.2px)"></div>
<div style="height:2px;background:linear-gradient(90deg,#e87c53 0px,#e87c53 9px,#e87952 9.1px,#e46e4e 9.6px,#d65b51 10.1px,#c84753 10.6px,#c74553 11.1px,#c74553 40.2px)"></div>
<div style="height:2px;background:linear-gradient(90deg,#ea8558 0px,#ea8558 9px,#ea8357 9.1px,#e77750 9.6px,#da6050 10.1px,#cb4b52 10.6px,#ca4953 11.1px,#ca4953 40.2px)"></div>
<div style="height:2px;background:linear-gradient(90deg,#f09e64 0px,#f09e64 8.6px,#ef9b63 9px,#ef9b63 9.1px,#ec8d5c 9.6px,#e26d4e 10.1px,#d25651 10.6px,#d05252 11.1px,#d05252 40.2px)"></div>
<div style="height:2px;background:linear-gradient(90deg,#ee945f 0px,#ee945f 8.6px,#ed925e 9px,#ed925e 9.1px,#ea8357 9.6px,#dd664f 10.1px,#cd4e52 10.6px,#cc4d52 11.1px,#cc4d52 40.2px)"></div>
<div style="height:2px;background:linear-gradient(90deg,#eb8859 0px,#eb8859 9px,#ea8558 9.1px,#e87952 9.6px,#da6050 10.1px,#ca4953 10.6px,#c74553 11.1px,#c84753 11.6px,#c84753 40.2px)"></div>
<div style="height:2px;background:linear-gradient(90deg,#e87952 0px,#e87952 9px,#e77750 9.1px,#e26d4e 9.6px,#d35751 10.1px,#c34152 10.6px,#bf3c51 11.1px,#c13f51 11.6px,#c13f51 40.2px)"></div>
<div style="height:2px;background:linear-gradient(90deg,#ee9761 0px,#ee9761 8.6px,#ee945f 9px,#ee945f 9.1px,#ea8558 9.6px,#dd664f 10.1px,#cc4d52 10.6px,#ca4953 11.1px,#cb4b52 11.6px,#cb4b52 40.2px)"></div>
<div style="height:2px;background:linear-gradient(90deg,#ee945f 0px,#ee945f 8.6px,#ed925e 9px,#ed925e 9.1px,#ea8357 9.6px,#dc6450 10.1px,#cb4b52 10.6px,#c84753 11.1px,#ca4953 11.6px,#ca4953 40.2px)"></div>
<div style="height:2px;background:linear-gradient(90deg,#f1a367 0px,#f1a367 8.6px,#f0a066 9px,#f09e64 9.1px,#ed8f5d 9.6px,#e16b4f 10.1px,#cf5052 10.6px,#cc4d52 11.1px,#cc4d52 40.2px)"></div>
<div style="height:2px;background:linear-gradient(90deg,#f0a066 0px,#f0a066 8.6px,#f09e64 9px,#ef9b63 9.1px,#ec8d5c 9.6px,#e0694f 10.1px,#cd4e52 10.6px,#ca4953 11.1px,#cb4b52 11.6px,#cb4b52 40.2px)"></div>
<div style="height:2px;background:linear-gradient(90deg,#f1a367 0px,#f1a367 9px,#f0a066 9.1px,#ed925e 9.6px,#e16b4f 10.1px,#cd4e52 10.6px,#cb4b52 11.1px,#cb4b52 40.2px)"></div>
<div style="height:2px;background:linear-gradient(90deg,#ef9962 0px,#ef9962 8.6px,#ee9761 9px,#ee9761 9.1px,#eb8859 9.6px,#dd664f 10.1px,#ca4953 10.6px,#c74553 11.1px,#c74553 40.2px)"></div>
<div style="height:2px;background:linear-gradient(90deg,#f0a066 0px,#f0a066 8.6px,#f09e64 9px,#f09e64 9.1px,#ec8d5c 9.6px,#df674f 10.1px,#cb4b52 10.6px,#c84753 11.1px,#c84753 40.2px)"></div>
<div style="height:2px;background:linear-gradient(90deg,#ee945f 0px,#ee945f 9px,#ed925e 9.1px,#ea8357 9.6px,#db6250 10.1px,#c74553 10.6px,#c34152 11.1px,#c34152 40.2px)"></div>
<div style="height:2px;background:linear-gradient(90deg,#f1a367 0px,#f1a367 8.6px,#f0a066 9px,#f0a066 9.1px,#ed8f5d 9.6px,#e0694f 10.1px,#cb4b52 10.6px,#c74553 11.1px,#c74553 40.2px)"></div>
<div style="height:2px;background:linear-gradient(90deg,#f2a568 0px,#f2a568 8.6px,#f1a367 9px,#f1a367 9.1px,#ed925e 9.6px,#e0694f 10.1px,#cb4b52 10.6px,#c74553 11.1px,#c74553 40.2px)"></div>
<div style="height:2px;background:linear-gradient(90deg,#f2a568 0px,#f2a568 9px,#f1a367 9.1px,#ee945f 9.6px,#e0694f 10.1px,#cb4b52 10.6px,#c74553 11.1px,#c74553 40.2px)"></div>
<div style="height:2px;background:linear-gradient(90deg,#ee9761 0px,#ee9761 8.6px,#ee945f 9px,#ee945f 9.1px,#ea8558 9.6px,#da6050 10.1px,#c54353 10.6px,#bf3c51 11.1px,#bf3c51 40.2px)"></div>
<div style="height:2px;background:linear-gradient(90deg,#f3aa6b 0px,#f3aa6b 9px,#f2a869 9.1px,#ee9761 9.6px,#e16b4f 10.1px,#cb4b52 10.6px,#c54353 11.1px,#c74553 11.6px,#c74553 40.2px)"></div>
<div style="height:2px;background:linear-gradient(90deg,#f1a367 0px,#f1a367 8.6px,#f0a066 9px,#f0a066 9.1px,#ed925e 9.6px,#df674f 10.1px,#c84753 10.6px,#c13f51 11.1px,#c34152 11.6px,#c34152 40.2px)"></div>
<div style="height:2px;background:linear-gradient(90deg,#ee9761 0px,#ee9761 8.6px,#ee945f 9px,#ee945f 9.1px,#ea8558 9.6px,#da6050 10.1px,#c34152 10.6px,#bb384f 11.1px,#bd3a50 11.6px,#bd3a50 40.2px)"></div>
<div style="height:2px;background:linear-gradient(90deg,#f3aa6b 0px,#f3aa6b 8.6px,#f2a869 9px,#f2a869 9.1px,#ee9761 9.6px,#e0694f 10.1px,#c84753 10.6px,#c13f51 11.1px,#c34152 11.6px,#c34152 40.2px)"></div>
<div style="height:2px;background:linear-gradient(90deg,#f4b370 0px,#f4b370 9px,#f4b16f 9.1px,#f0a066 9.6px,#e46e4e 10.1px,#cb4b52 10.6px,#c54353 11.1px,#c54353 40.2px)"></div>
<div style="height:2px;background:linear-gradient(90deg,#f2a568 0px,#f2a568 8.6px,#f1a367 9px,#f1a367 9.1px,#ed925e 9.6px,#dd664f 10.1px,#c54353 10.6px,#bd3a50 11.1px,#bf3c51 11.6px,#bf3c51 40.2px)"></div>
<div style="height:2px;background:linear-gradient(90deg,#f6c27d 0px,#f6c27d 9px,#f6c07c 9.1px,#f4b16f 9.6px,#e87952 10.1px,#cf5052 10.6px,#c84753 11.1px,#ca4953 11.6px,#ca4953 40.2px)"></div>
<div style="height:2px;background:linear-gradient(90deg,#f4b370 0px,#f4b370 9px,#f4b16f 9.1px,#f0a066 9.6px,#e26d4e 10.1px,#c84753 10.6px,#c13f51 11.1px,#c34152 11.6px,#c34152 40.2px)"></div>
<div style="height:2px;background:linear-gradient(90deg,#f5bc78 0px,#f5bc78 9px,#f5ba77 9.1px,#f3ac6c 9.6px,#e7744f 10.1px,#cc4d52 10.6px,#c54353 11.1px,#c74553 11.6px,#c74553 40.2px)"></div>
<div style="height:2px;background:linear-gradient(90deg,#f5b773 0px,#f5b773 9px,#f5b572 9.1px,#f2a568 9.6px,#e5704e 10.1px,#ca4953 10.6px,#c34152 11.1px,#c34152 40.2px)"></div>
<div style="height:2px;background:linear-gradient(90deg,#ed8f5d 0px,#ed8f5d 9px,#ec8d5c 9.1px,#e97e54 9.6px,#d65b51 10.1px,#bb384f 10.6px,#b22e4c 11.1px,#b4314d 11.6px,#b4314d 40.2px)"></div>
<div style="height:2px;background:linear-gradient(90deg,#ec8d5c 0px,#ec8d5c 9px,#ec8a5a 9.1px,#e87c53 9.6px,#d55951 10.1px,#b8354e 10.6px,#b22e4c 11.1px,#b22e4c 40.2px)"></div>
<div style="height:2px;background:linear-gradient(90deg,#f4b370 0px,#f4b370 8.6px,#f4b16f 9px,#f4b16f 9.1px,#f0a066 9.6px,#e26d4e 10.1px,#c84753 10.6px,#c13f51 11.1px,#c13f51 40.2px)"></div>
<div style="height:2px;background:linear-gradient(90deg,#f1a367 0px,#f1a367 9px,#f0a066 9.1px,#ed925e 9.6px,#dc6450 10.1px,#c34152 10.6px,#bb384f 11.1px,#bb384f 40.2px)"></div>
<div style="height:2px;background:linear-gradient(90deg,#f0a066 0px,#f0a066 8.6px,#f09e64 9px,#f09e64 9.1px,#ed8f5d 9.6px,#dc6450 10.1px,#c13f51 10.6px,#b8354e 11.1px,#b8354e 40.2px)"></div>
<div style="height:2px;background:linear-gradient(90deg,#f4b16f 0px,#f4b16f 8.6px,#f4af6d 9px,#f4af6d 9.1px,#f09e64 9.6px,#e16b4f 10.1px,#c74553 10.6px,#bf3c51 11.1px,#bf3c51 40.2px)"></div>
<div style="height:2px;background:linear-gradient(90deg,#f3ac6c 0px,#f3ac6c 9px,#f3aa6b 9.1px,#ef9b63 9.6px,#e0694f 10.1px,#c74553 10.6px,#bd3a50 11.1px,#bf3c51 11.6px,#bf3c51 40.2px)"></div>
<div style="height:2px;background:linear-gradient(90deg,#f3aa6b 0px,#f3aa6b 9px,#f2a869 9.1px,#ef9962 9.6px,#e0694f 10.1px,#c54353 10.6px,#bd3a50 11.1px,#bd3a50 40.2px)"></div>
<div style="height:2px;background:linear-gradient(90deg,#ee9761 0px,#ee9761 8.6px,#ee945f 9px,#ee945f 9.1px,#ea8558 9.6px,#d85e50 10.1px,#bd3a50 10.6px,#b4314d 11.1px,#b4314d 40.2px)"></div>
<div style="height:2px;background:linear-gradient(90deg,#f5b975 0px,#f5b975 8.6px,#f5b773 9px,#f5b773 9.1px,#f2a869 9.6px,#e5704e 10.1px,#ca4953 10.6px,#c34152 11.1px,#c34152 40.2px)"></div>
<div style="height:2px;background:linear-gradient(90deg,#e98155 0px,#e98155 8.6px,#e97e54 9px,#e97e54 9.1px,#e6724e 9.6px,#d15451 10.1px,#b4314d 10.6px,#ac274a 11.1px,#ac274a 40.2px)"></div>
<div style="height:2px;background:linear-gradient(90deg,#f4b16f 0px,#f4b16f 9.1px,#f0a066 9.6px,#e26d4e 10.1px,#c84753 10.6px,#bf3c51 11.1px,#bf3c51 40.2px)"></div>
<div style="height:2px;background:linear-gradient(90deg,#ef9962 0px,#ef9962 9px,#ee9761 9.1px,#ec8a5a 9.6px,#da6050 10.1px,#bf3c51 10.6px,#b6334e 11.1px,#b6334e 40.2px)"></div>
<div style="height:2px;background:linear-gradient(90deg,#f3ac6c 0px,#f3ac6c 9.1px,#ef9b63 9.6px,#e16b4f 10.1px,#c74553 10.6px,#bd3a50 11.1px,#bd3a50 40.2px)"></div>
<div style="height:2px;background:linear-gradient(90deg,#f0a066 0px,#f0a066 9px,#f09e64 9.1px,#ed8f5d 9.6px,#dc6450 10.1px,#c13f51 10.6px,#b8354e 11.1px,#b8354e 40.2px)"></div>
<div style="height:2px;background:linear-gradient(90deg,#f1a367 0px,#f1a367 9.1px,#ee945f 9.6px,#dd664f 10.1px,#c34152 10.6px,#b8354e 11.1px,#b8354e 40.2px)"></div>
<div style="height:2px;background:linear-gradient(90deg,#f4b370 0px,#f4b370 9.1px,#f1a367 9.6px,#e46e4e 10.1px,#c84753 10.6px,#bf3c51 11.1px,#bf3c51 40.2px)"></div>
<div style="height:2px;background:linear-gradient(90deg,#ed925e 0px,#ed925e 9.1px,#ea8357 9.6px,#d75d50 10.1px,#bb384f 10.6px,#b22e4c 11.1px,#b22e4c 40.2px)"></div>
<div style="height:2px;background:linear-gradient(90deg,#e87952 0px,#e87952 8.6px,#e77750 9px,#e77750 9.1px,#e26d4e 9.6px,#cf5052 10.1px,#b02c4c 10.6px,#a92549 11.1px,#a92549 40.2px)"></div>
<div style="height:2px;background:linear-gradient(90deg,#ec8a5a 0px,#ec8a5a 8.6px,#eb8859 9px,#eb8859 9.1px,#e87c53 9.6px,#d55951 10.1px,#b8354e 10.6px,#b22e4c 11.1px,#b22e4c 40.2px)"></div>
<div style="height:2px;background:linear-gradient(90deg,#e26d4e 0px,#e26d4e 9.1px,#dd664f 9.6px,#cb4b52 10.1px,#ae2a4b 10.6px,#a72249 11.1px,#a72249 40.2px)"></div>
<div style="height:2px;background:linear-gradient(90deg,#e98155 0px,#e98155 8.6px,#e97e54 9px,#e97e54 9.1px,#e6724e 9.6px,#d25651 10.1px,#b8354e 10.6px,#b02c4c 11.1px,#b02c4c 40.2px)"></div>
</div>
<div style="position:absolute;left:462.1px;top:111.2px;width:45.0px;height:236.8px;overflow:hidden">
<div style="height:2px;background:linear-gradient(90deg,#c54353 0px,#c54353 6px,#c84753 8.3px,#cf5052 8.8px,#d25651 9px,#d75d50 9.3px,#df674f 9.8px,#e87952 10.3px,#fefdc6 10.8px,#e4f2a3 11.3px,#e4f2a3 12.3px,#fefdc6 12.8px,#e87952 13.3px,#df674f 13.8px,#d35751 14.3px,#c84753 14.8px,#c34152 15px,#bb384f 15.3px,#b6334e 18px,#b6334e 24px,#bb384f 27px,#cc4d52 30px,#cc4d52 45px)"></div>
<div style="height:2px;background:linear-gradient(90deg,#c34152 0px,#c34152 6px,#c74553 8.3px,#cd4e52 8.8px,#d15451 9px,#d65b51 9.3px,#dd664f 9.8px,#e7744f 10.3px,#fdf7bd 10.8px,#eaf5a9 11.3px,#eaf5a9 12.3px,#fdf7bd 12.8px,#e7744f 13.3px,#dc6450 13.8px,#d25651 14.3px,#c84753 14.8px,#c13f51 15px,#bb384f 15.3px,#b4314d 18px,#b4314d 24px,#b8354e 27px,#cb4b52 30px,#cb4b52 45px)"></div>
<div style="height:2px;background:linear-gradient(90deg,#c34152 0px,#c34152 6px,#c74553 8.3px,#cd4e52 8.8px,#d15451 9px,#d65b51 9.3px,#df674f 9.8px,#e7744f 10.3px,#fdf6bb 10.8px,#ebf5aa 11.3px,#ebf5aa 12.3px,#fdf6bb 12.8px,#e7744f 13.3px,#dd664f 13.8px,#d35751 14.3px,#c84753 14.8px,#c34152 15px,#bb384f 15.3px,#b4314d 18px,#b4314d 24px,#b8354e 27px,#cb4b52 30px,#cb4b52 45px)"></div>
<div style="height:2px;background:linear-gradient(90deg,#c13f51 0px,#c13f51 6px,#c54353 8.3px,#cc4d52 8.8px,#cf5052 9px,#d35751 9.3px,#dc6450 9.8px,#e5704e 10.3px,#fcf0b1 10.8px,#f0f8b2 11.3px,#f0f8b2 12.3px,#fcf0b1 12.8px,#e5704e 13.3px,#db6250 13.8px,#d15451 14.3px,#c54353 14.8px,#bf3c51 15px,#b8354e 15.3px,#b22e4c 18px,#b22e4c 24px,#b6334e 27px,#c84753 30px,#c84753 45px)"></div>
<div style="height:2px;background:linear-gradient(90deg,#c34152 0px,#c34152 6px,#c74553 8.3px,#cf5052 8.8px,#d15451 9px,#d65b51 9.3px,#df674f 9.8px,#e7744f 10.3px,#fdf5b9 10.8px,#ebf5aa 11.3px,#ebf5aa 12.3px,#fdf5b9 12.8px,#e7744f 13.3px,#dd664f 13.8px,#d35751 14.3px,#c84753 14.8px,#c34152 15px,#bb384f 15.3px,#b4314d 18px,#b4314d 24px,#b8354e 27px,#ca4953 30px,#ca4953 45px)"></div>
<div style="height:2px;background:linear-gradient(90deg,#c13f51 0px,#c13f51 6px,#c54353 8.3px,#cc4d52 8.8px,#d05252 9px,#d55951 9.3px,#dc6450 9.8px,#e5704e 10.3px,#fcf0b1 10.8px,#eff7b1 11.3px,#eff7b1 12.3px,#fcf0b1 12.8px,#e5704e 13.3px,#dc6450 13.8px,#d15451 14.3px,#c74553 14.8px,#c13f51 15px,#b8354e 15.3px,#b22e4c 18px,#b22e4c 24px,#b6334e 27px,#c84753 30px,#c84753 45px)"></div>
<div style="height:2px;background:linear-gradient(90deg,#bf3c51 0px,#bf3c51 6px,#c34152 8.3px,#cc4d52 8.8px,#cf5052 9px,#d35751 9.3px,#dc6450 9.8px,#e5704e 10.3px,#fceead 10.8px,#f0f8b2 11.3px,#f0f8b2 12.3px,#fceead 12.8px,#e5704e 13.3px,#db6250 13.8px,#d15451 14.3px,#c54353 14.8px,#bf3c51 15px,#b8354e 15.3px,#b22e4c 18px,#b22e4c 24px,#b4314d 27px,#c74553 30px,#c74553 45px)"></div>
<div style="height:2px;background:linear-gradient(90deg,#bf3c51 0px,#bf3c51 6px,#c34152 8.3px,#cc4d52 8.8px,#cf5052 9px,#d35751 9.3px,#dc6450 9.8px,#e5704e 10.3px,#fceead 10.8px,#f0f8b2 11.3px,#f0f8b2 12.3px,#fceead 12.8px,#e5704e 13.3px,#dc6450 13.8px,#d15451 14.3px,#c74553 14.8px,#c13f51 15px,#b8354e 15.3px,#b22e4c 18px,#b22e4c 24px,#b4314d 27px,#c74553 30px,#c74553 45px)"></div>
<div style="height:2px;background:linear-gradient(90deg,#bb384f 0px,#bb384f 6px,#bf3c51 8.3px,#ca4953 8.8px,#cc4d52 9px,#d15451 9.3px,#da6050 9.8px,#e16b4f 10.3px,#fbe6a0 10.8px,#f7fbbc 11.3px,#f7fbbc 12.3px,#fbe6a0 12.8px,#e16b4f 13.3px,#d85e50 13.8px,#cf5052 14.3px,#c34152 14.8px,#bd3a50 15px,#b4314d 15.3px,#ae2a4b 18px,#ae2a4b 24px,#b22e4c 27px,#c13f51 30px,#c13f51 45px)"></div>
<div style="height:2px;background:linear-gradient(90deg,#bf3c51 0px,#bf3c51 6px,#c54353 8.3px,#cc4d52 8.8px,#d05252 9px,#d55951 9.3px,#dd664f 9.8px,#e5704e 10.3px,#fcedac 10.8px,#eff7b1 11.3px,#eff7b1 12.3px,#fcedac 12.8px,#e5704e 13.3px,#dc6450 13.8px,#d25651 14.3px,#c74553 14.8px,#c13f51 15px,#b8354e 15.3px,#b22e4c 18px,#b22e4c 24px,#b4314d 27px,#c54353 30px,#c54353 45px)"></div>
<div style="height:2px;background:linear-gradient(90deg,#bf3c51 0px,#bf3c51 6px,#c34152 8.3px,#cb4b52 8.8px,#cf5052 9px,#d35751 9.3px,#dc6450 9.8px,#e46e4e 10.3px,#fbeba8 10.8px,#f1f8b4 11.3px,#f1f8b4 12.3px,#fbeba8 12.8px,#e46e4e 13.3px,#dc6450 13.8px,#d15451 14.3px,#c54353 14.8px,#bf3c51 15px,#b6334e 15.3px,#b22e4c 18px,#b22e4c 24px,#b4314d 27px,#c54353 30px,#c54353 45px)"></div>
<div style="height:2px;background:linear-gradient(90deg,#bd3a50 0px,#bd3a50 6px,#c13f51 8.3px,#cb4b52 8.8px,#cd4e52 9px,#d25651 9.3px,#db6250 9.8px,#e26d4e 10.3px,#fbe7a2 10.8px,#f4f9b8 11.3px,#f4f9b8 12.3px,#fbe7a2 12.8px,#e26d4e 13.3px,#db6250 13.8px,#d05252 14.3px,#c54353 14.8px,#bf3c51 15px,#b6334e 15.3px,#b02c4c 18px,#b02c4c 24px,#b22e4c 27px,#c34152 30px,#c34152 45px)"></div>
<div style="height:2px;background:linear-gradient(90deg,#bd3a50 0px,#bd3a50 6px,#c13f51 8.3px,#cb4b52 8.8px,#cd4e52 9px,#d25651 9.3px,#db6250 9.8px,#e26d4e 10.3px,#fbe7a2 10.8px,#f4f9b8 11.3px,#f4f9b8 12.3px,#fbe7a2 12.8px,#e26d4e 13.3px,#db6250 13.8px,#d05252 14.3px,#c54353 14.8px,#bd3a50 15px,#b6334e 15.3px,#b02c4c 18px,#b02c4c 24px,#b22e4c 27px,#c13f51 30px,#c13f51 45px)"></div>
<div style="height:2px;background:linear-gradient(90deg,#bb384f 0px,#bb384f 6px,#bf3c51 8.3px,#ca4953 8.8px,#cc4d52 9px,#d15451 9.3px,#da6050 9.8px,#e16b4f 10.3px,#fae29b 10.8px,#f7fbbc 11.3px,#f7fbbc 12.3px,#fae29b 12.8px,#e16b4f 13.3px,#da6050 13.8px,#cf5052 14.3px,#c34152 14.8px,#bd3a50 15px,#b4314d 15.3px,#ae2a4b 18px,#ae2a4b 24px,#b02c4c 27px,#bf3c51 30px,#bf3c51 45px)"></div>
<div style="height:2px;background:linear-gradient(90deg,#bb384f 0px,#bb384f 6px,#bf3c51 8.3px,#c84753 8.8px,#cc4d52 9px,#d15451 9.3px,#da6050 9.8px,#e0694f 10.3px,#fae199 10.8px,#f9fcbf 11.3px,#f9fcbf 12.3px,#fae199 12.8px,#e0694f 13.3px,#d85e50 13.8px,#cf5052 14.3px,#c13f51 14.8px,#bb384f 15px,#b4314d 15.3px,#ae2a4b 18px,#ae2a4b 24px,#b02c4c 27px,#bd3a50 30px,#bd3a50 45px)"></div>
<div style="height:2px;background:linear-gradient(90deg,#b8354e 0px,#b8354e 6px,#bf3c51 8.3px,#c84753 8.8px,#cc4d52 9px,#d15451 9.3px,#da6050 9.8px,#e0694f 10.3px,#fae097 10.8px,#f8fbbe 11.3px,#f8fbbe 12.3px,#fae097 12.8px,#e0694f 13.3px,#d85e50 13.8px,#cf5052 14.3px,#c13f51 14.8px,#bb384f 15px,#b4314d 15.3px,#ae2a4b 18px,#ae2a4b 24px,#b02c4c 27px,#bd3a50 30px,#bd3a50 45px)"></div>
<div style="height:2px;background:linear-gradient(90deg,#b8354e 0px,#b8354e 6px,#bf3c51 8.3px,#c84753 8.8px,#cc4d52 9px,#d15451 9.3px,#da6050 9.8px,#e0694f 10.3px,#fae097 10.8px,#f8fbbe 11.3px,#f8fbbe 12.3px,#fae097 12.8px,#e0694f 13.3px,#d85e50 13.8px,#cf5052 14.3px,#c34152 14.8px,#bb384f 15px,#b4314d 15.3px,#ae2a4b 18px,#ae2a4b 24px,#b02c4c 27px,#bd3a50 30px,#bd3a50 45px)"></div>
<div style="height:2px;background:linear-gradient(90deg,#bb384f 0px,#bb384f 6px,#bf3c51 8.3px,#ca4953 8.8px,#cc4d52 9px,#d25651 9.3px,#db6250 9.8px,#e16b4f 10.3px,#fae199 10.8px,#f6fabb 11.3px,#f6fabb 12.3px,#fae199 12.8px,#e16b4f 13.3px,#da6050 13.8px,#d05252 14.3px,#c34152 14.8px,#bd3a50 15px,#b4314d 15.3px,#ae2a4b 18px,#ae2a4b 24px,#b02c4c 27px,#bd3a50 30px,#bd3a50 45px)"></div>
<div style="height:2px;background:linear-gradient(90deg,#b8354e 0px,#b8354e 6px,#bd3a50 8.3px,#c84753 8.8px,#cb4b52 9px,#d15451 9.3px,#d85e50 9.8px,#e0694f 10.3px,#f9da92 10.8px,#fafcc1 11.3px,#fafcc1 12.3px,#f9da92 12.8px,#e0694f 13.3px,#d85e50 13.8px,#cf5052 14.3px,#c13f51 14.8px,#bb384f 15px,#b22e4c 15.3px,#ac274a 18px,#ac274a 24px,#ae2a4b 27px,#bb384f 30px,#bb384f 45px)"></div>
<div style="height:2px;background:linear-gradient(90deg,#b6334e 0px,#b6334e 6px,#bb384f 8.3px,#c54353 8.8px,#ca4953 9px,#cf5052 9.3px,#d75d50 9.8px,#dd664f 10.3px,#f8d58d 10.8px,#fefec6 11.3px,#fefec6 12.3px,#f8d58d 12.8px,#dd664f 13.3px,#d65b51 13.8px,#cc4d52 14.3px,#bf3c51 14.8px,#b8354e 15px,#b02c4c 15.3px,#a92549 18px,#a92549 24px,#ac274a 27px,#b8354e 30px,#b8354e 45px)"></div>
<div style="height:2px;background:linear-gradient(90deg,#b6334e 0px,#b6334e 6px,#bd3a50 8.3px,#c74553 8.8px,#cb4b52 9px,#d05252 9.3px,#d85e50 9.8px,#df674f 10.3px,#f9d78f 10.8px,#fcfdc3 11.3px,#fcfdc3 12.3px,#f9d78f 12.8px,#df674f 13.3px,#d75d50 13.8px,#cd4e52 14.3px,#bf3c51 14.8px,#b8354e 15px,#b22e4c 15.3px,#ac274a 18px,#ac274a 24px,#ae2a4b 27px,#b8354e 30px,#b8354e 45px)"></div>
<div style="height:2px;background:linear-gradient(90deg,#b6334e 0px,#b6334e 6px,#bd3a50 8.3px,#c74553 8.8px,#cb4b52 9px,#d05252 9.3px,#d85e50 9.8px,#e0694f 10.3px,#f9d78f 10.8px,#fbfcc2 11.3px,#fbfcc2 12.3px,#f9d78f 12.8px,#df674f 13.3px,#d85e50 13.8px,#cf5052 14.3px,#c13f51 14.8px,#bb384f 15px,#b22e4c 15.3px,#ac274a 18px,#ac274a 24px,#ae2a4b 27px,#b8354e 30px,#b8354e 45px)"></div>
<div style="height:2px;background:linear-gradient(90deg,#b8354e 0px,#b8354e 6px,#bf3c51 8.3px,#c84753 8.8px,#cc4d52 9px,#d25651 9.3px,#db6250 9.8px,#e16b4f 10.3px,#f9da92 10.8px,#f8fbbe 11.3px,#f8fbbe 12.3px,#f9da92 12.8px,#e16b4f 13.3px,#da6050 13.8px,#d05252 14.3px,#c34152 14.8px,#bd3a50 15px,#b4314d 15.3px,#ae2a4b 18px,#ae2a4b 24px,#b02c4c 27px,#b8354e 30px,#b8354e 45px)"></div>
<div style="height:2px;background:linear-gradient(90deg,#b6334e 0px,#b6334e 6px,#bb384f 8.3px,#c74553 8.8px,#ca4953 9px,#d05252 9.3px,#d85e50 9.8px,#df674f 10.3px,#f8d18a 10.8px,#fefec6 11.3px,#fefec6 12.3px,#f8d18a 12.8px,#df674f 13.3px,#d75d50 13.8px,#cd4e52 14.3px,#bf3c51 14.8px,#b8354e 15px,#b02c4c 15.3px,#a92549 18px,#a92549 24px,#ac274a 27px,#b6334e 30px,#b6334e 45px)"></div>
<div style="height:2px;background:linear-gradient(90deg,#b4314d 0px,#b4314d 6px,#b8354e 8.3px,#c34152 8.8px,#c84753 9px,#cd4e52 9.3px,#d65b51 9.8px,#dc6450 10.3px,#f7c984 10.8px,#fdfac0 11.3px,#fdfac0 12.3px,#f7c984 12.8px,#dc6450 13.3px,#d65b51 13.8px,#cc4d52 14.3px,#bd3a50 14.8px,#b6334e 15px,#ae2a4b 15.3px,#a92549 18px,#a92549 27px,#b22e4c 30px,#b22e4c 45px)"></div>
<div style="height:2px;background:linear-gradient(90deg,#b4314d 0px,#b4314d 6px,#b8354e 8.3px,#c54353 8.8px,#ca4953 9px,#cf5052 9.3px,#d75d50 9.8px,#dd664f 10.3px,#f7cb85 10.8px,#fefcc4 11.3px,#fefcc4 12.3px,#f7cb85 12.8px,#dd664f 13.3px,#d65b51 13.8px,#cc4d52 14.3px,#bf3c51 14.8px,#b8354e 15px,#b02c4c 15.3px,#a92549 18px,#a92549 24px,#ac274a 27px,#b4314d 30px,#b4314d 45px)"></div>
<div style="height:2px;background:linear-gradient(90deg,#b4314d 0px,#b4314d 6px,#b8354e 8.3px,#c34152 8.8px,#c84753 9px,#cd4e52 9.3px,#d75d50 9.8px,#dd664f 10.3px,#f7c882 10.8px,#fdfac0 11.3px,#fdfac0 12.3px,#f7c882 12.8px,#dc6450 13.3px,#d65b51 13.8px,#cc4d52 14.3px,#bd3a50 14.8px,#b6334e 15px,#b02c4c 15.3px,#a92549 18px,#a92549 27px,#b22e4c 30px,#b22e4c 45px)"></div>
<div style="height:2px;background:linear-gradient(90deg,#b4314d 0px,#b4314d 6px,#b8354e 8.3px,#c54353 8.8px,#c84753 9px,#cf5052 9.3px,#d75d50 9.8px,#dd664f 10.3px,#f7c882 10.8px,#fefbc2 11.3px,#fefbc2 12.3px,#f7c882 12.8px,#dd664f 13.3px,#d65b51 13.8px,#cc4d52 14.3px,#bf3c51 14.8px,#b8354e 15px,#b02c4c 15.3px,#a92549 18px,#a92549 24px,#ac274a 27px,#b22e4c 30px,#b22e4c 45px)"></div>
<div style="height:2px;background:linear-gradient(90deg,#b4314d 0px,#b4314d 6px,#b8354e 8.3px,#c54353 8.8px,#c84753 9px,#cf5052 9.3px,#d75d50 9.8px,#dd664f 10.3px,#f7c680 10.8px,#fdfac0 11.3px,#fdfac0 12.3px,#f7c680 12.8px,#dd664f 13.3px,#d65b51 13.8px,#cc4d52 14.3px,#bd3a50 14.8px,#b6334e 15px,#b02c4c 15.3px,#a92549 18px,#a92549 27px,#b22e4c 30px,#b22e4c 45px)"></div>
<div style="height:2px;background:linear-gradient(90deg,#b6334e 0px,#b6334e 6px,#bb384f 8.3px,#c74553 8.8px,#cb4b52 9px,#d05252 9.3px,#da6050 9.8px,#e0694f 10.3px,#f7cb85 10.8px,#fdfdc5 11.3px,#fdfdc5 12.3px,#f7cb85 12.8px,#e0694f 13.3px,#d85e50 13.8px,#cf5052 14.3px,#c13f51 14.8px,#bb384f 15px,#b22e4c 15.3px,#ac274a 18px,#ac274a 24px,#ae2a4b 27px,#b4314d 30px,#b4314d 45px)"></div>
<div style="height:2px;background:linear-gradient(90deg,#b02c4c 0px,#b02c4c 6px,#b6334e 8.3px,#c13f51 8.8px,#c74553 9px,#cc4d52 9.3px,#d55951 9.8px,#db6250 10.3px,#f6be7a 10.8px,#fdf5b9 11.3px,#fdf5b9 12.3px,#f6be7a 12.8px,#db6250 13.3px,#d55951 13.8px,#cb4b52 14.3px,#bb384f 14.8px,#b4314d 15px,#ae2a4b 15.3px,#a72249 18px,#a72249 24px,#a92549 27px,#ae2a4b 30px,#ae2a4b 45px)"></div>
<div style="height:2px;background:linear-gradient(90deg,#b22e4c 0px,#b22e4c 6px,#b8354e 8.3px,#c34152 8.8px,#c84753 9px,#cd4e52 9.3px,#d75d50 9.8px,#dd664f 10.3px,#f6c27d 10.8px,#fdf9be 11.3px,#fdf9be 12.3px,#f6c27d 12.8px,#dd664f 13.3px,#d65b51 13.8px,#cc4d52 14.3px,#bd3a50 14.8px,#b6334e 15px,#b02c4c 15.3px,#a92549 18px,#a92549 27px,#b02c4c 30px,#b02c4c 45px)"></div>
<div style="height:2px;background:linear-gradient(90deg,#b22e4c 0px,#b22e4c 6px,#b8354e 8.3px,#c34152 8.8px,#c84753 9px,#cf5052 9.3px,#d75d50 9.8px,#dd664f 10.3px,#f6c07c 10.8px,#fdf9be 11.3px,#fdf9be 12.3px,#f6c07c 12.8px,#dd664f 13.3px,#d65b51 13.8px,#cc4d52 14.3px,#bf3c51 14.8px,#b8354e 15px,#b02c4c 15.3px,#a92549 18px,#a92549 27px,#b02c4c 30px,#b02c4c 45px)"></div>
<div style="height:2px;background:linear-gradient(90deg,#b02c4c 0px,#b02c4c 6px,#b4314d 8.3px,#c13f51 8.8px,#c74553 9px,#cc4d52 9.3px,#d55951 9.8px,#db6250 10.3px,#f5b975 10.8px,#fcf3b5 11.3px,#fcf3b5 12.3px,#f5b975 12.8px,#db6250 13.3px,#d55951 13.8px,#cb4b52 14.3px,#bb384f 14.8px,#b4314d 15px,#ae2a4b 15.3px,#a72249 18px,#a72249 27px,#ac274a 30px,#ac274a 45px)"></div>
<div style="height:2px;background:linear-gradient(90deg,#b02c4c 0px,#b02c4c 6px,#b6334e 8.3px,#c13f51 8.8px,#c74553 9px,#cc4d52 9.3px,#d55951 9.8px,#db6250 10.3px,#f5b975 10.8px,#fcf3b5 11.3px,#fcf3b5 12.3px,#f5b975 12.8px,#db6250 13.3px,#d55951 13.8px,#cb4b52 14.3px,#bd3a50 14.8px,#b6334e 15px,#ae2a4b 15.3px,#a72249 18px,#a72249 24px,#a92549 27px,#ac274a 30px,#ac274a 45px)"></div>
<div style="height:2px;background:linear-gradient(90deg,#b02c4c 0px,#b02c4c 6px,#b4314d 8.3px,#c13f51 8.8px,#c74553 9px,#cc4d52 9.3px,#d55951 9.8px,#db6250 10.3px,#f5b975 10.8px,#fcf3b5 11.3px,#fcf3b5 12.3px,#f5b975 12.8px,#db6250 13.3px,#d55951 13.8px,#cb4b52 14.3px,#bd3a50 14.8px,#b6334e 15px,#ae2a4b 15.3px,#a72249 18px,#a72249 27px,#ac274a 30px,#ac274a 45px)"></div>
<div style="height:2px;background:linear-gradient(90deg,#b02c4c 0px,#b02c4c 6px,#b4314d 8.3px,#c13f51 8.8px,#c74553 9px,#cc4d52 9.3px,#d55951 9.8px,#db6250 10.3px,#f5b572 10.8px,#fcf2b3 11.3px,#fcf2b3 12.3px,#f5b572 12.8px,#db6250 13.3px,#d55951 13.8px,#cb4b52 14.3px,#bb384f 14.8px,#b4314d 15px,#ae2a4b 15.3px,#a72249 18px,#a72249 27px,#a92549 30px,#a92549 45px)"></div>
<div style="height:2px;background:linear-gradient(90deg,#b02c4c 0px,#b02c4c 6px,#b4314d 8.3px,#c13f51 8.8px,#c54353 9px,#cc4d52 9.3px,#d55951 9.8px,#db6250 10.3px,#f4b370 10.8px,#fcf0b1 11.3px,#fcf0b1 12.3px,#f4b370 12.8px,#db6250 13.3px,#d35751 13.8px,#ca4953 14.3px,#bb384f 14.8px,#b4314d 15px,#ae2a4b 15.3px,#a72249 18px,#a72249 27px,#a92549 30px,#a92549 45px)"></div>
<div style="height:2px;background:linear-gradient(90deg,#ae2a4b 0px,#ae2a4b 6px,#b4314d 8.3px,#bf3c51 8.8px,#c54353 9px,#cb4b52 9.3px,#d35751 9.8px,#da6050 10.3px,#f4b16f 10.8px,#fcefaf 11.3px,#fcefaf 12.3px,#f4b16f 12.8px,#da6050 13.3px,#d35751 13.8px,#ca4953 14.3px,#bb384f 14.8px,#b4314d 15px,#ac274a 15.3px,#a72249 18px,#a72249 27px,#a92549 30px,#a92549 45px)"></div>
<div style="height:2px;background:linear-gradient(90deg,#ae2a4b 0px,#ae2a4b 6px,#b4314d 8.3px,#bf3c51 8.8px,#c54353 9px,#cb4b52 9.3px,#d35751 9.8px,#da6050 10.3px,#f4af6d 10.8px,#fcefaf 11.3px,#fcefaf 12.3px,#f4af6d 12.8px,#da6050 13.3px,#d35751 13.8px,#ca4953 14.3px,#bb384f 14.8px,#b4314d 15px,#ac274a 15.3px,#a72249 18px,#a72249 45px)"></div>
<div style="height:2px;background:linear-gradient(90deg,#ae2a4b 0px,#ae2a4b 6px,#b22e4c 8.3px,#bd3a50 8.8px,#c34152 9px,#ca4953 9.3px,#d25651 9.8px,#d75d50 10.3px,#f3aa6b 10.8px,#fbecaa 11.3px,#fbecaa 12.3px,#f3aa6b 12.8px,#d75d50 13.3px,#d15451 13.8px,#c84753 14.3px,#b8354e 14.8px,#b22e4c 15px,#ac274a 15.3px,#a52048 18px,#a52048 45px)"></div>
<div style="height:2px;background:linear-gradient(90deg,#ae2a4b 0px,#ae2a4b 6px,#b22e4c 8.3px,#bf3c51 8.8px,#c54353 9px,#cb4b52 9.3px,#d35751 9.8px,#d85e50 10.3px,#f3ac6c 10.8px,#fceead 11.3px,#fceead 12.3px,#f3ac6c 12.8px,#d85e50 13.3px,#d25651 13.8px,#ca4953 14.3px,#bb384f 14.8px,#b4314d 15px,#ac274a 15.3px,#a72249 18px,#a72249 45px)"></div>
<div style="height:2px;background:linear-gradient(90deg,#ac274a 0px,#ac274a 6px,#b02c4c 8.3px,#bb384f 8.8px,#c13f51 9px,#c84753 9.3px,#d15451 9.8px,#d65b51 10.3px,#f1a367 10.8px,#fbe8a4 11.3px,#fbe8a4 12.3px,#f1a367 12.8px,#d65b51 13.3px,#d05252 13.8px,#c74553 14.3px,#b6334e 14.8px,#b22e4c 15px,#a92549 15.3px,#a52048 18px,#a52048 45px)"></div>
<div style="height:2px;background:linear-gradient(90deg,#ac274a 0px,#ac274a 6px,#b22e4c 8.3px,#bd3a50 8.8px,#c34152 9px,#ca4953 9.3px,#d25651 9.8px,#d75d50 10.3px,#f2a568 10.8px,#fbeba8 11.3px,#fbeba8 12.3px,#f2a568 12.8px,#d75d50 13.3px,#d15451 13.8px,#c84753 14.3px,#b8354e 14.8px,#b22e4c 15px,#ac274a 15.3px,#a52048 18px,#a52048 45px)"></div>
<div style="height:2px;background:linear-gradient(90deg,#ac274a 0px,#ac274a 6px,#b02c4c 8.3px,#bb384f 8.8px,#c13f51 9px,#c84753 9.3px,#d05252 9.8px,#d65b51 10.3px,#ef9b63 10.8px,#fbe6a0 11.3px,#fbe6a0 12.3px,#ef9b63 12.8px,#d65b51 13.3px,#d05252 13.8px,#c74553 14.3px,#b6334e 14.8px,#b02c4c 15px,#a92549 15.3px,#a52048 18px,#a52048 45px)"></div>
<div style="height:2px;background:linear-gradient(90deg,#ac274a 0px,#ac274a 6px,#b02c4c 8.3px,#bb384f 8.8px,#c13f51 9px,#c84753 9.3px,#d05252 9.8px,#d65b51 10.3px,#ef9b63 10.8px,#fbe6a0 11.3px,#fbe6a0 12.3px,#ef9b63 12.8px,#d65b51 13.3px,#d05252 13.8px,#c74553 14.3px,#b6334e 14.8px,#b22e4c 15px,#a92549 15.3px,#a52048 18px,#a52048 45px)"></div>
<div style="height:2px;background:linear-gradient(90deg,#ac274a 0px,#ac274a 6px,#b02c4c 8.3px,#bb384f 8.8px,#c13f51 9px,#c84753 9.3px,#d05252 9.8px,#d65b51 10.3px,#ef9b63 10.8px,#fbe6a0 11.3px,#fbe6a0 12.3px,#ef9b63 12.8px,#d65b51 13.3px,#d05252 13.8px,#c74553 14.3px,#b8354e 14.8px,#b22e4c 15px,#ac274a 15.3px,#a52048 18px,#a52048 45px)"></div>
<div style="height:2px;background:linear-gradient(90deg,#a92549 0px,#a92549 6px,#ae2a4b 8.3px,#b8354e 8.8px,#bf3c51 9px,#c74553 9.3px,#cf5052 9.8px,#d55951 10.3px,#ee945f 10.8px,#fae29b 11.3px,#fae29b 12.3px,#ee945f 12.8px,#d55951 13.3px,#cf5052 13.8px,#c54353 14.3px,#b6334e 14.8px,#b02c4c 15px,#a92549 15.3px,#a52048 18px,#a52048 45px)"></div>
<div style="height:2px;background:linear-gradient(90deg,#a92549 0px,#a92549 6px,#ae2a4b 8.3px,#b8354e 8.8px,#bd3a50 9px,#c54353 9.3px,#cf5052 9.8px,#d35751 10.3px,#ed8f5d 10.8px,#f9de95 11.3px,#f9de95 12.3px,#ed8f5d 12.8px,#d35751 13.3px,#cd4e52 13.8px,#c54353 14.3px,#b4314d 14.8px,#b02c4c 15px,#a92549 15.3px,#a31e47 18px,#a31e47 45px)"></div>
<div style="height:2px;background:linear-gradient(90deg,#a92549 0px,#a92549 6px,#ae2a4b 8.3px,#b8354e 8.8px,#bd3a50 9px,#c54353 9.3px,#cd4e52 9.8px,#d25651 10.3px,#ec8d5c 10.8px,#f9dc94 11.3px,#f9dc94 12.3px,#ec8d5c 12.8px,#d25651 13.3px,#cd4e52 13.8px,#c34152 14.3px,#b4314d 14.8px,#b02c4c 15px,#a92549 15.3px,#a31e47 18px,#a31e47 45px)"></div>
<div style="height:2px;background:linear-gradient(90deg,#a92549 0px,#a92549 6px,#ae2a4b 8.3px,#b8354e 8.8px,#bd3a50 9px,#c54353 9.3px,#cd4e52 9.8px,#d35751 10.3px,#ec8d5c 10.8px,#f9dc94 11.3px,#f9dc94 12.3px,#ec8d5c 12.8px,#d35751 13.3px,#cd4e52 13.8px,#c34152 14.3px,#b4314d 14.8px,#b02c4c 15px,#a92549 15.3px,#a52048 18px,#a52048 45px)"></div>
<div style="height:2px;background:linear-gradient(90deg,#a92549 0px,#a92549 6px,#ae2a4b 8.3px,#b8354e 8.8px,#bd3a50 9px,#c54353 9.3px,#cd4e52 9.8px,#d25651 10.3px,#ec8a5a 10.8px,#f9da92 11.3px,#f9da92 12.3px,#ec8a5a 12.8px,#d25651 13.3px,#cd4e52 13.8px,#c34152 14.3px,#b4314d 14.8px,#b02c4c 15px,#a92549 15.3px,#a52048 18px,#a52048 45px)"></div>
<div style="height:2px;background:linear-gradient(90deg,#ac274a 0px,#ac274a 6px,#b02c4c 8.3px,#bb384f 8.8px,#bf3c51 9px,#c74553 9.3px,#cf5052 9.8px,#d55951 10.3px,#ed8f5d 10.8px,#f9de95 11.3px,#f9de95 12.3px,#ed8f5d 12.8px,#d55951 13.3px,#cf5052 13.8px,#c54353 14.3px,#b6334e 14.8px,#b22e4c 15px,#ac274a 15.3px,#a52048 18px,#a52048 45px)"></div>
<div style="height:2px;background:linear-gradient(90deg,#a92549 0px,#a92549 6px,#ae2a4b 8.3px,#b6334e 8.8px,#bd3a50 9px,#c34152 9.3px,#cc4d52 9.8px,#d15451 10.3px,#ea8558 10.8px,#f8d58d 11.3px,#f8d58d 12.3px,#ea8558 12.8px,#d15451 13.3px,#cc4d52 13.8px,#c34152 14.3px,#b4314d 14.8px,#ae2a4b 15px,#a92549 15.3px,#a31e47 18px,#a31e47 45px)"></div>
<div style="height:2px;background:linear-gradient(90deg,#a92549 0px,#a92549 6px,#ae2a4b 8.3px,#b8354e 8.8px,#bd3a50 9px,#c54353 9.3px,#cd4e52 9.8px,#d25651 10.3px,#ea8558 10.8px,#f8d58d 11.3px,#f8d58d 12.3px,#ea8558 12.8px,#d25651 13.3px,#cc4d52 13.8px,#c34152 14.3px,#b4314d 14.8px,#b02c4c 15px,#a92549 15.3px,#a52048 18px,#a52048 45px)"></div>
<div style="height:2px;background:linear-gradient(90deg,#a72249 0px,#a72249 6px,#ac274a 8.3px,#b6334e 8.8px,#bb384f 9px,#c34152 9.3px,#cc4d52 9.8px,#d15451 10.3px,#e98155 10.8px,#f8d18a 11.3px,#f8d18a 12.3px,#e98155 12.8px,#d15451 13.3px,#cc4d52 13.8px,#c13f51 14.3px,#b4314d 14.8px,#ae2a4b 15px,#a72249 15.3px,#a31e47 18px,#a31e47 45px)"></div>
<div style="height:2px;background:linear-gradient(90deg,#a92549 0px,#a92549 6px,#ae2a4b 8.3px,#b8354e 8.8px,#bd3a50 9px,#c54353 9.3px,#cc4d52 9.8px,#d15451 10.3px,#ea8357 10.8px,#f8d38c 11.3px,#f8d38c 12.3px,#ea8357 12.8px,#d15451 13.3px,#cc4d52 13.8px,#c34152 14.3px,#b4314d 14.8px,#b02c4c 15px,#a92549 15.3px,#a52048 18px,#a52048 45px)"></div>
<div style="height:2px;background:linear-gradient(90deg,#a72249 0px,#a72249 6px,#ac274a 8.3px,#b4314d 8.8px,#b8354e 9px,#c13f51 9.3px,#ca4953 9.8px,#cf5052 10.3px,#e87952 10.8px,#f7c882 11.3px,#f7c984 11.8px,#f7c984 12px,#f7c882 12.3px,#e87952 12.8px,#cf5052 13.3px,#ca4953 13.8px,#bf3c51 14.3px,#b22e4c 14.8px,#ae2a4b 15px,#a72249 15.3px,#a31e47 18px,#a31e47 45px)"></div>
<div style="height:2px;background:linear-gradient(90deg,#a52048 0px,#a52048 6px,#a92549 8.3px,#b22e4c 8.8px,#b8354e 9px,#bf3c51 9.3px,#c84753 9.8px,#cd4e52 10.3px,#e7744f 10.8px,#f6c47f 11.3px,#f6c47f 12.3px,#e7744f 12.8px,#cd4e52 13.3px,#c84753 13.8px,#bd3a50 14.3px,#b02c4c 14.8px,#ac274a 15px,#a52048 15.3px,#a11b46 18px,#a11b46 45px)"></div>
<div style="height:2px;background:linear-gradient(90deg,#a72249 0px,#a72249 6px,#a92549 8.3px,#b4314d 8.8px,#b8354e 9px,#bf3c51 9.3px,#ca4953 9.8px,#cd4e52 10.3px,#e7744f 10.8px,#f7c680 11.3px,#f7c680 12.3px,#e7744f 12.8px,#cd4e52 13.3px,#c84753 13.8px,#bf3c51 14.3px,#b22e4c 14.8px,#ac274a 15px,#a72249 15.3px,#a31e47 18px,#a31e47 45px)"></div>
<div style="height:2px;background:linear-gradient(90deg,#a72249 0px,#a72249 6px,#ac274a 8.3px,#b6334e 8.8px,#bb384f 9px,#c13f51 9.3px,#cb4b52 9.8px,#d05252 10.3px,#e87952 10.8px,#f7c984 11.3px,#f7cb85 11.8px,#f7cb85 12px,#f7c984 12.3px,#e87952 12.8px,#d05252 13.3px,#cb4b52 13.8px,#c13f51 14.3px,#b4314d 14.8px,#ae2a4b 15px,#a92549 15.3px,#a52048 18px,#a52048 45px)"></div>
<div style="height:2px;background:linear-gradient(90deg,#a72249 0px,#a72249 6px,#ac274a 8.3px,#b4314d 8.8px,#bb384f 9px,#c13f51 9.3px,#ca4953 9.8px,#cf5052 10.3px,#e77750 10.8px,#f7c882 11.3px,#f7c882 12.3px,#e77750 12.8px,#cf5052 13.3px,#ca4953 13.8px,#bf3c51 14.3px,#b22e4c 14.8px,#ae2a4b 15px,#a72249 15.3px,#a31e47 18px,#a31e47 45px)"></div>
<div style="height:2px;background:linear-gradient(90deg,#a72249 0px,#a72249 6px,#ac274a 8.3px,#b4314d 8.8px,#b8354e 9px,#bf3c51 9.3px,#ca4953 9.8px,#cd4e52 10.3px,#e6724e 10.8px,#f6c47f 11.3px,#f6c47f 12.3px,#e6724e 12.8px,#cd4e52 13.3px,#c84753 13.8px,#bf3c51 14.3px,#b22e4c 14.8px,#ae2a4b 15px,#a72249 15.3px,#a31e47 18px,#a31e47 45px)"></div>
<div style="height:2px;background:linear-gradient(90deg,#a72249 0px,#a72249 6px,#ac274a 8.3px,#b4314d 8.8px,#b8354e 9px,#bf3c51 9.3px,#c84753 9.8px,#cd4e52 10.3px,#e6724e 10.8px,#f6c47f 11.3px,#f6c47f 12.3px,#e6724e 12.8px,#cd4e52 13.3px,#c84753 13.8px,#bf3c51 14.3px,#b22e4c 14.8px,#ae2a4b 15px,#a72249 15.3px,#a31e47 18px,#a31e47 45px)"></div>
<div style="height:2px;background:linear-gradient(90deg,#a72249 0px,#a72249 6px,#ac274a 8.3px,#b4314d 8.8px,#b8354e 9px,#bf3c51 9.3px,#c84753 9.8px,#cd4e52 10.3px,#e5704e 10.8px,#f6c27d 11.3px,#f6c27d 12.3px,#e5704e 12.8px,#cd4e52 13.3px,#c84753 13.8px,#bf3c51 14.3px,#b22e4c 14.8px,#ae2a4b 15px,#a72249 15.3px,#a31e47 18px,#a31e47 45px)"></div>
<div style="height:2px;background:linear-gradient(90deg,#a52048 0px,#a52048 6px,#a92549 8.3px,#b22e4c 8.8px,#b6334e 9px,#bd3a50 9.3px,#c74553 9.8px,#cc4d52 10.3px,#e26d4e 10.8px,#f5bc78 11.3px,#f5bc78 12.3px,#e26d4e 12.8px,#cc4d52 13.3px,#c74553 13.8px,#bd3a50 14.3px,#b02c4c 14.8px,#ac274a 15px,#a52048 15.3px,#a31e47 18px,#a31e47 45px)"></div>
<div style="height:2px;background:linear-gradient(90deg,#a52048 0px,#a52048 6px,#a72249 8.3px,#b02c4c 8.8px,#b4314d 9px,#bb384f 9.3px,#c54353 9.8px,#ca4953 10.3px,#e0694f 10.8px,#f5b773 11.3px,#f5b975 11.8px,#f5b975 12px,#f5b773 12.3px,#e0694f 12.8px,#ca4953 13.3px,#c54353 13.8px,#bb384f 14.3px,#ae2a4b 14.8px,#a92549 15px,#a52048 15.3px,#a11b46 18px,#a11b46 45px)"></div>
<div style="height:2px;background:linear-gradient(90deg,#a52048 0px,#a52048 6px,#a92549 8.3px,#b22e4c 8.8px,#b4314d 9px,#bd3a50 9.3px,#c54353 9.8px,#cb4b52 10.3px,#e0694f 10.8px,#f5b975 11.3px,#f5b975 12.3px,#e0694f 12.8px,#cb4b52 13.3px,#c54353 13.8px,#bb384f 14.3px,#b02c4c 14.8px,#ac274a 15px,#a52048 15.3px,#a11b46 18px,#a11b46 45px)"></div>
<div style="height:2px;background:linear-gradient(90deg,#a31e47 0px,#a31e47 6px,#a72249 8.3px,#b02c4c 8.8px,#b4314d 9px,#bb384f 9.3px,#c34152 9.8px,#c84753 10.3px,#dd664f 10.8px,#f4b370 11.3px,#f5b572 11.8px,#f5b572 12px,#f4b370 12.3px,#dd664f 12.8px,#c84753 13.3px,#c34152 13.8px,#b8354e 14.3px,#ae2a4b 14.8px,#a92549 15px,#a52048 15.3px,#a11b46 18px,#a11b46 45px)"></div>
<div style="height:2px;background:linear-gradient(90deg,#a52048 0px,#a52048 6px,#a92549 8.3px,#b22e4c 8.8px,#b6334e 9px,#bd3a50 9.3px,#c74553 9.8px,#cb4b52 10.3px,#e0694f 10.8px,#f5b975 11.3px,#f5ba77 11.8px,#f5ba77 12px,#f5b975 12.3px,#e0694f 12.8px,#cb4b52 13.3px,#c54353 13.8px,#bb384f 14.3px,#b02c4c 14.8px,#ac274a 15px,#a72249 15.3px,#a31e47 18px,#a31e47 45px)"></div>
<div style="height:2px;background:linear-gradient(90deg,#a52048 0px,#a52048 6px,#a92549 8.3px,#b22e4c 8.8px,#b6334e 9px,#bd3a50 9.3px,#c74553 9.8px,#cb4b52 10.3px,#e0694f 10.8px,#f5b975 11.3px,#f5ba77 11.8px,#f5ba77 12px,#f5b975 12.3px,#e0694f 12.8px,#cb4b52 13.3px,#c74553 13.8px,#bb384f 14.3px,#b02c4c 14.8px,#ac274a 15px,#a72249 15.3px,#a31e47 18px,#a31e47 45px)"></div>
<div style="height:2px;background:linear-gradient(90deg,#a52048 0px,#a52048 6px,#a72249 8.3px,#b02c4c 8.8px,#b4314d 9px,#bb384f 9.3px,#c34152 9.8px,#c84753 10.3px,#dc6450 10.8px,#f4b16f 11.3px,#f4b370 11.8px,#f4b370 12px,#f4b16f 12.3px,#dc6450 12.8px,#c84753 13.3px,#c34152 13.8px,#b8354e 14.3px,#ae2a4b 14.8px,#a92549 15px,#a52048 15.3px,#a11b46 18px,#a11b46 45px)"></div>
<div style="height:2px;background:linear-gradient(90deg,#a31e47 0px,#a31e47 6px,#a72249 8.3px,#ae2a4b 8.8px,#b22e4c 9px,#b8354e 9.3px,#c13f51 9.8px,#c74553 10.3px,#db6250 10.8px,#f3ac6c 11.3px,#f4af6d 11.8px,#f4af6d 12px,#f3ac6c 12.3px,#db6250 12.8px,#c74553 13.3px,#c13f51 13.8px,#b8354e 14.3px,#ae2a4b 14.8px,#a92549 15px,#a52048 15.3px,#a11b46 18px,#a11b46 45px)"></div>
<div style="height:2px;background:linear-gradient(90deg,#a52048 0px,#a52048 6px,#a92549 8.3px,#b22e4c 8.8px,#b4314d 9px,#bb384f 9.3px,#c54353 9.8px,#ca4953 10.3px,#dd664f 10.8px,#f4b370 11.3px,#f5b572 11.8px,#f5b572 12px,#f4b370 12.3px,#dd664f 12.8px,#ca4953 13.3px,#c54353 13.8px,#bb384f 14.3px,#b02c4c 14.8px,#ac274a 15px,#a72249 15.3px,#a31e47 18px,#a31e47 45px)"></div>
<div style="height:2px;background:linear-gradient(90deg,#a52048 0px,#a52048 6px,#a72249 8.3px,#b02c4c 8.8px,#b22e4c 9px,#b8354e 9.3px,#c34152 9.8px,#c84753 10.3px,#db6250 10.8px,#f3ac6c 11.3px,#f4af6d 11.8px,#f4af6d 12px,#f3ac6c 12.3px,#db6250 12.8px,#c84753 13.3px,#c34152 13.8px,#b8354e 14.3px,#ae2a4b 14.8px,#a92549 15px,#a52048 15.3px,#a11b46 18px,#a11b46 45px)"></div>
<div style="height:2px;background:linear-gradient(90deg,#a52048 0px,#a52048 6px,#a72249 8.3px,#b02c4c 8.8px,#b22e4c 9px,#b8354e 9.3px,#c34152 9.8px,#c84753 10.3px,#da6050 10.8px,#f3ac6c 11.3px,#f4af6d 11.8px,#f4af6d 12px,#f3ac6c 12.3px,#da6050 12.8px,#c84753 13.3px,#c13f51 13.8px,#b8354e 14.3px,#ae2a4b 14.8px,#a92549 15px,#a52048 15.3px,#a31e47 18px,#a31e47 45px)"></div>
<div style="height:2px;background:linear-gradient(90deg,#a52048 0px,#a52048 6px,#a72249 8.3px,#b02c4c 8.8px,#b22e4c 9px,#b8354e 9.3px,#c13f51 9.8px,#c74553 10.3px,#da6050 10.8px,#f3aa6b 11.3px,#f3ac6c 11.8px,#f3ac6c 12px,#f3aa6b 12.3px,#da6050 12.8px,#c74553 13.3px,#c13f51 13.8px,#b8354e 14.3px,#ae2a4b 14.8px,#a92549 15px,#a52048 15.3px,#a31e47 18px,#a31e47 45px)"></div>
<div style="height:2px;background:linear-gradient(90deg,#a31e47 0px,#a31e47 6px,#a72249 8.3px,#ae2a4b 8.8px,#b22e4c 9px,#b6334e 9.3px,#bf3c51 9.8px,#c54353 10.3px,#d75d50 10.8px,#f2a568 11.3px,#f2a869 11.8px,#f2a869 12px,#f2a568 12.3px,#d75d50 12.8px,#c54353 13.3px,#bf3c51 13.8px,#b6334e 14.3px,#ac274a 14.8px,#a92549 15px,#a52048 15.3px,#a11b46 18px,#a11b46 45px)"></div>
<div style="height:2px;background:linear-gradient(90deg,#a52048 0px,#a52048 6px,#a92549 8.3px,#b02c4c 8.8px,#b4314d 9px,#b8354e 9.3px,#c13f51 9.8px,#c74553 10.3px,#d85e50 10.8px,#f2a869 11.3px,#f3ac6c 11.8px,#f3ac6c 12px,#f2a869 12.3px,#d85e50 12.8px,#c74553 13.3px,#c13f51 13.8px,#b8354e 14.3px,#ae2a4b 14.8px,#ac274a 15px,#a52048 15.3px,#a31e47 18px,#a31e47 45px)"></div>
<div style="height:2px;background:linear-gradient(90deg,#a52048 0px,#a52048 6px,#a72249 8.3px,#ae2a4b 8.8px,#b22e4c 9px,#b8354e 9.3px,#c13f51 9.8px,#c54353 10.3px,#d75d50 10.8px,#f1a367 11.3px,#f2a869 11.8px,#f2a869 12px,#f1a367 12.3px,#d75d50 12.8px,#c54353 13.3px,#bf3c51 13.8px,#b6334e 14.3px,#ae2a4b 14.8px,#a92549 15px,#a52048 15.3px,#a31e47 18px,#a31e47 45px)"></div>
<div style="height:2px;background:linear-gradient(90deg,#a52048 0px,#a52048 6px,#a72249 8.3px,#b02c4c 8.8px,#b22e4c 9px,#b8354e 9.3px,#c13f51 9.8px,#c74553 10.3px,#d75d50 10.8px,#f2a568 11.3px,#f2a869 11.8px,#f2a869 12px,#f2a568 12.3px,#d75d50 12.8px,#c74553 13.3px,#c13f51 13.8px,#b8354e 14.3px,#ae2a4b 14.8px,#a92549 15px,#a52048 15.3px,#a31e47 18px,#a31e47 45px)"></div>
<div style="height:2px;background:linear-gradient(90deg,#a31e47 0px,#a31e47 6px,#a72249 8.3px,#ae2a4b 8.8px,#b02c4c 9px,#b6334e 9.3px,#bf3c51 9.8px,#c34152 10.3px,#d55951 10.8px,#f09e64 11.3px,#f0a066 11.8px,#f0a066 12px,#f09e64 12.3px,#d55951 12.8px,#c34152 13.3px,#bf3c51 13.8px,#b6334e 14.3px,#ac274a 14.8px,#a92549 15px,#a52048 15.3px,#a11b46 18px,#a11b46 45px)"></div>
<div style="height:2px;background:linear-gradient(90deg,#a31e47 0px,#a31e47 6px,#a72249 8.3px,#ae2a4b 8.8px,#b02c4c 9px,#b6334e 9.3px,#bf3c51 9.8px,#c34152 10.3px,#d35751 10.8px,#ef9b63 11.3px,#f0a066 11.8px,#f0a066 12px,#ef9b63 12.3px,#d35751 12.8px,#c34152 13.3px,#bd3a50 13.8px,#b4314d 14.3px,#ac274a 14.8px,#a92549 15px,#a52048 15.3px,#a11b46 18px,#a11b46 45px)"></div>
<div style="height:2px;background:linear-gradient(90deg,#a31e47 0px,#a31e47 6px,#a52048 8.3px,#ac274a 8.8px,#b02c4c 9px,#b4314d 9.3px,#bd3a50 9.8px,#c13f51 10.3px,#d25651 10.8px,#ee9761 11.3px,#ef9962 11.8px,#ef9962 12px,#ee9761 12.3px,#d25651 12.8px,#c13f51 13.3px,#bd3a50 13.8px,#b4314d 14.3px,#ac274a 14.8px,#a72249 15px,#a31e47 15.3px,#a11b46 18px,#a11b46 45px)"></div>
<div style="height:2px;background:linear-gradient(90deg,#a52048 0px,#a52048 6px,#a72249 8.3px,#ae2a4b 8.8px,#b02c4c 9px,#b4314d 9.3px,#bd3a50 9.8px,#c34152 10.3px,#d25651 10.8px,#ee9761 11.3px,#ef9b63 11.8px,#ef9b63 12px,#ee9761 12.3px,#d25651 12.8px,#c34152 13.3px,#bd3a50 13.8px,#b4314d 14.3px,#ac274a 14.8px,#a92549 15px,#a52048 15.3px,#a31e47 18px,#a31e47 45px)"></div>
<div style="height:2px;background:linear-gradient(90deg,#a31e47 0px,#a31e47 6px,#a52048 8.3px,#ac274a 8.8px,#ae2a4b 9px,#b22e4c 9.3px,#bb384f 9.8px,#bf3c51 10.3px,#d05252 10.8px,#ed8f5d 11.3px,#ee945f 11.8px,#ee945f 12px,#ed8f5d 12.3px,#d05252 12.8px,#bf3c51 13.3px,#bb384f 13.8px,#b22e4c 14.3px,#a92549 14.8px,#a72249 15px,#a31e47 15.3px,#a11b46 18px,#a11b46 45px)"></div>
<div style="height:2px;background:linear-gradient(90deg,#a31e47 0px,#a31e47 6px,#a52048 8.3px,#ac274a 8.8px,#b02c4c 9px,#b4314d 9.3px,#bb384f 9.8px,#c13f51 10.3px,#d05252 10.8px,#ed925e 11.3px,#ee9761 11.8px,#ee9761 12px,#ed925e 12.3px,#d05252 12.8px,#c13f51 13.3px,#bb384f 13.8px,#b22e4c 14.3px,#ac274a 14.8px,#a72249 15px,#a52048 15.3px,#a11b46 18px,#a11b46 45px)"></div>
<div style="height:2px;background:linear-gradient(90deg,#a31e47 0px,#a31e47 6px,#a72249 8.3px,#ac274a 8.8px,#b02c4c 9px,#b4314d 9.3px,#bb384f 9.8px,#bf3c51 10.3px,#d05252 10.8px,#ed925e 11.3px,#ee945f 11.8px,#ee945f 12px,#ed925e 12.3px,#d05252 12.8px,#bf3c51 13.3px,#bb384f 13.8px,#b22e4c 14.3px,#ac274a 14.8px,#a72249 15px,#a52048 15.3px,#a11b46 18px,#a11b46 45px)"></div>
<div style="height:2px;background:linear-gradient(90deg,#a31e47 0px,#a31e47 6px,#a72249 8.3px,#ac274a 8.8px,#b02c4c 9px,#b4314d 9.3px,#bb384f 9.8px,#bf3c51 10.3px,#d05252 10.8px,#ed8f5d 11.3px,#ee945f 11.8px,#ee945f 12px,#ed8f5d 12.3px,#d05252 12.8px,#bf3c51 13.3px,#bb384f 13.8px,#b22e4c 14.3px,#ac274a 14.8px,#a72249 15px,#a52048 15.3px,#a31e47 18px,#a31e47 45px)"></div>
<div style="height:2px;background:linear-gradient(90deg,#a31e47 0px,#a31e47 6px,#a52048 8.3px,#ac274a 8.8px,#ae2a4b 9px,#b22e4c 9.3px,#bb384f 9.8px,#bf3c51 10.3px,#cf5052 10.8px,#ec8d5c 11.3px,#ed925e 11.8px,#ed925e 12px,#ec8d5c 12.3px,#cf5052 12.8px,#bf3c51 13.3px,#bb384f 13.8px,#b22e4c 14.3px,#ac274a 14.8px,#a72249 15px,#a52048 15.3px,#a31e47 18px,#a31e47 45px)"></div>
<div style="height:2px;background:linear-gradient(90deg,#a31e47 0px,#a31e47 6px,#a52048 8.3px,#ac274a 8.8px,#ae2a4b 9px,#b22e4c 9.3px,#bb384f 9.8px,#bf3c51 10.3px,#cd4e52 10.8px,#ec8a5a 11.3px,#ed8f5d 11.8px,#ed8f5d 12px,#ec8a5a 12.3px,#cd4e52 12.8px,#bf3c51 13.3px,#b8354e 13.8px,#b22e4c 14.3px,#ac274a 14.8px,#a72249 15px,#a52048 15.3px,#a31e47 18px,#a31e47 45px)"></div>
<div style="height:2px;background:linear-gradient(90deg,#a31e47 0px,#a31e47 6px,#a52048 8.3px,#a92549 8.8px,#ac274a 9px,#b02c4c 9.3px,#b6334e 9.8px,#bb384f 10.3px,#cb4b52 10.8px,#e98155 11.3px,#ea8558 11.8px,#ea8558 12px,#e98155 12.3px,#cb4b52 12.8px,#bb384f 13.3px,#b6334e 13.8px,#b02c4c 14.3px,#a92549 14.8px,#a52048 15px,#a31e47 15.3px,#a11b46 18px,#a11b46 45px)"></div>
<div style="height:2px;background:linear-gradient(90deg,#a31e47 0px,#a31e47 6px,#a52048 8.3px,#a92549 8.8px,#ac274a 9px,#b02c4c 9.3px,#b6334e 9.8px,#bb384f 10.3px,#ca4953 10.8px,#e97e54 11.3px,#ea8357 11.8px,#ea8357 12px,#e97e54 12.3px,#ca4953 12.8px,#bb384f 13.3px,#b6334e 13.8px,#b02c4c 14.3px,#a72249 14.8px,#a52048 15px,#a31e47 15.3px,#a11b46 18px,#a11b46 45px)"></div>
<div style="height:2px;background:linear-gradient(90deg,#a31e47 0px,#a31e47 6px,#a52048 8.3px,#a92549 8.8px,#ac274a 9px,#b02c4c 9.3px,#b6334e 9.8px,#bb384f 10.3px,#cb4b52 10.8px,#e97e54 11.3px,#ea8357 11.8px,#ea8357 12px,#e97e54 12.3px,#cb4b52 12.8px,#bb384f 13.3px,#b6334e 13.8px,#b02c4c 14.3px,#a92549 14.8px,#a72249 15px,#a31e47 15.3px,#a11b46 18px,#a11b46 45px)"></div>
<div style="height:2px;background:linear-gradient(90deg,#a11b46 0px,#a11b46 6px,#a31e47 8.3px,#a72249 8.8px,#ac274a 9px,#ae2a4b 9.3px,#b4314d 9.8px,#b8354e 10.3px,#c84753 10.8px,#e77750 11.3px,#e87c53 11.8px,#e87c53 12px,#e77750 12.3px,#c84753 12.8px,#b8354e 13.3px,#b4314d 13.8px,#ae2a4b 14.3px,#a72249 14.8px,#a52048 15px,#a31e47 15.3px,#a11b46 18px,#a11b46 45px)"></div>
<div style="height:2px;background:linear-gradient(90deg,#a11b46 0px,#a11b46 6px,#a31e47 8.3px,#a92549 8.8px,#ac274a 9px,#ae2a4b 9.3px,#b4314d 9.8px,#b8354e 10.3px,#c84753 10.8px,#e7744f 11.3px,#e87952 11.8px,#e87952 12px,#e7744f 12.3px,#c84753 12.8px,#b8354e 13.3px,#b4314d 13.8px,#ae2a4b 14.3px,#a72249 14.8px,#a52048 15px,#a31e47 15.3px,#a11b46 18px,#a11b46 45px)"></div>
<div style="height:2px;background:linear-gradient(90deg,#a31e47 0px,#a31e47 6px,#a52048 8.3px,#a92549 8.8px,#ac274a 9px,#b02c4c 9.3px,#b4314d 9.8px,#b8354e 10.3px,#c74553 10.8px,#e7744f 11.3px,#e87952 11.8px,#e87952 12px,#e7744f 12.3px,#c74553 12.8px,#b8354e 13.3px,#b4314d 13.8px,#ae2a4b 14.3px,#a72249 14.8px,#a52048 15px,#a31e47 15.3px,#a11b46 18px,#a11b46 45px)"></div>
<div style="height:2px;background:linear-gradient(90deg,#a31e47 0px,#a31e47 6px,#a52048 8.3px,#a92549 8.8px,#ac274a 9px,#b02c4c 9.3px,#b4314d 9.8px,#b8354e 10.3px,#c74553 10.8px,#e6724e 11.3px,#e77750 11.8px,#e77750 12px,#e6724e 12.3px,#c74553 12.8px,#b8354e 13.3px,#b4314d 13.8px,#ae2a4b 14.3px,#a92549 14.8px,#a72249 15px,#a31e47 15.3px,#a11b46 18px,#a11b46 45px)"></div>
<div style="height:2px;background:linear-gradient(90deg,#a31e47 0px,#a31e47 6px,#a52048 8.3px,#a92549 8.8px,#ac274a 9px,#b02c4c 9.3px,#b6334e 9.8px,#b8354e 10.3px,#c74553 10.8px,#e6724e 11.3px,#e77750 11.8px,#e77750 12px,#e6724e 12.3px,#c74553 12.8px,#b8354e 13.3px,#b6334e 13.8px,#b02c4c 14.3px,#a92549 14.8px,#a72249 15px,#a52048 15.3px,#a31e47 18px,#a31e47 45px)"></div>
<div style="height:2px;background:linear-gradient(90deg,#a31e47 0px,#a31e47 6px,#a52048 8.3px,#a92549 8.8px,#ac274a 9px,#ae2a4b 9.3px,#b4314d 9.8px,#b6334e 10.3px,#c54353 10.8px,#e26d4e 11.3px,#e5704e 11.8px,#e5704e 12px,#e26d4e 12.3px,#c54353 12.8px,#b6334e 13.3px,#b4314d 13.8px,#ae2a4b 14.3px,#a72249 14.8px,#a52048 15px,#a31e47 15.3px,#a11b46 18px,#a11b46 45px)"></div>
<div style="height:2px;background:linear-gradient(90deg,#a11b46 0px,#a11b46 6px,#a31e47 8.3px,#a72249 8.8px,#a92549 9px,#ae2a4b 9.3px,#b22e4c 9.8px,#b6334e 10.3px,#c34152 10.8px,#e0694f 11.3px,#e26d4e 11.8px,#e26d4e 12px,#e0694f 12.3px,#c34152 12.8px,#b6334e 13.3px,#b22e4c 13.8px,#ac274a 14.3px,#a72249 14.8px,#a52048 15px,#a31e47 15.3px,#a11b46 18px,#a11b46 45px)"></div>
<div style="height:2px;background:linear-gradient(90deg,#a11b46 0px,#a11b46 6px,#a31e47 8.3px,#a72249 8.8px,#a92549 9px,#ac274a 9.3px,#b22e4c 9.8px,#b4314d 10.3px,#c13f51 10.8px,#df674f 11.3px,#e16b4f 11.8px,#e16b4f 12px,#df674f 12.3px,#c13f51 12.8px,#b4314d 13.3px,#b22e4c 13.8px,#ac274a 14.3px,#a72249 14.8px,#a52048 15px,#a31e47 15.3px,#a11b46 18px,#a11b46 45px)"></div>
<div style="height:2px;background:linear-gradient(90deg,#a31e47 0px,#a31e47 6px,#a52048 8.3px,#a92549 8.8px,#ac274a 9px,#ae2a4b 9.3px,#b22e4c 9.8px,#b6334e 10.3px,#c13f51 10.8px,#df674f 11.3px,#e16b4f 11.8px,#e16b4f 12px,#df674f 12.3px,#c13f51 12.8px,#b6334e 13.3px,#b22e4c 13.8px,#ae2a4b 14.3px,#a72249 14.8px,#a52048 15px,#a31e47 15.3px,#a11b46 18px,#a11b46 45px)"></div>
<div style="height:2px;background:linear-gradient(90deg,#a11b46 0px,#a11b46 6px,#a31e47 8.3px,#a52048 8.8px,#a72249 9px,#ac274a 9.3px,#b02c4c 9.8px,#b22e4c 10.3px,#bd3a50 10.8px,#da6050 11.3px,#dd664f 11.8px,#dd664f 12px,#da6050 12.3px,#bd3a50 12.8px,#b22e4c 13.3px,#b02c4c 13.8px,#a92549 14.3px,#a52048 14.8px,#a31e47 15px,#a11b46 15.3px,#9f1946 18px,#9f1946 45px)"></div>
<div style="height:2px;background:linear-gradient(90deg,#a31e47 0px,#a31e47 6px,#a52048 8.3px,#a92549 8.8px,#a92549 9px,#ae2a4b 9.3px,#b22e4c 9.8px,#b4314d 10.3px,#bf3c51 10.8px,#dc6450 11.3px,#df674f 11.8px,#df674f 12px,#dc6450 12.3px,#bf3c51 12.8px,#b4314d 13.3px,#b22e4c 13.8px,#ae2a4b 14.3px,#a72249 14.8px,#a52048 15px,#a31e47 15.3px,#a31e47 45px)"></div>
<div style="height:2px;background:linear-gradient(90deg,#a31e47 0px,#a31e47 8.3px,#a72249 8.8px,#a92549 9px,#ac274a 9.3px,#b02c4c 9.8px,#b22e4c 10.3px,#bd3a50 10.8px,#d85e50 11.3px,#db6250 11.8px,#db6250 12px,#d85e50 12.3px,#bd3a50 12.8px,#b22e4c 13.3px,#b02c4c 13.8px,#ac274a 14.3px,#a52048 14.8px,#a52048 15px,#a31e47 15.3px,#a11b46 18px,#a11b46 45px)"></div>
<div style="height:2px;background:linear-gradient(90deg,#a31e47 0px,#a31e47 6px,#a52048 8.3px,#a72249 8.8px,#a92549 9px,#ac274a 9.3px,#b02c4c 9.8px,#b4314d 10.3px,#bd3a50 10.8px,#d85e50 11.3px,#db6250 11.8px,#db6250 12px,#d85e50 12.3px,#bd3a50 12.8px,#b4314d 13.3px,#b02c4c 13.8px,#ac274a 14.3px,#a72249 14.8px,#a52048 15px,#a31e47 15.3px,#a11b46 18px,#a11b46 45px)"></div>
<div style="height:2px;background:linear-gradient(90deg,#a11b46 0px,#a11b46 6px,#a31e47 8.3px,#a72249 8.8px,#a72249 9px,#ac274a 9.3px,#ae2a4b 9.8px,#b22e4c 10.3px,#bb384f 10.8px,#d65b51 11.3px,#d85e50 11.8px,#d85e50 12px,#d65b51 12.3px,#bb384f 12.8px,#b22e4c 13.3px,#ae2a4b 13.8px,#a92549 14.3px,#a52048 14.8px,#a52048 15px,#a31e47 15.3px,#a11b46 18px,#a11b46 45px)"></div>
<div style="height:2px;background:linear-gradient(90deg,#a31e47 0px,#a31e47 8.3px,#a72249 8.8px,#a92549 9px,#ac274a 9.3px,#b02c4c 9.8px,#b22e4c 10.3px,#bb384f 10.8px,#d55951 11.3px,#d85e50 11.8px,#d85e50 12px,#d55951 12.3px,#bb384f 12.8px,#b22e4c 13.3px,#b02c4c 13.8px,#ac274a 14.3px,#a72249 14.8px,#a52048 15px,#a31e47 15.3px,#a11b46 18px,#a11b46 45px)"></div>
<div style="height:2px;background:linear-gradient(90deg,#a11b46 0px,#a11b46 6px,#a31e47 8.3px,#a52048 8.8px,#a72249 9px,#a92549 9.3px,#ac274a 9.8px,#b02c4c 10.3px,#b6334e 10.8px,#d15451 11.3px,#d35751 11.8px,#d35751 12px,#d15451 12.3px,#b6334e 12.8px,#b02c4c 13.3px,#ac274a 13.8px,#a92549 14.3px,#a52048 14.8px,#a31e47 15px,#a11b46 15.3px,#a11b46 45px)"></div>
<div style="height:2px;background:linear-gradient(90deg,#a11b46 0px,#a11b46 6px,#a31e47 8.3px,#a52048 8.8px,#a72249 9px,#a92549 9.3px,#ae2a4b 9.8px,#b02c4c 10.3px,#b6334e 10.8px,#d15451 11.3px,#d35751 11.8px,#d35751 12px,#d15451 12.3px,#b6334e 12.8px,#b02c4c 13.3px,#ae2a4b 13.8px,#a92549 14.3px,#a52048 14.8px,#a31e47 15px,#a31e47 15.3px,#a11b46 18px,#a11b46 45px)"></div>
<div style="height:2px;background:linear-gradient(90deg,#a11b46 0px,#a11b46 6px,#a31e47 8.3px,#a52048 8.8px,#a72249 9px,#a92549 9.3px,#ac274a 9.8px,#b02c4c 10.3px,#b6334e 10.8px,#d05252 11.3px,#d25651 11.8px,#d25651 12px,#d05252 12.3px,#b6334e 12.8px,#b02c4c 13.3px,#ac274a 13.8px,#a92549 14.3px,#a52048 14.8px,#a31e47 15px,#a31e47 15.3px,#a11b46 18px,#a11b46 45px)"></div>
<div style="height:2px;background:linear-gradient(90deg,#a11b46 0px,#a11b46 6px,#a31e47 8.3px,#a52048 8.8px,#a72249 9px,#a72249 9.3px,#ac274a 9.8px,#ae2a4b 10.3px,#b4314d 10.8px,#cd4e52 11.3px,#d05252 11.8px,#d05252 12px,#cd4e52 12.3px,#b4314d 12.8px,#ae2a4b 13.3px,#ac274a 13.8px,#a72249 14.3px,#a52048 14.8px,#a31e47 15px,#a11b46 15.3px,#a11b46 45px)"></div>
<div style="height:2px;background:linear-gradient(90deg,#a11b46 0px,#a11b46 6px,#a31e47 8.3px,#a52048 8.8px,#a52048 9px,#a72249 9.3px,#ac274a 9.8px,#ae2a4b 10.3px,#b22e4c 10.8px,#cc4d52 11.3px,#cf5052 11.8px,#cf5052 12px,#cc4d52 12.3px,#b22e4c 12.8px,#ae2a4b 13.3px,#ac274a 13.8px,#a72249 14.3px,#a52048 14.8px,#a31e47 15px,#a11b46 15.3px,#a11b46 45px)"></div>
<div style="height:2px;background:linear-gradient(90deg,#a11b46 0px,#a11b46 6px,#a31e47 8.3px,#a52048 8.8px,#a52048 9px,#a72249 9.3px,#a92549 9.8px,#ac274a 10.3px,#b22e4c 10.8px,#ca4953 11.3px,#cc4d52 11.8px,#cc4d52 12px,#ca4953 12.3px,#b22e4c 12.8px,#ac274a 13.3px,#a92549 13.8px,#a72249 14.3px,#a31e47 14.8px,#a31e47 15px,#a11b46 15.3px,#a11b46 45px)"></div>
<div style="height:2px;background:linear-gradient(90deg,#a11b46 0px,#a11b46 6px,#a31e47 8.3px,#a52048 8.8px,#a52048 9px,#a72249 9.3px,#a92549 9.8px,#ac274a 10.3px,#b22e4c 10.8px,#ca4953 11.3px,#cb4b52 11.8px,#cb4b52 12px,#ca4953 12.3px,#b22e4c 12.8px,#ac274a 13.3px,#a92549 13.8px,#a72249 14.3px,#a52048 14.8px,#a31e47 15px,#a11b46 15.3px,#a11b46 45px)"></div>
<div style="height:2px;background:linear-gradient(90deg,#a11b46 0px,#a11b46 8.3px,#a31e47 8.8px,#a52048 9px,#a72249 9.3px,#a92549 9.8px,#ac274a 10.3px,#b02c4c 10.8px,#c74553 11.3px,#ca4953 11.8px,#ca4953 12px,#c74553 12.3px,#b02c4c 12.8px,#ac274a 13.3px,#a92549 13.8px,#a52048 14.3px,#a31e47 14.8px,#a31e47 15px,#a11b46 15.3px,#a11b46 45px)"></div>
<div style="height:2px;background:linear-gradient(90deg,#a11b46 0px,#a11b46 6px,#a31e47 8.3px,#a52048 8.8px,#a52048 9px,#a72249 9.3px,#a92549 9.8px,#ac274a 10.3px,#b02c4c 10.8px,#c54353 11.3px,#c84753 11.8px,#c84753 12px,#c54353 12.3px,#b02c4c 12.8px,#ac274a 13.3px,#a92549 13.8px,#a72249 14.3px,#a52048 14.8px,#a31e47 15px,#a31e47 15.3px,#a11b46 18px,#a11b46 45px)"></div>
<div style="height:2px;background:linear-gradient(90deg,#a11b46 0px,#a11b46 6px,#a31e47 8.3px,#a31e47 8.8px,#a52048 9px,#a72249 9.3px,#a92549 9.8px,#a92549 10.3px,#ae2a4b 10.8px,#c34152 11.3px,#c54353 11.8px,#c54353 12px,#c34152 12.3px,#ae2a4b 12.8px,#a92549 13.3px,#a92549 13.8px,#a52048 14.3px,#a31e47 14.8px,#a31e47 15px,#a11b46 15.3px,#a11b46 45px)"></div>
</div>
<svg style="position:absolute;left:0;top:0;font-family:'Liberation Sans',sans-serif" width="520" height="656" viewBox="0 0 520 656"><defs><linearGradient id="cb" x1="0" x2="1" y1="0" y2="0"><stop offset="0.0" stop-color="#9e0142"/><stop offset="0.1" stop-color="#d43d4f"/><stop offset="0.2" stop-color="#f46d43"/><stop offset="0.3" stop-color="#fdad60"/><stop offset="0.4" stop-color="#fee08b"/><stop offset="0.5" stop-color="#ffffbe"/><stop offset="0.6" stop-color="#e6f598"/><stop offset="0.7" stop-color="#aadca4"/><stop offset="0.8" stop-color="#66c2a5"/><stop offset="0.9" stop-color="#3387bc"/><stop offset="1.0" stop-color="#5e4fa2"/></linearGradient></defs><rect x="20.6" y="70.75" width="39.15" height="33.75" fill="none" stroke="#9a9a9a" stroke-width="0.6"/>
<text x="40.2" y="68.8" font-size="4.1" fill="#666" text-anchor="middle">D7_Ser2Pol2_Merged_hg19</text>
<text x="18.6" y="72.6" font-size="3.6" fill="#666" text-anchor="end">150</text>
<line x1="19.4" y1="71.2" x2="20.6" y2="71.2" stroke="#666" stroke-width="0.5"/>
<text x="18.6" y="85.6" font-size="3.6" fill="#666" text-anchor="end">100</text>
<line x1="19.4" y1="84.2" x2="20.6" y2="84.2" stroke="#666" stroke-width="0.5"/>
<text x="18.6" y="98.6" font-size="3.6" fill="#666" text-anchor="end">50</text>
<line x1="19.4" y1="97.2" x2="20.6" y2="97.2" stroke="#666" stroke-width="0.5"/>
<text x="21.6" y="109.1" font-size="3.3" fill="#666">-3.0</text>
<text x="30.8" y="109.1" font-size="3.3" fill="#666" text-anchor="middle">TSS</text>
<text x="59.8" y="109.1" font-size="3.3" fill="#666" text-anchor="end">TES3.0kb</text>
<line x1="30.8" y1="104.5" x2="30.8" y2="105.7" stroke="#666" stroke-width="0.5"/>
<line x1="49.6" y1="104.5" x2="49.6" y2="105.7" stroke="#666" stroke-width="0.5"/>
<line x1="39.6" y1="74.3" x2="44.6" y2="74.3" stroke="#7676cf" stroke-width="1.6"/>
<text x="46.4" y="75.7" font-size="3.8" fill="#666">genes</text>
<polyline points="20.60,103.00 25.00,101.50 28.00,100.00 29.50,97.00 30.50,85.00 31.00,72.00 31.70,75.00 32.50,90.00 33.50,97.00 35.00,99.00 38.00,99.50 42.00,99.00 46.00,97.50 48.00,96.50 49.00,98.50 49.60,95.00 51.00,92.30 53.00,92.00 55.00,93.00 57.00,94.60 59.75,96.00" fill="none" stroke="#7676cf" stroke-width="1.5" stroke-linejoin="round"/>
<rect x="76.1" y="73.25" width="43.65" height="33.15" fill="none" stroke="#9a9a9a" stroke-width="0.6"/>
<text x="97.9" y="71.6" font-size="4.1" fill="#666" text-anchor="middle">EB_H3K36_combined</text>
<text x="74.1" y="86.9" font-size="3.6" fill="#666" text-anchor="end">0.4</text>
<line x1="74.9" y1="85.5" x2="76.1" y2="85.5" stroke="#666" stroke-width="0.5"/>
<text x="74.1" y="98.8" font-size="3.6" fill="#666" text-anchor="end">0.2</text>
<line x1="74.9" y1="97.4" x2="76.1" y2="97.4" stroke="#666" stroke-width="0.5"/>
<text x="77.1" y="111.0" font-size="3.3" fill="#666">-3.0</text>
<text x="87.7" y="111.0" font-size="3.3" fill="#666" text-anchor="middle">TSS</text>
<text x="119.8" y="111.0" font-size="3.3" fill="#666" text-anchor="end">TES3.0kb</text>
<line x1="87.7" y1="106.4" x2="87.7" y2="107.6" stroke="#666" stroke-width="0.5"/>
<line x1="107.5" y1="106.4" x2="107.5" y2="107.6" stroke="#666" stroke-width="0.5"/>
<line x1="97" y1="102.4" x2="103.2" y2="102.4" stroke="#7676cf" stroke-width="1.6"/>
<text x="105.0" y="103.8" font-size="3.8" fill="#666">genes</text>
<polyline points="76.10,95.50 80.00,98.50 84.00,102.00 87.70,105.50 88.50,101.00 89.50,96.00 91.00,91.00 93.00,87.00 96.00,83.50 100.00,80.00 103.00,78.00 106.00,75.50 107.50,75.00 108.50,77.00 109.50,81.00 110.50,83.50 113.00,86.50 116.00,89.00 119.75,91.00" fill="none" stroke="#7676cf" stroke-width="1.5" stroke-linejoin="round"/>
<rect x="140.4" y="70.75" width="41.10" height="33.50" fill="none" stroke="#9a9a9a" stroke-width="0.6"/>
<text x="160.9" y="69.1" font-size="4.1" fill="#666" text-anchor="middle">EB_H3K27me3_combined</text>
<text x="138.4" y="77.2" font-size="3.6" fill="#666" text-anchor="end">0.25</text>
<line x1="139.2" y1="75.8" x2="140.4" y2="75.8" stroke="#666" stroke-width="0.5"/>
<text x="138.4" y="90.0" font-size="3.6" fill="#666" text-anchor="end">0.20</text>
<line x1="139.2" y1="88.6" x2="140.4" y2="88.6" stroke="#666" stroke-width="0.5"/>
<text x="138.4" y="103.2" font-size="3.6" fill="#666" text-anchor="end">0.15</text>
<line x1="139.2" y1="101.8" x2="140.4" y2="101.8" stroke="#666" stroke-width="0.5"/>
<text x="141.4" y="108.8" font-size="3.3" fill="#666">-3.0</text>
<text x="151.0" y="108.8" font-size="3.3" fill="#666" text-anchor="middle">TSS</text>
<text x="181.5" y="108.8" font-size="3.3" fill="#666" text-anchor="end">TES3.0kb</text>
<line x1="151.0" y1="104.2" x2="151.0" y2="105.5" stroke="#666" stroke-width="0.5"/>
<line x1="169.5" y1="104.2" x2="169.5" y2="105.5" stroke="#666" stroke-width="0.5"/>
<line x1="160.4" y1="74.5" x2="166.2" y2="74.5" stroke="#7676cf" stroke-width="1.6"/>
<text x="168.0" y="75.9" font-size="3.8" fill="#666">genes</text>
<polyline points="140.40,85.00 142.00,82.00 144.00,77.50 146.00,73.50 147.00,72.30 148.00,73.20 149.50,78.50 150.50,86.00 151.00,89.00 151.30,97.00 151.70,88.50 152.30,91.00 154.00,95.00 157.00,97.60 161.00,99.60 165.00,101.20 168.50,102.20 169.30,98.30 170.00,102.60 172.00,102.20 176.00,101.50 181.50,100.00" fill="none" stroke="#7676cf" stroke-width="1.5" stroke-linejoin="round"/>
<rect x="198.5" y="70.75" width="47.50" height="33.75" fill="none" stroke="#9a9a9a" stroke-width="0.6"/>
<text x="222.2" y="69.1" font-size="4.1" fill="#666" text-anchor="middle">ATAC_EB_combined</text>
<text x="196.5" y="77.5" font-size="3.6" fill="#666" text-anchor="end">8</text>
<line x1="197.3" y1="76.1" x2="198.5" y2="76.1" stroke="#666" stroke-width="0.5"/>
<text x="196.5" y="84.4" font-size="3.6" fill="#666" text-anchor="end">6</text>
<line x1="197.3" y1="83.0" x2="198.5" y2="83.0" stroke="#666" stroke-width="0.5"/>
<text x="196.5" y="91.5" font-size="3.6" fill="#666" text-anchor="end">4</text>
<line x1="197.3" y1="90.1" x2="198.5" y2="90.1" stroke="#666" stroke-width="0.5"/>
<text x="196.5" y="98.4" font-size="3.6" fill="#666" text-anchor="end">2</text>
<line x1="197.3" y1="97.0" x2="198.5" y2="97.0" stroke="#666" stroke-width="0.5"/>
<text x="196.5" y="105.0" font-size="3.6" fill="#666" text-anchor="end">0</text>
<line x1="197.3" y1="103.6" x2="198.5" y2="103.6" stroke="#666" stroke-width="0.5"/>
<text x="199.5" y="109.1" font-size="3.3" fill="#666">-3.0</text>
<text x="211.2" y="109.1" font-size="3.3" fill="#666" text-anchor="middle">TSS</text>
<text x="246.0" y="109.1" font-size="3.3" fill="#666" text-anchor="end">TES3.0kb</text>
<line x1="211.2" y1="104.5" x2="211.2" y2="105.7" stroke="#666" stroke-width="0.5"/>
<line x1="233.0" y1="104.5" x2="233.0" y2="105.7" stroke="#666" stroke-width="0.5"/>
<line x1="221.2" y1="74.5" x2="228.7" y2="74.5" stroke="#7676cf" stroke-width="1.6"/>
<text x="230.5" y="75.9" font-size="3.8" fill="#666">genes</text>
<polyline points="198.50,103.20 205.00,102.80 208.00,102.20 209.80,100.00 210.60,90.00 211.25,72.60 211.90,90.00 212.70,100.00 214.50,102.50 220.00,103.00 230.00,103.00 233.00,102.60 240.00,102.80 246.00,102.80" fill="none" stroke="#7676cf" stroke-width="1.5" stroke-linejoin="round"/>
<rect x="280" y="71.75" width="39.60" height="34.25" fill="none" stroke="#9a9a9a" stroke-width="0.6"/>
<text x="299.8" y="69.8" font-size="4.1" fill="#666" text-anchor="middle">D10_Ser2Pol2_Merged_hg19</text>
<text x="278.0" y="73.4" font-size="3.6" fill="#666" text-anchor="end">150</text>
<line x1="278.8" y1="72.0" x2="280.0" y2="72.0" stroke="#666" stroke-width="0.5"/>
<text x="278.0" y="85.3" font-size="3.6" fill="#666" text-anchor="end">100</text>
<line x1="278.8" y1="83.9" x2="280.0" y2="83.9" stroke="#666" stroke-width="0.5"/>
<text x="278.0" y="96.9" font-size="3.6" fill="#666" text-anchor="end">50</text>
<line x1="278.8" y1="95.5" x2="280.0" y2="95.5" stroke="#666" stroke-width="0.5"/>
<text x="281.0" y="110.6" font-size="3.3" fill="#666">-3.0</text>
<text x="290.6" y="110.6" font-size="3.3" fill="#666" text-anchor="middle">TSS</text>
<text x="319.6" y="110.6" font-size="3.3" fill="#666" text-anchor="end">TES3.0kb</text>
<line x1="290.6" y1="106.0" x2="290.6" y2="107.2" stroke="#666" stroke-width="0.5"/>
<line x1="309.5" y1="106.0" x2="309.5" y2="107.2" stroke="#666" stroke-width="0.5"/>
<line x1="299" y1="75.7" x2="305.6" y2="75.7" stroke="#7676cf" stroke-width="1.6"/>
<text x="307.4" y="77.1" font-size="3.8" fill="#666">genes</text>
<polyline points="280.00,104.80 285.00,104.50 288.00,103.20 289.60,100.00 290.60,96.40 291.60,100.00 293.00,103.80 296.00,104.60 305.00,104.60 309.00,104.00 311.00,103.30 315.00,103.30 317.00,104.00 319.60,104.30" fill="none" stroke="#7676cf" stroke-width="1.5" stroke-linejoin="round"/>
<rect x="337.1" y="73.25" width="43.30" height="33.50" fill="none" stroke="#9a9a9a" stroke-width="0.6"/>
<text x="358.8" y="71.6" font-size="4.1" fill="#666" text-anchor="middle">ortho_H3K36_combined</text>
<text x="335.1" y="86.3" font-size="3.6" fill="#666" text-anchor="end">0.4</text>
<line x1="335.9" y1="84.9" x2="337.1" y2="84.9" stroke="#666" stroke-width="0.5"/>
<text x="335.1" y="98.8" font-size="3.6" fill="#666" text-anchor="end">0.2</text>
<line x1="335.9" y1="97.4" x2="337.1" y2="97.4" stroke="#666" stroke-width="0.5"/>
<text x="338.1" y="111.3" font-size="3.3" fill="#666">-3.0</text>
<text x="348.5" y="111.3" font-size="3.3" fill="#666" text-anchor="middle">TSS</text>
<text x="380.4" y="111.3" font-size="3.3" fill="#666" text-anchor="end">TES3.0kb</text>
<line x1="348.5" y1="106.8" x2="348.5" y2="108.0" stroke="#666" stroke-width="0.5"/>
<line x1="367.6" y1="106.8" x2="367.6" y2="108.0" stroke="#666" stroke-width="0.5"/>
<line x1="340" y1="77.2" x2="346.9" y2="77.2" stroke="#7676cf" stroke-width="1.6"/>
<text x="348.7" y="78.6" font-size="3.8" fill="#666">genes</text>
<polyline points="337.10,97.00 342.00,100.50 346.00,103.50 348.50,105.30 349.50,101.00 351.00,95.00 353.00,90.00 356.00,85.50 360.00,82.00 364.00,78.50 367.60,74.40 368.60,78.00 369.50,81.50 372.00,85.00 376.00,88.50 380.40,91.50" fill="none" stroke="#7676cf" stroke-width="1.5" stroke-linejoin="round"/>
<rect x="400.4" y="69.5" width="40.20" height="33.75" fill="none" stroke="#9a9a9a" stroke-width="0.6"/>
<text x="420.5" y="67.9" font-size="4.1" fill="#666" text-anchor="middle">ortho_H3K27me3_combined</text>
<text x="398.4" y="76.5" font-size="3.6" fill="#666" text-anchor="end">0.4</text>
<line x1="399.2" y1="75.1" x2="400.4" y2="75.1" stroke="#666" stroke-width="0.5"/>
<text x="398.4" y="88.4" font-size="3.6" fill="#666" text-anchor="end">0.3</text>
<line x1="399.2" y1="87.0" x2="400.4" y2="87.0" stroke="#666" stroke-width="0.5"/>
<text x="398.4" y="100.5" font-size="3.6" fill="#666" text-anchor="end">0.2</text>
<line x1="399.2" y1="99.1" x2="400.4" y2="99.1" stroke="#666" stroke-width="0.5"/>
<text x="401.4" y="107.8" font-size="3.3" fill="#666">-3.0</text>
<text x="411.5" y="107.8" font-size="3.3" fill="#666" text-anchor="middle">TSS</text>
<text x="440.6" y="107.8" font-size="3.3" fill="#666" text-anchor="end">TES3.0kb</text>
<line x1="411.5" y1="103.2" x2="411.5" y2="104.5" stroke="#666" stroke-width="0.5"/>
<line x1="430.0" y1="103.2" x2="430.0" y2="104.5" stroke="#666" stroke-width="0.5"/>
<line x1="420.4" y1="73.5" x2="426.2" y2="73.5" stroke="#7676cf" stroke-width="1.6"/>
<text x="428.0" y="74.9" font-size="3.8" fill="#666">genes</text>
<polyline points="400.40,86.50 403.00,82.00 405.00,77.50 407.00,72.50 408.00,70.50 409.00,72.00 410.50,78.00 411.30,84.00 411.60,87.50 412.00,84.00 412.50,89.00 414.00,92.50 416.00,95.50 420.00,98.50 425.00,100.50 429.00,101.20 430.00,98.00 430.60,101.30 433.00,100.50 437.00,99.50 440.60,98.50" fill="none" stroke="#7676cf" stroke-width="1.5" stroke-linejoin="round"/>
<rect x="461.8" y="71.15" width="45.40" height="33.25" fill="none" stroke="#9a9a9a" stroke-width="0.6"/>
<text x="484.5" y="68.2" font-size="4.1" fill="#666" text-anchor="middle">ATAC_ortho_combined</text>
<text x="459.8" y="74.2" font-size="3.6" fill="#666" text-anchor="end">15</text>
<line x1="460.6" y1="72.8" x2="461.8" y2="72.8" stroke="#666" stroke-width="0.5"/>
<text x="459.8" y="84.3" font-size="3.6" fill="#666" text-anchor="end">10</text>
<line x1="460.6" y1="82.9" x2="461.8" y2="82.9" stroke="#666" stroke-width="0.5"/>
<text x="459.8" y="94.1" font-size="3.6" fill="#666" text-anchor="end">5</text>
<line x1="460.6" y1="92.7" x2="461.8" y2="92.7" stroke="#666" stroke-width="0.5"/>
<text x="459.8" y="103.8" font-size="3.6" fill="#666" text-anchor="end">0</text>
<line x1="460.6" y1="102.4" x2="461.8" y2="102.4" stroke="#666" stroke-width="0.5"/>
<text x="462.8" y="109.0" font-size="3.3" fill="#666">-3.0</text>
<text x="474.0" y="109.0" font-size="3.3" fill="#666" text-anchor="middle">TSS</text>
<text x="507.2" y="109.0" font-size="3.3" fill="#666" text-anchor="end">TES3.0kb</text>
<line x1="474.0" y1="104.4" x2="474.0" y2="105.6" stroke="#666" stroke-width="0.5"/>
<line x1="497.0" y1="104.4" x2="497.0" y2="105.6" stroke="#666" stroke-width="0.5"/>
<line x1="484" y1="74.1" x2="490" y2="74.1" stroke="#7676cf" stroke-width="1.6"/>
<text x="491.8" y="75.5" font-size="3.8" fill="#666">genes</text>
<polyline points="461.80,102.30 468.00,102.00 471.00,101.20 472.80,98.00 473.50,88.00 474.00,72.10 474.50,88.00 475.20,98.00 477.00,101.30 482.00,102.20 507.20,102.30" fill="none" stroke="#7676cf" stroke-width="1.5" stroke-linejoin="round"/>
<text x="21.3" y="353.5" font-size="3.4" fill="#444">-3.0</text>
<text x="31.0" y="353.5" font-size="3.4" fill="#444" text-anchor="middle">TSS</text>
<text x="59.7" y="353.5" font-size="3.4" fill="#444" text-anchor="end">TES3.0kb</text>
<text x="40.2" y="358.1" font-size="3.8" fill="#444" text-anchor="middle">gene distance (bp)</text>
<rect x="20.8" y="364.1" width="38.9" height="3.6" fill="url(#cb)"/>
<text x="21.6" y="373" font-size="3.5" fill="#444" text-anchor="middle">0</text>
<text x="38.3" y="373" font-size="3.5" fill="#444" text-anchor="middle">200</text>
<text x="55.0" y="373" font-size="3.5" fill="#444" text-anchor="middle">400</text>
<line x1="21.6" y1="367.7" x2="21.6" y2="368.7" stroke="#666" stroke-width="0.4"/>
<line x1="38.3" y1="367.7" x2="38.3" y2="368.7" stroke="#666" stroke-width="0.4"/>
<line x1="55.0" y1="367.7" x2="55.0" y2="368.7" stroke="#666" stroke-width="0.4"/>
<text transform="translate(19.2,229.9) rotate(-90)" font-size="4" fill="#555" text-anchor="middle">genes</text>
<text x="76.9" y="353.5" font-size="3.4" fill="#444">-3.0</text>
<text x="85.9" y="353.5" font-size="3.4" fill="#444" text-anchor="middle">TSS</text>
<text x="119.3" y="353.5" font-size="3.4" fill="#444" text-anchor="end">TES3.0kb</text>
<text x="97.8" y="358.1" font-size="3.8" fill="#444" text-anchor="middle">gene distance (bp)</text>
<rect x="76.4" y="364.1" width="42.9" height="3.6" fill="url(#cb)"/>
<text x="78.5" y="373" font-size="3.5" fill="#444" text-anchor="middle">0.0</text>
<text x="91.4" y="373" font-size="3.5" fill="#444" text-anchor="middle">0.8</text>
<text x="106.4" y="373" font-size="3.5" fill="#444" text-anchor="middle">1.6</text>
<line x1="78.5" y1="367.7" x2="78.5" y2="368.7" stroke="#666" stroke-width="0.4"/>
<line x1="91.4" y1="367.7" x2="91.4" y2="368.7" stroke="#666" stroke-width="0.4"/>
<line x1="106.4" y1="367.7" x2="106.4" y2="368.7" stroke="#666" stroke-width="0.4"/>
<text transform="translate(74.8,230.9) rotate(-90)" font-size="4" fill="#555" text-anchor="middle">genes</text>
<text x="141.2" y="353.5" font-size="3.4" fill="#444">-3.0</text>
<text x="151.0" y="353.5" font-size="3.4" fill="#444" text-anchor="middle">TSS</text>
<text x="180.8" y="353.5" font-size="3.4" fill="#444" text-anchor="end">TES3.0kb</text>
<text x="160.8" y="358.1" font-size="3.8" fill="#444" text-anchor="middle">gene distance (bp)</text>
<rect x="140.7" y="364.1" width="40.1" height="3.6" fill="url(#cb)"/>
<text x="142.3" y="373" font-size="3.5" fill="#444" text-anchor="middle">0.0</text>
<text x="156.3" y="373" font-size="3.5" fill="#444" text-anchor="middle">0.5</text>
<text x="172.8" y="373" font-size="3.5" fill="#444" text-anchor="middle">1.0</text>
<line x1="142.3" y1="367.7" x2="142.3" y2="368.7" stroke="#666" stroke-width="0.4"/>
<line x1="156.3" y1="367.7" x2="156.3" y2="368.7" stroke="#666" stroke-width="0.4"/>
<line x1="172.8" y1="367.7" x2="172.8" y2="368.7" stroke="#666" stroke-width="0.4"/>
<text transform="translate(139.1,229.9) rotate(-90)" font-size="4" fill="#555" text-anchor="middle">genes</text>
<text x="199.2" y="353.5" font-size="3.4" fill="#444">-3.0</text>
<text x="211.4" y="353.5" font-size="3.4" fill="#444" text-anchor="middle">TSS</text>
<text x="245.5" y="353.5" font-size="3.4" fill="#444" text-anchor="end">TES3.0kb</text>
<text x="222.1" y="358.1" font-size="3.8" fill="#444" text-anchor="middle">gene distance (bp)</text>
<rect x="198.7" y="364.1" width="46.8" height="3.6" fill="url(#cb)"/>
<text x="200.1" y="373" font-size="3.5" fill="#444" text-anchor="middle">0</text>
<text x="216.0" y="373" font-size="3.5" fill="#444" text-anchor="middle">2</text>
<text x="232.4" y="373" font-size="3.5" fill="#444" text-anchor="middle">4</text>
<line x1="200.1" y1="367.7" x2="200.1" y2="368.7" stroke="#666" stroke-width="0.4"/>
<line x1="216.0" y1="367.7" x2="216.0" y2="368.7" stroke="#666" stroke-width="0.4"/>
<line x1="232.4" y1="367.7" x2="232.4" y2="368.7" stroke="#666" stroke-width="0.4"/>
<text transform="translate(197.1,229.9) rotate(-90)" font-size="4" fill="#555" text-anchor="middle">genes</text>
<text x="280.3" y="353.8" font-size="3.4" fill="#444">-3.0</text>
<text x="290.4" y="353.8" font-size="3.4" fill="#444" text-anchor="middle">TSS</text>
<text x="319.5" y="353.8" font-size="3.4" fill="#444" text-anchor="end">TES3.0kb</text>
<text x="299.6" y="358.4" font-size="3.8" fill="#444" text-anchor="middle">gene distance (bp)</text>
<rect x="279.8" y="364.1" width="39.7" height="3.6" fill="url(#cb)"/>
<text x="281.0" y="373" font-size="3.5" fill="#444" text-anchor="middle">0</text>
<text x="295.3" y="373" font-size="3.5" fill="#444" text-anchor="middle">50</text>
<text x="311.6" y="373" font-size="3.5" fill="#444" text-anchor="middle">100</text>
<line x1="281.0" y1="367.7" x2="281.0" y2="368.7" stroke="#666" stroke-width="0.4"/>
<line x1="295.3" y1="367.7" x2="295.3" y2="368.7" stroke="#666" stroke-width="0.4"/>
<line x1="311.6" y1="367.7" x2="311.6" y2="368.7" stroke="#666" stroke-width="0.4"/>
<text transform="translate(278.2,230.7) rotate(-90)" font-size="4" fill="#555" text-anchor="middle">genes</text>
<text x="337.6" y="353.2" font-size="3.4" fill="#444">-3.0</text>
<text x="347.6" y="353.2" font-size="3.4" fill="#444" text-anchor="middle">TSS</text>
<text x="380.8" y="353.2" font-size="3.4" fill="#444" text-anchor="end">TES3.0kb</text>
<text x="359.0" y="357.8" font-size="3.8" fill="#444" text-anchor="middle">gene distance (bp)</text>
<rect x="337.1" y="364.1" width="43.7" height="3.6" fill="url(#cb)"/>
<text x="338.6" y="373" font-size="3.5" fill="#444" text-anchor="middle">0</text>
<text x="353.7" y="373" font-size="3.5" fill="#444" text-anchor="middle">1</text>
<text x="370.7" y="373" font-size="3.5" fill="#444" text-anchor="middle">2</text>
<line x1="338.6" y1="367.7" x2="338.6" y2="368.7" stroke="#666" stroke-width="0.4"/>
<line x1="353.7" y1="367.7" x2="353.7" y2="368.7" stroke="#666" stroke-width="0.4"/>
<line x1="370.7" y1="367.7" x2="370.7" y2="368.7" stroke="#666" stroke-width="0.4"/>
<text transform="translate(335.5,230.8) rotate(-90)" font-size="4" fill="#555" text-anchor="middle">genes</text>
<text x="401.3" y="353.2" font-size="3.4" fill="#444">-3.0</text>
<text x="410.8" y="353.2" font-size="3.4" fill="#444" text-anchor="middle">TSS</text>
<text x="441.0" y="353.2" font-size="3.4" fill="#444" text-anchor="end">TES3.0kb</text>
<text x="420.9" y="357.8" font-size="3.8" fill="#444" text-anchor="middle">gene distance (bp)</text>
<rect x="400.8" y="364.1" width="40.2" height="3.6" fill="url(#cb)"/>
<text x="403.0" y="373" font-size="3.5" fill="#444" text-anchor="middle">0.0</text>
<text x="414.9" y="373" font-size="3.5" fill="#444" text-anchor="middle">0.8</text>
<text x="430.1" y="373" font-size="3.5" fill="#444" text-anchor="middle">1.6</text>
<line x1="403.0" y1="367.7" x2="403.0" y2="368.7" stroke="#666" stroke-width="0.4"/>
<line x1="414.9" y1="367.7" x2="414.9" y2="368.7" stroke="#666" stroke-width="0.4"/>
<line x1="430.1" y1="367.7" x2="430.1" y2="368.7" stroke="#666" stroke-width="0.4"/>
<text transform="translate(399.2,229.7) rotate(-90)" font-size="4" fill="#555" text-anchor="middle">genes</text>
<text x="462.6" y="353.2" font-size="3.4" fill="#444">-3.0</text>
<text x="473.8" y="353.2" font-size="3.4" fill="#444" text-anchor="middle">TSS</text>
<text x="507.1" y="353.2" font-size="3.4" fill="#444" text-anchor="end">TES3.0kb</text>
<text x="484.6" y="357.8" font-size="3.8" fill="#444" text-anchor="middle">gene distance (bp)</text>
<rect x="462.1" y="364.1" width="45.0" height="3.6" fill="url(#cb)"/>
<text x="465.2" y="373" font-size="3.5" fill="#444" text-anchor="middle">0.0</text>
<text x="477.4" y="373" font-size="3.5" fill="#444" text-anchor="middle">2.5</text>
<text x="494.1" y="373" font-size="3.5" fill="#444" text-anchor="middle">5.0</text>
<line x1="465.2" y1="367.7" x2="465.2" y2="368.7" stroke="#666" stroke-width="0.4"/>
<line x1="477.4" y1="367.7" x2="477.4" y2="368.7" stroke="#666" stroke-width="0.4"/>
<line x1="494.1" y1="367.7" x2="494.1" y2="368.7" stroke="#666" stroke-width="0.4"/>
<text transform="translate(460.5,229.6) rotate(-90)" font-size="4" fill="#555" text-anchor="middle">genes</text>
<rect x="271" y="63" width="56.5" height="0.8" fill="#dcdcdc"/>
<rect x="10" y="62.5" width="58" height="0.6" fill="#ececec"/>
<rect x="16.0" y="428.9" width="307.3" height="193.4" fill="#f6f7fb"/>
<rect x="16.0" y="447.00" width="307.3" height="1" fill="#8d8fd2"/>
<polygon points="16.0,447.5 28.5,447.5 29.5,443.5 30.5,438.5 31.3,435.5 32.0,434.5 33.0,435.0 33.8,437.5 34.5,441.0 36.0,444.5 37.5,446.5 38.5,447.0 40.8,446.5 42.0,444.0 44.0,442.5 46.0,441.0 47.5,437.5 48.5,435.3 49.5,436.5 50.5,439.5 51.5,442.5 52.5,446.0 53.5,447.2 64.0,447.2 64.6,446.5 67.0,446.5 68.0,447.1 69.0,446.3 75.0,446.2 77.0,445.3 79.2,444.7 80.5,445.3 81.5,446.5 83.0,446.7 84.0,447.3 90.5,447.3 91.0,446.7 96.0,446.7 96.5,447.5 157.0,447.5 158.0,446.7 159.0,447.5 159.0,447.5" fill="#2c3c9c"/>
<rect x="16.0" y="465.10" width="307.3" height="1" fill="#8d8fd2"/>
<polygon points="16.0,465.6 23.5,465.6 24.5,464.4 27.5,464.2 28.5,465.3 29.5,465.3 30.0,460.6 31.0,458.1 32.0,459.6 33.0,460.1 34.0,459.1 35.0,459.8 36.0,458.6 37.0,459.6 37.8,460.1 38.5,459.1 39.5,460.6 40.5,459.6 41.5,456.1 42.3,458.6 43.0,457.1 43.8,456.6 44.6,455.6 45.4,451.9 46.2,456.6 47.0,458.6 48.0,456.6 49.0,457.6 50.0,459.1 50.7,459.9 51.3,465.1 53.0,464.8 57.0,464.8 58.0,465.1 59.5,463.1 63.3,463.1 64.0,465.1 74.0,465.1 76.0,464.6 77.0,461.1 78.0,460.1 79.5,460.4 80.5,461.8 82.0,462.1 83.0,461.6 84.5,462.1 86.5,464.6 88.0,465.1 90.5,465.1 91.0,464.4 99.5,464.4 100.5,465.3 103.8,465.1 106.0,464.1 110.0,464.1 111.5,465.3 115.4,465.3 116.0,463.1 118.0,463.1 118.5,462.6 120.0,463.6 121.5,462.1 123.5,462.1 124.6,465.3 129.2,465.3 130.0,462.1 131.5,461.1 133.0,461.6 134.2,465.1 135.7,465.1 136.2,462.6 139.2,462.6 139.7,465.1 140.8,464.6 144.0,464.6 144.5,465.6 150.0,465.6 150.5,462.1 152.0,462.1 153.0,459.1 154.5,456.6 155.5,452.1 156.5,456.6 157.5,459.1 159.0,458.6 160.0,459.6 161.0,459.1 162.0,459.6 163.0,458.6 164.5,460.6 166.0,461.6 167.0,465.3 175.0,465.3 175.5,464.8 182.0,464.1 183.0,465.3 189.0,465.3 190.0,464.1 196.0,464.1 197.0,465.3 210.0,465.3 212.0,463.6 216.0,462.6 219.0,461.6 221.5,460.1 223.0,461.6 225.0,463.6 226.5,465.3 240.0,465.3 241.0,463.1 243.0,463.1 244.0,465.6 276.0,465.6 277.0,463.1 281.0,463.1 282.0,465.6 295.5,465.6 296.0,460.6 297.0,460.6 297.5,465.6 300.0,465.6 301.0,464.1 303.0,464.1 303.5,465.6 303.5,465.6" fill="#2c3c9c"/>
<rect x="16.0" y="484.70" width="307.3" height="1" fill="#8d8fd2"/>
<polygon points="16.0,485.2 30.5,485.2 30.8,483.7 32.0,482.2 34.0,481.2 35.0,481.7 36.0,480.2 37.0,481.2 38.0,479.7 39.0,480.7 40.0,480.2 41.0,478.7 42.5,479.2 43.3,479.7 44.0,477.7 45.0,478.7 46.0,476.7 47.0,478.2 48.0,476.2 48.8,477.7 49.5,479.2 50.5,481.2 51.0,484.2 51.5,484.4 60.0,484.4 61.0,482.7 64.0,482.7 64.5,484.7 66.0,484.2 70.0,484.2 70.5,484.9 72.0,484.2 76.0,484.2 76.5,484.9 78.0,484.2 82.0,484.2 82.5,484.9 85.0,484.2 88.0,484.2 88.5,484.9 92.0,484.2 96.0,484.2 96.5,484.9 104.6,484.9 105.5,482.2 106.5,481.2 107.7,479.0 108.8,481.2 109.5,482.2 110.8,484.2 115.0,484.2 116.0,483.2 117.0,483.2 119.0,481.7 120.5,480.7 121.5,479.2 122.3,481.2 123.0,481.7 124.0,482.7 125.2,483.7 131.5,483.7 132.0,484.9 150.0,484.9 150.5,483.2 152.0,480.7 153.5,478.7 155.0,478.0 156.0,478.7 157.0,478.4 158.0,479.2 159.0,478.7 160.0,479.4 161.0,479.2 162.5,478.2 164.0,479.7 165.5,481.7 166.5,483.7 167.5,484.9 175.0,484.9 180.0,484.2 190.0,484.2 200.0,484.2 202.0,484.9 214.0,484.9 215.0,483.7 217.0,485.2 217.0,485.2" fill="#2c3c9c"/>
<rect x="16.0" y="503.50" width="307.3" height="1" fill="#8d8fd2"/>
<polygon points="16.0,504.0 56.0,504.0 57.0,502.5 62.0,502.2 68.0,502.0 74.0,502.2 79.6,502.0 81.0,501.0 83.7,499.5 86.0,498.0 88.0,496.8 89.0,496.2 91.0,497.0 93.0,497.5 95.0,497.0 97.0,496.5 99.0,496.0 101.0,495.5 103.0,494.5 105.0,493.0 106.6,492.5 108.5,493.2 110.6,493.5 112.5,493.0 114.7,493.0 117.0,493.8 120.0,494.5 122.0,493.5 123.5,491.5 125.5,490.5 128.0,490.8 130.9,491.0 133.0,490.4 136.3,490.0 138.5,490.6 140.3,491.5 142.5,492.2 144.3,493.0 146.5,494.0 148.4,495.0 150.5,495.5 152.4,496.0 155.0,495.7 157.8,496.0 159.5,497.5 161.9,499.0 164.0,499.8 168.6,500.5 172.0,501.0 176.7,501.5 180.0,502.0 184.8,502.5 190.0,503.0 195.0,503.4 200.0,504.0 200.0,504.0" fill="#2c3c9c"/>
<rect x="16.0" y="521.80" width="307.3" height="1" fill="#8d8fd2"/>
<rect x="22" y="521.7" width="2.2" height="1.1" fill="#2c3c9c" opacity="0.55"/>
<rect x="31" y="521.7" width="2.2" height="1.1" fill="#2c3c9c" opacity="0.55"/>
<rect x="40" y="521.7" width="2.2" height="1.1" fill="#2c3c9c" opacity="0.55"/>
<rect x="49" y="521.7" width="2.2" height="1.1" fill="#2c3c9c" opacity="0.55"/>
<rect x="58" y="521.7" width="2.2" height="1.1" fill="#2c3c9c" opacity="0.55"/>
<rect x="67" y="521.7" width="2.2" height="1.1" fill="#2c3c9c" opacity="0.55"/>
<rect x="76" y="521.7" width="2.2" height="1.1" fill="#2c3c9c" opacity="0.55"/>
<rect x="85" y="521.7" width="2.2" height="1.1" fill="#2c3c9c" opacity="0.55"/>
<rect x="94" y="521.7" width="2.2" height="1.1" fill="#2c3c9c" opacity="0.55"/>
<rect x="103" y="521.7" width="2.2" height="1.1" fill="#2c3c9c" opacity="0.55"/>
<rect x="112" y="521.7" width="2.2" height="1.1" fill="#2c3c9c" opacity="0.55"/>
<rect x="121" y="521.7" width="2.2" height="1.1" fill="#2c3c9c" opacity="0.55"/>
<rect x="130" y="521.7" width="2.2" height="1.1" fill="#2c3c9c" opacity="0.55"/>
<rect x="139" y="521.7" width="2.2" height="1.1" fill="#2c3c9c" opacity="0.55"/>
<rect x="148" y="521.7" width="2.2" height="1.1" fill="#2c3c9c" opacity="0.55"/>
<rect x="157" y="521.7" width="2.2" height="1.1" fill="#2c3c9c" opacity="0.55"/>
<polygon points="163.0,522.8 163.0,522.3 166.0,521.5 170.0,521.2 175.0,521.6 180.0,521.0 185.0,521.5 190.0,521.1 195.0,521.6 200.0,520.9 205.0,521.4 210.0,521.1 215.0,521.5 220.0,521.0 225.0,521.4 230.0,520.8 235.0,521.3 240.0,520.9 245.0,521.4 250.0,521.0 255.0,521.3 260.0,520.7 265.0,521.2 270.0,520.9 275.0,521.3 280.0,520.8 285.0,521.2 290.0,521.0 295.0,521.3 300.0,520.7 305.0,521.1 310.0,520.8 315.0,521.1 320.0,520.7 323.3,520.9 323.3,522.8" fill="#2c3c9c"/>
<rect x="16.0" y="540.90" width="307.3" height="1" fill="#dcdce2"/>
<polygon points="16.0,541.4 28.5,541.4 29.5,537.4 30.5,534.4 31.5,532.9 32.5,532.4 33.5,533.4 34.5,536.4 35.5,538.9 36.5,540.4 38.0,541.4 40.5,541.4 41.5,539.4 43.0,538.4 44.5,538.9 46.0,537.4 47.5,534.4 48.5,532.9 49.5,531.4 50.5,532.4 51.5,536.4 52.5,538.9 53.5,540.4 55.0,541.4 63.0,541.4 64.0,540.4 67.0,540.4 68.0,541.4 76.0,541.4 77.5,538.4 79.0,535.9 80.5,535.4 82.0,537.4 83.5,539.9 85.0,541.4 88.0,541.4 89.5,539.4 91.5,538.4 93.5,538.9 95.5,539.9 97.0,541.4 97.0,541.4" fill="#e8202c"/>
<rect x="16.0" y="559.30" width="307.3" height="1" fill="#dcdce2"/>
<polygon points="16.0,559.8 36.0,559.8 37.0,558.3 39.0,558.3 40.0,559.8 44.0,559.8 45.0,558.3 48.0,557.8 50.0,558.3 52.0,558.3 53.0,559.8 69.0,559.8 70.0,558.3 72.0,557.3 74.0,557.8 76.0,557.3 77.0,556.3 78.5,558.8 79.0,559.8 102.0,559.8 103.0,557.8 104.0,559.8 115.5,559.8 116.5,556.8 118.0,554.8 119.5,555.8 121.0,557.8 122.5,559.8 137.0,559.8 138.0,558.3 139.5,559.8 150.0,559.8 151.0,558.8 155.0,558.8 156.0,559.8 156.0,559.8" fill="#e8202c"/>
<rect x="16.0" y="578.70" width="307.3" height="1" fill="#dcdce2"/>
<polygon points="16.0,579.2 44.0,579.2 45.0,577.2 47.0,577.7 49.0,577.2 51.0,577.7 53.0,579.2 58.0,579.2 59.0,578.2 62.0,579.2 66.0,579.2 67.0,577.2 69.0,576.7 72.0,576.2 74.0,575.2 76.0,575.7 78.0,576.7 80.0,576.7 81.5,579.2 95.0,579.2 96.0,576.7 98.0,575.7 100.0,576.7 102.0,575.2 104.0,577.2 105.0,579.2 118.5,579.2 119.5,576.7 121.0,575.7 122.5,577.2 124.0,579.2 133.5,579.2 134.5,577.2 136.5,577.2 138.5,579.2 138.5,579.2" fill="#e8202c"/>
<rect x="16.0" y="597.50" width="307.3" height="1" fill="#dcdce2"/>
<polygon points="16.0,598.0 60.0,598.0 61.0,597.5 62.0,598.0 103.0,598.0 104.0,597.4 110.0,597.4 113.0,597.2 114.5,595.5 117.0,595.0 120.0,594.8 122.0,595.0 124.5,594.0 127.0,593.5 130.0,593.7 133.0,593.0 135.0,592.5 137.0,591.5 138.5,590.5 140.0,591.5 142.0,592.5 144.0,593.0 146.0,592.0 148.0,591.2 150.0,591.5 152.0,590.5 154.0,591.5 156.0,591.2 158.0,592.0 160.0,592.5 162.0,593.5 164.0,594.0 166.0,594.5 168.0,595.5 170.0,596.0 173.0,596.2 175.5,596.5 178.0,597.0 181.0,597.4 184.0,597.7 188.0,597.5 192.0,597.7 196.0,597.4 198.5,598.0 198.5,598.0" fill="#e8202c"/>
<rect x="16.0" y="614.70" width="307.3" height="1" fill="#f2b4ba"/>
<rect x="22" y="614.6" width="2.2" height="1.1" fill="#e8202c" opacity="0.55"/>
<rect x="31" y="614.6" width="2.2" height="1.1" fill="#e8202c" opacity="0.55"/>
<rect x="40" y="614.6" width="2.2" height="1.1" fill="#e8202c" opacity="0.55"/>
<rect x="49" y="614.6" width="2.2" height="1.1" fill="#e8202c" opacity="0.55"/>
<rect x="58" y="614.6" width="2.2" height="1.1" fill="#e8202c" opacity="0.55"/>
<rect x="67" y="614.6" width="2.2" height="1.1" fill="#e8202c" opacity="0.55"/>
<rect x="76" y="614.6" width="2.2" height="1.1" fill="#e8202c" opacity="0.55"/>
<rect x="85" y="614.6" width="2.2" height="1.1" fill="#e8202c" opacity="0.55"/>
<rect x="94" y="614.6" width="2.2" height="1.1" fill="#e8202c" opacity="0.55"/>
<rect x="103" y="614.6" width="2.2" height="1.1" fill="#e8202c" opacity="0.55"/>
<rect x="112" y="614.6" width="2.2" height="1.1" fill="#e8202c" opacity="0.55"/>
<rect x="121" y="614.6" width="2.2" height="1.1" fill="#e8202c" opacity="0.55"/>
<rect x="130" y="614.6" width="2.2" height="1.1" fill="#e8202c" opacity="0.55"/>
<rect x="139" y="614.6" width="2.2" height="1.1" fill="#e8202c" opacity="0.55"/>
<rect x="148" y="614.6" width="2.2" height="1.1" fill="#e8202c" opacity="0.55"/>
<polygon points="156.0,615.7 156.0,615.2 160.0,614.4 165.0,614.0 170.0,614.4 175.0,613.8 180.0,614.2 185.0,613.7 190.0,614.3 195.0,613.9 200.0,613.6 205.0,614.2 210.0,613.8 215.0,614.1 220.0,613.5 225.0,614.1 230.0,613.7 235.0,614.2 240.0,613.8 245.0,614.1 250.0,613.4 255.0,614.0 260.0,613.6 265.0,614.1 270.0,613.5 275.0,614.0 280.0,613.7 285.0,614.1 290.0,613.6 295.0,614.0 300.0,613.4 305.0,613.9 310.0,613.5 315.0,613.9 320.0,613.4 323.3,613.7 323.3,615.7" fill="#e8202c"/>
<rect x="57.4" y="620.6" width="118" height="1.6" fill="#aeb0e6"/>
<rect x="35.2" y="620.4" width="22.2" height="2.4" fill="#2c3c9c"/>
<rect x="87.6" y="617.9" width="14.4" height="4.9" fill="#2c3c9c"/>
<rect x="128" y="617.9" width="10.4" height="4.9" fill="#2c3c9c"/>
<rect x="138" y="620.2" width="37.5" height="2.6" fill="#2c3c9c"/>
<rect x="65" y="620.6" width="1" height="1.8" fill="#2c3c9c"/>
<rect x="75" y="620.6" width="1" height="1.8" fill="#2c3c9c"/>
<rect x="82" y="620.6" width="1" height="1.8" fill="#2c3c9c"/>
<rect x="110" y="620.6" width="1" height="1.8" fill="#2c3c9c"/>
<rect x="118" y="620.6" width="1" height="1.8" fill="#2c3c9c"/>
<rect x="125" y="620.6" width="1" height="1.8" fill="#2c3c9c"/>
<rect x="237.2" y="627.5" width="22.8" height="1.8" fill="#1b5d98"/></svg>
<div style="position:absolute;top:394.29px;font-size:18.8px;line-height:18.8px;color:#111;font-weight:700;white-space:nowrap;left:14.20px;">F</div>
<div style="position:absolute;top:428.76px;font-size:11.8px;line-height:11.8px;color:#1b5d98;font-weight:400;white-space:nowrap;-webkit-text-stroke:0.2px #1b5d98;left:18.60px;width:300px;text-align:right;">ATAC EB</div>
<div style="position:absolute;top:423.78px;font-size:11.6px;line-height:11.6px;color:#111;font-weight:400;white-space:nowrap;-webkit-text-stroke:0.2px #111;left:15.00px;">30</div>
<div style="position:absolute;top:447.76px;font-size:11.8px;line-height:11.8px;color:#1b5d98;font-weight:400;white-space:nowrap;-webkit-text-stroke:0.2px #1b5d98;left:18.60px;width:300px;text-align:right;">Ser2 Pol II Day 7</div>
<div style="position:absolute;top:447.58px;font-size:11.6px;line-height:11.6px;color:#111;font-weight:400;white-space:nowrap;-webkit-text-stroke:0.2px #111;left:15.00px;">700</div>
<div style="position:absolute;top:468.51px;font-size:11.8px;line-height:11.8px;color:#1b5d98;font-weight:400;white-space:nowrap;-webkit-text-stroke:0.2px #1b5d98;left:18.60px;width:300px;text-align:right;">Ser5 Pol II Day 7</div>
<div style="position:absolute;top:465.78px;font-size:11.6px;line-height:11.6px;color:#111;font-weight:400;white-space:nowrap;-webkit-text-stroke:0.2px #111;left:15.00px;">700</div>
<div style="position:absolute;top:488.11px;font-size:11.8px;line-height:11.8px;color:#1b5d98;font-weight:400;white-space:nowrap;-webkit-text-stroke:0.2px #1b5d98;left:18.60px;width:300px;text-align:right;">H3K36me3 EB</div>
<div style="position:absolute;top:480.88px;font-size:11.6px;line-height:11.6px;color:#111;font-weight:400;white-space:nowrap;-webkit-text-stroke:0.2px #111;left:15.00px;">3</div>
<div style="position:absolute;top:505.71px;font-size:11.8px;line-height:11.8px;color:#1b5d98;font-weight:400;white-space:nowrap;-webkit-text-stroke:0.2px #1b5d98;left:18.60px;width:300px;text-align:right;">H3K27me3 EB</div>
<div style="position:absolute;top:501.93px;font-size:11.6px;line-height:11.6px;color:#111;font-weight:400;white-space:nowrap;-webkit-text-stroke:0.2px #111;left:15.00px;">3</div>
<div style="position:absolute;top:526.61px;font-size:11.8px;line-height:11.8px;color:#c5112f;font-weight:400;white-space:nowrap;-webkit-text-stroke:0.2px #c5112f;left:19.20px;width:300px;text-align:right;">ATAC <span style="letter-spacing:0.6px">Ortho</span></div>
<div style="position:absolute;top:523.18px;font-size:11.6px;line-height:11.6px;color:#111;font-weight:400;white-space:nowrap;-webkit-text-stroke:0.2px #111;left:15.00px;">30</div>
<div style="position:absolute;top:545.41px;font-size:11.8px;line-height:11.8px;color:#c5112f;font-weight:400;white-space:nowrap;-webkit-text-stroke:0.2px #c5112f;left:18.60px;width:300px;text-align:right;">Ser2 Pol II Day 10</div>
<div style="position:absolute;top:541.38px;font-size:11.6px;line-height:11.6px;color:#111;font-weight:400;white-space:nowrap;-webkit-text-stroke:0.2px #111;left:15.00px;">700</div>
<div style="position:absolute;top:564.81px;font-size:11.8px;line-height:11.8px;color:#c5112f;font-weight:400;white-space:nowrap;-webkit-text-stroke:0.2px #c5112f;left:18.60px;width:300px;text-align:right;">Ser5 Pol II Day 10</div>
<div style="position:absolute;top:560.28px;font-size:11.6px;line-height:11.6px;color:#111;font-weight:400;white-space:nowrap;-webkit-text-stroke:0.2px #111;left:15.00px;">3</div>
<div style="position:absolute;top:583.81px;font-size:11.8px;line-height:11.8px;color:#c5112f;font-weight:400;white-space:nowrap;-webkit-text-stroke:0.2px #c5112f;left:19.20px;width:300px;text-align:right;">H3K36me3 <span style="letter-spacing:0.6px">Ortho</span></div>
<div style="position:absolute;top:580.78px;font-size:11.6px;line-height:11.6px;color:#111;font-weight:400;white-space:nowrap;-webkit-text-stroke:0.2px #111;left:15.00px;">3</div>
<div style="position:absolute;top:599.71px;font-size:11.8px;line-height:11.8px;color:#c5112f;font-weight:400;white-space:nowrap;-webkit-text-stroke:0.2px #c5112f;left:19.20px;width:300px;text-align:right;">H3K27me3 <span style="letter-spacing:0.6px">Ortho</span></div>
<div style="position:absolute;top:617.29px;font-size:11px;line-height:11px;color:#111;font-weight:400;white-space:nowrap;-webkit-text-stroke:0.2px #111;left:14.50px;">5′</div>
<div style="position:absolute;top:618.39px;font-size:11px;line-height:11px;color:#111;font-weight:400;white-space:nowrap;-webkit-text-stroke:0.2px #111;left:189.20px;">3′</div>
<div style="position:absolute;top:631.87px;font-size:11.5px;line-height:11.5px;color:#111;font-weight:400;white-space:nowrap;-webkit-text-stroke:0.2px #111;left:100.30px;">MYC</div>
<div style="position:absolute;top:630.77px;font-size:11.5px;line-height:11.5px;color:#111;font-weight:400;white-space:nowrap;-webkit-text-stroke:0.2px #111;left:238.00px;">1 kb</div>
<div style="position:absolute;left:0;top:0;width:520px;height:656px;box-sizing:border-box;border:2px solid #1d1b19;pointer-events:none"></div>
</div></body></html>
